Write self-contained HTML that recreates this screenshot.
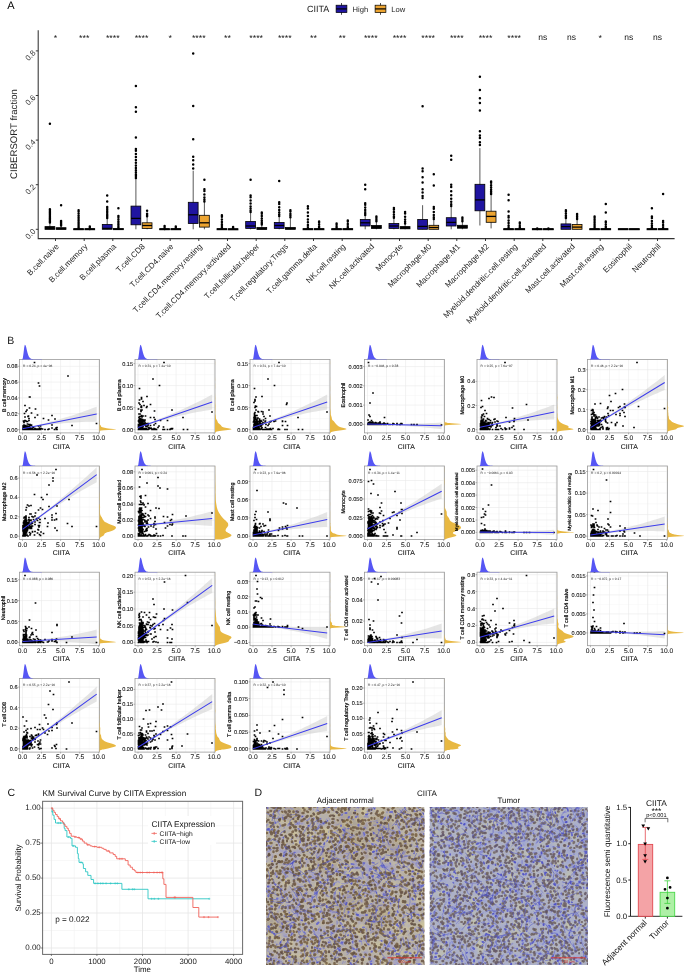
<!DOCTYPE html><html><head><meta charset="utf-8"><style>html,body{margin:0;padding:0;background:#fff;width:685px;height:974px;overflow:hidden}svg{display:block;will-change:transform}text{font-family:"Liberation Sans",sans-serif;text-rendering:geometricPrecision}</style></head><body><svg width="685" height="974" viewBox="0 0 685 974"><rect width="685" height="974" fill="#fff"/><text x="7.2" y="8.8" font-size="11" fill="#000">A</text><text x="307" y="12" font-size="9" fill="#222">CIITA</text><line x1="341.5" y1="3" x2="341.5" y2="14.8" stroke="#000" stroke-width="0.7"/><rect x="336.1" y="5.2" width="10.8" height="7.4" fill="#1f14a0" stroke="#000" stroke-width="0.7"/><line x1="336.1" y1="8.9" x2="346.90000000000003" y2="8.9" stroke="#000" stroke-width="1.2"/><line x1="380.5" y1="3" x2="380.5" y2="14.8" stroke="#000" stroke-width="0.7"/><rect x="375.1" y="5.2" width="10.8" height="7.4" fill="#eca431" stroke="#000" stroke-width="0.7"/><line x1="375.1" y1="8.9" x2="385.90000000000003" y2="8.9" stroke="#000" stroke-width="1.2"/><text x="352.6" y="11.6" font-size="7.6" fill="#222">High</text><text x="391.3" y="11.6" font-size="7.6" fill="#222">Low</text><path d="M38.2 30.3V238.6H674.6" fill="none" stroke="#333" stroke-width="1.05"/><line x1="35.8" y1="229.3" x2="38.2" y2="229.3" stroke="#222" stroke-width="0.9"/><text transform="translate(36.2,231.9) rotate(-45)" text-anchor="end" font-size="7.9" fill="#333">0.0</text><line x1="35.8" y1="184.7" x2="38.2" y2="184.7" stroke="#222" stroke-width="0.9"/><text transform="translate(36.2,187.3) rotate(-45)" text-anchor="end" font-size="7.9" fill="#333">0.2</text><line x1="35.8" y1="140.1" x2="38.2" y2="140.1" stroke="#222" stroke-width="0.9"/><text transform="translate(36.2,142.7) rotate(-45)" text-anchor="end" font-size="7.9" fill="#333">0.4</text><line x1="35.8" y1="95.5" x2="38.2" y2="95.5" stroke="#222" stroke-width="0.9"/><text transform="translate(36.2,98.1) rotate(-45)" text-anchor="end" font-size="7.9" fill="#333">0.6</text><line x1="35.8" y1="50.9" x2="38.2" y2="50.9" stroke="#222" stroke-width="0.9"/><text transform="translate(36.2,53.5) rotate(-45)" text-anchor="end" font-size="7.9" fill="#333">0.8</text><text transform="translate(17.2,134) rotate(-90)" text-anchor="middle" font-size="9.6" fill="#222">CIBERSORT fraction</text><line x1="55.5" y1="238.6" x2="55.5" y2="241" stroke="#222" stroke-width="0.9"/><text transform="translate(59.3,247) rotate(-45)" text-anchor="end" font-size="8.05" fill="#222">B.cell.naive</text><text x="55.5" y="40.8" text-anchor="middle" font-size="8.8" fill="#111">*</text><line x1="49.9" y1="222.6" x2="49.9" y2="229.3" stroke="#111" stroke-width="0.7"/><rect x="45.0" y="226.6" width="9.8" height="2.7" fill="#000" stroke="#000" stroke-width="0.8"/><line x1="45.0" y1="228.6" x2="54.8" y2="228.6" stroke="#000" stroke-width="1.3"/><line x1="61.1" y1="225.5" x2="61.1" y2="229.3" stroke="#111" stroke-width="0.7"/><rect x="56.2" y="227.7" width="9.8" height="1.6" fill="#000" stroke="#000" stroke-width="0.8"/><line x1="56.2" y1="228.9" x2="66.0" y2="228.9" stroke="#000" stroke-width="1.3"/><line x1="84.2" y1="238.6" x2="84.2" y2="241" stroke="#222" stroke-width="0.9"/><text transform="translate(88.0,247) rotate(-45)" text-anchor="end" font-size="8.05" fill="#222">B.cell.memory</text><text x="84.2" y="40.8" text-anchor="middle" font-size="8.8" fill="#111">***</text><line x1="78.6" y1="228.9" x2="78.6" y2="229.3" stroke="#111" stroke-width="0.7"/><rect x="73.7" y="228.6" width="9.8" height="1.2" fill="#000" stroke="#000" stroke-width="0.8"/><line x1="73.7" y1="229.3" x2="83.5" y2="229.3" stroke="#000" stroke-width="1.3"/><line x1="89.8" y1="229.1" x2="89.8" y2="229.3" stroke="#111" stroke-width="0.7"/><rect x="84.9" y="228.6" width="9.8" height="1.2" fill="#000" stroke="#000" stroke-width="0.8"/><line x1="84.9" y1="229.3" x2="94.7" y2="229.3" stroke="#000" stroke-width="1.3"/><line x1="112.8" y1="238.6" x2="112.8" y2="241" stroke="#222" stroke-width="0.9"/><text transform="translate(116.6,247) rotate(-45)" text-anchor="end" font-size="8.05" fill="#222">B.cell.plasma</text><text x="112.8" y="40.8" text-anchor="middle" font-size="8.8" fill="#111">****</text><line x1="107.2" y1="218.2" x2="107.2" y2="229.3" stroke="#111" stroke-width="0.7"/><rect x="102.3" y="224.4" width="9.8" height="4.9" fill="#1f14a0" stroke="#000" stroke-width="0.8"/><line x1="102.3" y1="228.4" x2="112.1" y2="228.4" stroke="#000" stroke-width="1.3"/><line x1="118.4" y1="228.2" x2="118.4" y2="229.3" stroke="#111" stroke-width="0.7"/><rect x="113.5" y="228.5" width="9.8" height="1.2" fill="#000" stroke="#000" stroke-width="0.8"/><line x1="113.5" y1="229.3" x2="123.3" y2="229.3" stroke="#000" stroke-width="1.3"/><line x1="141.5" y1="238.6" x2="141.5" y2="241" stroke="#222" stroke-width="0.9"/><text transform="translate(145.3,247) rotate(-45)" text-anchor="end" font-size="8.05" fill="#222">T.cell.CD8</text><text x="141.5" y="40.8" text-anchor="middle" font-size="8.8" fill="#111">****</text><line x1="135.9" y1="178.2" x2="135.9" y2="229.3" stroke="#111" stroke-width="0.7"/><rect x="131.0" y="206.1" width="9.8" height="18.7" fill="#1f14a0" stroke="#000" stroke-width="0.8"/><line x1="131.0" y1="218.4" x2="140.8" y2="218.4" stroke="#000" stroke-width="1.3"/><line x1="147.1" y1="216.4" x2="147.1" y2="229.3" stroke="#111" stroke-width="0.7"/><rect x="142.2" y="222.8" width="9.8" height="5.6" fill="#eca431" stroke="#000" stroke-width="0.8"/><line x1="142.2" y1="225.5" x2="152.0" y2="225.5" stroke="#000" stroke-width="1.3"/><line x1="170.2" y1="238.6" x2="170.2" y2="241" stroke="#222" stroke-width="0.9"/><text transform="translate(174.0,247) rotate(-45)" text-anchor="end" font-size="8.05" fill="#222">T.cell.CD4.naive</text><text x="170.2" y="40.8" text-anchor="middle" font-size="8.8" fill="#111">*</text><line x1="164.6" y1="229.1" x2="164.6" y2="229.3" stroke="#111" stroke-width="0.7"/><rect x="159.7" y="228.6" width="9.8" height="1.2" fill="#000" stroke="#000" stroke-width="0.8"/><line x1="159.7" y1="229.3" x2="169.5" y2="229.3" stroke="#000" stroke-width="1.3"/><line x1="175.8" y1="229.1" x2="175.8" y2="229.3" stroke="#111" stroke-width="0.7"/><rect x="170.9" y="228.6" width="9.8" height="1.2" fill="#000" stroke="#000" stroke-width="0.8"/><line x1="170.9" y1="229.3" x2="180.7" y2="229.3" stroke="#000" stroke-width="1.3"/><line x1="198.8" y1="238.6" x2="198.8" y2="241" stroke="#222" stroke-width="0.9"/><text transform="translate(202.6,247) rotate(-45)" text-anchor="end" font-size="8.05" fill="#222">T.cell.CD4.memory.resting</text><text x="198.8" y="40.8" text-anchor="middle" font-size="8.8" fill="#111">****</text><line x1="193.2" y1="170.7" x2="193.2" y2="229.3" stroke="#111" stroke-width="0.7"/><rect x="188.3" y="202.3" width="9.8" height="21.2" fill="#1f14a0" stroke="#000" stroke-width="0.8"/><line x1="188.3" y1="214.8" x2="198.1" y2="214.8" stroke="#000" stroke-width="1.3"/><line x1="204.4" y1="201.9" x2="204.4" y2="229.3" stroke="#111" stroke-width="0.7"/><rect x="199.5" y="215.3" width="9.8" height="11.8" fill="#eca431" stroke="#000" stroke-width="0.8"/><line x1="199.5" y1="222.8" x2="209.3" y2="222.8" stroke="#000" stroke-width="1.3"/><line x1="227.5" y1="238.6" x2="227.5" y2="241" stroke="#222" stroke-width="0.9"/><text transform="translate(231.3,247) rotate(-45)" text-anchor="end" font-size="8.05" fill="#222">T.cell.CD4.memory.activated</text><text x="227.5" y="40.8" text-anchor="middle" font-size="8.8" fill="#111">**</text><line x1="221.9" y1="229.1" x2="221.9" y2="229.3" stroke="#111" stroke-width="0.7"/><rect x="217.0" y="228.6" width="9.8" height="1.2" fill="#000" stroke="#000" stroke-width="0.8"/><line x1="217.0" y1="229.3" x2="226.8" y2="229.3" stroke="#000" stroke-width="1.3"/><line x1="233.1" y1="229.1" x2="233.1" y2="229.3" stroke="#111" stroke-width="0.7"/><rect x="228.2" y="228.7" width="9.8" height="1.2" fill="#000" stroke="#000" stroke-width="0.8"/><line x1="228.2" y1="229.3" x2="238.0" y2="229.3" stroke="#000" stroke-width="1.3"/><line x1="256.2" y1="238.6" x2="256.2" y2="241" stroke="#222" stroke-width="0.9"/><text transform="translate(260.0,247) rotate(-45)" text-anchor="end" font-size="8.05" fill="#222">T.cell.follicular.helper</text><text x="256.2" y="40.8" text-anchor="middle" font-size="8.8" fill="#111">****</text><line x1="250.6" y1="212.4" x2="250.6" y2="229.3" stroke="#111" stroke-width="0.7"/><rect x="245.7" y="221.5" width="9.8" height="6.9" fill="#1f14a0" stroke="#000" stroke-width="0.8"/><line x1="245.7" y1="226.0" x2="255.5" y2="226.0" stroke="#000" stroke-width="1.3"/><line x1="261.8" y1="224.8" x2="261.8" y2="229.3" stroke="#111" stroke-width="0.7"/><rect x="256.9" y="227.5" width="9.8" height="1.8" fill="#000" stroke="#000" stroke-width="0.8"/><line x1="256.9" y1="228.9" x2="266.7" y2="228.9" stroke="#000" stroke-width="1.3"/><line x1="284.8" y1="238.6" x2="284.8" y2="241" stroke="#222" stroke-width="0.9"/><text transform="translate(288.6,247) rotate(-45)" text-anchor="end" font-size="8.05" fill="#222">T.cell.regulatory.Tregs</text><text x="284.8" y="40.8" text-anchor="middle" font-size="8.8" fill="#111">****</text><line x1="279.2" y1="216.4" x2="279.2" y2="229.3" stroke="#111" stroke-width="0.7"/><rect x="274.3" y="222.4" width="9.8" height="6.0" fill="#1f14a0" stroke="#000" stroke-width="0.8"/><line x1="274.3" y1="225.5" x2="284.1" y2="225.5" stroke="#000" stroke-width="1.3"/><line x1="290.4" y1="217.5" x2="290.4" y2="229.3" stroke="#111" stroke-width="0.7"/><rect x="285.5" y="227.5" width="9.8" height="1.8" fill="#000" stroke="#000" stroke-width="0.8"/><line x1="285.5" y1="228.6" x2="295.3" y2="228.6" stroke="#000" stroke-width="1.3"/><line x1="313.5" y1="238.6" x2="313.5" y2="241" stroke="#222" stroke-width="0.9"/><text transform="translate(317.3,247) rotate(-45)" text-anchor="end" font-size="8.05" fill="#222">T.cell.gamma.delta</text><text x="313.5" y="40.8" text-anchor="middle" font-size="8.8" fill="#111">**</text><line x1="307.9" y1="228.9" x2="307.9" y2="229.3" stroke="#111" stroke-width="0.7"/><rect x="303.0" y="228.6" width="9.8" height="1.2" fill="#000" stroke="#000" stroke-width="0.8"/><line x1="303.0" y1="229.3" x2="312.8" y2="229.3" stroke="#000" stroke-width="1.3"/><line x1="319.1" y1="229.1" x2="319.1" y2="229.3" stroke="#111" stroke-width="0.7"/><rect x="314.2" y="228.6" width="9.8" height="1.2" fill="#000" stroke="#000" stroke-width="0.8"/><line x1="314.2" y1="229.3" x2="324.0" y2="229.3" stroke="#000" stroke-width="1.3"/><line x1="342.2" y1="238.6" x2="342.2" y2="241" stroke="#222" stroke-width="0.9"/><text transform="translate(346.0,247) rotate(-45)" text-anchor="end" font-size="8.05" fill="#222">NK.cell.resting</text><text x="342.2" y="40.8" text-anchor="middle" font-size="8.8" fill="#111">**</text><line x1="336.6" y1="228.9" x2="336.6" y2="229.3" stroke="#111" stroke-width="0.7"/><rect x="331.7" y="228.6" width="9.8" height="1.2" fill="#000" stroke="#000" stroke-width="0.8"/><line x1="331.7" y1="229.3" x2="341.5" y2="229.3" stroke="#000" stroke-width="1.3"/><line x1="347.8" y1="228.9" x2="347.8" y2="229.3" stroke="#111" stroke-width="0.7"/><rect x="342.9" y="228.6" width="9.8" height="1.2" fill="#000" stroke="#000" stroke-width="0.8"/><line x1="342.9" y1="229.3" x2="352.7" y2="229.3" stroke="#000" stroke-width="1.3"/><line x1="370.8" y1="238.6" x2="370.8" y2="241" stroke="#222" stroke-width="0.9"/><text transform="translate(374.6,247) rotate(-45)" text-anchor="end" font-size="8.05" fill="#222">NK.cell.activated</text><text x="370.8" y="40.8" text-anchor="middle" font-size="8.8" fill="#111">****</text><line x1="365.2" y1="215.3" x2="365.2" y2="229.3" stroke="#111" stroke-width="0.7"/><rect x="360.3" y="219.5" width="9.8" height="6.5" fill="#1f14a0" stroke="#000" stroke-width="0.8"/><line x1="360.3" y1="222.8" x2="370.1" y2="222.8" stroke="#000" stroke-width="1.3"/><line x1="376.4" y1="221.5" x2="376.4" y2="229.3" stroke="#111" stroke-width="0.7"/><rect x="371.5" y="225.5" width="9.8" height="2.9" fill="#000" stroke="#000" stroke-width="0.8"/><line x1="371.5" y1="227.5" x2="381.3" y2="227.5" stroke="#000" stroke-width="1.3"/><line x1="399.5" y1="238.6" x2="399.5" y2="241" stroke="#222" stroke-width="0.9"/><text transform="translate(403.3,247) rotate(-45)" text-anchor="end" font-size="8.05" fill="#222">Monocyte</text><text x="399.5" y="40.8" text-anchor="middle" font-size="8.8" fill="#111">****</text><line x1="393.9" y1="218.2" x2="393.9" y2="229.3" stroke="#111" stroke-width="0.7"/><rect x="389.0" y="223.5" width="9.8" height="4.9" fill="#1f14a0" stroke="#000" stroke-width="0.8"/><line x1="389.0" y1="226.0" x2="398.8" y2="226.0" stroke="#000" stroke-width="1.3"/><line x1="405.1" y1="223.7" x2="405.1" y2="229.3" stroke="#111" stroke-width="0.7"/><rect x="400.2" y="226.6" width="9.8" height="2.2" fill="#000" stroke="#000" stroke-width="0.8"/><line x1="400.2" y1="228.0" x2="410.0" y2="228.0" stroke="#000" stroke-width="1.3"/><line x1="428.2" y1="238.6" x2="428.2" y2="241" stroke="#222" stroke-width="0.9"/><text transform="translate(432.0,247) rotate(-45)" text-anchor="end" font-size="8.05" fill="#222">Macrophage.M0</text><text x="428.2" y="40.8" text-anchor="middle" font-size="8.8" fill="#111">****</text><line x1="422.6" y1="205.2" x2="422.6" y2="229.3" stroke="#111" stroke-width="0.7"/><rect x="417.7" y="219.5" width="9.8" height="9.8" fill="#1f14a0" stroke="#000" stroke-width="0.8"/><line x1="417.7" y1="226.4" x2="427.5" y2="226.4" stroke="#000" stroke-width="1.3"/><line x1="433.8" y1="219.3" x2="433.8" y2="229.3" stroke="#111" stroke-width="0.7"/><rect x="428.9" y="225.3" width="9.8" height="4.0" fill="#eca431" stroke="#000" stroke-width="0.8"/><line x1="428.9" y1="227.5" x2="438.7" y2="227.5" stroke="#000" stroke-width="1.3"/><line x1="456.8" y1="238.6" x2="456.8" y2="241" stroke="#222" stroke-width="0.9"/><text transform="translate(460.6,247) rotate(-45)" text-anchor="end" font-size="8.05" fill="#222">Macrophage.M1</text><text x="456.8" y="40.8" text-anchor="middle" font-size="8.8" fill="#111">****</text><line x1="451.2" y1="206.3" x2="451.2" y2="229.3" stroke="#111" stroke-width="0.7"/><rect x="446.3" y="217.7" width="9.8" height="8.3" fill="#1f14a0" stroke="#000" stroke-width="0.8"/><line x1="446.3" y1="222.4" x2="456.1" y2="222.4" stroke="#000" stroke-width="1.3"/><line x1="462.4" y1="221.5" x2="462.4" y2="229.3" stroke="#111" stroke-width="0.7"/><rect x="457.5" y="225.3" width="9.8" height="2.9" fill="#000" stroke="#000" stroke-width="0.8"/><line x1="457.5" y1="227.1" x2="467.3" y2="227.1" stroke="#000" stroke-width="1.3"/><line x1="485.5" y1="238.6" x2="485.5" y2="241" stroke="#222" stroke-width="0.9"/><text transform="translate(489.3,247) rotate(-45)" text-anchor="end" font-size="8.05" fill="#222">Macrophage.M2</text><text x="485.5" y="40.8" text-anchor="middle" font-size="8.8" fill="#111">****</text><line x1="479.9" y1="148.1" x2="479.9" y2="225.5" stroke="#111" stroke-width="0.7"/><rect x="475.0" y="184.3" width="9.8" height="26.5" fill="#1f14a0" stroke="#000" stroke-width="0.8"/><line x1="475.0" y1="199.9" x2="484.8" y2="199.9" stroke="#000" stroke-width="1.3"/><line x1="491.1" y1="194.3" x2="491.1" y2="228.4" stroke="#111" stroke-width="0.7"/><rect x="486.2" y="211.2" width="9.8" height="11.1" fill="#eca431" stroke="#000" stroke-width="0.8"/><line x1="486.2" y1="216.4" x2="496.0" y2="216.4" stroke="#000" stroke-width="1.3"/><line x1="514.2" y1="238.6" x2="514.2" y2="241" stroke="#222" stroke-width="0.9"/><text transform="translate(518.0,247) rotate(-45)" text-anchor="end" font-size="8.05" fill="#222">Myeloid.dendritic.cell.resting</text><text x="514.2" y="40.8" text-anchor="middle" font-size="8.8" fill="#111">****</text><line x1="508.6" y1="228.9" x2="508.6" y2="229.3" stroke="#111" stroke-width="0.7"/><rect x="503.7" y="228.6" width="9.8" height="1.2" fill="#000" stroke="#000" stroke-width="0.8"/><line x1="503.7" y1="229.3" x2="513.5" y2="229.3" stroke="#000" stroke-width="1.3"/><line x1="519.8" y1="229.1" x2="519.8" y2="229.3" stroke="#111" stroke-width="0.7"/><rect x="514.9" y="228.6" width="9.8" height="1.2" fill="#000" stroke="#000" stroke-width="0.8"/><line x1="514.9" y1="229.3" x2="524.7" y2="229.3" stroke="#000" stroke-width="1.3"/><line x1="542.8" y1="238.6" x2="542.8" y2="241" stroke="#222" stroke-width="0.9"/><text transform="translate(546.6,247) rotate(-45)" text-anchor="end" font-size="8.05" fill="#222">Myeloid.dendritic.cell.activated</text><text x="542.8" y="39.9" text-anchor="middle" font-size="8.5" fill="#111">ns</text><line x1="537.2" y1="229.1" x2="537.2" y2="229.3" stroke="#111" stroke-width="0.7"/><rect x="532.3" y="228.6" width="9.8" height="1.2" fill="#000" stroke="#000" stroke-width="0.8"/><line x1="532.3" y1="229.3" x2="542.1" y2="229.3" stroke="#000" stroke-width="1.3"/><line x1="548.4" y1="229.1" x2="548.4" y2="229.3" stroke="#111" stroke-width="0.7"/><rect x="543.5" y="228.6" width="9.8" height="1.2" fill="#000" stroke="#000" stroke-width="0.8"/><line x1="543.5" y1="229.3" x2="553.3" y2="229.3" stroke="#000" stroke-width="1.3"/><line x1="571.5" y1="238.6" x2="571.5" y2="241" stroke="#222" stroke-width="0.9"/><text transform="translate(575.3,247) rotate(-45)" text-anchor="end" font-size="8.05" fill="#222">Mast.cell.activated</text><text x="571.5" y="39.9" text-anchor="middle" font-size="8.5" fill="#111">ns</text><line x1="565.9" y1="218.2" x2="565.9" y2="229.3" stroke="#111" stroke-width="0.7"/><rect x="561.0" y="223.9" width="9.8" height="5.4" fill="#1f14a0" stroke="#000" stroke-width="0.8"/><line x1="561.0" y1="226.6" x2="570.8" y2="226.6" stroke="#000" stroke-width="1.3"/><line x1="577.1" y1="219.3" x2="577.1" y2="229.3" stroke="#111" stroke-width="0.7"/><rect x="572.2" y="224.4" width="9.8" height="4.9" fill="#eca431" stroke="#000" stroke-width="0.8"/><line x1="572.2" y1="227.1" x2="582.0" y2="227.1" stroke="#000" stroke-width="1.3"/><line x1="600.2" y1="238.6" x2="600.2" y2="241" stroke="#222" stroke-width="0.9"/><text transform="translate(604.0,247) rotate(-45)" text-anchor="end" font-size="8.05" fill="#222">Mast.cell.resting</text><text x="600.2" y="40.8" text-anchor="middle" font-size="8.8" fill="#111">*</text><line x1="594.6" y1="228.6" x2="594.6" y2="229.3" stroke="#111" stroke-width="0.7"/><rect x="589.7" y="228.6" width="9.8" height="1.2" fill="#000" stroke="#000" stroke-width="0.8"/><line x1="589.7" y1="229.3" x2="599.5" y2="229.3" stroke="#000" stroke-width="1.3"/><line x1="605.8" y1="229.1" x2="605.8" y2="229.3" stroke="#111" stroke-width="0.7"/><rect x="600.9" y="228.6" width="9.8" height="1.2" fill="#000" stroke="#000" stroke-width="0.8"/><line x1="600.9" y1="229.3" x2="610.7" y2="229.3" stroke="#000" stroke-width="1.3"/><line x1="628.8" y1="238.6" x2="628.8" y2="241" stroke="#222" stroke-width="0.9"/><text transform="translate(632.6,247) rotate(-45)" text-anchor="end" font-size="8.05" fill="#222">Eosinophil</text><text x="628.8" y="39.9" text-anchor="middle" font-size="8.5" fill="#111">ns</text><line x1="623.2" y1="229.1" x2="623.2" y2="229.3" stroke="#111" stroke-width="0.7"/><rect x="618.3" y="228.6" width="9.8" height="1.2" fill="#000" stroke="#000" stroke-width="0.8"/><line x1="618.3" y1="229.3" x2="628.1" y2="229.3" stroke="#000" stroke-width="1.3"/><line x1="634.4" y1="229.1" x2="634.4" y2="229.3" stroke="#111" stroke-width="0.7"/><rect x="629.5" y="228.6" width="9.8" height="1.2" fill="#000" stroke="#000" stroke-width="0.8"/><line x1="629.5" y1="229.3" x2="639.3" y2="229.3" stroke="#000" stroke-width="1.3"/><line x1="657.5" y1="238.6" x2="657.5" y2="241" stroke="#222" stroke-width="0.9"/><text transform="translate(661.3,247) rotate(-45)" text-anchor="end" font-size="8.05" fill="#222">Neutrophil</text><text x="657.5" y="39.9" text-anchor="middle" font-size="8.5" fill="#111">ns</text><line x1="651.9" y1="228.9" x2="651.9" y2="229.3" stroke="#111" stroke-width="0.7"/><rect x="647.0" y="228.6" width="9.8" height="1.2" fill="#000" stroke="#000" stroke-width="0.8"/><line x1="647.0" y1="229.3" x2="656.8" y2="229.3" stroke="#000" stroke-width="1.3"/><line x1="663.1" y1="228.9" x2="663.1" y2="229.3" stroke="#111" stroke-width="0.7"/><rect x="658.2" y="228.6" width="9.8" height="1.2" fill="#000" stroke="#000" stroke-width="0.8"/><line x1="658.2" y1="229.3" x2="668.0" y2="229.3" stroke="#000" stroke-width="1.3"/><path d="M49.9 123.8h0M49.9 222.5h0M49.9 222.2h0M49.9 221.7h0M49.9 221.1h0M49.9 220.4h0M49.9 219.6h0M49.9 218.8h0M49.9 217.9h0M49.9 216.9h0M49.9 215.9h0M49.9 214.8h0M49.9 213.6h0M49.9 212.4h0M49.9 211.2h0M49.9 209.9h0M49.9 209.2h0M61.1 205.2h0M61.1 225.4h0M61.1 225.0h0M61.1 224.3h0M61.1 223.5h0M61.1 222.6h0M61.1 221.6h0M61.1 221.0h0M78.6 228.7h0M78.6 228.1h0M78.6 227.3h0M78.6 226.3h0M78.6 225.1h0M78.6 223.8h0M78.6 222.3h0M78.6 220.7h0M78.6 219.1h0M78.6 217.3h0M78.6 215.4h0M78.6 213.5h0M78.6 211.4h0M78.6 210.3h0M89.8 228.9h0M89.8 228.1h0M89.8 227.0h0M89.8 226.4h0M107.2 201.4h0M107.2 195.4h0M107.2 218.0h0M107.2 217.4h0M107.2 216.5h0M107.2 215.4h0M107.2 214.2h0M107.2 212.8h0M107.2 211.3h0M107.2 209.7h0M107.2 207.9h0M107.2 207.0h0M118.4 208.3h0M118.4 228.0h0M118.4 227.2h0M118.4 226.0h0M118.4 224.6h0M118.4 223.0h0M118.4 221.2h0M118.4 219.2h0M118.4 217.1h0M118.4 215.9h0M135.9 137.4h0M135.9 111.8h0M135.9 107.3h0M135.9 86.1h0M135.9 178.0h0M135.9 177.1h0M135.9 175.8h0M135.9 174.2h0M135.9 172.3h0M135.9 170.2h0M135.9 167.9h0M135.9 165.4h0M135.9 162.8h0M135.9 160.0h0M135.9 157.0h0M135.9 153.9h0M135.9 150.7h0M135.9 149.0h0M147.1 210.8h0M147.1 216.2h0M147.1 215.4h0M147.1 214.3h0M147.1 213.7h0M164.6 228.9h0M164.6 228.0h0M164.6 226.7h0M164.6 226.0h0M175.8 228.8h0M175.8 227.5h0M175.8 226.6h0M193.2 168.6h0M193.2 164.6h0M193.2 160.2h0M193.2 156.8h0M193.2 139.2h0M193.2 106.0h0M193.2 53.6h0M204.4 179.8h0M204.4 201.5h0M204.4 199.8h0M204.4 197.4h0M204.4 194.4h0M204.4 191.0h0M204.4 189.2h0M221.9 228.8h0M221.9 227.7h0M221.9 226.1h0M221.9 224.2h0M221.9 222.0h0M221.9 219.4h0M221.9 216.7h0M221.9 215.3h0M233.1 228.8h0M233.1 227.8h0M233.1 227.1h0M250.6 179.8h0M250.6 212.0h0M250.6 210.7h0M250.6 208.7h0M250.6 206.4h0M250.6 203.6h0M250.6 200.5h0M250.6 197.2h0M250.6 195.4h0M261.8 224.6h0M261.8 223.6h0M261.8 222.2h0M261.8 220.4h0M261.8 218.4h0M261.8 216.1h0M261.8 213.7h0M261.8 212.4h0M279.2 180.9h0M279.2 216.0h0M279.2 214.6h0M279.2 212.6h0M279.2 210.1h0M279.2 207.2h0M279.2 204.0h0M279.2 202.3h0M290.4 217.2h0M290.4 215.8h0M290.4 214.0h0M290.4 211.6h0M290.4 210.3h0M307.9 228.5h0M307.9 227.0h0M307.9 224.9h0M307.9 222.3h0M307.9 219.4h0M307.9 216.0h0M307.9 212.4h0M307.9 208.4h0M307.9 206.3h0M319.1 228.8h0M319.1 227.8h0M319.1 226.4h0M319.1 224.6h0M319.1 222.6h0M319.1 221.5h0M336.6 228.6h0M336.6 227.6h0M336.6 226.2h0M336.6 224.5h0M336.6 223.5h0M347.8 228.6h0M347.8 227.5h0M347.8 225.9h0M347.8 223.9h0M347.8 221.6h0M347.8 220.4h0M365.2 189.2h0M365.2 184.7h0M365.2 215.0h0M365.2 213.7h0M365.2 212.0h0M365.2 209.9h0M365.2 207.4h0M365.2 204.7h0M365.2 203.2h0M376.4 221.3h0M376.4 220.3h0M376.4 219.0h0M376.4 217.3h0M376.4 216.4h0M393.9 217.8h0M393.9 216.5h0M393.9 214.5h0M393.9 212.1h0M393.9 209.4h0M393.9 207.9h0M405.1 223.4h0M405.1 221.8h0M405.1 219.5h0M405.1 216.8h0M405.1 213.6h0M405.1 211.9h0M422.6 198.1h0M422.6 195.9h0M422.6 192.5h0M422.6 189.2h0M422.6 182.5h0M422.6 177.3h0M422.6 171.3h0M422.6 168.4h0M422.6 106.2h0M433.8 185.4h0M433.8 174.2h0M433.8 218.9h0M433.8 217.2h0M433.8 214.9h0M433.8 212.1h0M433.8 208.8h0M433.8 207.0h0M451.2 159.7h0M451.2 155.7h0M451.2 205.9h0M451.2 204.2h0M451.2 201.7h0M451.2 198.7h0M451.2 195.2h0M451.2 191.3h0M451.2 187.0h0M451.2 184.7h0M462.4 221.2h0M462.4 220.1h0M462.4 218.4h0M462.4 217.5h0M479.9 145.0h0M479.9 142.3h0M479.9 137.9h0M479.9 135.6h0M479.9 131.2h0M479.9 110.4h0M479.9 103.1h0M479.9 98.2h0M479.9 90.1h0M479.9 76.8h0M491.1 194.0h0M491.1 193.0h0M491.1 191.5h0M491.1 189.7h0M491.1 187.6h0M491.1 185.3h0M491.1 182.7h0M491.1 181.4h0M508.6 211.5h0M508.6 200.3h0M508.6 194.7h0M508.6 228.5h0M508.6 227.2h0M508.6 225.4h0M508.6 223.1h0M508.6 220.5h0M508.6 217.5h0M508.6 215.9h0M519.8 228.8h0M519.8 227.6h0M519.8 225.9h0M519.8 223.8h0M519.8 222.6h0M537.2 229.0h0M537.2 228.6h0M537.2 228.4h0M548.4 229.0h0M548.4 228.6h0M548.4 228.4h0M565.9 217.9h0M565.9 216.9h0M565.9 215.4h0M565.9 213.6h0M565.9 211.5h0M565.9 210.3h0M577.1 219.0h0M577.1 218.0h0M577.1 216.6h0M577.1 214.9h0M577.1 213.9h0M594.6 228.5h0M594.6 227.8h0M594.6 226.8h0M594.6 225.7h0M594.6 224.3h0M594.6 222.8h0M594.6 221.1h0M594.6 219.3h0M594.6 217.4h0M594.6 216.4h0M605.8 212.4h0M605.8 203.9h0M605.8 228.8h0M605.8 227.8h0M605.8 226.4h0M605.8 224.6h0M605.8 222.6h0M605.8 221.5h0M651.9 208.3h0M651.9 228.6h0M651.9 227.3h0M651.9 225.6h0M651.9 223.4h0M651.9 220.9h0M651.9 218.1h0M651.9 216.6h0M663.1 194.1h0M663.1 228.5h0M663.1 227.1h0M663.1 225.0h0M663.1 222.5h0M663.1 221.0h0" stroke="#000" stroke-width="2.5" stroke-linecap="round"/><text x="7.3" y="344" font-size="10.5" fill="#111">B</text><rect x="19.5" y="359.4" width="80.0" height="73.5" fill="#fff"/><path d="M32.0 359.4V432.9M51.1 359.4V432.9M70.1 359.4V432.9M89.2 359.4V432.9M19.5 421.7H99.5M19.5 405.8H99.5M19.5 390.0H99.5M19.5 374.2H99.5" stroke="#f4f4f4" stroke-width="0.5"/><path d="M22.5 359.4V432.9M41.5 359.4V432.9M60.6 359.4V432.9M79.7 359.4V432.9M98.7 359.4V432.9M19.5 429.6H99.5M19.5 413.7H99.5M19.5 397.9H99.5M19.5 382.1H99.5M19.5 366.3H99.5" stroke="#e9e9e9" stroke-width="0.6"/><path d="M22.5 427.9L26.2 427.2L29.9 426.5L33.6 425.7L37.3 424.9L41.0 424.1L44.7 423.2L48.4 422.2L52.2 421.3L55.9 420.3L59.6 419.2L63.3 418.1L67.0 417.0L70.7 415.9L74.4 414.7L78.1 413.4L81.8 412.2L85.5 410.8L89.3 409.5L93.0 408.1L96.7 406.7L96.7 421.6L93.0 421.7L89.3 421.7L85.5 421.8L81.8 422.0L78.1 422.2L74.4 422.4L70.7 422.7L67.0 423.0L63.3 423.3L59.6 423.7L55.9 424.1L52.2 424.6L48.4 425.1L44.7 425.6L41.0 426.2L37.3 426.8L33.6 427.4L29.9 428.1L26.2 428.8L22.5 429.6Z" fill="#b4b4b4" fill-opacity="0.35"/><path transform="scale(0.5)" d="M46 859h0M48 850h0M49 857h0M49 858h0M50 859h0M49 859h0M52 859h0M47 858h0M114 855h0M49 854h0M52 856h0M51 856h0M48 855h0M48 857h0M48 859h0M48 855h0M110 838h0M87 837h0M53 859h0M47 859h0M55 858h0M78 859h0M64 859h0M96 859h0M47 853h0M65 857h0M52 857h0M55 859h0M51 859h0M77 859h0M52 858h0M49 858h0M49 827h0M90 859h0M49 858h0M53 859h0M46 857h0M53 855h0M52 857h0M77 852h0M62 858h0M79 859h0M58 858h0M62 859h0M50 859h0M62 850h0M50 856h0M55 854h0M48 858h0M54 859h0M64 857h0M47 859h0M49 857h0M56 856h0M59 859h0M85 858h0M48 859h0M79 856h0M52 859h0M46 856h0M54 859h0M55 852h0M51 859h0M47 842h0M63 859h0M73 859h0M47 857h0M79 858h0M53 858h0M52 857h0M63 850h0M50 834h0M53 856h0M50 857h0M98 858h0M62 850h0M51 854h0M48 852h0M53 857h0M50 857h0M52 859h0M58 855h0M75 830h0M66 854h0M46 852h0M82 857h0M70 857h0M48 843h0M59 794h0M48 851h0M60 859h0M48 845h0M60 851h0M50 811h0M49 858h0M56 854h0M69 859h0M56 859h0M70 859h0M55 843h0M52 855h0M81 859h0M54 855h0M48 855h0M51 851h0M48 854h0M47 854h0M47 856h0M112 856h0M65 859h0M52 842h0M113 859h0M55 858h0M51 855h0M58 837h0M46 859h0M57 859h0M56 853h0M51 852h0M57 855h0M104 831h0M46 857h0M51 856h0M54 853h0M70 857h0M104 850h0M56 859h0M49 854h0M67 855h0M75 859h0M113 859h0M63 826h0M58 858h0M54 856h0M55 855h0M53 843h0M114 859h0M76 858h0M58 849h0M49 852h0M54 852h0M58 841h0M55 855h0M81 852h0M67 859h0M80 859h0M49 852h0M73 858h0M52 823h0M60 849h0M65 859h0M47 852h0M56 833h0M48 844h0M59 859h0M59 853h0M50 855h0M55 848h0M60 858h0M48 853h0M104 856h0M63 851h0M50 855h0M71 858h0M60 857h0M52 852h0M49 853h0M61 856h0M109 859h0M50 841h0M58 854h0M70 835h0M69 725h0M136 752h0M77 766h0M79 772h0M60 794h0M59 816h0M54 820h0M71 818h0M97 840h0M57 832h0M144 851h0M193 847h0" stroke="#000" stroke-width="3.4" stroke-linecap="square"/><line x1="22.5" y1="428.8" x2="96.7" y2="414.1" stroke="#3c3cec" stroke-width="1.05"/><rect x="19.5" y="359.4" width="80.0" height="73.5" fill="none" stroke="#9a9a9a" stroke-width="0.8"/><text x="23.1" y="367.0" font-size="3.3" fill="#222">R = 0.24, p = 4e−06</text><line x1="18.0" y1="429.6" x2="19.5" y2="429.6" stroke="#777" stroke-width="0.5"/><text x="17.6" y="431.6" text-anchor="end" font-size="5.6" fill="#1a1a1a" stroke="#1a1a1a" stroke-width="0.1">0.00</text><line x1="18.0" y1="413.7" x2="19.5" y2="413.7" stroke="#777" stroke-width="0.5"/><text x="17.6" y="415.7" text-anchor="end" font-size="5.6" fill="#1a1a1a" stroke="#1a1a1a" stroke-width="0.1">0.02</text><line x1="18.0" y1="397.9" x2="19.5" y2="397.9" stroke="#777" stroke-width="0.5"/><text x="17.6" y="399.9" text-anchor="end" font-size="5.6" fill="#1a1a1a" stroke="#1a1a1a" stroke-width="0.1">0.04</text><line x1="18.0" y1="382.1" x2="19.5" y2="382.1" stroke="#777" stroke-width="0.5"/><text x="17.6" y="384.1" text-anchor="end" font-size="5.6" fill="#1a1a1a" stroke="#1a1a1a" stroke-width="0.1">0.06</text><line x1="18.0" y1="366.3" x2="19.5" y2="366.3" stroke="#777" stroke-width="0.5"/><text x="17.6" y="368.3" text-anchor="end" font-size="5.6" fill="#1a1a1a" stroke="#1a1a1a" stroke-width="0.1">0.08</text><text transform="translate(6.4,395.1) rotate(-90)" text-anchor="middle" font-size="5.35" fill="#000" stroke="#000" stroke-width="0.18">B cell memory</text><line x1="22.5" y1="432.9" x2="22.5" y2="434.4" stroke="#777" stroke-width="0.5"/><text x="22.5" y="439.9" text-anchor="middle" font-size="6.7" fill="#222" stroke="#222" stroke-width="0.08">0.0</text><line x1="41.5" y1="432.9" x2="41.5" y2="434.4" stroke="#777" stroke-width="0.5"/><text x="41.5" y="439.9" text-anchor="middle" font-size="6.7" fill="#222" stroke="#222" stroke-width="0.08">2.5</text><line x1="60.6" y1="432.9" x2="60.6" y2="434.4" stroke="#777" stroke-width="0.5"/><text x="60.6" y="439.9" text-anchor="middle" font-size="6.7" fill="#222" stroke="#222" stroke-width="0.08">5.0</text><line x1="79.7" y1="432.9" x2="79.7" y2="434.4" stroke="#777" stroke-width="0.5"/><text x="79.7" y="439.9" text-anchor="middle" font-size="6.7" fill="#222" stroke="#222" stroke-width="0.08">7.5</text><line x1="98.7" y1="432.9" x2="98.7" y2="434.4" stroke="#777" stroke-width="0.5"/><text x="98.7" y="439.9" text-anchor="middle" font-size="6.7" fill="#222" stroke="#222" stroke-width="0.08">10.0</text><text x="61.3" y="448.5" text-anchor="middle" font-size="6.9" fill="#111" stroke="#111" stroke-width="0.1">CIITA</text><path d="M19.5 359.4L19.5 359.4L20.2 359.4L20.8 359.4L21.5 359.4L22.2 359.3L22.8 358.2L23.5 353.2L24.2 347.5L24.8 344.7L25.5 345.2L26.2 347.2L26.8 350.1L27.5 352.8L28.2 355.0L28.8 356.5L29.5 357.5L30.2 358.2L30.8 358.6L31.5 358.9L32.2 359.0L32.8 359.1L33.5 359.2L34.2 359.2L34.8 359.2L35.5 359.3L36.2 359.3L36.8 359.3L37.5 359.3L38.2 359.3L38.8 359.3L39.5 359.3L40.2 359.3L40.8 359.3L41.5 359.3L42.2 359.4L42.8 359.4L43.5 359.4L44.2 359.4L44.8 359.4L45.5 359.4L46.2 359.4L46.8 359.4L47.5 359.4L48.2 359.4L48.8 359.4L49.5 359.4L50.2 359.4L50.8 359.4L51.5 359.4L52.2 359.4L52.8 359.4L53.5 359.4L54.2 359.4L54.8 359.4L55.5 359.4L56.2 359.4L56.8 359.4L57.5 359.4L58.2 359.4L58.8 359.4L59.5 359.4L60.2 359.4L60.8 359.4L61.5 359.4L62.2 359.4L62.8 359.4L63.5 359.4L64.2 359.4L64.8 359.4L65.5 359.4L66.2 359.4L66.8 359.4L67.5 359.4L68.2 359.4L68.8 359.4L69.5 359.4L70.2 359.4L70.8 359.4L71.5 359.4L72.2 359.4L72.8 359.4L73.5 359.4L74.2 359.4L74.8 359.4L75.5 359.4L76.2 359.4L76.8 359.4L77.5 359.4L78.2 359.4L78.8 359.4L79.5 359.4L80.2 359.4L80.8 359.4L81.5 359.4L82.2 359.4L82.8 359.4L83.5 359.4L84.2 359.4L84.8 359.4L85.5 359.4L86.2 359.4L86.8 359.4L87.5 359.4L88.2 359.4L88.8 359.4L89.5 359.4L90.2 359.4L90.8 359.4L91.5 359.4L92.2 359.4L92.8 359.4L93.5 359.4L94.2 359.4L94.8 359.4L95.5 359.4L96.2 359.4L96.8 359.4L97.5 359.4L98.2 359.4L98.8 359.4L99.5 359.4L99.5 359.4Z" fill="#5656f4"/><path d="M99.5 432.9L99.5 432.9L99.6 430.9L100.0 430.7L101.1 430.4L103.8 430.2L108.2 430.0L113.1 429.7L116.0 429.5L115.8 429.2L113.3 429.0L110.5 428.7L108.2 428.5L106.7 428.2L105.6 428.0L104.5 427.8L103.4 427.5L102.4 427.3L101.7 427.0L101.2 426.8L101.0 426.3L100.7 425.5L100.3 425.1L99.9 424.6L99.7 424.1L99.6 422.9L99.8 421.9L99.6 419.7L99.7 417.0L99.5 414.3L99.6 411.6L99.6 408.9L99.5 406.2L99.5 403.5L99.5 400.8L99.5 398.1L99.6 396.9L99.5 394.2L99.5 391.5L99.5 388.8L99.6 386.1L99.5 383.4L99.5 380.7L99.5 378.0L99.5 375.3L99.5 372.6L99.5 369.9L99.5 367.2L99.5 364.5L99.5 361.8L99.5 359.4L99.5 359.4Z" fill="#e8b842"/><rect x="135.0" y="359.4" width="80.0" height="73.5" fill="#fff"/><path d="M147.5 359.4V432.9M166.6 359.4V432.9M185.6 359.4V432.9M204.7 359.4V432.9M135.0 418.6H215.0M135.0 396.6H215.0M135.0 374.6H215.0" stroke="#f4f4f4" stroke-width="0.5"/><path d="M138.0 359.4V432.9M157.0 359.4V432.9M176.1 359.4V432.9M195.2 359.4V432.9M214.2 359.4V432.9M135.0 429.6H215.0M135.0 407.6H215.0M135.0 385.6H215.0M135.0 363.6H215.0" stroke="#e9e9e9" stroke-width="0.6"/><path d="M138.0 426.5L141.7 425.3L145.4 424.0L149.1 422.7L152.8 421.4L156.5 420.0L160.2 418.6L163.9 417.1L167.7 415.6L171.4 414.1L175.1 412.5L178.8 410.9L182.5 409.2L186.2 407.6L189.9 405.8L193.6 404.1L197.3 402.3L201.0 400.4L204.8 398.5L208.5 396.6L212.2 394.6L212.2 409.6L208.5 410.2L204.8 410.8L201.0 411.4L197.3 412.1L193.6 412.8L189.9 413.6L186.2 414.4L182.5 415.2L178.8 416.1L175.1 417.0L171.4 417.9L167.7 418.9L163.9 419.9L160.2 421.0L156.5 422.1L152.8 423.2L149.1 424.4L145.4 425.6L141.7 426.9L138.0 428.2Z" fill="#b4b4b4" fill-opacity="0.35"/><path transform="scale(0.5)" d="M277 818h0M279 853h0M280 858h0M280 859h0M281 855h0M283 859h0M278 859h0M345 857h0M280 833h0M283 857h0M282 854h0M279 859h0M282 859h0M279 859h0M279 851h0M341 858h0M318 852h0M284 849h0M278 840h0M286 859h0M309 822h0M283 815h0M295 859h0M327 854h0M278 856h0M278 857h0M296 851h0M281 849h0M283 839h0M283 857h0M286 858h0M281 858h0M282 859h0M308 859h0M283 843h0M280 854h0M321 841h0M280 859h0M284 844h0M279 800h0M277 850h0M284 851h0M283 857h0M280 839h0M308 835h0M293 858h0M310 859h0M289 842h0M293 858h0M282 847h0M283 849h0M278 851h0M281 859h0M280 809h0M284 854h0M279 858h0M286 832h0M285 852h0M278 843h0M280 857h0M280 856h0M287 858h0M290 840h0M279 846h0M281 852h0M316 855h0M287 857h0M279 856h0M284 850h0M280 852h0M310 839h0M283 857h0M277 849h0M279 854h0M285 859h0M277 859h0M277 859h0M286 853h0M282 833h0M280 842h0M279 846h0M278 850h0M294 813h0M281 856h0M304 859h0M284 853h0M283 831h0M285 857h0M294 859h0M278 852h0M284 850h0M281 858h0M329 859h0M293 815h0M282 852h0M279 845h0M284 834h0M284 853h0M289 847h0M280 843h0M281 859h0M284 847h0M277 855h0M306 859h0M278 859h0M297 847h0M284 852h0M289 859h0M281 850h0M313 859h0M301 857h0M279 858h0M290 857h0M279 850h0M278 806h0M283 858h0M291 832h0M283 856h0M284 820h0M285 859h0M277 842h0M291 848h0M279 837h0M280 853h0M278 854h0M293 857h0M287 847h0M301 809h0M283 853h0M282 841h0M286 844h0M312 859h0M280 855h0M281 858h0M285 859h0M278 844h0M278 850h0M280 844h0M281 847h0M282 820h0M286 842h0M283 838h0M279 853h0M278 853h0M277 853h0M283 852h0M343 857h0M281 848h0M296 848h0M278 828h0M281 842h0M278 843h0M283 854h0M344 858h0M292 852h0M286 851h0M283 795h0M283 831h0M308 850h0M285 832h0M281 853h0M288 858h0M279 857h0M287 847h0M284 856h0M282 814h0M286 853h0M288 811h0M280 841h0M335 859h0M281 854h0M286 843h0M301 851h0M335 841h0M283 798h0M280 837h0M281 857h0M298 858h0M280 852h0M344 820h0M285 848h0M294 847h0M308 857h0M285 839h0M286 850h0M282 849h0M345 857h0M289 848h0M296 851h0M282 849h0M285 855h0M280 849h0M279 840h0M281 846h0M280 851h0M292 852h0M281 849h0M285 856h0M282 823h0M280 828h0M282 852h0M283 856h0M284 858h0M286 845h0M286 857h0M312 859h0M298 855h0M280 847h0M284 859h0M311 858h0M279 852h0M283 850h0M278 851h0M281 856h0M281 843h0M304 858h0M283 842h0M288 848h0M291 859h0M284 849h0M281 853h0M278 835h0M296 859h0M297 855h0M279 848h0M293 859h0M326 859h0M287 840h0M290 845h0M290 850h0M282 838h0M311 847h0M291 859h0M279 833h0M335 859h0M294 853h0M302 856h0M290 847h0M291 851h0M287 859h0M286 842h0M292 853h0M286 803h0M340 859h0M285 852h0M285 855h0M283 812h0M301 835h0M328 725h0M306 758h0M319 771h0M279 777h0M294 793h0M424 824h0M367 859h0M375 859h0M366 835h0" stroke="#000" stroke-width="3.4" stroke-linecap="square"/><line x1="138.0" y1="427.4" x2="212.2" y2="402.1" stroke="#3c3cec" stroke-width="1.05"/><rect x="135.0" y="359.4" width="80.0" height="73.5" fill="none" stroke="#9a9a9a" stroke-width="0.8"/><text x="138.6" y="367.0" font-size="3.3" fill="#222">R = 0.31, p = 7.4e−10</text><line x1="133.5" y1="429.6" x2="135.0" y2="429.6" stroke="#777" stroke-width="0.5"/><text x="133.1" y="431.6" text-anchor="end" font-size="5.6" fill="#1a1a1a" stroke="#1a1a1a" stroke-width="0.1">0.00</text><line x1="133.5" y1="407.6" x2="135.0" y2="407.6" stroke="#777" stroke-width="0.5"/><text x="133.1" y="409.6" text-anchor="end" font-size="5.6" fill="#1a1a1a" stroke="#1a1a1a" stroke-width="0.1">0.05</text><line x1="133.5" y1="385.6" x2="135.0" y2="385.6" stroke="#777" stroke-width="0.5"/><text x="133.1" y="387.6" text-anchor="end" font-size="5.6" fill="#1a1a1a" stroke="#1a1a1a" stroke-width="0.1">0.10</text><line x1="133.5" y1="363.6" x2="135.0" y2="363.6" stroke="#777" stroke-width="0.5"/><text x="133.1" y="365.6" text-anchor="end" font-size="5.6" fill="#1a1a1a" stroke="#1a1a1a" stroke-width="0.1">0.15</text><text transform="translate(120.6,395.1) rotate(-90)" text-anchor="middle" font-size="5.35" fill="#000" stroke="#000" stroke-width="0.18">B cell plasma</text><line x1="138.0" y1="432.9" x2="138.0" y2="434.4" stroke="#777" stroke-width="0.5"/><text x="138.0" y="439.9" text-anchor="middle" font-size="6.7" fill="#222" stroke="#222" stroke-width="0.08">0.0</text><line x1="157.0" y1="432.9" x2="157.0" y2="434.4" stroke="#777" stroke-width="0.5"/><text x="157.0" y="439.9" text-anchor="middle" font-size="6.7" fill="#222" stroke="#222" stroke-width="0.08">2.5</text><line x1="176.1" y1="432.9" x2="176.1" y2="434.4" stroke="#777" stroke-width="0.5"/><text x="176.1" y="439.9" text-anchor="middle" font-size="6.7" fill="#222" stroke="#222" stroke-width="0.08">5.0</text><line x1="195.2" y1="432.9" x2="195.2" y2="434.4" stroke="#777" stroke-width="0.5"/><text x="195.2" y="439.9" text-anchor="middle" font-size="6.7" fill="#222" stroke="#222" stroke-width="0.08">7.5</text><line x1="214.2" y1="432.9" x2="214.2" y2="434.4" stroke="#777" stroke-width="0.5"/><text x="214.2" y="439.9" text-anchor="middle" font-size="6.7" fill="#222" stroke="#222" stroke-width="0.08">10.0</text><text x="176.8" y="448.5" text-anchor="middle" font-size="6.9" fill="#111" stroke="#111" stroke-width="0.1">CIITA</text><path d="M135.0 359.4L135.0 359.4L135.7 359.4L136.3 359.4L137.0 359.4L137.7 359.3L138.3 358.2L139.0 353.2L139.7 347.5L140.3 344.7L141.0 345.2L141.7 347.2L142.3 350.1L143.0 352.8L143.7 355.0L144.3 356.5L145.0 357.5L145.7 358.2L146.3 358.6L147.0 358.9L147.7 359.0L148.3 359.1L149.0 359.2L149.7 359.2L150.3 359.2L151.0 359.3L151.7 359.3L152.3 359.3L153.0 359.3L153.7 359.3L154.3 359.3L155.0 359.3L155.7 359.3L156.3 359.3L157.0 359.3L157.7 359.4L158.3 359.4L159.0 359.4L159.7 359.4L160.3 359.4L161.0 359.4L161.7 359.4L162.3 359.4L163.0 359.4L163.7 359.4L164.3 359.4L165.0 359.4L165.7 359.4L166.3 359.4L167.0 359.4L167.7 359.4L168.3 359.4L169.0 359.4L169.7 359.4L170.3 359.4L171.0 359.4L171.7 359.4L172.3 359.4L173.0 359.4L173.7 359.4L174.3 359.4L175.0 359.4L175.7 359.4L176.3 359.4L177.0 359.4L177.7 359.4L178.3 359.4L179.0 359.4L179.7 359.4L180.3 359.4L181.0 359.4L181.7 359.4L182.3 359.4L183.0 359.4L183.7 359.4L184.3 359.4L185.0 359.4L185.7 359.4L186.3 359.4L187.0 359.4L187.7 359.4L188.3 359.4L189.0 359.4L189.7 359.4L190.3 359.4L191.0 359.4L191.7 359.4L192.3 359.4L193.0 359.4L193.7 359.4L194.3 359.4L195.0 359.4L195.7 359.4L196.3 359.4L197.0 359.4L197.7 359.4L198.3 359.4L199.0 359.4L199.7 359.4L200.3 359.4L201.0 359.4L201.7 359.4L202.3 359.4L203.0 359.4L203.7 359.4L204.3 359.4L205.0 359.4L205.7 359.4L206.3 359.4L207.0 359.4L207.7 359.4L208.3 359.4L209.0 359.4L209.7 359.4L210.3 359.4L211.0 359.4L211.7 359.4L212.3 359.4L213.0 359.4L213.7 359.4L214.3 359.4L215.0 359.4L215.0 359.4Z" fill="#5656f4"/><path d="M215.0 432.9L215.0 432.9L215.4 432.2L215.7 431.9L216.2 431.7L217.0 431.4L218.1 431.2L219.6 430.9L221.5 430.7L223.6 430.4L225.8 430.2L227.9 430.0L229.7 429.7L230.9 429.5L231.5 429.2L231.4 429.0L230.7 428.7L229.5 428.5L228.1 428.2L226.7 428.0L225.3 427.8L224.2 427.5L223.2 427.3L222.6 427.0L222.1 426.8L221.8 426.5L221.4 426.0L221.1 425.5L220.7 425.1L220.4 424.8L220.1 424.6L219.8 424.3L219.5 424.1L219.2 423.8L218.9 423.6L218.6 423.3L218.3 423.1L217.9 422.6L217.7 422.1L217.4 421.1L217.1 420.4L216.8 419.9L216.5 419.4L216.2 418.9L215.9 418.2L215.6 415.5L215.4 414.8L215.2 413.8L215.3 411.1L215.3 408.4L215.4 405.7L215.2 403.7L215.1 401.0L215.2 398.4L215.1 395.7L215.0 393.0L215.0 390.3L215.1 387.6L215.1 384.9L215.0 382.2L215.1 379.5L215.0 376.8L215.0 374.1L215.0 371.4L215.0 368.7L215.0 366.0L215.1 363.3L215.0 360.6L215.0 359.4L215.0 359.4Z" fill="#e8b842"/><rect x="250.0" y="359.4" width="80.0" height="73.5" fill="#fff"/><path d="M262.5 359.4V432.9M281.6 359.4V432.9M300.6 359.4V432.9M319.7 359.4V432.9M250.0 418.6H330.0M250.0 396.6H330.0M250.0 374.6H330.0" stroke="#f4f4f4" stroke-width="0.5"/><path d="M253.0 359.4V432.9M272.0 359.4V432.9M291.1 359.4V432.9M310.2 359.4V432.9M329.2 359.4V432.9M250.0 429.6H330.0M250.0 407.6H330.0M250.0 385.6H330.0M250.0 363.6H330.0" stroke="#e9e9e9" stroke-width="0.6"/><path d="M253.0 426.5L256.7 425.3L260.4 424.0L264.1 422.7L267.8 421.4L271.5 420.0L275.2 418.6L278.9 417.1L282.7 415.6L286.4 414.1L290.1 412.5L293.8 410.9L297.5 409.2L301.2 407.6L304.9 405.8L308.6 404.1L312.3 402.3L316.0 400.4L319.8 398.5L323.5 396.6L327.2 394.6L327.2 409.6L323.5 410.2L319.8 410.8L316.0 411.4L312.3 412.1L308.6 412.8L304.9 413.6L301.2 414.4L297.5 415.2L293.8 416.1L290.1 417.0L286.4 417.9L282.7 418.9L278.9 419.9L275.2 421.0L271.5 422.1L267.8 423.2L264.1 424.4L260.4 425.6L256.7 426.9L253.0 428.2Z" fill="#b4b4b4" fill-opacity="0.35"/><path transform="scale(0.5)" d="M507 858h0M509 849h0M510 857h0M510 834h0M511 859h0M510 858h0M513 857h0M575 851h0M510 857h0M510 850h0M513 854h0M512 849h0M509 838h0M512 848h0M509 851h0M509 847h0M509 852h0M571 843h0M548 843h0M511 852h0M514 859h0M508 859h0M516 859h0M539 859h0M513 859h0M525 849h0M557 858h0M508 858h0M508 859h0M526 828h0M511 854h0M513 856h0M513 841h0M516 836h0M509 834h0M512 859h0M538 848h0M513 858h0M510 845h0M551 842h0M510 853h0M510 815h0M514 858h0M510 859h0M507 858h0M513 839h0M510 855h0M538 858h0M513 855h0M523 850h0M540 832h0M519 858h0M523 858h0M512 853h0M513 843h0M508 853h0M511 837h0M510 857h0M509 839h0M523 843h0M511 850h0M516 857h0M515 859h0M525 859h0M508 857h0M517 859h0M520 843h0M509 859h0M511 846h0M546 857h0M517 824h0M509 852h0M514 852h0M510 854h0M540 859h0M513 859h0M509 854h0M508 843h0M516 849h0M512 794h0M509 850h0M509 845h0M508 852h0M524 848h0M509 827h0M534 859h0M514 842h0M508 859h0M540 844h0M514 845h0M510 825h0M508 805h0M514 853h0M511 859h0M559 859h0M523 857h0M512 858h0M510 852h0M514 839h0M514 841h0M513 848h0M508 859h0M513 843h0M519 859h0M511 851h0M512 820h0M514 859h0M510 847h0M513 845h0M536 859h0M527 859h0M512 851h0M514 843h0M507 844h0M519 841h0M543 859h0M531 837h0M520 849h0M521 852h0M512 854h0M514 831h0M515 846h0M521 847h0M508 849h0M510 843h0M523 823h0M517 843h0M530 844h0M512 859h0M517 858h0M531 859h0M512 844h0M508 836h0M516 851h0M542 859h0M515 851h0M508 855h0M511 835h0M510 848h0M515 845h0M516 857h0M513 856h0M509 848h0M508 856h0M514 855h0M573 809h0M510 839h0M514 857h0M526 859h0M511 855h0M511 856h0M574 859h0M522 850h0M516 858h0M510 852h0M508 856h0M519 843h0M516 859h0M538 859h0M509 856h0M507 859h0M511 845h0M518 859h0M508 853h0M517 854h0M508 851h0M512 853h0M509 849h0M516 853h0M518 854h0M510 836h0M510 831h0M565 842h0M507 855h0M515 848h0M531 855h0M565 851h0M517 853h0M513 813h0M510 802h0M508 840h0M528 859h0M514 858h0M536 851h0M574 806h0M524 855h0M519 857h0M538 820h0M516 847h0M515 836h0M508 854h0M514 848h0M537 859h0M510 854h0M519 838h0M508 850h0M526 824h0M514 851h0M512 849h0M515 846h0M510 846h0M522 841h0M515 855h0M512 853h0M510 858h0M510 799h0M519 846h0M513 854h0M516 843h0M542 843h0M528 833h0M510 855h0M541 843h0M509 847h0M510 832h0M511 812h0M534 858h0M516 823h0M518 850h0M508 835h0M511 831h0M526 845h0M510 837h0M527 840h0M515 847h0M556 859h0M517 858h0M520 859h0M508 844h0M512 856h0M514 851h0M509 832h0M541 857h0M516 859h0M510 838h0M509 841h0M565 843h0M509 830h0M510 850h0M511 836h0M511 844h0M512 846h0M510 832h0M515 851h0M514 847h0M532 849h0M520 844h0M521 849h0M512 857h0M509 844h0M522 853h0M570 859h0M511 836h0M515 858h0M513 852h0M519 859h0M531 842h0M558 725h0M536 758h0M549 771h0M509 777h0M524 793h0M654 824h0M597 859h0M605 859h0M596 835h0" stroke="#000" stroke-width="3.4" stroke-linecap="square"/><line x1="253.0" y1="427.4" x2="327.2" y2="402.1" stroke="#3c3cec" stroke-width="1.05"/><rect x="250.0" y="359.4" width="80.0" height="73.5" fill="none" stroke="#9a9a9a" stroke-width="0.8"/><text x="253.6" y="367.0" font-size="3.3" fill="#222">R = 0.31, p = 7.4e−10</text><line x1="248.5" y1="429.6" x2="250.0" y2="429.6" stroke="#777" stroke-width="0.5"/><text x="248.1" y="431.6" text-anchor="end" font-size="5.6" fill="#1a1a1a" stroke="#1a1a1a" stroke-width="0.1">0.00</text><line x1="248.5" y1="407.6" x2="250.0" y2="407.6" stroke="#777" stroke-width="0.5"/><text x="248.1" y="409.6" text-anchor="end" font-size="5.6" fill="#1a1a1a" stroke="#1a1a1a" stroke-width="0.1">0.05</text><line x1="248.5" y1="385.6" x2="250.0" y2="385.6" stroke="#777" stroke-width="0.5"/><text x="248.1" y="387.6" text-anchor="end" font-size="5.6" fill="#1a1a1a" stroke="#1a1a1a" stroke-width="0.1">0.10</text><line x1="248.5" y1="363.6" x2="250.0" y2="363.6" stroke="#777" stroke-width="0.5"/><text x="248.1" y="365.6" text-anchor="end" font-size="5.6" fill="#1a1a1a" stroke="#1a1a1a" stroke-width="0.1">0.15</text><text transform="translate(233.6,395.1) rotate(-90)" text-anchor="middle" font-size="5.35" fill="#000" stroke="#000" stroke-width="0.18">B cell plasma</text><line x1="253.0" y1="432.9" x2="253.0" y2="434.4" stroke="#777" stroke-width="0.5"/><text x="253.0" y="439.9" text-anchor="middle" font-size="6.7" fill="#222" stroke="#222" stroke-width="0.08">0.0</text><line x1="272.0" y1="432.9" x2="272.0" y2="434.4" stroke="#777" stroke-width="0.5"/><text x="272.0" y="439.9" text-anchor="middle" font-size="6.7" fill="#222" stroke="#222" stroke-width="0.08">2.5</text><line x1="291.1" y1="432.9" x2="291.1" y2="434.4" stroke="#777" stroke-width="0.5"/><text x="291.1" y="439.9" text-anchor="middle" font-size="6.7" fill="#222" stroke="#222" stroke-width="0.08">5.0</text><line x1="310.2" y1="432.9" x2="310.2" y2="434.4" stroke="#777" stroke-width="0.5"/><text x="310.2" y="439.9" text-anchor="middle" font-size="6.7" fill="#222" stroke="#222" stroke-width="0.08">7.5</text><line x1="329.2" y1="432.9" x2="329.2" y2="434.4" stroke="#777" stroke-width="0.5"/><text x="329.2" y="439.9" text-anchor="middle" font-size="6.7" fill="#222" stroke="#222" stroke-width="0.08">10.0</text><text x="291.8" y="448.5" text-anchor="middle" font-size="6.9" fill="#111" stroke="#111" stroke-width="0.1">CIITA</text><path d="M250.0 359.4L250.0 359.4L250.7 359.4L251.3 359.4L252.0 359.4L252.7 359.3L253.3 358.2L254.0 353.2L254.7 347.5L255.3 344.7L256.0 345.2L256.7 347.2L257.3 350.1L258.0 352.8L258.7 355.0L259.3 356.5L260.0 357.5L260.7 358.2L261.3 358.6L262.0 358.9L262.7 359.0L263.3 359.1L264.0 359.2L264.7 359.2L265.3 359.2L266.0 359.3L266.7 359.3L267.3 359.3L268.0 359.3L268.7 359.3L269.3 359.3L270.0 359.3L270.7 359.3L271.3 359.3L272.0 359.3L272.7 359.4L273.3 359.4L274.0 359.4L274.7 359.4L275.3 359.4L276.0 359.4L276.7 359.4L277.3 359.4L278.0 359.4L278.7 359.4L279.3 359.4L280.0 359.4L280.7 359.4L281.3 359.4L282.0 359.4L282.7 359.4L283.3 359.4L284.0 359.4L284.7 359.4L285.3 359.4L286.0 359.4L286.7 359.4L287.3 359.4L288.0 359.4L288.7 359.4L289.3 359.4L290.0 359.4L290.7 359.4L291.3 359.4L292.0 359.4L292.7 359.4L293.3 359.4L294.0 359.4L294.7 359.4L295.3 359.4L296.0 359.4L296.7 359.4L297.3 359.4L298.0 359.4L298.7 359.4L299.3 359.4L300.0 359.4L300.7 359.4L301.3 359.4L302.0 359.4L302.7 359.4L303.3 359.4L304.0 359.4L304.7 359.4L305.3 359.4L306.0 359.4L306.7 359.4L307.3 359.4L308.0 359.4L308.7 359.4L309.3 359.4L310.0 359.4L310.7 359.4L311.3 359.4L312.0 359.4L312.7 359.4L313.3 359.4L314.0 359.4L314.7 359.4L315.3 359.4L316.0 359.4L316.7 359.4L317.3 359.4L318.0 359.4L318.7 359.4L319.3 359.4L320.0 359.4L320.7 359.4L321.3 359.4L322.0 359.4L322.7 359.4L323.3 359.4L324.0 359.4L324.7 359.4L325.3 359.4L326.0 359.4L326.7 359.4L327.3 359.4L328.0 359.4L328.7 359.4L329.3 359.4L330.0 359.4L330.0 359.4Z" fill="#5656f4"/><path d="M330.0 432.9L330.2 432.9L330.6 432.4L330.9 432.2L331.5 431.9L332.2 431.7L333.2 431.4L334.4 431.2L335.9 430.9L337.7 430.7L339.5 430.4L341.4 430.2L343.1 430.0L344.6 429.7L345.7 429.5L346.3 429.2L346.5 429.0L346.2 428.7L345.6 428.5L344.7 428.2L343.7 428.0L342.7 427.8L341.6 427.5L340.8 427.3L340.0 427.0L339.4 426.8L338.9 426.5L338.5 426.3L338.1 426.0L337.8 425.8L337.5 425.5L337.3 425.3L337.0 425.1L336.7 424.8L336.5 424.6L336.2 424.3L335.8 423.8L335.4 423.3L335.1 422.9L334.8 422.4L334.4 421.9L334.0 421.4L333.7 421.1L333.4 420.9L333.1 420.6L332.9 420.4L332.4 419.9L332.1 419.4L331.9 418.7L331.7 417.5L331.4 416.5L331.2 415.8L330.9 415.0L330.7 414.3L330.6 411.6L330.4 410.1L330.2 408.6L330.2 405.9L330.2 403.3L330.2 400.6L330.2 397.9L330.1 395.2L330.0 392.5L330.1 389.8L330.1 387.1L330.0 384.4L330.0 381.7L330.1 379.0L330.0 376.3L330.0 373.6L330.0 370.9L330.0 368.2L330.0 365.5L330.1 362.8L330.0 360.1L330.0 359.4L330.0 359.4Z" fill="#e8b842"/><rect x="364.5" y="359.4" width="80.0" height="73.5" fill="#fff"/><path d="M377.0 359.4V432.9M396.1 359.4V432.9M415.1 359.4V432.9M434.2 359.4V432.9M364.5 414.7H444.5M364.5 395.5H444.5M364.5 376.2H444.5" stroke="#f4f4f4" stroke-width="0.5"/><path d="M367.5 359.4V432.9M386.5 359.4V432.9M405.6 359.4V432.9M424.7 359.4V432.9M443.7 359.4V432.9M364.5 424.4H444.5M364.5 405.1H444.5M364.5 385.8H444.5M364.5 366.6H444.5" stroke="#e9e9e9" stroke-width="0.6"/><path d="M367.5 423.6L371.2 423.7L374.9 423.8L378.6 423.9L382.3 423.9L386.0 424.0L389.7 424.0L393.4 424.0L397.2 424.0L400.9 424.0L404.6 423.9L408.3 423.8L412.0 423.8L415.7 423.7L419.4 423.5L423.1 423.4L426.8 423.3L430.5 423.1L434.3 422.9L438.0 422.7L441.7 422.5L441.7 429.2L438.0 428.8L434.3 428.4L430.5 428.0L426.8 427.7L423.1 427.3L419.4 427.0L415.7 426.7L412.0 426.4L408.3 426.2L404.6 425.9L400.9 425.7L397.2 425.5L393.4 425.3L389.7 425.1L386.0 424.9L382.3 424.8L378.6 424.6L374.9 424.5L371.2 424.4L367.5 424.4Z" fill="#b4b4b4" fill-opacity="0.35"/><path transform="scale(0.5)" d="M736 848h0M738 849h0M739 849h0M739 846h0M740 849h0M742 849h0M737 849h0M804 848h0M739 847h0M741 847h0M738 846h0M800 849h0M777 849h0M740 847h0M743 846h0M745 848h0M768 846h0M754 848h0M786 847h0M737 848h0M755 849h0M740 847h0M742 847h0M745 849h0M740 845h0M739 848h0M767 849h0M742 849h0M780 849h0M743 848h0M736 849h0M767 848h0M752 847h0M769 849h0M748 849h0M741 846h0M752 847h0M742 848h0M740 844h0M743 849h0M752 848h0M740 848h0M738 847h0M744 848h0M754 849h0M746 845h0M749 848h0M740 849h0M775 847h0M746 849h0M769 847h0M745 847h0M738 847h0M753 849h0M763 849h0M769 835h0M753 849h0M788 848h0M752 848h0M740 846h0M741 846h0M765 848h0M748 847h0M772 849h0M760 844h0M738 845h0M749 849h0M750 846h0M743 845h0M736 847h0M750 846h0M737 847h0M752 846h0M759 848h0M746 847h0M760 849h0M741 847h0M771 848h0M742 847h0M802 847h0M743 841h0M737 845h0M742 846h0M803 848h0M751 848h0M737 846h0M747 849h0M747 848h0M794 847h0M760 846h0M794 849h0M757 846h0M803 847h0M767 847h0M745 846h0M745 844h0M748 848h0M743 847h0M744 848h0M751 845h0M771 849h0M757 849h0M763 849h0M750 849h0M755 848h0M756 849h0M752 849h0M785 849h0M746 848h0M794 847h0M753 846h0M761 847h0M746 846h0M751 847h0M799 849h0M737 725h0M746 786h0M740 806h0M738 830h0M740 833h0M736 840h0M746 845h0M823 849h0M828 849h0M834 849h0M883 850h0" stroke="#000" stroke-width="3.4" stroke-linecap="square"/><line x1="367.5" y1="424.0" x2="441.7" y2="425.8" stroke="#3c3cec" stroke-width="1.05"/><rect x="364.5" y="359.4" width="80.0" height="73.5" fill="none" stroke="#9a9a9a" stroke-width="0.8"/><text x="368.1" y="367.0" font-size="3.3" fill="#222">R = −0.046, p = 0.38</text><line x1="363.0" y1="424.4" x2="364.5" y2="424.4" stroke="#777" stroke-width="0.5"/><text x="362.6" y="426.4" text-anchor="end" font-size="5.6" fill="#1a1a1a" stroke="#1a1a1a" stroke-width="0.1">0.000</text><line x1="363.0" y1="405.1" x2="364.5" y2="405.1" stroke="#777" stroke-width="0.5"/><text x="362.6" y="407.1" text-anchor="end" font-size="5.6" fill="#1a1a1a" stroke="#1a1a1a" stroke-width="0.1">0.001</text><line x1="363.0" y1="385.8" x2="364.5" y2="385.8" stroke="#777" stroke-width="0.5"/><text x="362.6" y="387.8" text-anchor="end" font-size="5.6" fill="#1a1a1a" stroke="#1a1a1a" stroke-width="0.1">0.002</text><line x1="363.0" y1="366.6" x2="364.5" y2="366.6" stroke="#777" stroke-width="0.5"/><text x="362.6" y="368.6" text-anchor="end" font-size="5.6" fill="#1a1a1a" stroke="#1a1a1a" stroke-width="0.1">0.003</text><text transform="translate(345.0,395.1) rotate(-90)" text-anchor="middle" font-size="5.35" fill="#000" stroke="#000" stroke-width="0.18">Eosinophil</text><line x1="367.5" y1="432.9" x2="367.5" y2="434.4" stroke="#777" stroke-width="0.5"/><text x="367.5" y="439.9" text-anchor="middle" font-size="6.7" fill="#222" stroke="#222" stroke-width="0.08">0.0</text><line x1="386.5" y1="432.9" x2="386.5" y2="434.4" stroke="#777" stroke-width="0.5"/><text x="386.5" y="439.9" text-anchor="middle" font-size="6.7" fill="#222" stroke="#222" stroke-width="0.08">2.5</text><line x1="405.6" y1="432.9" x2="405.6" y2="434.4" stroke="#777" stroke-width="0.5"/><text x="405.6" y="439.9" text-anchor="middle" font-size="6.7" fill="#222" stroke="#222" stroke-width="0.08">5.0</text><line x1="424.7" y1="432.9" x2="424.7" y2="434.4" stroke="#777" stroke-width="0.5"/><text x="424.7" y="439.9" text-anchor="middle" font-size="6.7" fill="#222" stroke="#222" stroke-width="0.08">7.5</text><line x1="443.7" y1="432.9" x2="443.7" y2="434.4" stroke="#777" stroke-width="0.5"/><text x="443.7" y="439.9" text-anchor="middle" font-size="6.7" fill="#222" stroke="#222" stroke-width="0.08">10.0</text><text x="406.3" y="448.5" text-anchor="middle" font-size="6.9" fill="#111" stroke="#111" stroke-width="0.1">CIITA</text><path d="M364.5 359.4L364.5 359.4L365.2 359.4L365.8 359.4L366.5 359.4L367.2 359.3L367.8 358.2L368.5 353.2L369.2 347.5L369.8 344.7L370.5 345.2L371.2 347.2L371.8 350.1L372.5 352.8L373.2 355.0L373.8 356.5L374.5 357.5L375.2 358.2L375.8 358.6L376.5 358.9L377.2 359.0L377.8 359.1L378.5 359.2L379.2 359.2L379.8 359.2L380.5 359.3L381.2 359.3L381.8 359.3L382.5 359.3L383.2 359.3L383.8 359.3L384.5 359.3L385.2 359.3L385.8 359.3L386.5 359.3L387.2 359.4L387.8 359.4L388.5 359.4L389.2 359.4L389.8 359.4L390.5 359.4L391.2 359.4L391.8 359.4L392.5 359.4L393.2 359.4L393.8 359.4L394.5 359.4L395.2 359.4L395.8 359.4L396.5 359.4L397.2 359.4L397.8 359.4L398.5 359.4L399.2 359.4L399.8 359.4L400.5 359.4L401.2 359.4L401.8 359.4L402.5 359.4L403.2 359.4L403.8 359.4L404.5 359.4L405.2 359.4L405.8 359.4L406.5 359.4L407.2 359.4L407.8 359.4L408.5 359.4L409.2 359.4L409.8 359.4L410.5 359.4L411.2 359.4L411.8 359.4L412.5 359.4L413.2 359.4L413.8 359.4L414.5 359.4L415.2 359.4L415.8 359.4L416.5 359.4L417.2 359.4L417.8 359.4L418.5 359.4L419.2 359.4L419.8 359.4L420.5 359.4L421.2 359.4L421.8 359.4L422.5 359.4L423.2 359.4L423.8 359.4L424.5 359.4L425.2 359.4L425.8 359.4L426.5 359.4L427.2 359.4L427.8 359.4L428.5 359.4L429.2 359.4L429.8 359.4L430.5 359.4L431.2 359.4L431.8 359.4L432.5 359.4L433.2 359.4L433.8 359.4L434.5 359.4L435.2 359.4L435.8 359.4L436.5 359.4L437.2 359.4L437.8 359.4L438.5 359.4L439.2 359.4L439.8 359.4L440.5 359.4L441.2 359.4L441.8 359.4L442.5 359.4L443.2 359.4L443.8 359.4L444.5 359.4L444.5 359.4Z" fill="#5656f4"/><path d="M444.5 432.9L444.5 432.9L444.5 430.2L444.5 427.5L444.6 425.8L444.9 425.5L446.0 425.3L448.5 425.1L452.8 424.8L457.8 424.6L461.0 424.3L460.9 424.1L458.3 423.8L454.8 423.6L451.8 423.3L449.5 423.1L447.8 422.9L446.6 422.6L445.7 422.4L445.1 422.1L444.8 421.9L444.6 421.4L444.5 418.7L444.5 416.0L444.5 413.3L444.5 410.6L444.5 407.9L444.5 405.2L444.5 402.5L444.5 399.8L444.5 397.1L444.5 394.4L444.5 391.7L444.5 389.0L444.5 386.3L444.5 383.7L444.5 381.0L444.5 378.3L444.5 375.6L444.5 372.9L444.5 370.2L444.5 367.5L444.5 364.8L444.5 362.1L444.5 359.4L444.5 359.4Z" fill="#e8b842"/><rect x="477.0" y="359.4" width="80.0" height="73.5" fill="#fff"/><path d="M489.5 359.4V432.9M508.6 359.4V432.9M527.6 359.4V432.9M546.7 359.4V432.9M477.0 417.5H557.0M477.0 393.4H557.0" stroke="#f4f4f4" stroke-width="0.5"/><path d="M480.0 359.4V432.9M499.0 359.4V432.9M518.1 359.4V432.9M537.2 359.4V432.9M556.2 359.4V432.9M477.0 429.6H557.0M477.0 405.5H557.0M477.0 381.4H557.0" stroke="#e9e9e9" stroke-width="0.6"/><path d="M480.0 426.3L483.7 425.6L487.4 424.8L491.1 424.0L494.8 423.2L498.5 422.3L502.2 421.4L505.9 420.5L509.7 419.5L513.4 418.4L517.1 417.4L520.8 416.3L524.5 415.1L528.2 413.9L531.9 412.7L535.6 411.4L539.3 410.1L543.0 408.8L546.8 407.4L550.5 406.0L554.2 404.6L554.2 419.5L550.5 419.6L546.8 419.7L543.0 419.8L539.3 420.0L535.6 420.2L531.9 420.4L528.2 420.7L524.5 421.1L520.8 421.4L517.1 421.8L513.4 422.3L509.7 422.7L505.9 423.3L502.2 423.8L498.5 424.4L494.8 425.1L491.1 425.7L487.4 426.4L483.7 427.2L480.0 428.0Z" fill="#b4b4b4" fill-opacity="0.35"/><path transform="scale(0.5)" d="M961 848h0M963 859h0M964 859h0M964 858h0M965 852h0M964 852h0M967 855h0M962 857h0M1029 837h0M964 843h0M967 838h0M966 858h0M963 859h0M966 858h0M963 856h0M963 851h0M963 846h0M1025 816h0M1002 857h0M965 853h0M968 859h0M962 850h0M970 846h0M993 859h0M967 859h0M979 859h0M1011 859h0M962 856h0M962 853h0M962 858h0M980 858h0M965 850h0M967 859h0M967 852h0M970 859h0M965 858h0M964 855h0M966 850h0M992 859h0M967 859h0M964 847h0M964 859h0M1005 859h0M964 830h0M964 853h0M968 857h0M961 858h0M968 856h0M964 857h0M992 859h0M977 852h0M994 849h0M973 827h0M977 850h0M966 854h0M962 847h0M965 844h0M963 836h0M977 848h0M965 855h0M970 858h0M969 849h0M962 856h0M964 846h0M971 859h0M974 846h0M965 858h0M1000 852h0M963 858h0M971 853h0M963 840h0M994 852h0M967 848h0M961 859h0M963 834h0M969 859h0M961 859h0M962 859h0M970 851h0M966 850h0M962 850h0M978 853h0M988 839h0M968 845h0M962 854h0M994 842h0M968 853h0M967 828h0M969 845h0M978 849h0M965 859h0M965 848h0M1013 858h0M977 849h0M968 856h0M967 854h0M962 852h0M973 858h0M965 831h0M966 852h0M968 846h0M964 855h0M990 844h0M962 845h0M981 845h0M966 843h0M968 858h0M967 850h0M973 842h0M965 853h0M997 859h0M985 845h0M963 852h0M974 859h0M963 849h0M967 854h0M975 859h0M966 858h0M967 854h0M968 859h0M969 854h0M961 852h0M975 849h0M963 853h0M964 849h0M977 845h0M971 853h0M984 848h0M966 841h0M985 859h0M966 851h0M962 858h0M996 859h0M965 859h0M963 847h0M965 849h0M969 851h0M965 854h0M966 857h0M970 849h0M963 848h0M963 851h0M1027 852h0M964 850h0M962 842h0M980 853h0M962 852h0M966 851h0M962 848h0M1028 843h0M976 857h0M964 854h0M973 859h0M992 855h0M965 848h0M972 848h0M962 855h0M966 855h0M968 858h0M966 844h0M970 855h0M972 859h0M964 840h0M1019 858h0M969 853h0M970 859h0M985 851h0M1019 844h0M967 850h0M982 854h0M968 853h0M990 838h0M963 848h0M1028 841h0M978 858h0M973 847h0M970 858h0M969 833h0M964 856h0M1029 859h0M991 859h0M967 847h0M964 852h0M973 851h0M980 852h0M969 852h0M968 856h0M963 845h0M966 845h0M962 842h0M976 851h0M969 859h0M966 856h0M962 815h0M966 846h0M966 850h0M973 854h0M968 850h0M970 844h0M970 849h0M996 843h0M982 852h0M995 859h0M963 855h0M961 857h0M988 795h0M970 851h0M972 857h0M975 838h0M980 846h0M962 844h0M981 841h0M962 855h0M1010 856h0M971 851h0M974 859h0M974 849h0M968 849h0M995 852h0M965 845h0M975 854h0M1019 856h0M965 856h0M964 852h0M978 839h0M969 857h0M968 851h0M974 850h0M975 837h0M971 841h0M970 821h0M1024 855h0M973 848h0M1010 725h0M1053 809h0M983 794h0M978 797h0M963 801h0M965 813h0M1012 835h0M1106 859h0M1048 859h0M1056 840h0" stroke="#000" stroke-width="3.4" stroke-linecap="square"/><line x1="480.0" y1="427.2" x2="554.2" y2="412.0" stroke="#3c3cec" stroke-width="1.05"/><rect x="477.0" y="359.4" width="80.0" height="73.5" fill="none" stroke="#9a9a9a" stroke-width="0.8"/><text x="480.6" y="367.0" font-size="3.3" fill="#222">R = 0.25, p = 7.6e−07</text><line x1="475.5" y1="429.6" x2="477.0" y2="429.6" stroke="#777" stroke-width="0.5"/><text x="475.1" y="431.6" text-anchor="end" font-size="5.6" fill="#1a1a1a" stroke="#1a1a1a" stroke-width="0.1">0.0</text><line x1="475.5" y1="405.5" x2="477.0" y2="405.5" stroke="#777" stroke-width="0.5"/><text x="475.1" y="407.5" text-anchor="end" font-size="5.6" fill="#1a1a1a" stroke="#1a1a1a" stroke-width="0.1">0.2</text><line x1="475.5" y1="381.4" x2="477.0" y2="381.4" stroke="#777" stroke-width="0.5"/><text x="475.1" y="383.4" text-anchor="end" font-size="5.6" fill="#1a1a1a" stroke="#1a1a1a" stroke-width="0.1">0.4</text><text transform="translate(463.7,395.1) rotate(-90)" text-anchor="middle" font-size="5.35" fill="#000" stroke="#000" stroke-width="0.18">Macrophage M0</text><line x1="480.0" y1="432.9" x2="480.0" y2="434.4" stroke="#777" stroke-width="0.5"/><text x="480.0" y="439.9" text-anchor="middle" font-size="6.7" fill="#222" stroke="#222" stroke-width="0.08">0.0</text><line x1="499.0" y1="432.9" x2="499.0" y2="434.4" stroke="#777" stroke-width="0.5"/><text x="499.0" y="439.9" text-anchor="middle" font-size="6.7" fill="#222" stroke="#222" stroke-width="0.08">2.5</text><line x1="518.1" y1="432.9" x2="518.1" y2="434.4" stroke="#777" stroke-width="0.5"/><text x="518.1" y="439.9" text-anchor="middle" font-size="6.7" fill="#222" stroke="#222" stroke-width="0.08">5.0</text><line x1="537.2" y1="432.9" x2="537.2" y2="434.4" stroke="#777" stroke-width="0.5"/><text x="537.2" y="439.9" text-anchor="middle" font-size="6.7" fill="#222" stroke="#222" stroke-width="0.08">7.5</text><line x1="556.2" y1="432.9" x2="556.2" y2="434.4" stroke="#777" stroke-width="0.5"/><text x="556.2" y="439.9" text-anchor="middle" font-size="6.7" fill="#222" stroke="#222" stroke-width="0.08">10.0</text><text x="518.8" y="448.5" text-anchor="middle" font-size="6.9" fill="#111" stroke="#111" stroke-width="0.1">CIITA</text><path d="M477.0 359.4L477.0 359.4L477.7 359.4L478.3 359.4L479.0 359.4L479.7 359.3L480.3 358.2L481.0 353.2L481.7 347.5L482.3 344.7L483.0 345.2L483.7 347.2L484.3 350.1L485.0 352.8L485.7 355.0L486.3 356.5L487.0 357.5L487.7 358.2L488.3 358.6L489.0 358.9L489.7 359.0L490.3 359.1L491.0 359.2L491.7 359.2L492.3 359.2L493.0 359.3L493.7 359.3L494.3 359.3L495.0 359.3L495.7 359.3L496.3 359.3L497.0 359.3L497.7 359.3L498.3 359.3L499.0 359.3L499.7 359.4L500.3 359.4L501.0 359.4L501.7 359.4L502.3 359.4L503.0 359.4L503.7 359.4L504.3 359.4L505.0 359.4L505.7 359.4L506.3 359.4L507.0 359.4L507.7 359.4L508.3 359.4L509.0 359.4L509.7 359.4L510.3 359.4L511.0 359.4L511.7 359.4L512.3 359.4L513.0 359.4L513.7 359.4L514.3 359.4L515.0 359.4L515.7 359.4L516.3 359.4L517.0 359.4L517.7 359.4L518.3 359.4L519.0 359.4L519.7 359.4L520.3 359.4L521.0 359.4L521.7 359.4L522.3 359.4L523.0 359.4L523.7 359.4L524.3 359.4L525.0 359.4L525.7 359.4L526.3 359.4L527.0 359.4L527.7 359.4L528.3 359.4L529.0 359.4L529.7 359.4L530.3 359.4L531.0 359.4L531.7 359.4L532.3 359.4L533.0 359.4L533.7 359.4L534.3 359.4L535.0 359.4L535.7 359.4L536.3 359.4L537.0 359.4L537.7 359.4L538.3 359.4L539.0 359.4L539.7 359.4L540.3 359.4L541.0 359.4L541.7 359.4L542.3 359.4L543.0 359.4L543.7 359.4L544.3 359.4L545.0 359.4L545.7 359.4L546.3 359.4L547.0 359.4L547.7 359.4L548.3 359.4L549.0 359.4L549.7 359.4L550.3 359.4L551.0 359.4L551.7 359.4L552.3 359.4L553.0 359.4L553.7 359.4L554.3 359.4L555.0 359.4L555.7 359.4L556.3 359.4L557.0 359.4L557.0 359.4Z" fill="#5656f4"/><path d="M557.0 432.9L557.0 432.9L557.5 431.7L558.0 431.4L558.9 431.2L560.2 430.9L562.0 430.7L564.2 430.4L566.8 430.2L569.3 430.0L571.4 429.7L572.9 429.5L573.5 429.2L573.3 429.0L572.5 428.7L571.4 428.5L570.2 428.2L569.2 428.0L568.6 427.8L568.3 427.5L568.2 427.3L568.5 426.8L568.5 426.3L568.3 426.0L567.8 425.8L567.2 425.5L566.6 425.3L565.9 425.1L565.1 424.8L564.5 424.6L563.8 424.3L563.2 424.1L562.7 423.8L562.2 423.6L561.8 423.3L561.4 423.1L561.1 422.9L560.7 422.6L560.4 422.4L560.1 422.1L559.8 421.9L559.5 421.6L559.1 421.1L558.8 420.6L558.5 419.9L558.2 419.2L557.9 418.4L557.6 417.7L557.4 416.7L557.4 414.0L557.1 412.8L557.1 410.1L557.2 407.4L557.1 405.5L557.0 402.8L557.1 400.1L557.3 397.6L557.1 395.9L557.0 393.2L557.0 390.5L557.0 387.8L557.0 385.1L557.0 382.4L557.0 379.7L557.0 377.0L557.0 374.3L557.0 371.6L557.0 369.0L557.0 366.3L557.1 363.6L557.0 360.9L557.0 359.4L557.0 359.4Z" fill="#e8b842"/><rect x="587.5" y="359.4" width="80.0" height="73.5" fill="#fff"/><path d="M600.0 359.4V432.9M619.1 359.4V432.9M638.1 359.4V432.9M657.2 359.4V432.9M587.5 419.6H667.5M587.5 399.6H667.5M587.5 379.7H667.5" stroke="#f4f4f4" stroke-width="0.5"/><path d="M590.5 359.4V432.9M609.5 359.4V432.9M628.6 359.4V432.9M647.7 359.4V432.9M666.7 359.4V432.9M587.5 429.6H667.5M587.5 409.6H667.5M587.5 389.7H667.5M587.5 369.7H667.5" stroke="#e9e9e9" stroke-width="0.6"/><path d="M590.5 426.7L594.2 424.5L597.9 422.3L601.6 420.0L605.3 417.6L609.0 415.3L612.7 412.8L616.4 410.4L620.2 407.9L623.9 405.4L627.6 402.8L631.3 400.2L635.0 397.6L638.7 394.9L642.4 392.2L646.1 389.4L649.8 386.6L653.5 383.8L657.3 380.9L661.0 378.0L664.7 375.1L664.7 390.0L661.0 391.6L657.3 393.2L653.5 394.8L649.8 396.5L646.1 398.2L642.4 399.9L638.7 401.7L635.0 403.5L631.3 405.4L627.6 407.3L623.9 409.2L620.2 411.2L616.4 413.2L612.7 415.3L609.0 417.4L605.3 419.5L601.6 421.7L597.9 423.9L594.2 426.1L590.5 428.4Z" fill="#b4b4b4" fill-opacity="0.35"/><path transform="scale(0.5)" d="M1182 847h0M1184 852h0M1185 852h0M1185 853h0M1186 840h0M1185 827h0M1188 832h0M1183 846h0M1250 815h0M1185 848h0M1185 826h0M1188 850h0M1187 854h0M1184 841h0M1187 855h0M1184 848h0M1184 853h0M1184 837h0M1246 852h0M1223 845h0M1186 856h0M1189 853h0M1183 852h0M1191 845h0M1214 858h0M1188 842h0M1200 857h0M1232 829h0M1183 853h0M1183 855h0M1183 856h0M1201 843h0M1186 843h0M1188 857h0M1188 851h0M1191 854h0M1186 851h0M1185 846h0M1184 859h0M1187 846h0M1213 834h0M1188 847h0M1185 857h0M1185 847h0M1226 821h0M1185 858h0M1185 854h0M1189 848h0M1182 857h0M1189 849h0M1185 853h0M1213 859h0M1198 841h0M1215 855h0M1194 859h0M1187 859h0M1198 851h0M1187 839h0M1188 853h0M1185 842h0M1189 852h0M1184 847h0M1198 834h0M1191 830h0M1200 859h0M1183 849h0M1185 855h0M1185 819h0M1192 849h0M1195 841h0M1186 859h0M1221 821h0M1184 848h0M1192 850h0M1184 857h0M1189 841h0M1215 817h0M1188 848h0M1184 834h0M1190 842h0M1182 843h0M1182 854h0M1183 859h0M1191 841h0M1187 853h0M1185 842h0M1183 850h0M1199 847h0M1186 826h0M1185 851h0M1184 850h0M1209 834h0M1189 846h0M1185 845h0M1183 855h0M1215 846h0M1189 849h0M1185 848h0M1188 850h0M1190 859h0M1199 845h0M1189 859h0M1184 852h0M1186 849h0M1234 845h0M1198 842h0M1185 853h0M1189 859h0M1186 854h0M1188 849h0M1183 859h0M1188 846h0M1194 835h0M1186 850h0M1186 847h0M1187 854h0M1189 856h0M1183 829h0M1188 825h0M1182 854h0M1211 842h0M1183 854h0M1202 842h0M1187 850h0M1189 850h0M1188 839h0M1194 851h0M1218 857h0M1206 835h0M1195 837h0M1184 845h0M1196 848h0M1187 851h0M1188 850h0M1189 854h0M1189 852h0M1190 808h0M1182 855h0M1184 854h0M1186 849h0M1185 852h0M1198 859h0M1192 847h0M1205 853h0M1187 845h0M1192 857h0M1206 858h0M1187 859h0M1183 846h0M1191 852h0M1217 859h0M1190 847h0M1183 849h0M1183 839h0M1190 859h0M1186 850h0M1187 847h0M1191 847h0M1184 836h0M1188 853h0M1182 857h0M1188 857h0M1248 825h0M1185 856h0M1186 857h0M1201 807h0M1186 853h0M1186 843h0M1188 855h0M1249 814h0M1197 848h0M1191 837h0M1185 849h0M1183 843h0M1187 857h0M1194 852h0M1188 844h0M1191 846h0M1213 856h0M1184 848h0M1186 859h0M1193 833h0M1183 851h0M1192 851h0M1191 834h0M1193 851h0M1240 831h0M1187 848h0M1191 853h0M1240 813h0M1188 829h0M1203 849h0M1184 856h0M1211 839h0M1184 850h0M1249 808h0M1199 841h0M1194 851h0M1184 842h0M1213 858h0M1191 849h0M1190 840h0M1189 849h0M1250 833h0M1186 853h0M1212 844h0M1189 853h0M1190 852h0M1189 858h0M1185 859h0M1197 852h0M1186 855h0M1190 846h0M1188 853h0M1185 828h0M1194 845h0M1191 841h0M1191 859h0M1217 831h0M1203 836h0M1189 851h0M1216 827h0M1186 859h0M1182 858h0M1209 833h0M1191 859h0M1188 856h0M1196 859h0M1186 846h0M1201 840h0M1183 821h0M1202 855h0M1198 844h0M1190 858h0M1231 848h0M1192 852h0M1195 848h0M1195 845h0M1189 839h0M1186 847h0M1216 814h0M1196 844h0M1184 847h0M1240 827h0M1199 850h0M1186 822h0M1190 852h0M1207 837h0M1195 859h0M1196 845h0M1188 840h0M1191 842h0M1197 845h0M1191 846h0M1245 821h0M1186 820h0M1190 858h0M1206 856h0M1274 725h0M1245 779h0M1231 787h0M1219 791h0M1222 803h0M1277 813h0M1329 817h0M1237 815h0M1268 855h0M1231 851h0" stroke="#000" stroke-width="3.4" stroke-linecap="square"/><line x1="590.5" y1="427.6" x2="664.7" y2="382.5" stroke="#3c3cec" stroke-width="1.05"/><rect x="587.5" y="359.4" width="80.0" height="73.5" fill="none" stroke="#9a9a9a" stroke-width="0.8"/><text x="591.1" y="367.0" font-size="3.3" fill="#222">R = 0.46, p < 2.2e−16</text><line x1="586.0" y1="429.6" x2="587.5" y2="429.6" stroke="#777" stroke-width="0.5"/><text x="585.6" y="431.6" text-anchor="end" font-size="5.6" fill="#1a1a1a" stroke="#1a1a1a" stroke-width="0.1">0.0</text><line x1="586.0" y1="409.6" x2="587.5" y2="409.6" stroke="#777" stroke-width="0.5"/><text x="585.6" y="411.6" text-anchor="end" font-size="5.6" fill="#1a1a1a" stroke="#1a1a1a" stroke-width="0.1">0.1</text><line x1="586.0" y1="389.7" x2="587.5" y2="389.7" stroke="#777" stroke-width="0.5"/><text x="585.6" y="391.7" text-anchor="end" font-size="5.6" fill="#1a1a1a" stroke="#1a1a1a" stroke-width="0.1">0.2</text><line x1="586.0" y1="369.7" x2="587.5" y2="369.7" stroke="#777" stroke-width="0.5"/><text x="585.6" y="371.7" text-anchor="end" font-size="5.6" fill="#1a1a1a" stroke="#1a1a1a" stroke-width="0.1">0.3</text><text transform="translate(574.2,395.1) rotate(-90)" text-anchor="middle" font-size="5.35" fill="#000" stroke="#000" stroke-width="0.18">Macrophage M1</text><line x1="590.5" y1="432.9" x2="590.5" y2="434.4" stroke="#777" stroke-width="0.5"/><text x="590.5" y="439.9" text-anchor="middle" font-size="6.7" fill="#222" stroke="#222" stroke-width="0.08">0.0</text><line x1="609.5" y1="432.9" x2="609.5" y2="434.4" stroke="#777" stroke-width="0.5"/><text x="609.5" y="439.9" text-anchor="middle" font-size="6.7" fill="#222" stroke="#222" stroke-width="0.08">2.5</text><line x1="628.6" y1="432.9" x2="628.6" y2="434.4" stroke="#777" stroke-width="0.5"/><text x="628.6" y="439.9" text-anchor="middle" font-size="6.7" fill="#222" stroke="#222" stroke-width="0.08">5.0</text><line x1="647.7" y1="432.9" x2="647.7" y2="434.4" stroke="#777" stroke-width="0.5"/><text x="647.7" y="439.9" text-anchor="middle" font-size="6.7" fill="#222" stroke="#222" stroke-width="0.08">7.5</text><line x1="666.7" y1="432.9" x2="666.7" y2="434.4" stroke="#777" stroke-width="0.5"/><text x="666.7" y="439.9" text-anchor="middle" font-size="6.7" fill="#222" stroke="#222" stroke-width="0.08">10.0</text><text x="629.3" y="448.5" text-anchor="middle" font-size="6.9" fill="#111" stroke="#111" stroke-width="0.1">CIITA</text><path d="M587.5 359.4L587.5 359.4L588.2 359.4L588.8 359.4L589.5 359.4L590.2 359.3L590.8 358.2L591.5 353.2L592.2 347.5L592.8 344.7L593.5 345.2L594.2 347.2L594.8 350.1L595.5 352.8L596.2 355.0L596.8 356.5L597.5 357.5L598.2 358.2L598.8 358.6L599.5 358.9L600.2 359.0L600.8 359.1L601.5 359.2L602.2 359.2L602.8 359.2L603.5 359.3L604.2 359.3L604.8 359.3L605.5 359.3L606.2 359.3L606.8 359.3L607.5 359.3L608.2 359.3L608.8 359.3L609.5 359.3L610.2 359.4L610.8 359.4L611.5 359.4L612.2 359.4L612.8 359.4L613.5 359.4L614.2 359.4L614.8 359.4L615.5 359.4L616.2 359.4L616.8 359.4L617.5 359.4L618.2 359.4L618.8 359.4L619.5 359.4L620.2 359.4L620.8 359.4L621.5 359.4L622.2 359.4L622.8 359.4L623.5 359.4L624.2 359.4L624.8 359.4L625.5 359.4L626.2 359.4L626.8 359.4L627.5 359.4L628.2 359.4L628.8 359.4L629.5 359.4L630.2 359.4L630.8 359.4L631.5 359.4L632.2 359.4L632.8 359.4L633.5 359.4L634.2 359.4L634.8 359.4L635.5 359.4L636.2 359.4L636.8 359.4L637.5 359.4L638.2 359.4L638.8 359.4L639.5 359.4L640.2 359.4L640.8 359.4L641.5 359.4L642.2 359.4L642.8 359.4L643.5 359.4L644.2 359.4L644.8 359.4L645.5 359.4L646.2 359.4L646.8 359.4L647.5 359.4L648.2 359.4L648.8 359.4L649.5 359.4L650.2 359.4L650.8 359.4L651.5 359.4L652.2 359.4L652.8 359.4L653.5 359.4L654.2 359.4L654.8 359.4L655.5 359.4L656.2 359.4L656.8 359.4L657.5 359.4L658.2 359.4L658.8 359.4L659.5 359.4L660.2 359.4L660.8 359.4L661.5 359.4L662.2 359.4L662.8 359.4L663.5 359.4L664.2 359.4L664.8 359.4L665.5 359.4L666.2 359.4L666.8 359.4L667.5 359.4L667.5 359.4Z" fill="#5656f4"/><path d="M667.5 432.9L667.5 432.9L667.9 431.4L668.2 431.2L668.7 430.9L669.5 430.7L670.5 430.4L671.7 430.2L673.0 430.0L674.2 429.7L675.3 429.5L676.0 429.2L676.4 429.0L676.8 428.5L677.1 428.2L677.6 428.0L678.3 427.8L679.4 427.5L680.5 427.3L681.7 427.0L682.8 426.8L683.6 426.5L684.0 426.3L684.0 426.0L683.5 425.8L682.8 425.5L681.8 425.3L680.7 425.1L679.6 424.8L678.7 424.6L677.8 424.3L677.1 424.1L676.4 423.8L675.8 423.6L675.2 423.3L674.7 423.1L674.1 422.9L673.6 422.6L673.0 422.4L672.6 422.1L672.1 421.9L671.8 421.6L671.6 421.4L671.2 420.9L670.7 420.4L670.5 420.2L670.2 419.9L669.8 419.7L669.6 419.4L669.3 419.2L669.0 418.7L668.7 416.2L668.4 415.5L668.3 412.8L668.1 412.1L668.2 410.4L668.0 409.4L668.2 407.2L667.9 406.2L667.7 405.5L667.7 402.8L667.5 400.3L667.5 397.6L667.6 394.9L667.5 392.2L667.6 389.5L667.5 386.8L667.5 384.1L667.5 381.4L667.5 378.8L667.5 376.1L667.5 373.4L667.5 370.7L667.5 368.0L667.5 365.3L667.6 362.6L667.5 359.9L667.5 359.4L667.5 359.4Z" fill="#e8b842"/><rect x="19.5" y="466.0" width="80.0" height="73.5" fill="#fff"/><path d="M32.0 466.0V539.5M51.1 466.0V539.5M70.1 466.0V539.5M89.2 466.0V539.5M19.5 526.5H99.5M19.5 507.1H99.5M19.5 487.7H99.5" stroke="#f4f4f4" stroke-width="0.5"/><path d="M22.5 466.0V539.5M41.5 466.0V539.5M60.6 466.0V539.5M79.7 466.0V539.5M98.7 466.0V539.5M19.5 536.2H99.5M19.5 516.8H99.5M19.5 497.4H99.5M19.5 478.1H99.5" stroke="#e9e9e9" stroke-width="0.6"/><path d="M22.5 528.5L26.2 525.8L29.9 523.1L33.6 520.3L37.3 517.5L41.0 514.7L44.7 511.8L48.4 508.8L52.2 505.9L55.9 502.9L59.6 499.8L63.3 496.7L67.0 493.6L70.7 490.5L74.4 487.3L78.1 484.0L81.8 480.7L85.5 477.4L89.3 474.1L93.0 470.7L96.7 467.2L96.7 482.2L93.0 484.2L89.3 486.3L85.5 488.4L81.8 490.6L78.1 492.8L74.4 495.0L70.7 497.3L67.0 499.6L63.3 501.9L59.6 504.3L55.9 506.7L52.2 509.2L48.4 511.7L44.7 514.2L41.0 516.8L37.3 519.4L33.6 522.0L29.9 524.7L26.2 527.5L22.5 530.2Z" fill="#b4b4b4" fill-opacity="0.35"/><path transform="scale(0.5)" d="M46 1055h0M48 1055h0M49 1051h0M49 1052h0M50 1062h0M49 1059h0M52 1065h0M47 1055h0M114 1061h0M49 1062h0M49 1062h0M52 1020h0M51 1054h0M48 1059h0M51 1062h0M48 1067h0M48 1052h0M48 1056h0M110 1056h0M87 1067h0M50 1052h0M53 1055h0M47 1069h0M55 1060h0M78 1054h0M52 1048h0M64 1033h0M96 1046h0M47 1069h0M47 1058h0M47 1057h0M65 1052h0M50 1049h0M52 1052h0M52 1048h0M55 1052h0M50 1054h0M48 1054h0M51 1061h0M77 1051h0M52 1071h0M49 1068h0M90 1037h0M49 1034h0M53 1048h0M48 1064h0M46 1071h0M53 1066h0M52 1051h0M49 1058h0M77 1036h0M52 1035h0M62 1041h0M79 1045h0M58 1035h0M51 1065h0M62 1053h0M51 1063h0M52 1052h0M47 1063h0M50 1050h0M49 1063h0M53 1052h0M48 1054h0M62 1048h0M50 1060h0M55 1059h0M48 1047h0M54 1059h0M64 1047h0M47 1053h0M49 1042h0M49 1045h0M56 1057h0M59 1041h0M48 1042h0M50 1072h0M85 1019h0M48 1056h0M56 1046h0M48 1056h0M53 1041h0M49 1055h0M79 1051h0M46 1054h0M48 1069h0M54 1060h0M46 1057h0M46 1062h0M47 1061h0M55 1054h0M51 1053h0M49 1050h0M48 1058h0M63 1057h0M50 1046h0M49 1070h0M73 1039h0M53 1063h0M49 1055h0M47 1070h0M79 1069h0M53 1057h0M49 1058h0M54 1048h0M63 1054h0M47 1067h0M50 1040h0M53 1050h0M50 1060h0M98 1013h0M62 1028h0M51 1039h0M48 1064h0M49 1035h0M53 1053h0M50 1069h0M52 1060h0M52 1056h0M58 1044h0M49 1041h0M50 1051h0M50 1055h0M51 1050h0M53 1049h0M47 1060h0M52 1059h0M46 1056h0M75 1066h0M47 1058h0M66 1034h0M46 1059h0M52 1055h0M58 1046h0M50 1061h0M82 1064h0M70 1063h0M59 1050h0M48 1064h0M47 1062h0M52 1035h0M60 1054h0M52 1053h0M53 1058h0M54 1045h0M48 1036h0M46 1072h0M60 1057h0M50 1046h0M47 1046h0M47 1062h0M62 1011h0M69 1070h0M51 1056h0M56 1045h0M70 1044h0M55 1050h0M52 1042h0M81 1071h0M49 1060h0M50 1060h0M54 1056h0M48 1067h0M47 1059h0M50 1040h0M50 1051h0M49 1057h0M51 1047h0M55 1052h0M52 1057h0M47 1065h0M53 1062h0M52 1056h0M112 1027h0M50 1047h0M65 1046h0M50 1046h0M50 1043h0M113 1038h0M61 1053h0M55 1057h0M47 1045h0M58 1046h0M47 1063h0M52 1032h0M52 1063h0M55 1056h0M77 1020h0M54 1070h0M48 1050h0M46 1051h0M50 1056h0M57 1049h0M56 1072h0M51 1071h0M53 1015h0M51 1065h0M48 1043h0M55 1055h0M57 1040h0M49 1072h0M47 1051h0M49 1066h0M104 1040h0M46 1057h0M70 1049h0M104 1035h0M56 1056h0M52 1059h0M50 1059h0M67 1034h0M49 1070h0M49 1053h0M53 1044h0M50 1056h0M50 1057h0M75 1041h0M113 1039h0M63 1052h0M58 1039h0M77 1060h0M55 1059h0M54 1055h0M55 1058h0M49 1046h0M48 1072h0M47 1061h0M53 1048h0M114 1012h0M76 1059h0M52 1055h0M58 1049h0M47 1060h0M47 1051h0M65 1063h0M49 1062h0M54 1050h0M53 1055h0M51 1068h0M49 1064h0M61 1054h0M54 1047h0M49 1044h0M51 1058h0M47 1068h0M52 1053h0M51 1043h0M58 1012h0M52 1039h0M55 1054h0M55 1047h0M81 1016h0M67 1039h0M80 1045h0M48 1064h0M52 1037h0M73 1037h0M57 1047h0M60 1070h0M50 1057h0M47 1056h0M65 1064h0M62 1040h0M54 1062h0M95 1053h0M56 1055h0M59 1065h0M51 1062h0M51 1054h0M50 1056h0M52 1070h0M80 1039h0M55 1010h0M60 1053h0M48 1071h0M48 1071h0M104 1030h0M50 1068h0M63 1045h0M50 1058h0M54 1052h0M53 1061h0M71 1026h0M59 1055h0M60 1028h0M56 1046h0M48 1053h0M55 1048h0M49 1066h0M61 1067h0M55 1045h0M109 1040h0M49 1059h0M54 1058h0M58 1054h0M70 1032h0M112 939h0M74 950h0M106 956h0M106 962h0M98 970h0M94 989h0M69 989h0M83 995h0M135 1047h0M144 1053h0M193 1053h0M138 999h0M86 999h0" stroke="#000" stroke-width="3.4" stroke-linecap="square"/><line x1="22.5" y1="529.4" x2="96.7" y2="474.7" stroke="#3c3cec" stroke-width="1.05"/><rect x="19.5" y="466.0" width="80.0" height="73.5" fill="none" stroke="#9a9a9a" stroke-width="0.8"/><text x="23.1" y="473.6" font-size="3.3" fill="#222">R = 0.56, p < 2.2e−16</text><line x1="18.0" y1="536.2" x2="19.5" y2="536.2" stroke="#777" stroke-width="0.5"/><text x="17.6" y="538.2" text-anchor="end" font-size="5.6" fill="#1a1a1a" stroke="#1a1a1a" stroke-width="0.1">0.0</text><line x1="18.0" y1="516.8" x2="19.5" y2="516.8" stroke="#777" stroke-width="0.5"/><text x="17.6" y="518.8" text-anchor="end" font-size="5.6" fill="#1a1a1a" stroke="#1a1a1a" stroke-width="0.1">0.2</text><line x1="18.0" y1="497.4" x2="19.5" y2="497.4" stroke="#777" stroke-width="0.5"/><text x="17.6" y="499.4" text-anchor="end" font-size="5.6" fill="#1a1a1a" stroke="#1a1a1a" stroke-width="0.1">0.4</text><line x1="18.0" y1="478.1" x2="19.5" y2="478.1" stroke="#777" stroke-width="0.5"/><text x="17.6" y="480.1" text-anchor="end" font-size="5.6" fill="#1a1a1a" stroke="#1a1a1a" stroke-width="0.1">0.6</text><text transform="translate(6.2,501.8) rotate(-90)" text-anchor="middle" font-size="5.35" fill="#000" stroke="#000" stroke-width="0.18">Macrophage M2</text><line x1="22.5" y1="539.5" x2="22.5" y2="541.0" stroke="#777" stroke-width="0.5"/><text x="22.5" y="546.5" text-anchor="middle" font-size="6.7" fill="#222" stroke="#222" stroke-width="0.08">0.0</text><line x1="41.5" y1="539.5" x2="41.5" y2="541.0" stroke="#777" stroke-width="0.5"/><text x="41.5" y="546.5" text-anchor="middle" font-size="6.7" fill="#222" stroke="#222" stroke-width="0.08">2.5</text><line x1="60.6" y1="539.5" x2="60.6" y2="541.0" stroke="#777" stroke-width="0.5"/><text x="60.6" y="546.5" text-anchor="middle" font-size="6.7" fill="#222" stroke="#222" stroke-width="0.08">5.0</text><line x1="79.7" y1="539.5" x2="79.7" y2="541.0" stroke="#777" stroke-width="0.5"/><text x="79.7" y="546.5" text-anchor="middle" font-size="6.7" fill="#222" stroke="#222" stroke-width="0.08">7.5</text><line x1="98.7" y1="539.5" x2="98.7" y2="541.0" stroke="#777" stroke-width="0.5"/><text x="98.7" y="546.5" text-anchor="middle" font-size="6.7" fill="#222" stroke="#222" stroke-width="0.08">10.0</text><text x="61.3" y="555.1" text-anchor="middle" font-size="6.9" fill="#111" stroke="#111" stroke-width="0.1">CIITA</text><path d="M19.5 466.0L19.5 466.0L20.2 466.0L20.8 466.0L21.5 466.0L22.2 465.9L22.8 464.8L23.5 459.8L24.2 454.1L24.8 451.3L25.5 451.8L26.2 453.8L26.8 456.7L27.5 459.4L28.2 461.6L28.8 463.1L29.5 464.1L30.2 464.8L30.8 465.2L31.5 465.5L32.2 465.6L32.8 465.7L33.5 465.8L34.2 465.8L34.8 465.8L35.5 465.9L36.2 465.9L36.8 465.9L37.5 465.9L38.2 465.9L38.8 465.9L39.5 465.9L40.2 465.9L40.8 465.9L41.5 465.9L42.2 466.0L42.8 466.0L43.5 466.0L44.2 466.0L44.8 466.0L45.5 466.0L46.2 466.0L46.8 466.0L47.5 466.0L48.2 466.0L48.8 466.0L49.5 466.0L50.2 466.0L50.8 466.0L51.5 466.0L52.2 466.0L52.8 466.0L53.5 466.0L54.2 466.0L54.8 466.0L55.5 466.0L56.2 466.0L56.8 466.0L57.5 466.0L58.2 466.0L58.8 466.0L59.5 466.0L60.2 466.0L60.8 466.0L61.5 466.0L62.2 466.0L62.8 466.0L63.5 466.0L64.2 466.0L64.8 466.0L65.5 466.0L66.2 466.0L66.8 466.0L67.5 466.0L68.2 466.0L68.8 466.0L69.5 466.0L70.2 466.0L70.8 466.0L71.5 466.0L72.2 466.0L72.8 466.0L73.5 466.0L74.2 466.0L74.8 466.0L75.5 466.0L76.2 466.0L76.8 466.0L77.5 466.0L78.2 466.0L78.8 466.0L79.5 466.0L80.2 466.0L80.8 466.0L81.5 466.0L82.2 466.0L82.8 466.0L83.5 466.0L84.2 466.0L84.8 466.0L85.5 466.0L86.2 466.0L86.8 466.0L87.5 466.0L88.2 466.0L88.8 466.0L89.5 466.0L90.2 466.0L90.8 466.0L91.5 466.0L92.2 466.0L92.8 466.0L93.5 466.0L94.2 466.0L94.8 466.0L95.5 466.0L96.2 466.0L96.8 466.0L97.5 466.0L98.2 466.0L98.8 466.0L99.5 466.0L99.5 466.0Z" fill="#5656f4"/><path d="M99.5 539.5L99.5 539.5L99.8 538.3L100.1 537.8L100.7 537.3L101.0 537.0L101.4 536.8L101.9 536.6L102.3 536.3L102.8 536.1L103.2 535.8L103.5 535.6L103.8 535.3L104.1 534.8L104.4 534.1L104.7 533.6L104.9 533.4L105.3 533.1L105.8 532.9L106.3 532.6L107.0 532.4L107.7 532.1L108.4 531.9L109.2 531.7L110.0 531.4L110.8 531.2L111.5 530.9L112.2 530.7L112.8 530.4L113.3 530.2L113.8 529.9L114.2 529.7L114.6 529.5L114.9 529.2L115.2 529.0L115.6 528.5L115.9 528.0L116.0 527.5L115.6 526.8L115.3 526.5L114.9 526.3L114.4 526.0L113.8 525.8L113.1 525.5L112.4 525.3L111.7 525.0L111.0 524.8L110.4 524.6L109.8 524.3L109.2 524.1L108.6 523.8L108.1 523.6L107.7 523.3L107.2 523.1L106.7 522.8L106.3 522.6L105.8 522.4L105.4 522.1L104.9 521.9L104.6 521.6L104.2 521.4L104.0 521.1L103.6 520.6L103.3 520.1L103.0 519.7L102.7 519.2L102.5 518.7L102.1 517.9L101.9 517.5L101.6 517.0L101.2 516.5L100.9 516.0L100.6 515.5L100.3 514.8L100.1 513.5L99.9 512.5L99.9 509.9L100.1 507.2L99.9 504.5L99.6 503.5L99.6 500.8L99.8 499.3L99.7 496.6L99.7 493.9L99.6 492.5L99.5 489.8L99.5 487.1L99.6 484.4L99.6 481.7L99.6 479.0L99.6 476.3L99.6 473.6L99.6 470.9L99.6 468.2L99.5 466.0L99.5 466.0Z" fill="#e8b842"/><rect x="135.0" y="466.0" width="80.0" height="73.5" fill="#fff"/><path d="M147.5 466.0V539.5M166.6 466.0V539.5M185.6 466.0V539.5M204.7 466.0V539.5M135.0 528.1H215.0M135.0 512.0H215.0M135.0 495.9H215.0M135.0 479.8H215.0" stroke="#f4f4f4" stroke-width="0.5"/><path d="M138.0 466.0V539.5M157.0 466.0V539.5M176.1 466.0V539.5M195.2 466.0V539.5M214.2 466.0V539.5M135.0 536.2H215.0M135.0 520.1H215.0M135.0 504.0H215.0M135.0 487.9H215.0M135.0 471.8H215.0" stroke="#e9e9e9" stroke-width="0.6"/><path d="M138.0 524.9L141.7 524.5L145.4 524.2L149.1 523.8L152.8 523.4L156.5 522.9L160.2 522.4L163.9 521.8L167.7 521.2L171.4 520.6L175.1 519.9L178.8 519.2L182.5 518.5L186.2 517.7L189.9 516.9L193.6 516.0L197.3 515.1L201.0 514.2L204.8 513.2L208.5 512.2L212.2 511.2L212.2 526.1L208.5 525.8L204.8 525.5L201.0 525.2L197.3 525.0L193.6 524.8L189.9 524.6L186.2 524.5L182.5 524.4L178.8 524.4L175.1 524.4L171.4 524.4L167.7 524.5L163.9 524.6L160.2 524.8L156.5 525.0L152.8 525.2L149.1 525.5L145.4 525.8L141.7 526.1L138.0 526.5Z" fill="#b4b4b4" fill-opacity="0.35"/><path transform="scale(0.5)" d="M277 1070h0M279 1057h0M280 1045h0M280 1054h0M281 1055h0M280 1060h0M283 1072h0M278 1072h0M345 1029h0M280 1072h0M280 1025h0M283 1055h0M282 992h0M279 1033h0M282 1009h0M279 1042h0M279 1046h0M341 1041h0M318 1017h0M281 1002h0M284 1040h0M278 1062h0M286 1072h0M309 1072h0M283 1053h0M295 1072h0M327 1033h0M278 1057h0M278 1047h0M278 1070h0M296 1071h0M281 993h0M283 1071h0M283 1057h0M281 1064h0M280 1016h0M279 1009h0M282 1048h0M308 1050h0M280 954h0M280 1036h0M321 1072h0M284 1051h0M279 1072h0M280 1026h0M277 1056h0M283 1072h0M280 1058h0M308 1047h0M293 1047h0M310 1043h0M289 1034h0M282 1046h0M293 1072h0M282 1071h0M278 1042h0M281 1057h0M280 1063h0M284 1053h0M279 1046h0M293 1072h0M281 1044h0M279 1046h0M285 1050h0M295 1047h0M278 1050h0M280 1070h0M287 1070h0M290 1044h0M281 1072h0M316 1072h0M279 1058h0M284 1035h0M280 1053h0M310 1034h0M277 1041h0M285 1072h0M277 1069h0M277 1072h0M278 1036h0M282 1049h0M279 1060h0M279 1055h0M278 1050h0M294 1043h0M280 1049h0M304 1072h0M284 1021h0M278 1025h0M310 1036h0M280 1050h0M285 1059h0M294 1061h0M278 1041h0M281 1070h0M279 1050h0M281 1019h0M329 1045h0M293 1060h0M282 996h0M280 1047h0M284 1047h0M284 1061h0M281 1022h0M283 1029h0M278 1071h0M283 1032h0M289 1063h0M280 1047h0M281 1041h0M281 1032h0M282 1035h0M284 1067h0M280 1036h0M277 1023h0M306 1072h0M278 1040h0M284 1062h0M283 1016h0M313 1067h0M301 1071h0M279 1048h0M290 1044h0M283 1033h0M291 1014h0M282 1041h0M284 1056h0M284 1050h0M291 991h0M279 1020h0M281 1040h0M278 1034h0M287 1072h0M300 1070h0M282 1024h0M287 1071h0M301 1021h0M278 1044h0M286 1006h0M312 1058h0M281 1058h0M285 1051h0M279 1069h0M278 1053h0M278 1052h0M285 1058h0M282 1018h0M286 1046h0M279 1048h0M279 1039h0M278 1025h0M277 1067h0M283 1046h0M343 1039h0M281 1053h0M279 1071h0M281 1054h0M296 1040h0M278 1047h0M283 1055h0M282 1072h0M344 1050h0M292 1042h0M286 1059h0M289 1051h0M283 1049h0M286 1039h0M308 1070h0M277 1050h0M288 1010h0M279 974h0M278 1060h0M282 1061h0M282 1047h0M286 1067h0M288 1031h0M278 1033h0M280 1030h0M335 978h0M282 1039h0M277 1067h0M281 1071h0M279 1071h0M282 1037h0M285 1072h0M286 1046h0M279 1017h0M301 1037h0M335 1034h0M283 1042h0M283 1059h0M280 1066h0M298 1069h0M281 1058h0M344 1072h0M279 1050h0M294 1044h0M289 1072h0M279 1023h0M308 1071h0M286 1035h0M285 1062h0M284 1055h0M345 1048h0M281 1055h0M307 1054h0M280 1042h0M278 1054h0M296 1030h0M280 1070h0M282 1056h0M285 1030h0M284 1065h0M278 1052h0M281 1051h0M282 1045h0M292 1062h0M285 1060h0M285 1046h0M280 1054h0M282 1042h0M283 1052h0M282 1053h0M280 1044h0M289 1040h0M283 1043h0M286 1028h0M312 1016h0M298 1032h0M284 1043h0M311 1049h0M284 1027h0M280 1035h0M283 1051h0M278 1049h0M280 1051h0M281 1047h0M277 1042h0M281 1035h0M304 1072h0M286 1049h0M288 1009h0M291 1027h0M278 1050h0M278 1045h0M296 1007h0M280 1032h0M297 1054h0M293 1058h0M280 1052h0M285 1064h0M326 1071h0M290 1043h0M282 1046h0M279 1061h0M290 1053h0M282 1070h0M282 1048h0M283 1037h0M279 1025h0M311 1071h0M281 1070h0M286 1046h0M280 1064h0M291 1069h0M335 1052h0M279 1026h0M280 993h0M294 1057h0M281 1034h0M281 1038h0M282 1005h0M284 1009h0M302 1052h0M290 1071h0M291 1033h0M282 1056h0M287 1052h0M280 1071h0M286 1029h0M280 1039h0M292 1060h0M280 1056h0M278 1038h0M286 1052h0M281 1045h0M340 1049h0M281 1051h0M283 1029h0M301 1072h0M284 939h0M316 955h0M316 972h0M320 976h0M294 966h0M424 1026h0M372 1032h0M331 1056h0M366 1072h0M371 1072h0" stroke="#000" stroke-width="3.4" stroke-linecap="square"/><line x1="138.0" y1="525.7" x2="212.2" y2="518.6" stroke="#3c3cec" stroke-width="1.05"/><rect x="135.0" y="466.0" width="80.0" height="73.5" fill="none" stroke="#9a9a9a" stroke-width="0.8"/><text x="138.6" y="473.6" font-size="3.3" fill="#222">R = 0.061, p = 0.24</text><line x1="133.5" y1="536.2" x2="135.0" y2="536.2" stroke="#777" stroke-width="0.5"/><text x="133.1" y="538.2" text-anchor="end" font-size="5.6" fill="#1a1a1a" stroke="#1a1a1a" stroke-width="0.1">0.00</text><line x1="133.5" y1="520.1" x2="135.0" y2="520.1" stroke="#777" stroke-width="0.5"/><text x="133.1" y="522.1" text-anchor="end" font-size="5.6" fill="#1a1a1a" stroke="#1a1a1a" stroke-width="0.1">0.02</text><line x1="133.5" y1="504.0" x2="135.0" y2="504.0" stroke="#777" stroke-width="0.5"/><text x="133.1" y="506.0" text-anchor="end" font-size="5.6" fill="#1a1a1a" stroke="#1a1a1a" stroke-width="0.1">0.04</text><line x1="133.5" y1="487.9" x2="135.0" y2="487.9" stroke="#777" stroke-width="0.5"/><text x="133.1" y="489.9" text-anchor="end" font-size="5.6" fill="#1a1a1a" stroke="#1a1a1a" stroke-width="0.1">0.06</text><line x1="133.5" y1="471.8" x2="135.0" y2="471.8" stroke="#777" stroke-width="0.5"/><text x="133.1" y="473.8" text-anchor="end" font-size="5.6" fill="#1a1a1a" stroke="#1a1a1a" stroke-width="0.1">0.08</text><text transform="translate(120.6,501.8) rotate(-90)" text-anchor="middle" font-size="5.35" fill="#000" stroke="#000" stroke-width="0.18">Mast cell activated</text><line x1="138.0" y1="539.5" x2="138.0" y2="541.0" stroke="#777" stroke-width="0.5"/><text x="138.0" y="546.5" text-anchor="middle" font-size="6.7" fill="#222" stroke="#222" stroke-width="0.08">0.0</text><line x1="157.0" y1="539.5" x2="157.0" y2="541.0" stroke="#777" stroke-width="0.5"/><text x="157.0" y="546.5" text-anchor="middle" font-size="6.7" fill="#222" stroke="#222" stroke-width="0.08">2.5</text><line x1="176.1" y1="539.5" x2="176.1" y2="541.0" stroke="#777" stroke-width="0.5"/><text x="176.1" y="546.5" text-anchor="middle" font-size="6.7" fill="#222" stroke="#222" stroke-width="0.08">5.0</text><line x1="195.2" y1="539.5" x2="195.2" y2="541.0" stroke="#777" stroke-width="0.5"/><text x="195.2" y="546.5" text-anchor="middle" font-size="6.7" fill="#222" stroke="#222" stroke-width="0.08">7.5</text><line x1="214.2" y1="539.5" x2="214.2" y2="541.0" stroke="#777" stroke-width="0.5"/><text x="214.2" y="546.5" text-anchor="middle" font-size="6.7" fill="#222" stroke="#222" stroke-width="0.08">10.0</text><text x="176.8" y="555.1" text-anchor="middle" font-size="6.9" fill="#111" stroke="#111" stroke-width="0.1">CIITA</text><path d="M135.0 466.0L135.0 466.0L135.7 466.0L136.3 466.0L137.0 466.0L137.7 465.9L138.3 464.8L139.0 459.8L139.7 454.1L140.3 451.3L141.0 451.8L141.7 453.8L142.3 456.7L143.0 459.4L143.7 461.6L144.3 463.1L145.0 464.1L145.7 464.8L146.3 465.2L147.0 465.5L147.7 465.6L148.3 465.7L149.0 465.8L149.7 465.8L150.3 465.8L151.0 465.9L151.7 465.9L152.3 465.9L153.0 465.9L153.7 465.9L154.3 465.9L155.0 465.9L155.7 465.9L156.3 465.9L157.0 465.9L157.7 466.0L158.3 466.0L159.0 466.0L159.7 466.0L160.3 466.0L161.0 466.0L161.7 466.0L162.3 466.0L163.0 466.0L163.7 466.0L164.3 466.0L165.0 466.0L165.7 466.0L166.3 466.0L167.0 466.0L167.7 466.0L168.3 466.0L169.0 466.0L169.7 466.0L170.3 466.0L171.0 466.0L171.7 466.0L172.3 466.0L173.0 466.0L173.7 466.0L174.3 466.0L175.0 466.0L175.7 466.0L176.3 466.0L177.0 466.0L177.7 466.0L178.3 466.0L179.0 466.0L179.7 466.0L180.3 466.0L181.0 466.0L181.7 466.0L182.3 466.0L183.0 466.0L183.7 466.0L184.3 466.0L185.0 466.0L185.7 466.0L186.3 466.0L187.0 466.0L187.7 466.0L188.3 466.0L189.0 466.0L189.7 466.0L190.3 466.0L191.0 466.0L191.7 466.0L192.3 466.0L193.0 466.0L193.7 466.0L194.3 466.0L195.0 466.0L195.7 466.0L196.3 466.0L197.0 466.0L197.7 466.0L198.3 466.0L199.0 466.0L199.7 466.0L200.3 466.0L201.0 466.0L201.7 466.0L202.3 466.0L203.0 466.0L203.7 466.0L204.3 466.0L205.0 466.0L205.7 466.0L206.3 466.0L207.0 466.0L207.7 466.0L208.3 466.0L209.0 466.0L209.7 466.0L210.3 466.0L211.0 466.0L211.7 466.0L212.3 466.0L213.0 466.0L213.7 466.0L214.3 466.0L215.0 466.0L215.0 466.0Z" fill="#5656f4"/><path d="M215.0 539.5L221.7 539.5L222.5 539.3L223.3 539.0L224.1 538.8L224.9 538.5L225.7 538.3L226.5 538.0L227.3 537.8L228.1 537.5L228.7 537.3L229.4 537.0L229.9 536.8L230.4 536.6L230.8 536.3L231.1 536.1L231.5 535.6L231.1 534.6L230.8 534.4L230.4 534.1L230.0 533.9L229.6 533.6L229.2 533.4L228.7 533.1L228.2 532.9L227.8 532.6L227.4 532.4L227.0 532.1L226.6 531.9L226.3 531.7L226.1 531.4L225.7 530.9L225.5 530.4L225.9 529.0L226.2 528.5L226.6 528.0L227.0 527.5L227.4 527.0L227.7 526.5L228.0 526.0L228.3 525.3L228.0 523.3L227.8 522.8L227.4 522.4L226.9 521.9L226.4 521.4L226.2 521.1L225.9 520.9L225.7 520.6L225.4 520.4L225.1 520.1L224.9 519.9L224.6 519.7L224.3 519.4L224.1 519.2L223.8 518.9L223.3 518.4L222.9 517.9L222.4 517.5L222.0 517.0L221.6 516.5L221.2 516.0L220.8 515.5L220.5 515.0L220.1 514.5L219.8 514.0L219.5 513.5L219.1 513.0L218.9 512.5L218.6 512.1L218.2 511.3L217.9 510.6L217.6 509.9L217.4 509.1L217.2 508.4L216.9 507.4L216.7 506.4L216.5 505.2L216.3 504.0L216.1 502.8L215.9 501.5L215.7 500.1L215.6 497.4L215.5 494.7L215.3 492.2L215.4 489.5L215.4 486.8L215.3 484.1L215.2 481.4L215.2 478.7L215.2 476.0L215.1 473.4L215.1 470.7L215.1 468.0L215.1 466.0L215.0 466.0Z" fill="#e8b842"/><rect x="250.0" y="466.0" width="80.0" height="73.5" fill="#fff"/><path d="M262.5 466.0V539.5M281.6 466.0V539.5M300.6 466.0V539.5M319.7 466.0V539.5M250.0 527.0H330.0M250.0 508.8H330.0M250.0 490.6H330.0" stroke="#f4f4f4" stroke-width="0.5"/><path d="M253.0 466.0V539.5M272.0 466.0V539.5M291.1 466.0V539.5M310.2 466.0V539.5M329.2 466.0V539.5M250.0 536.2H330.0M250.0 517.9H330.0M250.0 499.7H330.0M250.0 481.5H330.0" stroke="#e9e9e9" stroke-width="0.6"/><path d="M253.0 534.1L256.7 533.4L260.4 532.6L264.1 531.8L267.8 530.9L271.5 530.1L275.2 529.1L278.9 528.2L282.7 527.2L286.4 526.1L290.1 525.0L293.8 523.9L297.5 522.8L301.2 521.6L304.9 520.3L308.6 519.0L312.3 517.7L316.0 516.4L319.8 515.0L323.5 513.6L327.2 512.1L327.2 527.1L323.5 527.1L319.8 527.2L316.0 527.4L312.3 527.6L308.6 527.8L304.9 528.1L301.2 528.4L297.5 528.7L293.8 529.1L290.1 529.5L286.4 529.9L282.7 530.4L278.9 531.0L275.2 531.5L271.5 532.2L267.8 532.8L264.1 533.5L260.4 534.2L256.7 535.0L253.0 535.8Z" fill="#b4b4b4" fill-opacity="0.35"/><path transform="scale(0.5)" d="M507 1071h0M509 1072h0M510 1071h0M511 1072h0M510 1068h0M513 1065h0M508 1065h0M575 1072h0M510 1056h0M510 1029h0M513 1072h0M512 1072h0M509 1072h0M512 1061h0M509 1070h0M509 1068h0M571 1053h0M548 1072h0M511 1068h0M514 1068h0M508 1072h0M516 1072h0M539 1070h0M513 1069h0M525 1069h0M557 1061h0M508 1041h0M526 1072h0M511 1047h0M513 1070h0M513 1068h0M511 1070h0M538 1072h0M513 1053h0M510 1070h0M551 1072h0M510 1069h0M510 1056h0M514 1056h0M510 1072h0M507 1070h0M514 1067h0M513 1056h0M510 1071h0M523 1072h0M540 1038h0M519 1071h0M512 1062h0M523 1064h0M511 1068h0M510 1054h0M514 1070h0M523 1066h0M516 1068h0M509 1067h0M515 1072h0M525 1072h0M517 1065h0M520 1072h0M546 1072h0M517 1072h0M514 1072h0M510 1071h0M540 1041h0M507 1071h0M516 1067h0M508 1071h0M524 1071h0M510 1062h0M534 1068h0M508 1070h0M540 1068h0M514 1062h0M524 1071h0M511 1048h0M559 1056h0M523 1070h0M512 1065h0M508 1055h0M513 1059h0M519 1072h0M514 1070h0M508 1071h0M507 1067h0M536 1065h0M508 1069h0M527 1071h0M514 1059h0M513 1061h0M519 1048h0M511 1067h0M543 1068h0M531 1071h0M509 1063h0M520 1068h0M521 1068h0M512 1066h0M514 1069h0M514 1064h0M515 1055h0M509 1064h0M507 1069h0M521 1072h0M523 1065h0M530 1068h0M512 1071h0M517 1071h0M531 1071h0M512 1070h0M516 1066h0M542 1072h0M510 1059h0M515 1071h0M510 1066h0M516 1067h0M509 1064h0M508 1062h0M507 1065h0M573 1056h0M508 1067h0M511 1071h0M513 1071h0M574 1072h0M522 1071h0M512 1067h0M519 1065h0M513 1039h0M516 1069h0M507 1072h0M518 1069h0M517 1065h0M512 1066h0M518 1071h0M565 1058h0M507 1070h0M511 1059h0M509 1068h0M512 1064h0M516 1072h0M509 1064h0M531 1051h0M565 1054h0M511 1064h0M528 1063h0M510 1065h0M536 1072h0M574 1058h0M524 1063h0M519 1056h0M509 1053h0M516 1070h0M575 1051h0M511 1069h0M537 1060h0M519 1062h0M526 1048h0M514 1071h0M515 1071h0M508 1060h0M508 1067h0M522 1072h0M519 1067h0M528 1052h0M514 1068h0M541 1072h0M508 1068h0M511 1063h0M534 1069h0M516 1068h0M518 1066h0M521 1071h0M511 1066h0M526 1069h0M527 1070h0M523 1071h0M556 1071h0M517 1071h0M512 1023h0M510 1051h0M521 1065h0M565 1072h0M524 1061h0M514 1064h0M532 1072h0M520 1047h0M521 1069h0M510 1035h0M522 1053h0M510 1068h0M570 1071h0M510 1057h0M531 1072h0M511 939h0M514 981h0M567 1006h0M572 1008h0M594 1016h0M536 1024h0M654 1072h0M599 1072h0M605 1072h0" stroke="#000" stroke-width="3.4" stroke-linecap="square"/><line x1="253.0" y1="534.9" x2="327.2" y2="519.6" stroke="#3c3cec" stroke-width="1.05"/><rect x="250.0" y="466.0" width="80.0" height="73.5" fill="none" stroke="#9a9a9a" stroke-width="0.8"/><text x="253.6" y="473.6" font-size="3.3" fill="#222">R = 0.23, p = 7.9e−06</text><line x1="248.5" y1="536.2" x2="250.0" y2="536.2" stroke="#777" stroke-width="0.5"/><text x="248.1" y="538.2" text-anchor="end" font-size="5.6" fill="#1a1a1a" stroke="#1a1a1a" stroke-width="0.1">0.00</text><line x1="248.5" y1="517.9" x2="250.0" y2="517.9" stroke="#777" stroke-width="0.5"/><text x="248.1" y="519.9" text-anchor="end" font-size="5.6" fill="#1a1a1a" stroke="#1a1a1a" stroke-width="0.1">0.03</text><line x1="248.5" y1="499.7" x2="250.0" y2="499.7" stroke="#777" stroke-width="0.5"/><text x="248.1" y="501.7" text-anchor="end" font-size="5.6" fill="#1a1a1a" stroke="#1a1a1a" stroke-width="0.1">0.06</text><line x1="248.5" y1="481.5" x2="250.0" y2="481.5" stroke="#777" stroke-width="0.5"/><text x="248.1" y="483.5" text-anchor="end" font-size="5.6" fill="#1a1a1a" stroke="#1a1a1a" stroke-width="0.1">0.09</text><text transform="translate(233.6,501.8) rotate(-90)" text-anchor="middle" font-size="5.35" fill="#000" stroke="#000" stroke-width="0.18">Mast cell resting</text><line x1="253.0" y1="539.5" x2="253.0" y2="541.0" stroke="#777" stroke-width="0.5"/><text x="253.0" y="546.5" text-anchor="middle" font-size="6.7" fill="#222" stroke="#222" stroke-width="0.08">0.0</text><line x1="272.0" y1="539.5" x2="272.0" y2="541.0" stroke="#777" stroke-width="0.5"/><text x="272.0" y="546.5" text-anchor="middle" font-size="6.7" fill="#222" stroke="#222" stroke-width="0.08">2.5</text><line x1="291.1" y1="539.5" x2="291.1" y2="541.0" stroke="#777" stroke-width="0.5"/><text x="291.1" y="546.5" text-anchor="middle" font-size="6.7" fill="#222" stroke="#222" stroke-width="0.08">5.0</text><line x1="310.2" y1="539.5" x2="310.2" y2="541.0" stroke="#777" stroke-width="0.5"/><text x="310.2" y="546.5" text-anchor="middle" font-size="6.7" fill="#222" stroke="#222" stroke-width="0.08">7.5</text><line x1="329.2" y1="539.5" x2="329.2" y2="541.0" stroke="#777" stroke-width="0.5"/><text x="329.2" y="546.5" text-anchor="middle" font-size="6.7" fill="#222" stroke="#222" stroke-width="0.08">10.0</text><text x="291.8" y="555.1" text-anchor="middle" font-size="6.9" fill="#111" stroke="#111" stroke-width="0.1">CIITA</text><path d="M250.0 466.0L250.0 466.0L250.7 466.0L251.3 466.0L252.0 466.0L252.7 465.9L253.3 464.8L254.0 459.8L254.7 454.1L255.3 451.3L256.0 451.8L256.7 453.8L257.3 456.7L258.0 459.4L258.7 461.6L259.3 463.1L260.0 464.1L260.7 464.8L261.3 465.2L262.0 465.5L262.7 465.6L263.3 465.7L264.0 465.8L264.7 465.8L265.3 465.8L266.0 465.9L266.7 465.9L267.3 465.9L268.0 465.9L268.7 465.9L269.3 465.9L270.0 465.9L270.7 465.9L271.3 465.9L272.0 465.9L272.7 466.0L273.3 466.0L274.0 466.0L274.7 466.0L275.3 466.0L276.0 466.0L276.7 466.0L277.3 466.0L278.0 466.0L278.7 466.0L279.3 466.0L280.0 466.0L280.7 466.0L281.3 466.0L282.0 466.0L282.7 466.0L283.3 466.0L284.0 466.0L284.7 466.0L285.3 466.0L286.0 466.0L286.7 466.0L287.3 466.0L288.0 466.0L288.7 466.0L289.3 466.0L290.0 466.0L290.7 466.0L291.3 466.0L292.0 466.0L292.7 466.0L293.3 466.0L294.0 466.0L294.7 466.0L295.3 466.0L296.0 466.0L296.7 466.0L297.3 466.0L298.0 466.0L298.7 466.0L299.3 466.0L300.0 466.0L300.7 466.0L301.3 466.0L302.0 466.0L302.7 466.0L303.3 466.0L304.0 466.0L304.7 466.0L305.3 466.0L306.0 466.0L306.7 466.0L307.3 466.0L308.0 466.0L308.7 466.0L309.3 466.0L310.0 466.0L310.7 466.0L311.3 466.0L312.0 466.0L312.7 466.0L313.3 466.0L314.0 466.0L314.7 466.0L315.3 466.0L316.0 466.0L316.7 466.0L317.3 466.0L318.0 466.0L318.7 466.0L319.3 466.0L320.0 466.0L320.7 466.0L321.3 466.0L322.0 466.0L322.7 466.0L323.3 466.0L324.0 466.0L324.7 466.0L325.3 466.0L326.0 466.0L326.7 466.0L327.3 466.0L328.0 466.0L328.7 466.0L329.3 466.0L330.0 466.0L330.0 466.0Z" fill="#5656f4"/><path d="M330.0 539.5L330.0 539.5L330.2 537.5L330.8 537.3L332.3 537.0L335.3 536.8L339.6 536.6L343.9 536.3L346.5 536.1L346.4 535.8L344.2 535.6L341.5 535.3L339.2 535.1L337.6 534.8L336.8 534.6L336.4 534.4L336.1 534.1L335.6 533.9L334.9 533.6L333.9 533.4L333.1 533.1L332.5 532.9L332.3 532.6L332.0 532.1L331.5 531.7L331.1 531.2L330.8 530.4L330.6 529.0L330.7 528.0L330.6 527.0L330.3 525.5L330.1 524.8L330.4 524.1L330.4 523.6L330.1 522.8L330.1 520.1L330.1 517.5L330.1 514.8L330.1 512.1L330.0 509.4L330.0 506.7L330.1 504.0L330.0 501.3L330.0 498.6L330.0 495.9L330.0 493.2L330.1 490.5L330.0 487.8L330.0 485.1L330.0 482.4L330.0 479.7L330.0 477.0L330.0 474.3L330.0 471.6L330.1 468.9L330.0 466.2L330.0 466.0L330.0 466.0Z" fill="#e8b842"/><rect x="364.5" y="466.0" width="80.0" height="73.5" fill="#fff"/><path d="M377.0 466.0V539.5M396.1 466.0V539.5M415.1 466.0V539.5M434.2 466.0V539.5M364.5 526.9H444.5M364.5 508.3H444.5M364.5 489.8H444.5" stroke="#f4f4f4" stroke-width="0.5"/><path d="M367.5 466.0V539.5M386.5 466.0V539.5M405.6 466.0V539.5M424.7 466.0V539.5M443.7 466.0V539.5M364.5 536.2H444.5M364.5 517.6H444.5M364.5 499.0H444.5M364.5 480.5H444.5" stroke="#e9e9e9" stroke-width="0.6"/><path d="M367.5 527.9L371.2 526.1L374.9 524.2L378.6 522.2L382.3 520.3L386.0 518.3L389.7 516.3L393.4 514.2L397.2 512.1L400.9 509.9L404.6 507.7L408.3 505.5L412.0 503.2L415.7 500.9L419.4 498.6L423.1 496.2L426.8 493.8L430.5 491.3L434.3 488.8L438.0 486.3L441.7 483.7L441.7 498.7L438.0 499.8L434.3 501.1L430.5 502.3L426.8 503.6L423.1 504.9L419.4 506.3L415.7 507.7L412.0 509.2L408.3 510.7L404.6 512.2L400.9 513.7L397.2 515.4L393.4 517.0L389.7 518.7L386.0 520.4L382.3 522.2L378.6 524.0L374.9 525.8L371.2 527.7L367.5 529.6Z" fill="#b4b4b4" fill-opacity="0.35"/><path transform="scale(0.5)" d="M736 1061h0M738 1045h0M739 1057h0M739 1022h0M740 1063h0M739 1056h0M742 1040h0M737 1063h0M804 1027h0M739 1037h0M739 1067h0M742 1044h0M741 1053h0M738 1057h0M741 1029h0M738 1042h0M738 1060h0M738 1047h0M800 1040h0M777 1046h0M740 1034h0M743 1064h0M737 1070h0M745 1072h0M768 1059h0M742 1051h0M754 1072h0M786 1070h0M737 1072h0M737 1049h0M755 1055h0M740 1052h0M742 1025h0M742 1059h0M745 1061h0M740 1045h0M739 1049h0M738 1038h0M741 1058h0M767 1072h0M742 1047h0M739 1072h0M780 1037h0M739 1050h0M739 1066h0M743 1022h0M738 1071h0M743 1038h0M742 1071h0M739 1052h0M767 1031h0M742 1025h0M752 1037h0M769 1072h0M748 1057h0M741 1070h0M752 1048h0M741 1035h0M742 987h0M737 1051h0M740 1063h0M743 1062h0M738 1052h0M752 1047h0M740 1051h0M745 1062h0M738 1058h0M744 1069h0M754 1054h0M737 1055h0M746 1044h0M749 1056h0M738 1062h0M740 1072h0M775 1072h0M738 1029h0M746 1041h0M738 1060h0M743 1058h0M742 1035h0M736 1067h0M738 1033h0M744 1072h0M736 1046h0M736 1057h0M737 1046h0M745 1044h0M741 1052h0M739 1043h0M738 1072h0M738 1070h0M753 1047h0M740 1056h0M763 1006h0M743 1058h0M739 1071h0M737 1067h0M743 1041h0M744 1060h0M753 1057h0M737 1062h0M740 1055h0M740 1067h0M788 1024h0M752 1072h0M741 1048h0M743 1038h0M743 1057h0M740 1057h0M737 1057h0M742 1040h0M748 1061h0M739 1063h0M740 1049h0M740 1057h0M741 1060h0M743 1053h0M737 1049h0M742 1022h0M765 1047h0M737 1064h0M756 1072h0M741 1054h0M736 1031h0M742 1072h0M748 1041h0M772 1072h0M760 1051h0M738 1055h0M749 1070h0M737 1059h0M742 1042h0M750 1067h0M741 1063h0M742 1048h0M743 1071h0M743 1049h0M744 1049h0M736 1044h0M750 1049h0M738 1057h0M740 1053h0M737 1050h0M737 1056h0M752 1045h0M746 1054h0M759 1026h0M741 1057h0M746 1071h0M760 1055h0M741 1053h0M742 1061h0M771 1065h0M740 1050h0M744 1070h0M738 1051h0M737 1043h0M743 1049h0M740 1046h0M744 1051h0M739 1058h0M745 1031h0M742 1043h0M737 1048h0M743 1045h0M736 1072h0M742 1064h0M802 1072h0M737 1036h0M743 1033h0M755 1038h0M737 1045h0M742 1056h0M803 1019h0M751 1039h0M745 1052h0M739 1061h0M748 1036h0M740 1056h0M737 1055h0M742 1072h0M767 1051h0M744 1049h0M738 1067h0M736 1069h0M740 1048h0M747 1036h0M737 1050h0M741 1048h0M737 1061h0M741 1050h0M745 1056h0M747 1034h0M739 1053h0M739 1054h0M794 1055h0M741 1071h0M736 1070h0M740 1035h0M738 1063h0M744 1039h0M738 1049h0M760 1044h0M794 1058h0M746 1026h0M742 1055h0M757 1072h0M738 1050h0M743 1055h0M740 1059h0M740 1064h0M765 1052h0M803 1072h0M744 1026h0M738 1039h0M753 1071h0M748 1051h0M738 1061h0M767 1049h0M745 1061h0M744 1055h0M745 1039h0M741 1046h0M738 1056h0M737 1054h0M743 1061h0M804 1019h0M740 1036h0M766 1041h0M739 1044h0M748 1072h0M737 963h0M755 1048h0M739 1046h0M743 1050h0M739 1054h0M737 1069h0M740 1069h0M741 1051h0M751 1046h0M740 1037h0M744 1067h0M741 1062h0M741 1064h0M742 1034h0M739 1070h0M748 1045h0M742 1036h0M743 1052h0M745 1036h0M771 1072h0M757 1035h0M743 1053h0M742 1045h0M737 1061h0M740 1065h0M763 1022h0M745 1062h0M742 1062h0M747 1057h0M750 1043h0M743 1059h0M740 1042h0M740 1054h0M737 1071h0M755 1034h0M756 990h0M738 1053h0M737 1018h0M752 1059h0M739 1052h0M744 1063h0M785 1025h0M746 1050h0M749 1058h0M737 1057h0M741 1055h0M741 1021h0M738 1054h0M770 1048h0M739 1048h0M750 1049h0M794 1031h0M741 1040h0M739 1059h0M739 1039h0M753 1052h0M743 1058h0M741 1059h0M743 1059h0M761 1027h0M749 1049h0M750 1045h0M741 1049h0M746 1069h0M742 1051h0M745 1053h0M739 1054h0M751 1053h0M737 1023h0M745 1068h0M799 1025h0M744 1046h0M739 1064h0M744 1055h0M748 1051h0M760 1015h0M740 939h0M743 961h0M747 968h0M790 983h0M802 1006h0M883 1028h0M823 1072h0M834 1065h0" stroke="#000" stroke-width="3.4" stroke-linecap="square"/><line x1="367.5" y1="528.7" x2="441.7" y2="491.2" stroke="#3c3cec" stroke-width="1.05"/><rect x="364.5" y="466.0" width="80.0" height="73.5" fill="none" stroke="#9a9a9a" stroke-width="0.8"/><text x="368.1" y="473.6" font-size="3.3" fill="#222">R = 0.34, p = 1.4e−11</text><line x1="363.0" y1="536.2" x2="364.5" y2="536.2" stroke="#777" stroke-width="0.5"/><text x="362.6" y="538.2" text-anchor="end" font-size="5.6" fill="#1a1a1a" stroke="#1a1a1a" stroke-width="0.1">0.000</text><line x1="363.0" y1="517.6" x2="364.5" y2="517.6" stroke="#777" stroke-width="0.5"/><text x="362.6" y="519.6" text-anchor="end" font-size="5.6" fill="#1a1a1a" stroke="#1a1a1a" stroke-width="0.1">0.025</text><line x1="363.0" y1="499.0" x2="364.5" y2="499.0" stroke="#777" stroke-width="0.5"/><text x="362.6" y="501.0" text-anchor="end" font-size="5.6" fill="#1a1a1a" stroke="#1a1a1a" stroke-width="0.1">0.050</text><line x1="363.0" y1="480.5" x2="364.5" y2="480.5" stroke="#777" stroke-width="0.5"/><text x="362.6" y="482.5" text-anchor="end" font-size="5.6" fill="#1a1a1a" stroke="#1a1a1a" stroke-width="0.1">0.075</text><text transform="translate(345.0,501.8) rotate(-90)" text-anchor="middle" font-size="5.35" fill="#000" stroke="#000" stroke-width="0.18">Monocyte</text><line x1="367.5" y1="539.5" x2="367.5" y2="541.0" stroke="#777" stroke-width="0.5"/><text x="367.5" y="546.5" text-anchor="middle" font-size="6.7" fill="#222" stroke="#222" stroke-width="0.08">0.0</text><line x1="386.5" y1="539.5" x2="386.5" y2="541.0" stroke="#777" stroke-width="0.5"/><text x="386.5" y="546.5" text-anchor="middle" font-size="6.7" fill="#222" stroke="#222" stroke-width="0.08">2.5</text><line x1="405.6" y1="539.5" x2="405.6" y2="541.0" stroke="#777" stroke-width="0.5"/><text x="405.6" y="546.5" text-anchor="middle" font-size="6.7" fill="#222" stroke="#222" stroke-width="0.08">5.0</text><line x1="424.7" y1="539.5" x2="424.7" y2="541.0" stroke="#777" stroke-width="0.5"/><text x="424.7" y="546.5" text-anchor="middle" font-size="6.7" fill="#222" stroke="#222" stroke-width="0.08">7.5</text><line x1="443.7" y1="539.5" x2="443.7" y2="541.0" stroke="#777" stroke-width="0.5"/><text x="443.7" y="546.5" text-anchor="middle" font-size="6.7" fill="#222" stroke="#222" stroke-width="0.08">10.0</text><text x="406.3" y="555.1" text-anchor="middle" font-size="6.9" fill="#111" stroke="#111" stroke-width="0.1">CIITA</text><path d="M364.5 466.0L364.5 466.0L365.2 466.0L365.8 466.0L366.5 466.0L367.2 465.9L367.8 464.8L368.5 459.8L369.2 454.1L369.8 451.3L370.5 451.8L371.2 453.8L371.8 456.7L372.5 459.4L373.2 461.6L373.8 463.1L374.5 464.1L375.2 464.8L375.8 465.2L376.5 465.5L377.2 465.6L377.8 465.7L378.5 465.8L379.2 465.8L379.8 465.8L380.5 465.9L381.2 465.9L381.8 465.9L382.5 465.9L383.2 465.9L383.8 465.9L384.5 465.9L385.2 465.9L385.8 465.9L386.5 465.9L387.2 466.0L387.8 466.0L388.5 466.0L389.2 466.0L389.8 466.0L390.5 466.0L391.2 466.0L391.8 466.0L392.5 466.0L393.2 466.0L393.8 466.0L394.5 466.0L395.2 466.0L395.8 466.0L396.5 466.0L397.2 466.0L397.8 466.0L398.5 466.0L399.2 466.0L399.8 466.0L400.5 466.0L401.2 466.0L401.8 466.0L402.5 466.0L403.2 466.0L403.8 466.0L404.5 466.0L405.2 466.0L405.8 466.0L406.5 466.0L407.2 466.0L407.8 466.0L408.5 466.0L409.2 466.0L409.8 466.0L410.5 466.0L411.2 466.0L411.8 466.0L412.5 466.0L413.2 466.0L413.8 466.0L414.5 466.0L415.2 466.0L415.8 466.0L416.5 466.0L417.2 466.0L417.8 466.0L418.5 466.0L419.2 466.0L419.8 466.0L420.5 466.0L421.2 466.0L421.8 466.0L422.5 466.0L423.2 466.0L423.8 466.0L424.5 466.0L425.2 466.0L425.8 466.0L426.5 466.0L427.2 466.0L427.8 466.0L428.5 466.0L429.2 466.0L429.8 466.0L430.5 466.0L431.2 466.0L431.8 466.0L432.5 466.0L433.2 466.0L433.8 466.0L434.5 466.0L435.2 466.0L435.8 466.0L436.5 466.0L437.2 466.0L437.8 466.0L438.5 466.0L439.2 466.0L439.8 466.0L440.5 466.0L441.2 466.0L441.8 466.0L442.5 466.0L443.2 466.0L443.8 466.0L444.5 466.0L444.5 466.0Z" fill="#5656f4"/><path d="M444.5 539.5L445.3 539.5L445.6 539.3L446.0 539.0L446.5 538.8L447.1 538.5L447.9 538.3L448.7 538.0L449.6 537.8L450.7 537.5L451.7 537.3L452.7 537.0L453.7 536.8L454.6 536.6L455.3 536.3L455.9 536.1L456.2 535.8L456.4 535.6L456.3 535.3L455.7 534.8L455.2 534.6L454.7 534.4L454.2 534.1L453.7 533.9L453.3 533.6L453.0 533.4L452.8 532.9L453.1 532.4L453.5 532.1L453.9 531.9L454.3 531.7L454.9 531.4L455.4 531.2L456.0 530.9L456.6 530.7L457.2 530.4L457.8 530.2L458.3 529.9L458.8 529.7L459.3 529.5L459.7 529.2L460.1 529.0L460.4 528.7L460.8 528.2L461.0 527.7L460.7 526.8L460.3 526.3L460.0 526.0L459.7 525.8L459.4 525.5L459.0 525.3L458.5 525.0L458.0 524.8L457.5 524.6L457.0 524.3L456.4 524.1L455.9 523.8L455.3 523.6L454.7 523.3L454.1 523.1L453.6 522.8L453.0 522.6L452.5 522.4L452.1 522.1L451.7 521.9L451.3 521.6L450.9 521.4L450.6 521.1L450.4 520.9L450.0 520.4L449.7 519.9L449.4 519.2L449.1 518.4L448.9 517.9L448.5 517.5L448.1 517.0L447.7 516.5L447.3 516.0L447.1 515.5L446.8 514.8L446.7 512.1L446.4 511.1L446.0 510.3L445.7 509.6L445.4 508.9L445.1 508.1L444.9 507.4L444.7 506.4L444.7 503.7L444.6 501.0L444.5 498.3L444.7 495.6L444.8 492.9L444.6 490.3L444.5 487.6L444.6 484.9L444.8 482.2L444.7 479.5L444.5 476.8L444.5 474.1L444.6 471.4L444.6 468.7L444.5 466.0L444.5 466.0Z" fill="#e8b842"/><rect x="477.0" y="466.0" width="80.0" height="73.5" fill="#fff"/><path d="M489.5 466.0V539.5M508.6 466.0V539.5M527.6 466.0V539.5M546.7 466.0V539.5M477.0 526.2H557.0M477.0 513.8H557.0M477.0 501.3H557.0M477.0 488.9H557.0M477.0 476.4H557.0" stroke="#f4f4f4" stroke-width="0.5"/><path d="M480.0 466.0V539.5M499.0 466.0V539.5M518.1 466.0V539.5M537.2 466.0V539.5M556.2 466.0V539.5M477.0 532.4H557.0M477.0 520.0H557.0M477.0 507.5H557.0M477.0 495.1H557.0M477.0 482.7H557.0M477.0 470.2H557.0" stroke="#e9e9e9" stroke-width="0.6"/><path d="M480.0 531.8L483.7 531.8L487.4 531.8L491.1 531.8L494.8 531.8L498.5 531.8L502.2 531.7L505.9 531.7L509.7 531.6L513.4 531.5L517.1 531.5L520.8 531.3L524.5 531.2L528.2 531.1L531.9 531.0L535.6 530.8L539.3 530.6L543.0 530.4L546.8 530.2L550.5 530.0L554.2 529.8L554.2 535.0L550.5 534.8L546.8 534.5L543.0 534.3L539.3 534.1L535.6 533.9L531.9 533.7L528.2 533.5L524.5 533.3L520.8 533.2L517.1 533.0L513.4 532.9L509.7 532.8L505.9 532.7L502.2 532.6L498.5 532.5L494.8 532.5L491.1 532.4L487.4 532.4L483.7 532.4L480.0 532.3Z" fill="#b4b4b4" fill-opacity="0.35"/><path transform="scale(0.5)" d="M961 1065h0M963 1065h0M964 1065h0M965 1065h0M964 1064h0M967 1064h0M962 1064h0M1029 1064h0M964 1063h0M963 1063h0M1025 1065h0M1002 1064h0M968 1065h0M962 1065h0M970 1063h0M993 1065h0M967 1062h0M979 1065h0M1011 1062h0M980 1065h0M965 1065h0M967 1065h0M966 1063h0M992 1064h0M1005 1065h0M968 1063h0M963 1062h0M968 1063h0M992 1065h0M977 1063h0M994 1064h0M973 1064h0M966 1062h0M977 1065h0M965 1063h0M970 1065h0M969 1062h0M979 1063h0M962 1062h0M964 1062h0M971 1065h0M974 1065h0M1000 1063h0M994 1065h0M961 1063h0M970 1065h0M988 1064h0M994 1063h0M968 1064h0M978 1065h0M965 1063h0M1013 1065h0M963 1061h0M965 1061h0M967 1064h0M973 1065h0M965 1062h0M965 1063h0M990 1065h0M997 1065h0M985 1065h0M974 1062h0M975 1062h0M966 1062h0M975 1064h0M962 1064h0M962 1061h0M977 1064h0M985 1063h0M970 1063h0M996 1065h0M965 1064h0M962 1062h0M1027 1065h0M1028 1065h0M976 1065h0M967 1064h0M992 1065h0M972 1062h0M972 1065h0M1019 1064h0M963 1063h0M985 1064h0M1019 1065h0M971 1062h0M982 1065h0M1028 1064h0M978 1062h0M973 1061h0M967 1034h0M962 1063h0M980 1062h0M969 1064h0M976 1063h0M967 1061h0M996 1065h0M988 1062h0M970 1058h0M981 1064h0M977 1065h0M1010 1065h0M971 1061h0M974 1065h0M974 1064h0M978 1064h0M969 1061h0M971 1063h0M1024 1065h0M985 1065h0M965 938h0M983 970h0M977 1010h0M966 1018h0M971 1023h0M969 1028h0M971 1030h0M963 1035h0M963 1047h0M969 1050h0M965 1060h0M1048 1065h0M1053 1065h0M1059 1065h0M1108 1065h0" stroke="#000" stroke-width="3.4" stroke-linecap="square"/><line x1="480.0" y1="532.1" x2="554.2" y2="532.4" stroke="#3c3cec" stroke-width="1.05"/><rect x="477.0" y="466.0" width="80.0" height="73.5" fill="none" stroke="#9a9a9a" stroke-width="0.8"/><text x="480.6" y="473.6" font-size="3.3" fill="#222">R = −0.0061, p = 0.93</text><line x1="475.5" y1="532.4" x2="477.0" y2="532.4" stroke="#777" stroke-width="0.5"/><text x="475.1" y="534.4" text-anchor="end" font-size="5.6" fill="#1a1a1a" stroke="#1a1a1a" stroke-width="0.1">0.000</text><line x1="475.5" y1="520.0" x2="477.0" y2="520.0" stroke="#777" stroke-width="0.5"/><text x="475.1" y="522.0" text-anchor="end" font-size="5.6" fill="#1a1a1a" stroke="#1a1a1a" stroke-width="0.1">0.001</text><line x1="475.5" y1="507.5" x2="477.0" y2="507.5" stroke="#777" stroke-width="0.5"/><text x="475.1" y="509.5" text-anchor="end" font-size="5.6" fill="#1a1a1a" stroke="#1a1a1a" stroke-width="0.1">0.002</text><line x1="475.5" y1="495.1" x2="477.0" y2="495.1" stroke="#777" stroke-width="0.5"/><text x="475.1" y="497.1" text-anchor="end" font-size="5.6" fill="#1a1a1a" stroke="#1a1a1a" stroke-width="0.1">0.003</text><line x1="475.5" y1="482.7" x2="477.0" y2="482.7" stroke="#777" stroke-width="0.5"/><text x="475.1" y="484.7" text-anchor="end" font-size="5.6" fill="#1a1a1a" stroke="#1a1a1a" stroke-width="0.1">0.004</text><line x1="475.5" y1="470.2" x2="477.0" y2="470.2" stroke="#777" stroke-width="0.5"/><text x="475.1" y="472.2" text-anchor="end" font-size="5.6" fill="#1a1a1a" stroke="#1a1a1a" stroke-width="0.1">0.005</text><text transform="translate(457.5,501.8) rotate(-90)" text-anchor="middle" font-size="4.30" fill="#000" stroke="#000" stroke-width="0.18">Myeloid dendritic cell activated</text><line x1="480.0" y1="539.5" x2="480.0" y2="541.0" stroke="#777" stroke-width="0.5"/><text x="480.0" y="546.5" text-anchor="middle" font-size="6.7" fill="#222" stroke="#222" stroke-width="0.08">0.0</text><line x1="499.0" y1="539.5" x2="499.0" y2="541.0" stroke="#777" stroke-width="0.5"/><text x="499.0" y="546.5" text-anchor="middle" font-size="6.7" fill="#222" stroke="#222" stroke-width="0.08">2.5</text><line x1="518.1" y1="539.5" x2="518.1" y2="541.0" stroke="#777" stroke-width="0.5"/><text x="518.1" y="546.5" text-anchor="middle" font-size="6.7" fill="#222" stroke="#222" stroke-width="0.08">5.0</text><line x1="537.2" y1="539.5" x2="537.2" y2="541.0" stroke="#777" stroke-width="0.5"/><text x="537.2" y="546.5" text-anchor="middle" font-size="6.7" fill="#222" stroke="#222" stroke-width="0.08">7.5</text><line x1="556.2" y1="539.5" x2="556.2" y2="541.0" stroke="#777" stroke-width="0.5"/><text x="556.2" y="546.5" text-anchor="middle" font-size="6.7" fill="#222" stroke="#222" stroke-width="0.08">10.0</text><text x="518.8" y="555.1" text-anchor="middle" font-size="6.9" fill="#111" stroke="#111" stroke-width="0.1">CIITA</text><path d="M477.0 466.0L477.0 466.0L477.7 466.0L478.3 466.0L479.0 466.0L479.7 465.9L480.3 464.8L481.0 459.8L481.7 454.1L482.3 451.3L483.0 451.8L483.7 453.8L484.3 456.7L485.0 459.4L485.7 461.6L486.3 463.1L487.0 464.1L487.7 464.8L488.3 465.2L489.0 465.5L489.7 465.6L490.3 465.7L491.0 465.8L491.7 465.8L492.3 465.8L493.0 465.9L493.7 465.9L494.3 465.9L495.0 465.9L495.7 465.9L496.3 465.9L497.0 465.9L497.7 465.9L498.3 465.9L499.0 465.9L499.7 466.0L500.3 466.0L501.0 466.0L501.7 466.0L502.3 466.0L503.0 466.0L503.7 466.0L504.3 466.0L505.0 466.0L505.7 466.0L506.3 466.0L507.0 466.0L507.7 466.0L508.3 466.0L509.0 466.0L509.7 466.0L510.3 466.0L511.0 466.0L511.7 466.0L512.3 466.0L513.0 466.0L513.7 466.0L514.3 466.0L515.0 466.0L515.7 466.0L516.3 466.0L517.0 466.0L517.7 466.0L518.3 466.0L519.0 466.0L519.7 466.0L520.3 466.0L521.0 466.0L521.7 466.0L522.3 466.0L523.0 466.0L523.7 466.0L524.3 466.0L525.0 466.0L525.7 466.0L526.3 466.0L527.0 466.0L527.7 466.0L528.3 466.0L529.0 466.0L529.7 466.0L530.3 466.0L531.0 466.0L531.7 466.0L532.3 466.0L533.0 466.0L533.7 466.0L534.3 466.0L535.0 466.0L535.7 466.0L536.3 466.0L537.0 466.0L537.7 466.0L538.3 466.0L539.0 466.0L539.7 466.0L540.3 466.0L541.0 466.0L541.7 466.0L542.3 466.0L543.0 466.0L543.7 466.0L544.3 466.0L545.0 466.0L545.7 466.0L546.3 466.0L547.0 466.0L547.7 466.0L548.3 466.0L549.0 466.0L549.7 466.0L550.3 466.0L551.0 466.0L551.7 466.0L552.3 466.0L553.0 466.0L553.7 466.0L554.3 466.0L555.0 466.0L555.7 466.0L556.3 466.0L557.0 466.0L557.0 466.0Z" fill="#5656f4"/><path d="M557.0 539.5L557.0 539.5L557.0 536.8L557.0 534.1L557.1 533.9L557.4 533.6L558.3 533.4L560.8 533.1L565.1 532.9L570.1 532.6L573.5 532.4L573.5 532.1L570.8 531.9L567.3 531.7L564.3 531.4L562.1 531.2L560.4 530.9L559.2 530.7L558.2 530.4L557.6 530.2L557.3 529.9L557.1 529.5L557.0 526.8L557.0 524.1L557.0 521.4L557.0 518.7L557.0 516.0L557.0 513.3L557.0 510.6L557.0 507.9L557.0 505.2L557.0 502.5L557.0 499.8L557.0 497.1L557.0 494.4L557.0 491.7L557.0 489.0L557.0 486.3L557.0 483.6L557.0 480.9L557.0 478.2L557.0 475.6L557.0 472.9L557.0 470.2L557.0 467.5L557.0 466.0L557.0 466.0Z" fill="#e8b842"/><rect x="587.5" y="466.0" width="80.0" height="73.5" fill="#fff"/><path d="M600.0 466.0V539.5M619.1 466.0V539.5M638.1 466.0V539.5M657.2 466.0V539.5M587.5 525.4H667.5M587.5 503.8H667.5M587.5 482.3H667.5" stroke="#f4f4f4" stroke-width="0.5"/><path d="M590.5 466.0V539.5M609.5 466.0V539.5M628.6 466.0V539.5M647.7 466.0V539.5M666.7 466.0V539.5M587.5 536.2H667.5M587.5 514.6H667.5M587.5 493.1H667.5M587.5 471.5H667.5" stroke="#e9e9e9" stroke-width="0.6"/><path d="M590.5 534.0L594.2 533.5L597.9 533.0L601.6 532.4L605.3 531.8L609.0 531.1L612.7 530.4L616.4 529.6L620.2 528.9L623.9 528.0L627.6 527.2L631.3 526.3L635.0 525.4L638.7 524.4L642.4 523.4L646.1 522.3L649.8 521.2L653.5 520.1L657.3 518.9L661.0 517.7L664.7 516.5L664.7 531.4L661.0 531.3L657.3 531.2L653.5 531.1L649.8 531.1L646.1 531.1L642.4 531.1L638.7 531.2L635.0 531.3L631.3 531.4L627.6 531.6L623.9 531.9L620.2 532.1L616.4 532.5L612.7 532.8L609.0 533.2L605.3 533.6L601.6 534.1L597.9 534.6L594.2 535.1L590.5 535.7Z" fill="#b4b4b4" fill-opacity="0.35"/><path transform="scale(0.5)" d="M1182 1050h0M1184 1072h0M1185 1068h0M1186 1071h0M1185 1061h0M1188 1066h0M1183 1069h0M1250 1072h0M1185 1072h0M1188 1062h0M1187 1072h0M1184 1069h0M1184 1066h0M1184 1072h0M1184 1068h0M1246 1068h0M1223 1072h0M1186 1049h0M1189 1072h0M1183 1072h0M1191 1066h0M1214 1072h0M1188 1068h0M1200 1072h0M1232 1072h0M1201 1062h0M1186 1072h0M1188 1072h0M1188 1065h0M1191 1072h0M1185 1067h0M1184 1071h0M1213 1068h0M1188 1051h0M1226 1072h0M1185 1062h0M1189 1072h0M1182 1068h0M1189 1068h0M1188 1068h0M1185 1071h0M1213 1070h0M1188 1052h0M1198 1054h0M1215 1060h0M1194 1072h0M1198 1066h0M1188 1070h0M1185 1070h0M1198 1070h0M1191 1071h0M1184 1068h0M1190 1063h0M1200 1070h0M1183 1064h0M1185 1061h0M1185 1071h0M1192 1072h0M1195 1052h0M1186 1048h0M1221 1054h0M1189 1071h0M1215 1072h0M1188 1070h0M1182 1067h0M1182 1072h0M1191 1070h0M1187 1061h0M1185 1067h0M1183 1071h0M1199 1067h0M1186 1069h0M1209 1057h0M1189 1071h0M1190 1066h0M1199 1067h0M1234 1071h0M1198 1072h0M1185 1069h0M1189 1066h0M1194 1072h0M1186 1066h0M1187 1068h0M1182 1071h0M1211 1068h0M1202 1072h0M1187 1071h0M1194 1069h0M1218 1050h0M1206 1071h0M1195 1072h0M1184 1062h0M1188 1071h0M1196 1067h0M1188 1055h0M1189 1067h0M1189 1068h0M1190 1070h0M1184 1067h0M1196 1070h0M1183 1070h0M1192 1068h0M1205 1072h0M1187 1062h0M1192 1068h0M1206 1062h0M1217 1072h0M1184 1052h0M1186 1069h0M1186 1018h0M1188 1048h0M1184 1070h0M1248 1062h0M1201 1069h0M1183 1055h0M1249 1072h0M1197 1064h0M1191 1072h0M1194 1070h0M1191 1069h0M1213 1065h0M1182 1068h0M1183 1053h0M1184 1054h0M1193 1070h0M1240 1062h0M1187 1070h0M1186 1070h0M1187 1069h0M1206 1071h0M1240 1072h0M1203 1068h0M1189 1055h0M1211 1066h0M1184 1066h0M1249 1064h0M1190 1062h0M1213 1060h0M1190 1070h0M1191 1070h0M1189 1060h0M1250 1056h0M1212 1060h0M1183 1031h0M1201 1072h0M1185 1061h0M1190 1066h0M1185 1032h0M1184 1069h0M1197 1071h0M1186 1063h0M1183 1066h0M1187 1059h0M1194 1050h0M1191 1071h0M1217 1063h0M1203 1054h0M1216 1048h0M1189 1061h0M1209 1064h0M1191 1038h0M1193 1063h0M1196 1069h0M1202 1065h0M1184 1065h0M1198 1065h0M1231 1072h0M1192 1045h0M1183 1064h0M1187 1059h0M1187 1068h0M1186 1064h0M1216 1038h0M1196 1059h0M1240 1052h0M1199 1068h0M1186 1059h0M1186 1065h0M1187 1052h0M1207 1071h0M1196 1072h0M1185 1060h0M1185 1063h0M1185 1065h0M1197 1067h0M1245 1072h0M1194 1064h0M1206 1065h0M1187 939h0M1213 960h0M1221 1003h0M1221 1025h0M1196 1021h0M1329 1072h0M1280 1072h0M1269 1066h0" stroke="#000" stroke-width="3.4" stroke-linecap="square"/><line x1="590.5" y1="534.9" x2="664.7" y2="524.0" stroke="#3c3cec" stroke-width="1.05"/><rect x="587.5" y="466.0" width="80.0" height="73.5" fill="none" stroke="#9a9a9a" stroke-width="0.8"/><text x="591.1" y="473.6" font-size="3.3" fill="#222">R = 0.2, p = 0.00014</text><line x1="586.0" y1="536.2" x2="587.5" y2="536.2" stroke="#777" stroke-width="0.5"/><text x="585.6" y="538.2" text-anchor="end" font-size="5.6" fill="#1a1a1a" stroke="#1a1a1a" stroke-width="0.1">0.00</text><line x1="586.0" y1="514.6" x2="587.5" y2="514.6" stroke="#777" stroke-width="0.5"/><text x="585.6" y="516.6" text-anchor="end" font-size="5.6" fill="#1a1a1a" stroke="#1a1a1a" stroke-width="0.1">0.05</text><line x1="586.0" y1="493.1" x2="587.5" y2="493.1" stroke="#777" stroke-width="0.5"/><text x="585.6" y="495.1" text-anchor="end" font-size="5.6" fill="#1a1a1a" stroke="#1a1a1a" stroke-width="0.1">0.10</text><line x1="586.0" y1="471.5" x2="587.5" y2="471.5" stroke="#777" stroke-width="0.5"/><text x="585.6" y="473.5" text-anchor="end" font-size="5.6" fill="#1a1a1a" stroke="#1a1a1a" stroke-width="0.1">0.15</text><text transform="translate(571.1,501.8) rotate(-90)" text-anchor="middle" font-size="4.58" fill="#000" stroke="#000" stroke-width="0.18">Myeloid dendritic cell resting</text><line x1="590.5" y1="539.5" x2="590.5" y2="541.0" stroke="#777" stroke-width="0.5"/><text x="590.5" y="546.5" text-anchor="middle" font-size="6.7" fill="#222" stroke="#222" stroke-width="0.08">0.0</text><line x1="609.5" y1="539.5" x2="609.5" y2="541.0" stroke="#777" stroke-width="0.5"/><text x="609.5" y="546.5" text-anchor="middle" font-size="6.7" fill="#222" stroke="#222" stroke-width="0.08">2.5</text><line x1="628.6" y1="539.5" x2="628.6" y2="541.0" stroke="#777" stroke-width="0.5"/><text x="628.6" y="546.5" text-anchor="middle" font-size="6.7" fill="#222" stroke="#222" stroke-width="0.08">5.0</text><line x1="647.7" y1="539.5" x2="647.7" y2="541.0" stroke="#777" stroke-width="0.5"/><text x="647.7" y="546.5" text-anchor="middle" font-size="6.7" fill="#222" stroke="#222" stroke-width="0.08">7.5</text><line x1="666.7" y1="539.5" x2="666.7" y2="541.0" stroke="#777" stroke-width="0.5"/><text x="666.7" y="546.5" text-anchor="middle" font-size="6.7" fill="#222" stroke="#222" stroke-width="0.08">10.0</text><text x="629.3" y="555.1" text-anchor="middle" font-size="6.9" fill="#111" stroke="#111" stroke-width="0.1">CIITA</text><path d="M587.5 466.0L587.5 466.0L588.2 466.0L588.8 466.0L589.5 466.0L590.2 465.9L590.8 464.8L591.5 459.8L592.2 454.1L592.8 451.3L593.5 451.8L594.2 453.8L594.8 456.7L595.5 459.4L596.2 461.6L596.8 463.1L597.5 464.1L598.2 464.8L598.8 465.2L599.5 465.5L600.2 465.6L600.8 465.7L601.5 465.8L602.2 465.8L602.8 465.8L603.5 465.9L604.2 465.9L604.8 465.9L605.5 465.9L606.2 465.9L606.8 465.9L607.5 465.9L608.2 465.9L608.8 465.9L609.5 465.9L610.2 466.0L610.8 466.0L611.5 466.0L612.2 466.0L612.8 466.0L613.5 466.0L614.2 466.0L614.8 466.0L615.5 466.0L616.2 466.0L616.8 466.0L617.5 466.0L618.2 466.0L618.8 466.0L619.5 466.0L620.2 466.0L620.8 466.0L621.5 466.0L622.2 466.0L622.8 466.0L623.5 466.0L624.2 466.0L624.8 466.0L625.5 466.0L626.2 466.0L626.8 466.0L627.5 466.0L628.2 466.0L628.8 466.0L629.5 466.0L630.2 466.0L630.8 466.0L631.5 466.0L632.2 466.0L632.8 466.0L633.5 466.0L634.2 466.0L634.8 466.0L635.5 466.0L636.2 466.0L636.8 466.0L637.5 466.0L638.2 466.0L638.8 466.0L639.5 466.0L640.2 466.0L640.8 466.0L641.5 466.0L642.2 466.0L642.8 466.0L643.5 466.0L644.2 466.0L644.8 466.0L645.5 466.0L646.2 466.0L646.8 466.0L647.5 466.0L648.2 466.0L648.8 466.0L649.5 466.0L650.2 466.0L650.8 466.0L651.5 466.0L652.2 466.0L652.8 466.0L653.5 466.0L654.2 466.0L654.8 466.0L655.5 466.0L656.2 466.0L656.8 466.0L657.5 466.0L658.2 466.0L658.8 466.0L659.5 466.0L660.2 466.0L660.8 466.0L661.5 466.0L662.2 466.0L662.8 466.0L663.5 466.0L664.2 466.0L664.8 466.0L665.5 466.0L666.2 466.0L666.8 466.0L667.5 466.0L667.5 466.0Z" fill="#5656f4"/><path d="M667.5 539.5L667.5 539.5L667.7 537.5L668.3 537.3L669.8 537.0L672.7 536.8L677.0 536.6L681.4 536.3L684.0 536.1L684.0 535.8L682.1 535.6L679.7 535.3L677.6 535.1L676.0 534.8L674.9 534.6L674.0 534.4L673.2 534.1L672.4 533.9L671.7 533.6L671.1 533.4L670.6 533.1L670.1 532.9L669.8 532.6L669.5 532.4L669.1 531.9L668.7 530.2L668.3 529.7L668.0 529.2L667.7 528.7L668.0 527.5L668.1 526.0L667.9 525.0L667.7 523.3L667.5 520.9L667.7 518.9L667.5 517.5L667.5 514.8L667.6 512.1L667.6 509.4L667.5 506.7L667.5 504.0L667.6 501.3L667.5 498.6L667.5 495.9L667.5 493.2L667.5 490.5L667.5 487.8L667.5 485.1L667.5 482.4L667.6 479.7L667.5 477.0L667.5 474.3L667.5 471.6L667.6 468.9L667.5 466.2L667.5 466.0L667.5 466.0Z" fill="#e8b842"/><rect x="19.5" y="572.2" width="80.0" height="73.5" fill="#fff"/><path d="M32.0 572.2V645.7M51.1 572.2V645.7M70.1 572.2V645.7M89.2 572.2V645.7M19.5 631.9H99.5M19.5 611.0H99.5M19.5 590.2H99.5" stroke="#f4f4f4" stroke-width="0.5"/><path d="M22.5 572.2V645.7M41.5 572.2V645.7M60.6 572.2V645.7M79.7 572.2V645.7M98.7 572.2V645.7M19.5 642.4H99.5M19.5 621.5H99.5M19.5 600.6H99.5M19.5 579.7H99.5" stroke="#e9e9e9" stroke-width="0.6"/><path d="M22.5 640.7L26.2 640.5L29.9 640.3L33.6 640.0L37.3 639.7L41.0 639.4L44.7 639.0L48.4 638.6L52.2 638.1L55.9 637.6L59.6 637.1L63.3 636.5L67.0 635.9L70.7 635.2L74.4 634.5L78.1 633.8L81.8 633.0L85.5 632.2L89.3 631.4L93.0 630.5L96.7 629.6L96.7 644.5L93.0 644.1L89.3 643.6L85.5 643.2L81.8 642.9L78.1 642.5L74.4 642.3L70.7 642.0L67.0 641.8L63.3 641.6L59.6 641.5L55.9 641.4L52.2 641.4L48.4 641.4L44.7 641.4L41.0 641.5L37.3 641.6L33.6 641.7L29.9 641.9L26.2 642.1L22.5 642.4Z" fill="#b4b4b4" fill-opacity="0.35"/><path transform="scale(0.5)" d="M46 1283h0M48 1283h0M49 1285h0M49 1281h0M50 1283h0M49 1282h0M52 1285h0M47 1284h0M114 1251h0M49 1283h0M51 1285h0M48 1285h0M51 1282h0M110 1283h0M87 1285h0M53 1285h0M55 1282h0M78 1282h0M52 1281h0M64 1282h0M96 1284h0M47 1270h0M65 1285h0M50 1279h0M52 1269h0M55 1283h0M50 1283h0M51 1285h0M77 1285h0M90 1279h0M49 1282h0M53 1278h0M46 1285h0M52 1277h0M77 1279h0M62 1270h0M79 1284h0M58 1282h0M62 1285h0M52 1283h0M50 1285h0M53 1283h0M62 1280h0M50 1280h0M55 1283h0M54 1285h0M64 1267h0M49 1278h0M56 1282h0M59 1283h0M50 1273h0M85 1284h0M48 1281h0M56 1284h0M53 1281h0M52 1276h0M46 1283h0M54 1279h0M46 1283h0M47 1269h0M55 1285h0M51 1270h0M47 1272h0M63 1285h0M73 1273h0M53 1270h0M53 1261h0M49 1282h0M54 1283h0M63 1281h0M50 1275h0M98 1282h0M62 1281h0M51 1273h0M47 1282h0M58 1254h0M50 1283h0M51 1283h0M52 1282h0M75 1277h0M66 1269h0M51 1283h0M46 1279h0M52 1264h0M58 1284h0M82 1283h0M70 1283h0M59 1285h0M47 1283h0M60 1284h0M54 1283h0M60 1284h0M56 1285h0M69 1284h0M51 1282h0M56 1285h0M70 1285h0M52 1281h0M55 1281h0M52 1261h0M81 1285h0M50 1269h0M54 1282h0M53 1271h0M54 1283h0M49 1276h0M55 1281h0M47 1281h0M112 1280h0M50 1281h0M53 1279h0M65 1265h0M51 1280h0M113 1284h0M61 1284h0M52 1256h0M52 1267h0M54 1278h0M46 1283h0M47 1260h0M56 1283h0M104 1279h0M48 1263h0M51 1279h0M54 1257h0M70 1279h0M104 1282h0M56 1279h0M52 1279h0M67 1283h0M75 1284h0M113 1278h0M77 1283h0M51 1276h0M49 1275h0M114 1285h0M76 1285h0M65 1283h0M50 1279h0M61 1284h0M50 1277h0M58 1284h0M52 1280h0M81 1280h0M67 1278h0M80 1283h0M48 1274h0M53 1274h0M73 1284h0M60 1279h0M47 1276h0M66 1285h0M95 1284h0M56 1281h0M51 1259h0M80 1284h0M60 1274h0M104 1279h0M63 1257h0M53 1279h0M54 1280h0M71 1285h0M59 1275h0M49 1281h0M109 1283h0M52 1283h0M58 1284h0M70 1282h0M50 1151h0M71 1206h0M59 1240h0M114 1249h0M51 1253h0M72 1260h0M104 1265h0M144 1274h0M193 1285h0M133 1285h0" stroke="#000" stroke-width="3.4" stroke-linecap="square"/><line x1="22.5" y1="641.5" x2="96.7" y2="637.1" stroke="#3c3cec" stroke-width="1.05"/><rect x="19.5" y="572.2" width="80.0" height="73.5" fill="none" stroke="#9a9a9a" stroke-width="0.8"/><text x="23.1" y="579.8" font-size="3.3" fill="#222">R = 0.088, p = 0.086</text><line x1="18.0" y1="642.4" x2="19.5" y2="642.4" stroke="#777" stroke-width="0.5"/><text x="17.6" y="644.4" text-anchor="end" font-size="5.6" fill="#1a1a1a" stroke="#1a1a1a" stroke-width="0.1">0.00</text><line x1="18.0" y1="621.5" x2="19.5" y2="621.5" stroke="#777" stroke-width="0.5"/><text x="17.6" y="623.5" text-anchor="end" font-size="5.6" fill="#1a1a1a" stroke="#1a1a1a" stroke-width="0.1">0.05</text><line x1="18.0" y1="600.6" x2="19.5" y2="600.6" stroke="#777" stroke-width="0.5"/><text x="17.6" y="602.6" text-anchor="end" font-size="5.6" fill="#1a1a1a" stroke="#1a1a1a" stroke-width="0.1">0.10</text><line x1="18.0" y1="579.7" x2="19.5" y2="579.7" stroke="#777" stroke-width="0.5"/><text x="17.6" y="581.7" text-anchor="end" font-size="5.6" fill="#1a1a1a" stroke="#1a1a1a" stroke-width="0.1">0.15</text><text transform="translate(5.4,608.0) rotate(-90)" text-anchor="middle" font-size="5.35" fill="#000" stroke="#000" stroke-width="0.18">Neutrophil</text><line x1="22.5" y1="645.7" x2="22.5" y2="647.2" stroke="#777" stroke-width="0.5"/><text x="22.5" y="652.7" text-anchor="middle" font-size="6.7" fill="#222" stroke="#222" stroke-width="0.08">0.0</text><line x1="41.5" y1="645.7" x2="41.5" y2="647.2" stroke="#777" stroke-width="0.5"/><text x="41.5" y="652.7" text-anchor="middle" font-size="6.7" fill="#222" stroke="#222" stroke-width="0.08">2.5</text><line x1="60.6" y1="645.7" x2="60.6" y2="647.2" stroke="#777" stroke-width="0.5"/><text x="60.6" y="652.7" text-anchor="middle" font-size="6.7" fill="#222" stroke="#222" stroke-width="0.08">5.0</text><line x1="79.7" y1="645.7" x2="79.7" y2="647.2" stroke="#777" stroke-width="0.5"/><text x="79.7" y="652.7" text-anchor="middle" font-size="6.7" fill="#222" stroke="#222" stroke-width="0.08">7.5</text><line x1="98.7" y1="645.7" x2="98.7" y2="647.2" stroke="#777" stroke-width="0.5"/><text x="98.7" y="652.7" text-anchor="middle" font-size="6.7" fill="#222" stroke="#222" stroke-width="0.08">10.0</text><text x="61.3" y="661.3" text-anchor="middle" font-size="6.9" fill="#111" stroke="#111" stroke-width="0.1">CIITA</text><path d="M19.5 572.2L19.5 572.2L20.2 572.2L20.8 572.2L21.5 572.2L22.2 572.1L22.8 571.0L23.5 566.0L24.2 560.3L24.8 557.5L25.5 558.0L26.2 560.0L26.8 562.9L27.5 565.6L28.2 567.8L28.8 569.3L29.5 570.3L30.2 571.0L30.8 571.4L31.5 571.7L32.2 571.8L32.8 571.9L33.5 572.0L34.2 572.0L34.8 572.0L35.5 572.1L36.2 572.1L36.8 572.1L37.5 572.1L38.2 572.1L38.8 572.1L39.5 572.1L40.2 572.1L40.8 572.1L41.5 572.1L42.2 572.2L42.8 572.2L43.5 572.2L44.2 572.2L44.8 572.2L45.5 572.2L46.2 572.2L46.8 572.2L47.5 572.2L48.2 572.2L48.8 572.2L49.5 572.2L50.2 572.2L50.8 572.2L51.5 572.2L52.2 572.2L52.8 572.2L53.5 572.2L54.2 572.2L54.8 572.2L55.5 572.2L56.2 572.2L56.8 572.2L57.5 572.2L58.2 572.2L58.8 572.2L59.5 572.2L60.2 572.2L60.8 572.2L61.5 572.2L62.2 572.2L62.8 572.2L63.5 572.2L64.2 572.2L64.8 572.2L65.5 572.2L66.2 572.2L66.8 572.2L67.5 572.2L68.2 572.2L68.8 572.2L69.5 572.2L70.2 572.2L70.8 572.2L71.5 572.2L72.2 572.2L72.8 572.2L73.5 572.2L74.2 572.2L74.8 572.2L75.5 572.2L76.2 572.2L76.8 572.2L77.5 572.2L78.2 572.2L78.8 572.2L79.5 572.2L80.2 572.2L80.8 572.2L81.5 572.2L82.2 572.2L82.8 572.2L83.5 572.2L84.2 572.2L84.8 572.2L85.5 572.2L86.2 572.2L86.8 572.2L87.5 572.2L88.2 572.2L88.8 572.2L89.5 572.2L90.2 572.2L90.8 572.2L91.5 572.2L92.2 572.2L92.8 572.2L93.5 572.2L94.2 572.2L94.8 572.2L95.5 572.2L96.2 572.2L96.8 572.2L97.5 572.2L98.2 572.2L98.8 572.2L99.5 572.2L99.5 572.2Z" fill="#5656f4"/><path d="M99.5 645.7L99.5 645.7L99.6 643.7L100.0 643.5L101.1 643.2L103.7 643.0L108.0 642.8L112.6 642.5L115.6 642.3L116.0 642.0L114.5 641.8L112.5 641.5L110.4 641.3L108.4 641.0L106.4 640.8L104.6 640.6L103.3 640.3L102.4 640.1L101.9 639.8L101.6 639.6L101.3 639.3L100.9 639.1L100.5 638.8L100.2 638.4L99.9 636.1L99.8 635.7L100.1 635.2L100.2 634.7L99.9 634.2L99.7 633.5L99.7 630.8L99.8 630.0L99.6 629.0L99.6 626.3L99.5 623.7L99.5 621.0L99.5 618.3L99.5 615.6L99.5 612.9L99.5 610.2L99.5 607.5L99.5 604.8L99.5 602.1L99.5 599.4L99.5 596.7L99.5 594.0L99.5 591.3L99.5 588.6L99.5 585.9L99.5 583.2L99.5 580.5L99.5 577.8L99.6 575.1L99.5 572.4L99.5 572.2L99.5 572.2Z" fill="#e8b842"/><rect x="135.0" y="572.2" width="80.0" height="73.5" fill="#fff"/><path d="M147.5 572.2V645.7M166.6 572.2V645.7M185.6 572.2V645.7M204.7 572.2V645.7M135.0 634.0H215.0M135.0 617.3H215.0M135.0 600.6H215.0M135.0 583.9H215.0" stroke="#f4f4f4" stroke-width="0.5"/><path d="M138.0 572.2V645.7M157.0 572.2V645.7M176.1 572.2V645.7M195.2 572.2V645.7M214.2 572.2V645.7M135.0 642.4H215.0M135.0 625.7H215.0M135.0 609.0H215.0M135.0 592.2H215.0M135.0 575.5H215.0" stroke="#e9e9e9" stroke-width="0.6"/><path d="M138.0 638.2L141.7 635.5L145.4 632.8L149.1 630.1L152.8 627.4L156.5 624.6L160.2 621.7L163.9 618.8L167.7 615.9L171.4 613.0L175.1 610.0L178.8 606.9L182.5 603.9L186.2 600.8L189.9 597.6L193.6 594.4L197.3 591.2L201.0 587.9L204.8 584.6L208.5 581.3L212.2 577.9L212.2 592.9L208.5 594.8L204.8 596.9L201.0 598.9L197.3 601.0L193.6 603.2L189.9 605.3L186.2 607.6L182.5 609.8L178.8 612.1L175.1 614.4L171.4 616.8L167.7 619.2L163.9 621.7L160.2 624.1L156.5 626.7L152.8 629.2L149.1 631.8L145.4 634.5L141.7 637.1L138.0 639.9Z" fill="#b4b4b4" fill-opacity="0.35"/><path transform="scale(0.5)" d="M277 1285h0M279 1255h0M280 1272h0M280 1273h0M281 1277h0M280 1267h0M283 1274h0M278 1280h0M345 1220h0M280 1277h0M282 1284h0M279 1265h0M282 1246h0M279 1274h0M279 1262h0M279 1278h0M341 1256h0M318 1251h0M281 1258h0M284 1253h0M278 1276h0M286 1245h0M309 1247h0M283 1252h0M295 1244h0M327 1241h0M278 1277h0M296 1283h0M281 1267h0M283 1279h0M283 1224h0M286 1271h0M281 1285h0M280 1280h0M279 1284h0M282 1285h0M308 1209h0M283 1266h0M280 1272h0M321 1259h0M280 1284h0M284 1283h0M279 1279h0M277 1276h0M284 1261h0M283 1274h0M280 1248h0M308 1275h0M283 1267h0M293 1259h0M310 1257h0M289 1269h0M282 1254h0M293 1230h0M282 1278h0M283 1274h0M278 1284h0M281 1275h0M280 1261h0M284 1276h0M279 1278h0M293 1283h0M281 1280h0M285 1259h0M295 1265h0M278 1269h0M280 1266h0M280 1275h0M287 1262h0M290 1252h0M281 1276h0M316 1285h0M287 1267h0M284 1285h0M280 1268h0M310 1264h0M283 1271h0M279 1283h0M285 1268h0M277 1271h0M277 1280h0M278 1235h0M286 1283h0M280 1255h0M279 1276h0M278 1282h0M294 1271h0M281 1278h0M280 1274h0M279 1240h0M304 1252h0M284 1263h0M280 1280h0M310 1235h0M284 1274h0M280 1281h0M285 1252h0M294 1285h0M278 1275h0M281 1264h0M284 1271h0M281 1275h0M329 1237h0M293 1249h0M282 1239h0M279 1246h0M284 1272h0M283 1284h0M278 1254h0M283 1276h0M289 1283h0M280 1270h0M281 1263h0M282 1265h0M284 1252h0M280 1273h0M306 1249h0M297 1283h0M282 1278h0M284 1261h0M277 1277h0M289 1275h0M281 1284h0M313 1228h0M301 1268h0M279 1264h0M290 1284h0M279 1272h0M291 1260h0M282 1269h0M283 1277h0M285 1261h0M279 1260h0M277 1278h0M291 1255h0M278 1283h0M280 1265h0M287 1277h0M300 1255h0M282 1258h0M287 1268h0M301 1251h0M283 1249h0M278 1271h0M286 1247h0M312 1284h0M280 1284h0M281 1279h0M285 1248h0M278 1279h0M278 1273h0M281 1271h0M280 1257h0M285 1260h0M281 1270h0M280 1278h0M279 1272h0M283 1273h0M279 1280h0M278 1230h0M278 1267h0M284 1251h0M283 1285h0M343 1285h0M278 1256h0M281 1271h0M296 1270h0M278 1257h0M281 1279h0M344 1249h0M292 1258h0M286 1276h0M278 1266h0M282 1276h0M289 1225h0M283 1256h0M283 1277h0M286 1282h0M308 1283h0M285 1271h0M279 1284h0M277 1267h0M288 1251h0M279 1274h0M278 1273h0M282 1276h0M284 1281h0M286 1259h0M288 1284h0M278 1273h0M335 1285h0M277 1264h0M282 1273h0M286 1234h0M301 1239h0M335 1260h0M287 1275h0M283 1279h0M283 1283h0M281 1272h0M298 1245h0M280 1264h0M279 1271h0M306 1284h0M344 1278h0M285 1279h0M289 1284h0M279 1269h0M308 1258h0M286 1278h0M285 1275h0M279 1233h0M278 1283h0M284 1269h0M345 1259h0M307 1234h0M283 1260h0M289 1272h0M296 1264h0M285 1285h0M284 1275h0M278 1260h0M279 1277h0M281 1268h0M282 1272h0M280 1279h0M281 1282h0M292 1269h0M285 1257h0M280 1254h0M282 1256h0M282 1272h0M283 1254h0M289 1268h0M284 1267h0M286 1282h0M286 1273h0M312 1273h0M298 1235h0M284 1245h0M311 1273h0M279 1227h0M284 1256h0M280 1270h0M283 1242h0M278 1272h0M280 1283h0M281 1256h0M277 1275h0M304 1278h0M286 1265h0M288 1268h0M291 1275h0M284 1272h0M278 1281h0M278 1263h0M278 1274h0M296 1249h0M280 1239h0M297 1263h0M293 1248h0M278 1258h0M285 1279h0M326 1249h0M287 1255h0M290 1254h0M282 1255h0M290 1262h0M282 1282h0M281 1252h0M311 1235h0M281 1269h0M291 1265h0M335 1276h0M280 1249h0M294 1270h0M284 1277h0M281 1257h0M282 1282h0M285 1268h0M302 1268h0M279 1251h0M291 1271h0M282 1263h0M287 1285h0M292 1280h0M286 1259h0M281 1272h0M340 1285h0M285 1275h0M301 1256h0M371 1151h0M329 1164h0M306 1198h0M328 1218h0M424 1251h0M375 1205h0M299 1225h0" stroke="#000" stroke-width="3.4" stroke-linecap="square"/><line x1="138.0" y1="639.0" x2="212.2" y2="585.4" stroke="#3c3cec" stroke-width="1.05"/><rect x="135.0" y="572.2" width="80.0" height="73.5" fill="none" stroke="#9a9a9a" stroke-width="0.8"/><text x="138.6" y="579.8" font-size="3.3" fill="#222">R = 0.53, p < 2.2e−16</text><line x1="133.5" y1="642.4" x2="135.0" y2="642.4" stroke="#777" stroke-width="0.5"/><text x="133.1" y="644.4" text-anchor="end" font-size="5.6" fill="#1a1a1a" stroke="#1a1a1a" stroke-width="0.1">0.00</text><line x1="133.5" y1="625.7" x2="135.0" y2="625.7" stroke="#777" stroke-width="0.5"/><text x="133.1" y="627.7" text-anchor="end" font-size="5.6" fill="#1a1a1a" stroke="#1a1a1a" stroke-width="0.1">0.05</text><line x1="133.5" y1="609.0" x2="135.0" y2="609.0" stroke="#777" stroke-width="0.5"/><text x="133.1" y="611.0" text-anchor="end" font-size="5.6" fill="#1a1a1a" stroke="#1a1a1a" stroke-width="0.1">0.10</text><line x1="133.5" y1="592.2" x2="135.0" y2="592.2" stroke="#777" stroke-width="0.5"/><text x="133.1" y="594.2" text-anchor="end" font-size="5.6" fill="#1a1a1a" stroke="#1a1a1a" stroke-width="0.1">0.15</text><line x1="133.5" y1="575.5" x2="135.0" y2="575.5" stroke="#777" stroke-width="0.5"/><text x="133.1" y="577.5" text-anchor="end" font-size="5.6" fill="#1a1a1a" stroke="#1a1a1a" stroke-width="0.1">0.20</text><text transform="translate(120.6,608.0) rotate(-90)" text-anchor="middle" font-size="5.35" fill="#000" stroke="#000" stroke-width="0.18">NK cell activated</text><line x1="138.0" y1="645.7" x2="138.0" y2="647.2" stroke="#777" stroke-width="0.5"/><text x="138.0" y="652.7" text-anchor="middle" font-size="6.7" fill="#222" stroke="#222" stroke-width="0.08">0.0</text><line x1="157.0" y1="645.7" x2="157.0" y2="647.2" stroke="#777" stroke-width="0.5"/><text x="157.0" y="652.7" text-anchor="middle" font-size="6.7" fill="#222" stroke="#222" stroke-width="0.08">2.5</text><line x1="176.1" y1="645.7" x2="176.1" y2="647.2" stroke="#777" stroke-width="0.5"/><text x="176.1" y="652.7" text-anchor="middle" font-size="6.7" fill="#222" stroke="#222" stroke-width="0.08">5.0</text><line x1="195.2" y1="645.7" x2="195.2" y2="647.2" stroke="#777" stroke-width="0.5"/><text x="195.2" y="652.7" text-anchor="middle" font-size="6.7" fill="#222" stroke="#222" stroke-width="0.08">7.5</text><line x1="214.2" y1="645.7" x2="214.2" y2="647.2" stroke="#777" stroke-width="0.5"/><text x="214.2" y="652.7" text-anchor="middle" font-size="6.7" fill="#222" stroke="#222" stroke-width="0.08">10.0</text><text x="176.8" y="661.3" text-anchor="middle" font-size="6.9" fill="#111" stroke="#111" stroke-width="0.1">CIITA</text><path d="M135.0 572.2L135.0 572.2L135.7 572.2L136.3 572.2L137.0 572.2L137.7 572.1L138.3 571.0L139.0 566.0L139.7 560.3L140.3 557.5L141.0 558.0L141.7 560.0L142.3 562.9L143.0 565.6L143.7 567.8L144.3 569.3L145.0 570.3L145.7 571.0L146.3 571.4L147.0 571.7L147.7 571.8L148.3 571.9L149.0 572.0L149.7 572.0L150.3 572.0L151.0 572.1L151.7 572.1L152.3 572.1L153.0 572.1L153.7 572.1L154.3 572.1L155.0 572.1L155.7 572.1L156.3 572.1L157.0 572.1L157.7 572.2L158.3 572.2L159.0 572.2L159.7 572.2L160.3 572.2L161.0 572.2L161.7 572.2L162.3 572.2L163.0 572.2L163.7 572.2L164.3 572.2L165.0 572.2L165.7 572.2L166.3 572.2L167.0 572.2L167.7 572.2L168.3 572.2L169.0 572.2L169.7 572.2L170.3 572.2L171.0 572.2L171.7 572.2L172.3 572.2L173.0 572.2L173.7 572.2L174.3 572.2L175.0 572.2L175.7 572.2L176.3 572.2L177.0 572.2L177.7 572.2L178.3 572.2L179.0 572.2L179.7 572.2L180.3 572.2L181.0 572.2L181.7 572.2L182.3 572.2L183.0 572.2L183.7 572.2L184.3 572.2L185.0 572.2L185.7 572.2L186.3 572.2L187.0 572.2L187.7 572.2L188.3 572.2L189.0 572.2L189.7 572.2L190.3 572.2L191.0 572.2L191.7 572.2L192.3 572.2L193.0 572.2L193.7 572.2L194.3 572.2L195.0 572.2L195.7 572.2L196.3 572.2L197.0 572.2L197.7 572.2L198.3 572.2L199.0 572.2L199.7 572.2L200.3 572.2L201.0 572.2L201.7 572.2L202.3 572.2L203.0 572.2L203.7 572.2L204.3 572.2L205.0 572.2L205.7 572.2L206.3 572.2L207.0 572.2L207.7 572.2L208.3 572.2L209.0 572.2L209.7 572.2L210.3 572.2L211.0 572.2L211.7 572.2L212.3 572.2L213.0 572.2L213.7 572.2L214.3 572.2L215.0 572.2L215.0 572.2Z" fill="#5656f4"/><path d="M215.0 645.7L215.7 645.7L216.0 645.5L216.4 645.2L216.8 645.0L217.4 644.7L218.2 644.5L219.0 644.2L219.9 644.0L220.9 643.7L222.0 643.5L223.1 643.2L224.2 643.0L225.2 642.8L226.1 642.5L226.9 642.3L227.6 642.0L228.1 641.8L228.4 641.5L228.7 641.3L229.0 640.8L229.3 640.1L229.7 639.6L230.0 639.3L230.3 639.1L230.6 638.8L230.8 638.6L231.3 638.1L231.5 637.6L231.0 636.6L230.7 636.4L230.3 636.1L229.9 635.9L229.3 635.7L228.8 635.4L228.2 635.2L227.5 634.9L226.9 634.7L226.3 634.4L225.6 634.2L225.0 633.9L224.4 633.7L223.9 633.5L223.3 633.2L222.9 633.0L222.4 632.7L222.0 632.5L221.7 632.2L221.4 632.0L221.1 631.7L220.7 631.2L220.4 630.8L220.2 629.8L219.9 627.3L219.7 626.8L219.4 626.3L219.1 625.9L218.8 625.4L218.5 624.9L218.2 624.4L217.9 623.9L217.6 623.4L217.3 622.9L217.0 622.4L216.7 621.9L216.4 621.2L216.3 620.2L216.2 617.5L216.0 616.3L215.9 615.3L215.7 613.1L215.5 611.2L215.3 609.4L215.1 607.5L215.2 604.8L215.2 602.1L215.1 599.4L215.0 596.7L215.0 594.0L215.0 591.3L215.0 588.6L215.0 585.9L215.1 583.2L215.1 580.5L215.0 577.8L215.1 575.1L215.0 572.4L215.0 572.2L215.0 572.2Z" fill="#e8b842"/><rect x="250.0" y="572.2" width="80.0" height="73.5" fill="#fff"/><path d="M262.5 572.2V645.7M281.6 572.2V645.7M300.6 572.2V645.7M319.7 572.2V645.7M250.0 634.8H330.0M250.0 619.6H330.0M250.0 604.4H330.0M250.0 589.2H330.0" stroke="#f4f4f4" stroke-width="0.5"/><path d="M253.0 572.2V645.7M272.0 572.2V645.7M291.1 572.2V645.7M310.2 572.2V645.7M329.2 572.2V645.7M250.0 642.4H330.0M250.0 627.2H330.0M250.0 612.0H330.0M250.0 596.8H330.0M250.0 581.6H330.0" stroke="#e9e9e9" stroke-width="0.6"/><path d="M253.0 623.5L256.7 623.9L260.4 624.4L264.1 624.8L267.8 625.2L271.5 625.5L275.2 625.8L278.9 626.1L282.7 626.4L286.4 626.6L290.1 626.8L293.8 626.9L297.5 627.1L301.2 627.2L304.9 627.2L308.6 627.3L312.3 627.3L316.0 627.3L319.8 627.2L323.5 627.1L327.2 627.0L327.2 639.0L323.5 638.0L319.8 637.0L316.0 636.1L312.3 635.2L308.6 634.3L304.9 633.4L301.2 632.6L297.5 631.8L293.8 631.1L290.1 630.4L286.4 629.7L282.7 629.0L278.9 628.4L275.2 627.8L271.5 627.2L267.8 626.7L264.1 626.1L260.4 625.7L256.7 625.2L253.0 624.8Z" fill="#b4b4b4" fill-opacity="0.35"/><path transform="scale(0.5)" d="M507 1254h0M509 1254h0M510 1248h0M511 1246h0M510 1244h0M513 1246h0M508 1216h0M575 1253h0M510 1247h0M513 1251h0M512 1254h0M509 1254h0M509 1254h0M571 1254h0M548 1253h0M511 1254h0M514 1253h0M516 1244h0M539 1254h0M513 1254h0M525 1250h0M557 1254h0M508 1236h0M526 1254h0M511 1202h0M513 1252h0M513 1245h0M516 1254h0M509 1254h0M538 1254h0M513 1245h0M510 1248h0M510 1245h0M551 1254h0M510 1253h0M510 1249h0M514 1251h0M510 1251h0M507 1253h0M514 1247h0M510 1251h0M513 1202h0M523 1253h0M540 1254h0M519 1254h0M512 1252h0M523 1247h0M508 1251h0M510 1254h0M514 1251h0M509 1250h0M523 1254h0M511 1237h0M516 1254h0M509 1247h0M525 1253h0M510 1254h0M517 1252h0M520 1254h0M509 1253h0M546 1254h0M517 1254h0M514 1250h0M540 1248h0M513 1234h0M507 1253h0M515 1254h0M508 1239h0M516 1253h0M509 1244h0M509 1251h0M508 1246h0M524 1254h0M511 1250h0M510 1252h0M534 1254h0M540 1254h0M514 1254h0M524 1254h0M511 1238h0M509 1249h0M511 1252h0M559 1254h0M512 1254h0M514 1245h0M519 1254h0M511 1253h0M512 1253h0M514 1241h0M508 1247h0M513 1241h0M507 1252h0M536 1254h0M527 1253h0M513 1248h0M511 1239h0M543 1254h0M531 1251h0M520 1253h0M509 1253h0M513 1242h0M521 1253h0M513 1244h0M514 1252h0M514 1230h0M515 1254h0M521 1248h0M523 1236h0M530 1252h0M517 1203h0M531 1254h0M513 1254h0M516 1251h0M542 1252h0M508 1253h0M514 1239h0M515 1246h0M510 1249h0M516 1252h0M513 1248h0M509 1245h0M508 1252h0M507 1249h0M573 1254h0M511 1250h0M508 1246h0M511 1251h0M512 1244h0M574 1254h0M522 1254h0M516 1254h0M512 1225h0M519 1254h0M511 1229h0M513 1230h0M516 1252h0M538 1254h0M507 1230h0M508 1233h0M517 1254h0M512 1244h0M518 1254h0M510 1245h0M565 1254h0M512 1248h0M507 1254h0M509 1252h0M531 1251h0M565 1253h0M517 1244h0M511 1247h0M528 1254h0M510 1238h0M511 1247h0M511 1242h0M536 1254h0M509 1228h0M524 1251h0M519 1253h0M538 1253h0M508 1247h0M575 1251h0M537 1254h0M513 1252h0M526 1241h0M514 1254h0M512 1238h0M515 1244h0M515 1246h0M511 1248h0M514 1243h0M516 1248h0M516 1230h0M542 1254h0M528 1254h0M510 1246h0M514 1248h0M541 1252h0M508 1240h0M510 1227h0M534 1252h0M516 1250h0M518 1250h0M521 1254h0M508 1245h0M526 1252h0M527 1253h0M523 1254h0M510 1231h0M508 1251h0M556 1253h0M517 1247h0M512 1243h0M512 1250h0M511 1226h0M513 1253h0M509 1248h0M541 1238h0M511 1244h0M521 1195h0M565 1253h0M524 1197h0M511 1254h0M532 1254h0M510 1244h0M510 1214h0M522 1254h0M570 1254h0M512 1151h0M515 1163h0M514 1178h0M515 1188h0M654 1254h0M597 1254h0M605 1257h0" stroke="#000" stroke-width="3.4" stroke-linecap="square"/><line x1="253.0" y1="624.1" x2="327.2" y2="633.0" stroke="#3c3cec" stroke-width="1.05"/><rect x="250.0" y="572.2" width="80.0" height="73.5" fill="none" stroke="#9a9a9a" stroke-width="0.8"/><text x="253.6" y="579.8" font-size="3.3" fill="#222">R = −0.13, p = 0.012</text><line x1="248.5" y1="642.4" x2="250.0" y2="642.4" stroke="#777" stroke-width="0.5"/><text x="248.1" y="644.4" text-anchor="end" font-size="5.6" fill="#1a1a1a" stroke="#1a1a1a" stroke-width="0.1">−0.01</text><line x1="248.5" y1="627.2" x2="250.0" y2="627.2" stroke="#777" stroke-width="0.5"/><text x="248.1" y="629.2" text-anchor="end" font-size="5.6" fill="#1a1a1a" stroke="#1a1a1a" stroke-width="0.1">0.00</text><line x1="248.5" y1="612.0" x2="250.0" y2="612.0" stroke="#777" stroke-width="0.5"/><text x="248.1" y="614.0" text-anchor="end" font-size="5.6" fill="#1a1a1a" stroke="#1a1a1a" stroke-width="0.1">0.01</text><line x1="248.5" y1="596.8" x2="250.0" y2="596.8" stroke="#777" stroke-width="0.5"/><text x="248.1" y="598.8" text-anchor="end" font-size="5.6" fill="#1a1a1a" stroke="#1a1a1a" stroke-width="0.1">0.02</text><line x1="248.5" y1="581.6" x2="250.0" y2="581.6" stroke="#777" stroke-width="0.5"/><text x="248.1" y="583.6" text-anchor="end" font-size="5.6" fill="#1a1a1a" stroke="#1a1a1a" stroke-width="0.1">0.03</text><text transform="translate(230.3,608.0) rotate(-90)" text-anchor="middle" font-size="5.35" fill="#000" stroke="#000" stroke-width="0.18">NK cell resting</text><line x1="253.0" y1="645.7" x2="253.0" y2="647.2" stroke="#777" stroke-width="0.5"/><text x="253.0" y="652.7" text-anchor="middle" font-size="6.7" fill="#222" stroke="#222" stroke-width="0.08">0.0</text><line x1="272.0" y1="645.7" x2="272.0" y2="647.2" stroke="#777" stroke-width="0.5"/><text x="272.0" y="652.7" text-anchor="middle" font-size="6.7" fill="#222" stroke="#222" stroke-width="0.08">2.5</text><line x1="291.1" y1="645.7" x2="291.1" y2="647.2" stroke="#777" stroke-width="0.5"/><text x="291.1" y="652.7" text-anchor="middle" font-size="6.7" fill="#222" stroke="#222" stroke-width="0.08">5.0</text><line x1="310.2" y1="645.7" x2="310.2" y2="647.2" stroke="#777" stroke-width="0.5"/><text x="310.2" y="652.7" text-anchor="middle" font-size="6.7" fill="#222" stroke="#222" stroke-width="0.08">7.5</text><line x1="329.2" y1="645.7" x2="329.2" y2="647.2" stroke="#777" stroke-width="0.5"/><text x="329.2" y="652.7" text-anchor="middle" font-size="6.7" fill="#222" stroke="#222" stroke-width="0.08">10.0</text><text x="291.8" y="661.3" text-anchor="middle" font-size="6.9" fill="#111" stroke="#111" stroke-width="0.1">CIITA</text><path d="M250.0 572.2L250.0 572.2L250.7 572.2L251.3 572.2L252.0 572.2L252.7 572.1L253.3 571.0L254.0 566.0L254.7 560.3L255.3 557.5L256.0 558.0L256.7 560.0L257.3 562.9L258.0 565.6L258.7 567.8L259.3 569.3L260.0 570.3L260.7 571.0L261.3 571.4L262.0 571.7L262.7 571.8L263.3 571.9L264.0 572.0L264.7 572.0L265.3 572.0L266.0 572.1L266.7 572.1L267.3 572.1L268.0 572.1L268.7 572.1L269.3 572.1L270.0 572.1L270.7 572.1L271.3 572.1L272.0 572.1L272.7 572.2L273.3 572.2L274.0 572.2L274.7 572.2L275.3 572.2L276.0 572.2L276.7 572.2L277.3 572.2L278.0 572.2L278.7 572.2L279.3 572.2L280.0 572.2L280.7 572.2L281.3 572.2L282.0 572.2L282.7 572.2L283.3 572.2L284.0 572.2L284.7 572.2L285.3 572.2L286.0 572.2L286.7 572.2L287.3 572.2L288.0 572.2L288.7 572.2L289.3 572.2L290.0 572.2L290.7 572.2L291.3 572.2L292.0 572.2L292.7 572.2L293.3 572.2L294.0 572.2L294.7 572.2L295.3 572.2L296.0 572.2L296.7 572.2L297.3 572.2L298.0 572.2L298.7 572.2L299.3 572.2L300.0 572.2L300.7 572.2L301.3 572.2L302.0 572.2L302.7 572.2L303.3 572.2L304.0 572.2L304.7 572.2L305.3 572.2L306.0 572.2L306.7 572.2L307.3 572.2L308.0 572.2L308.7 572.2L309.3 572.2L310.0 572.2L310.7 572.2L311.3 572.2L312.0 572.2L312.7 572.2L313.3 572.2L314.0 572.2L314.7 572.2L315.3 572.2L316.0 572.2L316.7 572.2L317.3 572.2L318.0 572.2L318.7 572.2L319.3 572.2L320.0 572.2L320.7 572.2L321.3 572.2L322.0 572.2L322.7 572.2L323.3 572.2L324.0 572.2L324.7 572.2L325.3 572.2L326.0 572.2L326.7 572.2L327.3 572.2L328.0 572.2L328.7 572.2L329.3 572.2L330.0 572.2L330.0 572.2Z" fill="#5656f4"/><path d="M330.0 645.7L330.0 645.7L330.0 643.0L330.0 640.3L330.0 637.6L330.0 634.9L330.0 632.2L330.0 629.5L330.2 628.6L330.7 628.3L332.0 628.1L335.0 627.8L339.5 627.6L344.1 627.3L346.5 627.1L345.8 626.8L343.0 626.6L339.9 626.3L337.5 626.1L335.8 625.9L334.5 625.6L333.5 625.4L332.7 625.1L332.1 624.9L331.9 624.6L331.9 624.4L332.2 623.9L331.9 622.9L331.5 622.2L331.0 621.7L330.7 621.4L330.4 621.0L330.3 618.3L330.1 617.3L330.3 615.1L330.1 613.6L330.0 610.9L330.1 608.2L330.0 605.5L330.0 602.8L330.2 601.4L330.0 600.1L330.1 597.4L330.0 594.7L330.0 592.0L330.1 589.4L330.0 586.7L330.0 584.0L330.1 581.3L330.0 578.6L330.1 575.9L330.0 573.2L330.0 572.2L330.0 572.2Z" fill="#e8b842"/><rect x="364.5" y="572.2" width="80.0" height="73.5" fill="#fff"/><path d="M377.0 572.2V645.7M396.1 572.2V645.7M415.1 572.2V645.7M434.2 572.2V645.7M364.5 631.8H444.5M364.5 610.5H444.5M364.5 589.3H444.5" stroke="#f4f4f4" stroke-width="0.5"/><path d="M367.5 572.2V645.7M386.5 572.2V645.7M405.6 572.2V645.7M424.7 572.2V645.7M443.7 572.2V645.7M364.5 642.4H444.5M364.5 621.1H444.5M364.5 599.9H444.5M364.5 578.7H444.5" stroke="#e9e9e9" stroke-width="0.6"/><path d="M367.5 641.5L371.2 641.0L374.9 640.4L378.6 639.8L382.3 639.2L386.0 638.5L389.7 637.7L393.4 637.0L397.2 636.2L400.9 635.3L404.6 634.5L408.3 633.5L412.0 632.6L415.7 631.6L419.4 630.5L423.1 629.5L426.8 628.4L430.5 627.2L434.3 626.0L438.0 624.8L441.7 623.5L441.7 638.5L438.0 638.4L434.3 638.3L430.5 638.2L426.8 638.2L423.1 638.2L419.4 638.3L415.7 638.4L412.0 638.5L408.3 638.7L404.6 638.9L400.9 639.2L397.2 639.5L393.4 639.8L389.7 640.2L386.0 640.6L382.3 641.0L378.6 641.5L374.9 642.0L371.2 642.6L367.5 643.2Z" fill="#b4b4b4" fill-opacity="0.35"/><path transform="scale(0.5)" d="M736 1284h0M738 1239h0M739 1283h0M739 1285h0M740 1256h0M742 1270h0M737 1276h0M804 1285h0M742 1282h0M741 1283h0M738 1283h0M741 1277h0M738 1284h0M738 1284h0M800 1285h0M777 1285h0M740 1281h0M743 1284h0M737 1284h0M745 1285h0M768 1281h0M742 1283h0M754 1278h0M786 1282h0M737 1283h0M755 1285h0M740 1281h0M742 1285h0M745 1260h0M740 1285h0M741 1283h0M767 1279h0M742 1282h0M739 1274h0M780 1283h0M743 1283h0M767 1285h0M742 1284h0M752 1283h0M769 1280h0M748 1283h0M752 1282h0M737 1284h0M739 1283h0M743 1279h0M752 1273h0M740 1282h0M745 1280h0M738 1277h0M744 1273h0M754 1285h0M739 1273h0M746 1285h0M749 1285h0M738 1281h0M740 1283h0M775 1284h0M743 1284h0M745 1277h0M741 1284h0M753 1275h0M739 1282h0M738 1282h0M763 1285h0M739 1277h0M769 1285h0M744 1283h0M753 1283h0M740 1281h0M743 1276h0M788 1284h0M752 1284h0M740 1276h0M748 1285h0M736 1280h0M765 1284h0M756 1281h0M743 1282h0M748 1283h0M772 1282h0M760 1285h0M749 1282h0M750 1285h0M750 1284h0M752 1283h0M746 1283h0M759 1275h0M741 1282h0M760 1283h0M742 1281h0M745 1279h0M742 1276h0M771 1283h0M740 1250h0M744 1285h0M745 1282h0M742 1280h0M802 1284h0M738 1280h0M803 1282h0M751 1282h0M745 1283h0M737 1277h0M741 1271h0M742 1270h0M767 1284h0M747 1282h0M747 1282h0M794 1270h0M744 1283h0M760 1284h0M794 1285h0M757 1284h0M743 1275h0M765 1284h0M803 1246h0M745 1283h0M741 1277h0M804 1275h0M766 1285h0M742 1274h0M755 1277h0M741 1279h0M744 1282h0M737 1279h0M739 1281h0M771 1284h0M757 1281h0M737 1272h0M739 1280h0M740 1283h0M763 1284h0M747 1284h0M750 1283h0M756 1285h0M737 1272h0M737 1282h0M785 1285h0M746 1282h0M740 1259h0M770 1285h0M750 1280h0M753 1283h0M761 1279h0M750 1283h0M741 1279h0M799 1285h0M748 1265h0M760 1282h0M762 1153h0M749 1157h0M743 1164h0M756 1168h0M756 1200h0M804 1225h0M799 1232h0M747 1242h0M883 1285h0M826 1285h0M834 1279h0" stroke="#000" stroke-width="3.4" stroke-linecap="square"/><line x1="367.5" y1="642.4" x2="441.7" y2="631.0" stroke="#3c3cec" stroke-width="1.05"/><rect x="364.5" y="572.2" width="80.0" height="73.5" fill="none" stroke="#9a9a9a" stroke-width="0.8"/><text x="368.1" y="579.8" font-size="3.3" fill="#222">R = 0.17, p = 0.00083</text><line x1="363.0" y1="642.4" x2="364.5" y2="642.4" stroke="#777" stroke-width="0.5"/><text x="362.6" y="644.4" text-anchor="end" font-size="5.6" fill="#1a1a1a" stroke="#1a1a1a" stroke-width="0.1">0.00</text><line x1="363.0" y1="621.1" x2="364.5" y2="621.1" stroke="#777" stroke-width="0.5"/><text x="362.6" y="623.1" text-anchor="end" font-size="5.6" fill="#1a1a1a" stroke="#1a1a1a" stroke-width="0.1">0.02</text><line x1="363.0" y1="599.9" x2="364.5" y2="599.9" stroke="#777" stroke-width="0.5"/><text x="362.6" y="601.9" text-anchor="end" font-size="5.6" fill="#1a1a1a" stroke="#1a1a1a" stroke-width="0.1">0.04</text><line x1="363.0" y1="578.7" x2="364.5" y2="578.7" stroke="#777" stroke-width="0.5"/><text x="362.6" y="580.7" text-anchor="end" font-size="5.6" fill="#1a1a1a" stroke="#1a1a1a" stroke-width="0.1">0.06</text><text transform="translate(348.1,608.0) rotate(-90)" text-anchor="middle" font-size="5.09" fill="#000" stroke="#000" stroke-width="0.18">T cell CD4 memory activated</text><line x1="367.5" y1="645.7" x2="367.5" y2="647.2" stroke="#777" stroke-width="0.5"/><text x="367.5" y="652.7" text-anchor="middle" font-size="6.7" fill="#222" stroke="#222" stroke-width="0.08">0.0</text><line x1="386.5" y1="645.7" x2="386.5" y2="647.2" stroke="#777" stroke-width="0.5"/><text x="386.5" y="652.7" text-anchor="middle" font-size="6.7" fill="#222" stroke="#222" stroke-width="0.08">2.5</text><line x1="405.6" y1="645.7" x2="405.6" y2="647.2" stroke="#777" stroke-width="0.5"/><text x="405.6" y="652.7" text-anchor="middle" font-size="6.7" fill="#222" stroke="#222" stroke-width="0.08">5.0</text><line x1="424.7" y1="645.7" x2="424.7" y2="647.2" stroke="#777" stroke-width="0.5"/><text x="424.7" y="652.7" text-anchor="middle" font-size="6.7" fill="#222" stroke="#222" stroke-width="0.08">7.5</text><line x1="443.7" y1="645.7" x2="443.7" y2="647.2" stroke="#777" stroke-width="0.5"/><text x="443.7" y="652.7" text-anchor="middle" font-size="6.7" fill="#222" stroke="#222" stroke-width="0.08">10.0</text><text x="406.3" y="661.3" text-anchor="middle" font-size="6.9" fill="#111" stroke="#111" stroke-width="0.1">CIITA</text><path d="M364.5 572.2L364.5 572.2L365.2 572.2L365.8 572.2L366.5 572.2L367.2 572.1L367.8 571.0L368.5 566.0L369.2 560.3L369.8 557.5L370.5 558.0L371.2 560.0L371.8 562.9L372.5 565.6L373.2 567.8L373.8 569.3L374.5 570.3L375.2 571.0L375.8 571.4L376.5 571.7L377.2 571.8L377.8 571.9L378.5 572.0L379.2 572.0L379.8 572.0L380.5 572.1L381.2 572.1L381.8 572.1L382.5 572.1L383.2 572.1L383.8 572.1L384.5 572.1L385.2 572.1L385.8 572.1L386.5 572.1L387.2 572.2L387.8 572.2L388.5 572.2L389.2 572.2L389.8 572.2L390.5 572.2L391.2 572.2L391.8 572.2L392.5 572.2L393.2 572.2L393.8 572.2L394.5 572.2L395.2 572.2L395.8 572.2L396.5 572.2L397.2 572.2L397.8 572.2L398.5 572.2L399.2 572.2L399.8 572.2L400.5 572.2L401.2 572.2L401.8 572.2L402.5 572.2L403.2 572.2L403.8 572.2L404.5 572.2L405.2 572.2L405.8 572.2L406.5 572.2L407.2 572.2L407.8 572.2L408.5 572.2L409.2 572.2L409.8 572.2L410.5 572.2L411.2 572.2L411.8 572.2L412.5 572.2L413.2 572.2L413.8 572.2L414.5 572.2L415.2 572.2L415.8 572.2L416.5 572.2L417.2 572.2L417.8 572.2L418.5 572.2L419.2 572.2L419.8 572.2L420.5 572.2L421.2 572.2L421.8 572.2L422.5 572.2L423.2 572.2L423.8 572.2L424.5 572.2L425.2 572.2L425.8 572.2L426.5 572.2L427.2 572.2L427.8 572.2L428.5 572.2L429.2 572.2L429.8 572.2L430.5 572.2L431.2 572.2L431.8 572.2L432.5 572.2L433.2 572.2L433.8 572.2L434.5 572.2L435.2 572.2L435.8 572.2L436.5 572.2L437.2 572.2L437.8 572.2L438.5 572.2L439.2 572.2L439.8 572.2L440.5 572.2L441.2 572.2L441.8 572.2L442.5 572.2L443.2 572.2L443.8 572.2L444.5 572.2L444.5 572.2Z" fill="#5656f4"/><path d="M444.5 645.7L444.5 645.7L444.6 643.7L444.9 643.5L446.0 643.2L448.6 643.0L452.8 642.8L457.5 642.5L460.7 642.3L461.0 642.0L459.0 641.8L456.2 641.5L453.6 641.3L451.3 641.0L449.5 640.8L448.0 640.6L447.0 640.3L446.3 640.1L445.9 639.8L445.7 639.6L445.4 639.1L445.1 637.6L444.9 636.9L444.7 634.9L444.5 634.2L444.5 631.5L444.5 628.8L444.5 626.1L444.5 623.4L444.5 620.7L444.5 618.0L444.5 615.3L444.6 612.6L444.5 609.9L444.5 607.2L444.5 604.5L444.5 601.8L444.5 599.2L444.5 596.5L444.5 593.8L444.5 591.1L444.5 588.4L444.5 585.7L444.5 583.0L444.5 580.3L444.5 577.6L444.5 574.9L444.5 572.2L444.5 572.2Z" fill="#e8b842"/><rect x="477.0" y="572.2" width="80.0" height="73.5" fill="#fff"/><path d="M489.5 572.2V645.7M508.6 572.2V645.7M527.6 572.2V645.7M546.7 572.2V645.7M477.0 633.9H557.0M477.0 617.0H557.0M477.0 600.1H557.0M477.0 583.2H557.0" stroke="#f4f4f4" stroke-width="0.5"/><path d="M480.0 572.2V645.7M499.0 572.2V645.7M518.1 572.2V645.7M537.2 572.2V645.7M556.2 572.2V645.7M477.0 642.4H557.0M477.0 625.4H557.0M477.0 608.5H557.0M477.0 591.6H557.0M477.0 574.7H557.0" stroke="#e9e9e9" stroke-width="0.6"/><path d="M480.0 636.4L483.7 635.4L487.4 634.3L491.1 633.2L494.8 632.1L498.5 630.9L502.2 629.7L505.9 628.4L509.7 627.1L513.4 625.7L517.1 624.4L520.8 622.9L524.5 621.5L528.2 620.0L531.9 618.4L535.6 616.9L539.3 615.2L543.0 613.6L546.8 611.9L550.5 610.2L554.2 608.4L554.2 623.4L550.5 623.7L546.8 624.2L543.0 624.6L539.3 625.1L535.6 625.6L531.9 626.2L528.2 626.8L524.5 627.4L520.8 628.1L517.1 628.8L513.4 629.6L509.7 630.4L505.9 631.2L502.2 632.1L498.5 633.0L494.8 633.9L491.1 634.9L487.4 636.0L483.7 637.0L480.0 638.1Z" fill="#b4b4b4" fill-opacity="0.35"/><path transform="scale(0.5)" d="M961 1284h0M963 1270h0M964 1272h0M964 1274h0M965 1275h0M964 1269h0M967 1276h0M962 1271h0M1029 1252h0M964 1277h0M967 1240h0M966 1270h0M963 1285h0M966 1269h0M963 1270h0M963 1272h0M1025 1255h0M1002 1260h0M965 1268h0M968 1276h0M962 1269h0M970 1285h0M993 1285h0M967 1271h0M979 1269h0M1011 1270h0M962 1276h0M962 1285h0M962 1275h0M980 1265h0M965 1274h0M967 1273h0M970 1277h0M965 1232h0M964 1279h0M963 1276h0M966 1276h0M992 1256h0M967 1277h0M964 1283h0M964 1262h0M1005 1262h0M964 1285h0M964 1273h0M968 1277h0M963 1274h0M968 1271h0M964 1260h0M992 1264h0M967 1272h0M977 1264h0M994 1268h0M973 1274h0M977 1273h0M966 1285h0M962 1277h0M965 1266h0M964 1278h0M968 1279h0M977 1284h0M965 1285h0M970 1278h0M963 1279h0M969 1261h0M979 1283h0M962 1278h0M964 1258h0M971 1271h0M974 1285h0M963 1272h0M965 1270h0M1000 1264h0M963 1267h0M971 1241h0M963 1283h0M968 1274h0M994 1272h0M967 1256h0M961 1260h0M963 1247h0M969 1274h0M961 1268h0M962 1281h0M970 1267h0M963 1265h0M963 1267h0M962 1276h0M978 1267h0M964 1283h0M963 1274h0M988 1270h0M968 1277h0M964 1275h0M962 1261h0M994 1275h0M968 1271h0M964 1266h0M967 1282h0M969 1274h0M978 1266h0M965 1282h0M968 1283h0M963 1275h0M965 1277h0M1013 1266h0M977 1270h0M966 1263h0M963 1261h0M968 1260h0M968 1276h0M965 1263h0M967 1282h0M967 1278h0M973 1273h0M965 1274h0M966 1271h0M968 1254h0M964 1277h0M967 1265h0M961 1256h0M990 1258h0M962 1273h0M981 1267h0M966 1262h0M968 1274h0M961 1243h0M967 1274h0M973 1267h0M965 1271h0M997 1283h0M985 1272h0M974 1269h0M963 1278h0M975 1268h0M966 1249h0M967 1252h0M968 1285h0M969 1279h0M963 1263h0M961 1264h0M975 1248h0M962 1282h0M964 1268h0M977 1267h0M971 1274h0M984 1262h0M966 1270h0M971 1270h0M985 1285h0M967 1273h0M962 1268h0M970 1282h0M967 1268h0M996 1270h0M964 1281h0M965 1261h0M969 1272h0M963 1263h0M962 1272h0M968 1279h0M965 1261h0M969 1278h0M970 1278h0M967 1263h0M962 1270h0M968 1265h0M961 1265h0M967 1274h0M1027 1268h0M963 1269h0M962 1279h0M965 1280h0M965 1260h0M980 1254h0M965 1275h0M962 1267h0M967 1260h0M962 1283h0M965 1272h0M1028 1251h0M976 1284h0M970 1272h0M964 1267h0M966 1274h0M973 1271h0M967 1282h0M970 1284h0M992 1267h0M965 1268h0M972 1262h0M962 1247h0M968 1272h0M963 1283h0M970 1262h0M972 1281h0M962 1251h0M964 1276h0M1019 1284h0M966 1266h0M961 1272h0M966 1267h0M970 1266h0M985 1263h0M1019 1246h0M967 1258h0M965 1284h0M982 1241h0M964 1246h0M968 1263h0M965 1270h0M990 1222h0M1028 1241h0M969 1265h0M978 1275h0M992 1249h0M970 1260h0M970 1263h0M966 1271h0M964 1246h0M963 1268h0M968 1284h0M1029 1248h0M991 1262h0M973 1285h0M980 1269h0M964 1257h0M968 1247h0M966 1277h0M969 1283h0M964 1239h0M962 1273h0M963 1281h0M965 1266h0M976 1268h0M965 1255h0M966 1277h0M964 1262h0M966 1272h0M967 1269h0M966 1247h0M973 1245h0M968 1283h0M970 1273h0M970 1271h0M996 1269h0M982 1280h0M968 1271h0M995 1272h0M961 1271h0M988 1266h0M970 1274h0M967 1284h0M972 1278h0M975 1268h0M962 1261h0M980 1268h0M962 1259h0M964 1261h0M981 1273h0M963 1282h0M962 1278h0M977 1276h0M1010 1268h0M974 1272h0M966 1276h0M974 1266h0M966 1258h0M968 1270h0M965 1272h0M965 1279h0M995 1269h0M965 1268h0M964 1281h0M975 1285h0M1019 1261h0M964 1271h0M978 1250h0M968 1231h0M965 1238h0M965 1282h0M964 1264h0M969 1276h0M968 1278h0M986 1265h0M963 1272h0M974 1273h0M975 1257h0M971 1270h0M976 1276h0M962 1248h0M970 1275h0M965 1262h0M1024 1283h0M969 1271h0M969 1255h0M967 1269h0M973 1262h0M985 1268h0M1053 1151h0M994 1197h0M986 1209h0M1006 1217h0M1108 1276h0M1048 1281h0M1059 1285h0" stroke="#000" stroke-width="3.4" stroke-linecap="square"/><line x1="480.0" y1="637.3" x2="554.2" y2="615.9" stroke="#3c3cec" stroke-width="1.05"/><rect x="477.0" y="572.2" width="80.0" height="73.5" fill="none" stroke="#9a9a9a" stroke-width="0.8"/><text x="480.6" y="579.8" font-size="3.3" fill="#222">R = 0.33, p = 4.4e−11</text><line x1="475.5" y1="642.4" x2="477.0" y2="642.4" stroke="#777" stroke-width="0.5"/><text x="475.1" y="644.4" text-anchor="end" font-size="5.6" fill="#1a1a1a" stroke="#1a1a1a" stroke-width="0.1">0.0</text><line x1="475.5" y1="625.4" x2="477.0" y2="625.4" stroke="#777" stroke-width="0.5"/><text x="475.1" y="627.4" text-anchor="end" font-size="5.6" fill="#1a1a1a" stroke="#1a1a1a" stroke-width="0.1">0.2</text><line x1="475.5" y1="608.5" x2="477.0" y2="608.5" stroke="#777" stroke-width="0.5"/><text x="475.1" y="610.5" text-anchor="end" font-size="5.6" fill="#1a1a1a" stroke="#1a1a1a" stroke-width="0.1">0.4</text><line x1="475.5" y1="591.6" x2="477.0" y2="591.6" stroke="#777" stroke-width="0.5"/><text x="475.1" y="593.6" text-anchor="end" font-size="5.6" fill="#1a1a1a" stroke="#1a1a1a" stroke-width="0.1">0.6</text><line x1="475.5" y1="574.7" x2="477.0" y2="574.7" stroke="#777" stroke-width="0.5"/><text x="475.1" y="576.7" text-anchor="end" font-size="5.6" fill="#1a1a1a" stroke="#1a1a1a" stroke-width="0.1">0.8</text><text transform="translate(463.7,608.0) rotate(-90)" text-anchor="middle" font-size="5.35" fill="#000" stroke="#000" stroke-width="0.18">T cell CD4 memory resting</text><line x1="480.0" y1="645.7" x2="480.0" y2="647.2" stroke="#777" stroke-width="0.5"/><text x="480.0" y="652.7" text-anchor="middle" font-size="6.7" fill="#222" stroke="#222" stroke-width="0.08">0.0</text><line x1="499.0" y1="645.7" x2="499.0" y2="647.2" stroke="#777" stroke-width="0.5"/><text x="499.0" y="652.7" text-anchor="middle" font-size="6.7" fill="#222" stroke="#222" stroke-width="0.08">2.5</text><line x1="518.1" y1="645.7" x2="518.1" y2="647.2" stroke="#777" stroke-width="0.5"/><text x="518.1" y="652.7" text-anchor="middle" font-size="6.7" fill="#222" stroke="#222" stroke-width="0.08">5.0</text><line x1="537.2" y1="645.7" x2="537.2" y2="647.2" stroke="#777" stroke-width="0.5"/><text x="537.2" y="652.7" text-anchor="middle" font-size="6.7" fill="#222" stroke="#222" stroke-width="0.08">7.5</text><line x1="556.2" y1="645.7" x2="556.2" y2="647.2" stroke="#777" stroke-width="0.5"/><text x="556.2" y="652.7" text-anchor="middle" font-size="6.7" fill="#222" stroke="#222" stroke-width="0.08">10.0</text><text x="518.8" y="661.3" text-anchor="middle" font-size="6.9" fill="#111" stroke="#111" stroke-width="0.1">CIITA</text><path d="M477.0 572.2L477.0 572.2L477.7 572.2L478.3 572.2L479.0 572.2L479.7 572.1L480.3 571.0L481.0 566.0L481.7 560.3L482.3 557.5L483.0 558.0L483.7 560.0L484.3 562.9L485.0 565.6L485.7 567.8L486.3 569.3L487.0 570.3L487.7 571.0L488.3 571.4L489.0 571.7L489.7 571.8L490.3 571.9L491.0 572.0L491.7 572.0L492.3 572.0L493.0 572.1L493.7 572.1L494.3 572.1L495.0 572.1L495.7 572.1L496.3 572.1L497.0 572.1L497.7 572.1L498.3 572.1L499.0 572.1L499.7 572.2L500.3 572.2L501.0 572.2L501.7 572.2L502.3 572.2L503.0 572.2L503.7 572.2L504.3 572.2L505.0 572.2L505.7 572.2L506.3 572.2L507.0 572.2L507.7 572.2L508.3 572.2L509.0 572.2L509.7 572.2L510.3 572.2L511.0 572.2L511.7 572.2L512.3 572.2L513.0 572.2L513.7 572.2L514.3 572.2L515.0 572.2L515.7 572.2L516.3 572.2L517.0 572.2L517.7 572.2L518.3 572.2L519.0 572.2L519.7 572.2L520.3 572.2L521.0 572.2L521.7 572.2L522.3 572.2L523.0 572.2L523.7 572.2L524.3 572.2L525.0 572.2L525.7 572.2L526.3 572.2L527.0 572.2L527.7 572.2L528.3 572.2L529.0 572.2L529.7 572.2L530.3 572.2L531.0 572.2L531.7 572.2L532.3 572.2L533.0 572.2L533.7 572.2L534.3 572.2L535.0 572.2L535.7 572.2L536.3 572.2L537.0 572.2L537.7 572.2L538.3 572.2L539.0 572.2L539.7 572.2L540.3 572.2L541.0 572.2L541.7 572.2L542.3 572.2L543.0 572.2L543.7 572.2L544.3 572.2L545.0 572.2L545.7 572.2L546.3 572.2L547.0 572.2L547.7 572.2L548.3 572.2L549.0 572.2L549.7 572.2L550.3 572.2L551.0 572.2L551.7 572.2L552.3 572.2L553.0 572.2L553.7 572.2L554.3 572.2L555.0 572.2L555.7 572.2L556.3 572.2L557.0 572.2L557.0 572.2Z" fill="#5656f4"/><path d="M557.0 645.7L557.0 645.7L557.3 644.7L557.9 644.2L558.4 644.0L559.1 643.7L559.9 643.5L561.0 643.2L562.1 643.0L563.2 642.8L564.2 642.5L565.0 642.3L565.5 642.0L565.7 641.8L565.6 641.5L565.3 641.3L564.8 641.0L564.3 640.8L564.0 640.6L563.7 640.3L563.8 640.1L564.0 639.8L564.6 639.6L565.3 639.3L566.2 639.1L567.2 638.8L568.3 638.6L569.3 638.4L570.2 638.1L571.1 637.9L571.9 637.6L572.5 637.4L573.0 637.1L573.3 636.9L573.5 636.6L573.5 636.4L573.4 636.1L573.1 635.9L572.6 635.7L572.0 635.4L571.4 635.2L570.6 634.9L569.9 634.7L569.1 634.4L568.3 634.2L567.5 633.9L566.8 633.7L566.1 633.5L565.5 633.2L564.9 633.0L564.4 632.7L564.0 632.5L563.7 632.2L563.4 632.0L563.0 631.5L562.5 631.0L562.3 630.8L561.9 630.5L561.5 630.3L561.1 630.0L560.7 629.8L560.3 629.5L560.0 629.3L559.6 629.0L559.4 628.8L559.0 628.3L558.6 627.8L558.3 627.1L558.2 626.3L558.4 624.9L558.6 623.9L558.2 622.7L557.9 621.9L557.7 619.7L557.4 619.0L557.2 618.3L557.3 615.6L557.1 613.9L557.1 611.2L557.1 608.5L557.0 605.8L557.1 603.1L557.0 600.4L557.1 597.7L557.0 595.0L557.0 592.3L557.0 589.6L557.0 586.9L557.0 584.2L557.0 581.5L557.0 578.8L557.1 576.1L557.0 573.4L557.0 572.2L557.0 572.2Z" fill="#e8b842"/><rect x="587.5" y="572.2" width="80.0" height="73.5" fill="#fff"/><path d="M600.0 572.2V645.7M619.1 572.2V645.7M638.1 572.2V645.7M657.2 572.2V645.7M587.5 623.4H667.5M587.5 604.4H667.5M587.5 585.4H667.5" stroke="#f4f4f4" stroke-width="0.5"/><path d="M590.5 572.2V645.7M609.5 572.2V645.7M628.6 572.2V645.7M647.7 572.2V645.7M666.7 572.2V645.7M587.5 632.9H667.5M587.5 613.9H667.5M587.5 594.9H667.5M587.5 575.9H667.5" stroke="#e9e9e9" stroke-width="0.6"/><path d="M590.5 630.5L594.2 630.8L597.9 630.9L601.6 631.1L605.3 631.2L609.0 631.4L612.7 631.5L616.4 631.6L620.2 631.6L623.9 631.7L627.6 631.7L631.3 631.7L635.0 631.7L638.7 631.7L642.4 631.6L646.1 631.6L649.8 631.5L653.5 631.4L657.3 631.2L661.0 631.1L664.7 630.9L664.7 638.4L661.0 637.9L657.3 637.4L653.5 636.9L649.8 636.4L646.1 635.9L642.4 635.5L638.7 635.1L635.0 634.7L631.3 634.3L627.6 633.9L623.9 633.6L620.2 633.3L616.4 633.0L612.7 632.7L609.0 632.4L605.3 632.2L601.6 631.9L597.9 631.7L594.2 631.6L590.5 631.4Z" fill="#b4b4b4" fill-opacity="0.35"/><path transform="scale(0.5)" d="M1182 1266h0M1184 1266h0M1185 1264h0M1186 1263h0M1188 1266h0M1183 1264h0M1250 1264h0M1185 1263h0M1185 1266h0M1188 1265h0M1187 1266h0M1184 1266h0M1184 1265h0M1184 1262h0M1246 1266h0M1223 1264h0M1189 1263h0M1191 1266h0M1214 1266h0M1188 1263h0M1200 1263h0M1232 1265h0M1183 1261h0M1183 1263h0M1201 1261h0M1186 1265h0M1188 1263h0M1191 1264h0M1186 1266h0M1184 1261h0M1213 1266h0M1226 1263h0M1189 1266h0M1184 1264h0M1182 1264h0M1198 1263h0M1215 1264h0M1194 1263h0M1198 1264h0M1188 1262h0M1189 1266h0M1198 1264h0M1191 1266h0M1184 1263h0M1200 1266h0M1192 1266h0M1195 1264h0M1221 1266h0M1192 1263h0M1215 1266h0M1191 1265h0M1187 1264h0M1184 1264h0M1184 1258h0M1199 1266h0M1209 1266h0M1189 1265h0M1183 1264h0M1185 1264h0M1190 1262h0M1199 1263h0M1189 1264h0M1234 1264h0M1186 1262h0M1194 1265h0M1211 1266h0M1202 1266h0M1194 1266h0M1218 1266h0M1206 1266h0M1195 1266h0M1196 1264h0M1189 1263h0M1196 1265h0M1198 1266h0M1205 1264h0M1187 1262h0M1206 1266h0M1217 1265h0M1190 1260h0M1189 1257h0M1248 1247h0M1185 1263h0M1189 1265h0M1186 1261h0M1186 1252h0M1249 1265h0M1197 1266h0M1194 1265h0M1182 1265h0M1193 1253h0M1183 1253h0M1240 1263h0M1240 1266h0M1203 1265h0M1184 1259h0M1211 1266h0M1213 1264h0M1184 1255h0M1250 1265h0M1212 1266h0M1201 1265h0M1186 1262h0M1190 1262h0M1217 1264h0M1203 1266h0M1216 1266h0M1186 1252h0M1201 1256h0M1183 1260h0M1231 1263h0M1195 1262h0M1191 1264h0M1196 1262h0M1240 1266h0M1207 1266h0M1185 1255h0M1197 1259h0M1245 1264h0M1189 1144h0M1189 1175h0M1187 1190h0M1186 1205h0M1188 1220h0M1186 1235h0M1189 1243h0M1269 1266h0M1274 1266h0M1280 1266h0M1329 1267h0" stroke="#000" stroke-width="3.4" stroke-linecap="square"/><line x1="590.5" y1="631.0" x2="664.7" y2="634.7" stroke="#3c3cec" stroke-width="1.05"/><rect x="587.5" y="572.2" width="80.0" height="73.5" fill="none" stroke="#9a9a9a" stroke-width="0.8"/><text x="591.1" y="579.8" font-size="3.3" fill="#222">R = −0.072, p = 0.17</text><line x1="586.0" y1="632.9" x2="587.5" y2="632.9" stroke="#777" stroke-width="0.5"/><text x="585.6" y="634.9" text-anchor="end" font-size="5.6" fill="#1a1a1a" stroke="#1a1a1a" stroke-width="0.1">0.000</text><line x1="586.0" y1="613.9" x2="587.5" y2="613.9" stroke="#777" stroke-width="0.5"/><text x="585.6" y="615.9" text-anchor="end" font-size="5.6" fill="#1a1a1a" stroke="#1a1a1a" stroke-width="0.1">0.005</text><line x1="586.0" y1="594.9" x2="587.5" y2="594.9" stroke="#777" stroke-width="0.5"/><text x="585.6" y="596.9" text-anchor="end" font-size="5.6" fill="#1a1a1a" stroke="#1a1a1a" stroke-width="0.1">0.010</text><line x1="586.0" y1="575.9" x2="587.5" y2="575.9" stroke="#777" stroke-width="0.5"/><text x="585.6" y="577.9" text-anchor="end" font-size="5.6" fill="#1a1a1a" stroke="#1a1a1a" stroke-width="0.1">0.015</text><text transform="translate(568.0,608.0) rotate(-90)" text-anchor="middle" font-size="5.35" fill="#000" stroke="#000" stroke-width="0.18">T cell CD4 naive</text><line x1="590.5" y1="645.7" x2="590.5" y2="647.2" stroke="#777" stroke-width="0.5"/><text x="590.5" y="652.7" text-anchor="middle" font-size="6.7" fill="#222" stroke="#222" stroke-width="0.08">0.0</text><line x1="609.5" y1="645.7" x2="609.5" y2="647.2" stroke="#777" stroke-width="0.5"/><text x="609.5" y="652.7" text-anchor="middle" font-size="6.7" fill="#222" stroke="#222" stroke-width="0.08">2.5</text><line x1="628.6" y1="645.7" x2="628.6" y2="647.2" stroke="#777" stroke-width="0.5"/><text x="628.6" y="652.7" text-anchor="middle" font-size="6.7" fill="#222" stroke="#222" stroke-width="0.08">5.0</text><line x1="647.7" y1="645.7" x2="647.7" y2="647.2" stroke="#777" stroke-width="0.5"/><text x="647.7" y="652.7" text-anchor="middle" font-size="6.7" fill="#222" stroke="#222" stroke-width="0.08">7.5</text><line x1="666.7" y1="645.7" x2="666.7" y2="647.2" stroke="#777" stroke-width="0.5"/><text x="666.7" y="652.7" text-anchor="middle" font-size="6.7" fill="#222" stroke="#222" stroke-width="0.08">10.0</text><text x="629.3" y="661.3" text-anchor="middle" font-size="6.9" fill="#111" stroke="#111" stroke-width="0.1">CIITA</text><path d="M587.5 572.2L587.5 572.2L588.2 572.2L588.8 572.2L589.5 572.2L590.2 572.1L590.8 571.0L591.5 566.0L592.2 560.3L592.8 557.5L593.5 558.0L594.2 560.0L594.8 562.9L595.5 565.6L596.2 567.8L596.8 569.3L597.5 570.3L598.2 571.0L598.8 571.4L599.5 571.7L600.2 571.8L600.8 571.9L601.5 572.0L602.2 572.0L602.8 572.0L603.5 572.1L604.2 572.1L604.8 572.1L605.5 572.1L606.2 572.1L606.8 572.1L607.5 572.1L608.2 572.1L608.8 572.1L609.5 572.1L610.2 572.2L610.8 572.2L611.5 572.2L612.2 572.2L612.8 572.2L613.5 572.2L614.2 572.2L614.8 572.2L615.5 572.2L616.2 572.2L616.8 572.2L617.5 572.2L618.2 572.2L618.8 572.2L619.5 572.2L620.2 572.2L620.8 572.2L621.5 572.2L622.2 572.2L622.8 572.2L623.5 572.2L624.2 572.2L624.8 572.2L625.5 572.2L626.2 572.2L626.8 572.2L627.5 572.2L628.2 572.2L628.8 572.2L629.5 572.2L630.2 572.2L630.8 572.2L631.5 572.2L632.2 572.2L632.8 572.2L633.5 572.2L634.2 572.2L634.8 572.2L635.5 572.2L636.2 572.2L636.8 572.2L637.5 572.2L638.2 572.2L638.8 572.2L639.5 572.2L640.2 572.2L640.8 572.2L641.5 572.2L642.2 572.2L642.8 572.2L643.5 572.2L644.2 572.2L644.8 572.2L645.5 572.2L646.2 572.2L646.8 572.2L647.5 572.2L648.2 572.2L648.8 572.2L649.5 572.2L650.2 572.2L650.8 572.2L651.5 572.2L652.2 572.2L652.8 572.2L653.5 572.2L654.2 572.2L654.8 572.2L655.5 572.2L656.2 572.2L656.8 572.2L657.5 572.2L658.2 572.2L658.8 572.2L659.5 572.2L660.2 572.2L660.8 572.2L661.5 572.2L662.2 572.2L662.8 572.2L663.5 572.2L664.2 572.2L664.8 572.2L665.5 572.2L666.2 572.2L666.8 572.2L667.5 572.2L667.5 572.2Z" fill="#5656f4"/><path d="M667.5 645.7L667.5 645.7L667.5 643.0L667.5 640.3L667.5 637.6L667.5 634.9L667.7 634.2L668.2 633.9L669.8 633.7L673.1 633.5L677.8 633.2L682.2 633.0L684.0 632.7L682.5 632.5L679.4 632.2L676.2 632.0L673.8 631.7L672.1 631.5L670.7 631.2L669.7 631.0L668.9 630.8L668.5 630.5L668.2 630.3L667.9 629.8L667.7 629.0L667.7 626.3L667.5 625.1L667.5 622.4L667.5 619.7L667.5 617.0L667.5 614.3L667.5 611.6L667.5 609.0L667.5 606.3L667.5 603.6L667.5 600.9L667.5 598.2L667.5 595.5L667.5 592.8L667.5 590.1L667.6 587.4L667.5 584.7L667.5 582.0L667.5 579.3L667.5 576.6L667.5 573.9L667.6 572.2L667.5 572.2Z" fill="#e8b842"/><rect x="19.5" y="678.6" width="80.0" height="73.5" fill="#fff"/><path d="M32.0 678.6V752.1M51.1 678.6V752.1M70.1 678.6V752.1M89.2 678.6V752.1M19.5 738.5H99.5M19.5 717.9H99.5M19.5 697.4H99.5" stroke="#f4f4f4" stroke-width="0.5"/><path d="M22.5 678.6V752.1M41.5 678.6V752.1M60.6 678.6V752.1M79.7 678.6V752.1M98.7 678.6V752.1M19.5 748.8H99.5M19.5 728.2H99.5M19.5 707.6H99.5M19.5 687.1H99.5" stroke="#e9e9e9" stroke-width="0.6"/><path d="M22.5 746.9L26.2 744.2L29.9 741.6L33.6 738.8L37.3 736.1L41.0 733.3L44.7 730.4L48.4 727.6L52.2 724.6L55.9 721.7L59.6 718.7L63.3 715.7L67.0 712.6L70.7 709.5L74.4 706.3L78.1 703.1L81.8 699.9L85.5 696.7L89.3 693.4L93.0 690.0L96.7 686.6L96.7 701.6L93.0 703.6L89.3 705.6L85.5 707.7L81.8 709.8L78.1 711.9L74.4 714.1L70.7 716.3L67.0 718.5L63.3 720.8L59.6 723.2L55.9 725.5L52.2 727.9L48.4 730.4L44.7 732.9L41.0 735.4L37.3 737.9L33.6 740.5L29.9 743.2L26.2 745.9L22.5 748.6Z" fill="#b4b4b4" fill-opacity="0.35"/><path transform="scale(0.5)" d="M46 1496h0M48 1480h0M49 1489h0M49 1497h0M50 1478h0M49 1492h0M52 1495h0M47 1494h0M114 1446h0M49 1498h0M49 1490h0M52 1483h0M51 1495h0M48 1480h0M48 1484h0M48 1492h0M110 1493h0M87 1459h0M50 1487h0M53 1491h0M47 1496h0M55 1497h0M78 1487h0M52 1492h0M64 1472h0M96 1448h0M47 1495h0M47 1496h0M47 1492h0M65 1475h0M50 1492h0M52 1495h0M52 1490h0M55 1481h0M50 1488h0M48 1488h0M51 1489h0M77 1468h0M49 1495h0M49 1498h0M90 1466h0M49 1487h0M53 1484h0M48 1476h0M49 1485h0M46 1434h0M53 1469h0M52 1488h0M77 1490h0M52 1484h0M62 1489h0M79 1488h0M58 1487h0M51 1472h0M62 1483h0M51 1490h0M52 1492h0M47 1486h0M50 1490h0M53 1481h0M48 1485h0M62 1457h0M50 1494h0M55 1486h0M48 1493h0M54 1465h0M64 1489h0M49 1484h0M49 1486h0M56 1480h0M59 1498h0M48 1494h0M85 1456h0M56 1487h0M53 1494h0M49 1494h0M79 1449h0M52 1489h0M46 1498h0M48 1491h0M54 1491h0M46 1493h0M46 1480h0M47 1498h0M55 1458h0M51 1472h0M48 1497h0M47 1491h0M63 1476h0M49 1493h0M48 1493h0M73 1471h0M53 1489h0M49 1491h0M79 1498h0M53 1487h0M49 1485h0M52 1488h0M54 1487h0M63 1477h0M47 1488h0M50 1495h0M53 1493h0M48 1489h0M50 1492h0M98 1462h0M62 1487h0M53 1486h0M53 1492h0M52 1473h0M52 1488h0M58 1486h0M50 1484h0M53 1483h0M47 1489h0M49 1481h0M46 1494h0M75 1489h0M47 1488h0M66 1476h0M53 1442h0M46 1478h0M52 1491h0M58 1484h0M82 1497h0M70 1477h0M59 1489h0M52 1483h0M60 1482h0M52 1487h0M53 1480h0M53 1488h0M54 1484h0M60 1486h0M49 1484h0M62 1490h0M56 1491h0M69 1494h0M56 1490h0M70 1455h0M52 1492h0M51 1494h0M55 1494h0M81 1480h0M50 1483h0M54 1488h0M48 1479h0M49 1489h0M54 1473h0M51 1491h0M55 1492h0M48 1490h0M52 1498h0M47 1487h0M53 1497h0M52 1486h0M112 1497h0M50 1493h0M65 1480h0M47 1475h0M52 1485h0M52 1490h0M113 1489h0M61 1483h0M55 1492h0M49 1488h0M47 1488h0M58 1487h0M50 1494h0M47 1485h0M55 1466h0M77 1495h0M48 1489h0M57 1489h0M56 1482h0M51 1498h0M53 1485h0M51 1475h0M104 1455h0M51 1473h0M54 1492h0M55 1490h0M48 1486h0M70 1479h0M104 1496h0M52 1487h0M52 1493h0M67 1474h0M49 1481h0M49 1482h0M50 1489h0M75 1459h0M113 1449h0M54 1485h0M48 1473h0M63 1470h0M58 1485h0M77 1470h0M54 1498h0M55 1483h0M114 1456h0M76 1482h0M58 1490h0M47 1482h0M65 1496h0M49 1496h0M53 1495h0M51 1480h0M53 1471h0M50 1490h0M51 1485h0M50 1491h0M61 1481h0M54 1476h0M47 1491h0M52 1461h0M58 1483h0M55 1489h0M55 1492h0M81 1488h0M67 1478h0M80 1459h0M53 1490h0M46 1481h0M73 1470h0M55 1487h0M57 1487h0M60 1496h0M65 1496h0M66 1479h0M62 1485h0M95 1469h0M56 1489h0M59 1481h0M51 1497h0M48 1464h0M51 1486h0M50 1488h0M80 1484h0M49 1491h0M60 1473h0M104 1461h0M51 1497h0M50 1487h0M63 1492h0M50 1476h0M71 1471h0M48 1482h0M60 1487h0M49 1484h0M61 1485h0M55 1490h0M109 1491h0M49 1452h0M49 1496h0M54 1486h0M58 1490h0M70 1484h0M138 1364h0M100 1382h0M107 1389h0M97 1409h0M106 1419h0M193 1463h0M133 1498h0M144 1446h0M89 1430h0M92 1436h0" stroke="#000" stroke-width="3.4" stroke-linecap="square"/><line x1="22.5" y1="747.7" x2="96.7" y2="694.1" stroke="#3c3cec" stroke-width="1.05"/><rect x="19.5" y="678.6" width="80.0" height="73.5" fill="none" stroke="#9a9a9a" stroke-width="0.8"/><text x="23.1" y="686.2" font-size="3.3" fill="#222">R = 0.55, p < 2.2e−16</text><line x1="18.0" y1="748.8" x2="19.5" y2="748.8" stroke="#777" stroke-width="0.5"/><text x="17.6" y="750.8" text-anchor="end" font-size="5.6" fill="#1a1a1a" stroke="#1a1a1a" stroke-width="0.1">0.0</text><line x1="18.0" y1="728.2" x2="19.5" y2="728.2" stroke="#777" stroke-width="0.5"/><text x="17.6" y="730.2" text-anchor="end" font-size="5.6" fill="#1a1a1a" stroke="#1a1a1a" stroke-width="0.1">0.2</text><line x1="18.0" y1="707.6" x2="19.5" y2="707.6" stroke="#777" stroke-width="0.5"/><text x="17.6" y="709.6" text-anchor="end" font-size="5.6" fill="#1a1a1a" stroke="#1a1a1a" stroke-width="0.1">0.4</text><line x1="18.0" y1="687.1" x2="19.5" y2="687.1" stroke="#777" stroke-width="0.5"/><text x="17.6" y="689.1" text-anchor="end" font-size="5.6" fill="#1a1a1a" stroke="#1a1a1a" stroke-width="0.1">0.6</text><text transform="translate(6.2,714.4) rotate(-90)" text-anchor="middle" font-size="5.35" fill="#000" stroke="#000" stroke-width="0.18">T cell CD8</text><line x1="22.5" y1="752.1" x2="22.5" y2="753.6" stroke="#777" stroke-width="0.5"/><text x="22.5" y="759.1" text-anchor="middle" font-size="6.7" fill="#222" stroke="#222" stroke-width="0.08">0.0</text><line x1="41.5" y1="752.1" x2="41.5" y2="753.6" stroke="#777" stroke-width="0.5"/><text x="41.5" y="759.1" text-anchor="middle" font-size="6.7" fill="#222" stroke="#222" stroke-width="0.08">2.5</text><line x1="60.6" y1="752.1" x2="60.6" y2="753.6" stroke="#777" stroke-width="0.5"/><text x="60.6" y="759.1" text-anchor="middle" font-size="6.7" fill="#222" stroke="#222" stroke-width="0.08">5.0</text><line x1="79.7" y1="752.1" x2="79.7" y2="753.6" stroke="#777" stroke-width="0.5"/><text x="79.7" y="759.1" text-anchor="middle" font-size="6.7" fill="#222" stroke="#222" stroke-width="0.08">7.5</text><line x1="98.7" y1="752.1" x2="98.7" y2="753.6" stroke="#777" stroke-width="0.5"/><text x="98.7" y="759.1" text-anchor="middle" font-size="6.7" fill="#222" stroke="#222" stroke-width="0.08">10.0</text><text x="61.3" y="767.7" text-anchor="middle" font-size="6.9" fill="#111" stroke="#111" stroke-width="0.1">CIITA</text><path d="M19.5 678.6L19.5 678.6L20.2 678.6L20.8 678.6L21.5 678.6L22.2 678.5L22.8 677.4L23.5 672.4L24.2 666.7L24.8 663.9L25.5 664.4L26.2 666.4L26.8 669.3L27.5 672.0L28.2 674.2L28.8 675.7L29.5 676.7L30.2 677.4L30.8 677.8L31.5 678.1L32.2 678.2L32.8 678.3L33.5 678.4L34.2 678.4L34.8 678.4L35.5 678.5L36.2 678.5L36.8 678.5L37.5 678.5L38.2 678.5L38.8 678.5L39.5 678.5L40.2 678.5L40.8 678.5L41.5 678.5L42.2 678.6L42.8 678.6L43.5 678.6L44.2 678.6L44.8 678.6L45.5 678.6L46.2 678.6L46.8 678.6L47.5 678.6L48.2 678.6L48.8 678.6L49.5 678.6L50.2 678.6L50.8 678.6L51.5 678.6L52.2 678.6L52.8 678.6L53.5 678.6L54.2 678.6L54.8 678.6L55.5 678.6L56.2 678.6L56.8 678.6L57.5 678.6L58.2 678.6L58.8 678.6L59.5 678.6L60.2 678.6L60.8 678.6L61.5 678.6L62.2 678.6L62.8 678.6L63.5 678.6L64.2 678.6L64.8 678.6L65.5 678.6L66.2 678.6L66.8 678.6L67.5 678.6L68.2 678.6L68.8 678.6L69.5 678.6L70.2 678.6L70.8 678.6L71.5 678.6L72.2 678.6L72.8 678.6L73.5 678.6L74.2 678.6L74.8 678.6L75.5 678.6L76.2 678.6L76.8 678.6L77.5 678.6L78.2 678.6L78.8 678.6L79.5 678.6L80.2 678.6L80.8 678.6L81.5 678.6L82.2 678.6L82.8 678.6L83.5 678.6L84.2 678.6L84.8 678.6L85.5 678.6L86.2 678.6L86.8 678.6L87.5 678.6L88.2 678.6L88.8 678.6L89.5 678.6L90.2 678.6L90.8 678.6L91.5 678.6L92.2 678.6L92.8 678.6L93.5 678.6L94.2 678.6L94.8 678.6L95.5 678.6L96.2 678.6L96.8 678.6L97.5 678.6L98.2 678.6L98.8 678.6L99.5 678.6L99.5 678.6Z" fill="#5656f4"/><path d="M99.5 752.1L99.5 752.1L99.8 750.6L100.1 750.4L100.6 750.1L101.2 749.9L102.1 749.6L103.2 749.4L104.4 749.2L105.7 748.9L106.9 748.7L107.9 748.4L108.9 748.2L109.8 747.9L110.7 747.7L111.6 747.4L112.6 747.2L113.5 747.0L114.4 746.7L115.2 746.5L115.7 746.2L115.9 746.0L116.0 745.7L115.6 745.2L115.2 745.0L114.8 744.8L114.2 744.5L113.6 744.3L113.0 744.0L112.2 743.8L111.4 743.5L110.5 743.3L109.6 743.0L108.7 742.8L107.9 742.5L107.1 742.3L106.5 742.1L105.8 741.8L105.3 741.6L104.8 741.3L104.3 741.1L104.0 740.8L103.7 740.6L103.4 740.3L103.2 740.1L102.9 739.9L102.6 739.6L102.4 739.4L102.1 739.1L101.7 738.6L101.5 738.1L101.3 737.2L101.0 735.2L100.7 734.7L100.5 734.2L100.2 733.5L100.2 730.8L100.3 728.1L100.0 727.1L99.8 726.4L100.0 724.2L99.7 722.5L99.6 719.8L99.7 717.6L99.6 714.9L99.5 712.2L99.6 709.5L99.5 706.8L99.6 704.1L99.5 701.4L99.5 698.7L99.5 696.0L99.6 693.3L99.6 690.6L99.5 687.9L99.5 685.2L99.6 682.5L99.5 679.8L99.5 678.6L99.5 678.6Z" fill="#e8b842"/><rect x="135.0" y="678.6" width="80.0" height="73.5" fill="#fff"/><path d="M147.5 678.6V752.1M166.6 678.6V752.1M185.6 678.6V752.1M204.7 678.6V752.1M135.0 741.3H215.0M135.0 726.5H215.0M135.0 711.6H215.0M135.0 696.8H215.0" stroke="#f4f4f4" stroke-width="0.5"/><path d="M138.0 678.6V752.1M157.0 678.6V752.1M176.1 678.6V752.1M195.2 678.6V752.1M214.2 678.6V752.1M135.0 748.8H215.0M135.0 733.9H215.0M135.0 719.1H215.0M135.0 704.2H215.0M135.0 689.4H215.0" stroke="#e9e9e9" stroke-width="0.6"/><path d="M138.0 746.4L141.7 744.2L145.4 741.9L149.1 739.6L152.8 737.2L156.5 734.8L160.2 732.4L163.9 729.9L167.7 727.4L171.4 724.8L175.1 722.2L178.8 719.6L182.5 716.9L186.2 714.2L189.9 711.4L193.6 708.7L197.3 705.8L201.0 703.0L204.8 700.1L208.5 697.1L212.2 694.1L212.2 709.1L208.5 710.7L204.8 712.3L201.0 714.0L197.3 715.7L193.6 717.4L189.9 719.2L186.2 721.0L182.5 722.9L178.8 724.7L175.1 726.7L171.4 728.6L167.7 730.7L163.9 732.7L160.2 734.8L156.5 736.9L152.8 739.1L149.1 741.3L145.4 743.5L141.7 745.8L138.0 748.1Z" fill="#b4b4b4" fill-opacity="0.35"/><path transform="scale(0.5)" d="M277 1486h0M279 1491h0M280 1477h0M280 1490h0M281 1484h0M280 1495h0M283 1489h0M278 1491h0M345 1492h0M280 1498h0M283 1489h0M282 1478h0M279 1497h0M282 1490h0M279 1488h0M279 1497h0M279 1490h0M341 1454h0M318 1477h0M281 1496h0M284 1497h0M278 1493h0M286 1497h0M309 1473h0M295 1497h0M327 1463h0M278 1497h0M278 1495h0M296 1467h0M281 1488h0M283 1490h0M283 1481h0M286 1470h0M281 1496h0M280 1493h0M279 1493h0M282 1498h0M308 1471h0M283 1471h0M280 1497h0M321 1469h0M280 1491h0M280 1475h0M284 1456h0M277 1471h0M284 1472h0M283 1491h0M280 1496h0M308 1495h0M283 1486h0M293 1488h0M310 1480h0M289 1490h0M282 1498h0M293 1474h0M283 1483h0M281 1494h0M284 1482h0M279 1490h0M293 1462h0M281 1492h0M286 1487h0M279 1492h0M285 1496h0M295 1486h0M278 1491h0M280 1492h0M287 1498h0M290 1487h0M279 1453h0M281 1465h0M316 1497h0M287 1495h0M284 1477h0M310 1497h0M277 1494h0M279 1483h0M285 1496h0M277 1485h0M277 1484h0M278 1491h0M286 1480h0M280 1494h0M278 1487h0M294 1497h0M281 1498h0M280 1489h0M279 1495h0M304 1482h0M284 1480h0M278 1496h0M310 1497h0M283 1496h0M285 1493h0M294 1476h0M278 1494h0M284 1491h0M279 1482h0M281 1475h0M329 1454h0M293 1487h0M279 1494h0M284 1484h0M284 1486h0M281 1485h0M283 1486h0M278 1466h0M289 1480h0M280 1488h0M281 1494h0M281 1491h0M282 1494h0M278 1478h0M280 1488h0M283 1497h0M277 1489h0M306 1478h0M297 1454h0M282 1493h0M284 1495h0M277 1497h0M289 1482h0M281 1475h0M313 1494h0M301 1476h0M290 1488h0M291 1477h0M282 1489h0M283 1460h0M284 1498h0M285 1488h0M277 1481h0M291 1489h0M279 1490h0M281 1497h0M278 1498h0M293 1464h0M287 1497h0M300 1462h0M282 1495h0M287 1484h0M301 1447h0M283 1487h0M282 1493h0M283 1481h0M312 1468h0M280 1481h0M281 1486h0M285 1482h0M285 1479h0M282 1485h0M286 1487h0M278 1479h0M284 1474h0M277 1493h0M343 1469h0M280 1479h0M278 1492h0M284 1481h0M281 1491h0M281 1460h0M296 1498h0M282 1495h0M281 1486h0M283 1478h0M344 1497h0M292 1497h0M286 1496h0M282 1495h0M289 1476h0M278 1481h0M308 1498h0M285 1488h0M288 1498h0M287 1438h0M284 1492h0M282 1486h0M286 1478h0M288 1485h0M280 1483h0M335 1480h0M282 1473h0M301 1498h0M335 1461h0M287 1479h0M283 1491h0M283 1487h0M280 1487h0M298 1474h0M279 1485h0M279 1486h0M284 1490h0M281 1477h0M281 1490h0M306 1479h0M344 1494h0M285 1494h0M279 1470h0M294 1498h0M308 1461h0M286 1476h0M285 1485h0M286 1490h0M282 1474h0M278 1475h0M284 1491h0M345 1477h0M289 1485h0M296 1448h0M284 1480h0M282 1488h0M285 1468h0M282 1487h0M281 1493h0M292 1421h0M285 1485h0M282 1481h0M282 1493h0M289 1486h0M286 1486h0M312 1443h0M298 1496h0M311 1494h0M284 1498h0M277 1496h0M281 1490h0M304 1462h0M286 1475h0M283 1483h0M288 1488h0M284 1493h0M296 1478h0M297 1498h0M278 1477h0M278 1485h0M285 1480h0M326 1463h0M290 1483h0M278 1488h0M278 1486h0M290 1479h0M311 1453h0M286 1490h0M291 1496h0M335 1452h0M279 1495h0M282 1492h0M280 1483h0M294 1490h0M284 1471h0M284 1467h0M302 1495h0M290 1480h0M291 1470h0M282 1468h0M286 1498h0M292 1481h0M286 1498h0M340 1498h0M285 1483h0M285 1488h0M301 1484h0M343 1364h0M326 1408h0M316 1414h0M323 1420h0M299 1420h0M375 1468h0M424 1486h0M364 1492h0" stroke="#000" stroke-width="3.4" stroke-linecap="square"/><line x1="138.0" y1="747.3" x2="212.2" y2="701.6" stroke="#3c3cec" stroke-width="1.05"/><rect x="135.0" y="678.6" width="80.0" height="73.5" fill="none" stroke="#9a9a9a" stroke-width="0.8"/><text x="138.6" y="686.2" font-size="3.3" fill="#222">R = 0.37, p < 2.2e−16</text><line x1="133.5" y1="748.8" x2="135.0" y2="748.8" stroke="#777" stroke-width="0.5"/><text x="133.1" y="750.8" text-anchor="end" font-size="5.6" fill="#1a1a1a" stroke="#1a1a1a" stroke-width="0.1">0.00</text><line x1="133.5" y1="733.9" x2="135.0" y2="733.9" stroke="#777" stroke-width="0.5"/><text x="133.1" y="735.9" text-anchor="end" font-size="5.6" fill="#1a1a1a" stroke="#1a1a1a" stroke-width="0.1">0.05</text><line x1="133.5" y1="719.1" x2="135.0" y2="719.1" stroke="#777" stroke-width="0.5"/><text x="133.1" y="721.1" text-anchor="end" font-size="5.6" fill="#1a1a1a" stroke="#1a1a1a" stroke-width="0.1">0.10</text><line x1="133.5" y1="704.2" x2="135.0" y2="704.2" stroke="#777" stroke-width="0.5"/><text x="133.1" y="706.2" text-anchor="end" font-size="5.6" fill="#1a1a1a" stroke="#1a1a1a" stroke-width="0.1">0.15</text><line x1="133.5" y1="689.4" x2="135.0" y2="689.4" stroke="#777" stroke-width="0.5"/><text x="133.1" y="691.4" text-anchor="end" font-size="5.6" fill="#1a1a1a" stroke="#1a1a1a" stroke-width="0.1">0.20</text><text transform="translate(120.6,714.4) rotate(-90)" text-anchor="middle" font-size="5.35" fill="#000" stroke="#000" stroke-width="0.18">T cell follicular helper</text><line x1="138.0" y1="752.1" x2="138.0" y2="753.6" stroke="#777" stroke-width="0.5"/><text x="138.0" y="759.1" text-anchor="middle" font-size="6.7" fill="#222" stroke="#222" stroke-width="0.08">0.0</text><line x1="157.0" y1="752.1" x2="157.0" y2="753.6" stroke="#777" stroke-width="0.5"/><text x="157.0" y="759.1" text-anchor="middle" font-size="6.7" fill="#222" stroke="#222" stroke-width="0.08">2.5</text><line x1="176.1" y1="752.1" x2="176.1" y2="753.6" stroke="#777" stroke-width="0.5"/><text x="176.1" y="759.1" text-anchor="middle" font-size="6.7" fill="#222" stroke="#222" stroke-width="0.08">5.0</text><line x1="195.2" y1="752.1" x2="195.2" y2="753.6" stroke="#777" stroke-width="0.5"/><text x="195.2" y="759.1" text-anchor="middle" font-size="6.7" fill="#222" stroke="#222" stroke-width="0.08">7.5</text><line x1="214.2" y1="752.1" x2="214.2" y2="753.6" stroke="#777" stroke-width="0.5"/><text x="214.2" y="759.1" text-anchor="middle" font-size="6.7" fill="#222" stroke="#222" stroke-width="0.08">10.0</text><text x="176.8" y="767.7" text-anchor="middle" font-size="6.9" fill="#111" stroke="#111" stroke-width="0.1">CIITA</text><path d="M135.0 678.6L135.0 678.6L135.7 678.6L136.3 678.6L137.0 678.6L137.7 678.5L138.3 677.4L139.0 672.4L139.7 666.7L140.3 663.9L141.0 664.4L141.7 666.4L142.3 669.3L143.0 672.0L143.7 674.2L144.3 675.7L145.0 676.7L145.7 677.4L146.3 677.8L147.0 678.1L147.7 678.2L148.3 678.3L149.0 678.4L149.7 678.4L150.3 678.4L151.0 678.5L151.7 678.5L152.3 678.5L153.0 678.5L153.7 678.5L154.3 678.5L155.0 678.5L155.7 678.5L156.3 678.5L157.0 678.5L157.7 678.6L158.3 678.6L159.0 678.6L159.7 678.6L160.3 678.6L161.0 678.6L161.7 678.6L162.3 678.6L163.0 678.6L163.7 678.6L164.3 678.6L165.0 678.6L165.7 678.6L166.3 678.6L167.0 678.6L167.7 678.6L168.3 678.6L169.0 678.6L169.7 678.6L170.3 678.6L171.0 678.6L171.7 678.6L172.3 678.6L173.0 678.6L173.7 678.6L174.3 678.6L175.0 678.6L175.7 678.6L176.3 678.6L177.0 678.6L177.7 678.6L178.3 678.6L179.0 678.6L179.7 678.6L180.3 678.6L181.0 678.6L181.7 678.6L182.3 678.6L183.0 678.6L183.7 678.6L184.3 678.6L185.0 678.6L185.7 678.6L186.3 678.6L187.0 678.6L187.7 678.6L188.3 678.6L189.0 678.6L189.7 678.6L190.3 678.6L191.0 678.6L191.7 678.6L192.3 678.6L193.0 678.6L193.7 678.6L194.3 678.6L195.0 678.6L195.7 678.6L196.3 678.6L197.0 678.6L197.7 678.6L198.3 678.6L199.0 678.6L199.7 678.6L200.3 678.6L201.0 678.6L201.7 678.6L202.3 678.6L203.0 678.6L203.7 678.6L204.3 678.6L205.0 678.6L205.7 678.6L206.3 678.6L207.0 678.6L207.7 678.6L208.3 678.6L209.0 678.6L209.7 678.6L210.3 678.6L211.0 678.6L211.7 678.6L212.3 678.6L213.0 678.6L213.7 678.6L214.3 678.6L215.0 678.6L215.0 678.6Z" fill="#5656f4"/><path d="M215.0 752.1L215.1 752.1L215.5 751.4L215.9 751.1L216.4 750.9L217.1 750.6L218.0 750.4L219.1 750.1L220.5 749.9L222.0 749.6L223.7 749.4L225.3 749.2L226.9 748.9L228.2 748.7L229.3 748.4L230.2 748.2L230.7 747.9L231.1 747.7L231.4 747.2L231.1 746.0L230.8 745.7L230.4 745.5L229.8 745.2L229.2 745.0L228.5 744.8L227.8 744.5L227.1 744.3L226.4 744.0L225.8 743.8L225.1 743.5L224.5 743.3L223.9 743.0L223.3 742.8L222.8 742.5L222.2 742.3L221.7 742.1L221.3 741.8L220.9 741.6L220.6 741.3L220.3 741.1L220.0 740.6L219.7 740.1L219.4 739.4L219.1 738.6L218.8 738.1L218.4 737.6L218.0 737.2L217.6 736.7L217.3 736.2L217.0 735.4L216.7 734.5L216.4 733.5L216.2 732.7L215.9 730.1L215.6 729.3L215.5 728.3L215.7 727.1L215.4 725.1L215.2 723.2L215.1 720.5L215.1 717.8L215.0 715.1L215.1 712.4L215.3 710.9L215.1 708.2L215.1 705.6L215.1 702.9L215.0 700.2L215.0 697.5L215.0 694.8L215.0 692.1L215.0 689.4L215.0 686.7L215.0 684.0L215.1 681.3L215.0 678.6L215.0 678.6Z" fill="#e8b842"/><rect x="250.0" y="678.6" width="80.0" height="73.5" fill="#fff"/><path d="M262.5 678.6V752.1M281.6 678.6V752.1M300.6 678.6V752.1M319.7 678.6V752.1M250.0 740.4H330.0M250.0 723.7H330.0M250.0 707.0H330.0M250.0 690.3H330.0" stroke="#f4f4f4" stroke-width="0.5"/><path d="M253.0 678.6V752.1M272.0 678.6V752.1M291.1 678.6V752.1M310.2 678.6V752.1M329.2 678.6V752.1M250.0 748.8H330.0M250.0 732.1H330.0M250.0 715.4H330.0M250.0 698.6H330.0M250.0 681.9H330.0" stroke="#e9e9e9" stroke-width="0.6"/><path d="M253.0 747.9L256.7 746.7L260.4 745.4L264.1 744.1L267.8 742.8L271.5 741.4L275.2 739.9L278.9 738.5L282.7 737.0L286.4 735.4L290.1 733.9L293.8 732.2L297.5 730.6L301.2 728.9L304.9 727.1L308.6 725.4L312.3 723.6L316.0 721.7L319.8 719.8L323.5 717.9L327.2 715.9L327.2 730.9L323.5 731.5L319.8 732.1L316.0 732.7L312.3 733.4L308.6 734.1L304.9 734.9L301.2 735.7L297.5 736.5L293.8 737.4L290.1 738.3L286.4 739.3L282.7 740.3L278.9 741.3L275.2 742.4L271.5 743.5L267.8 744.6L264.1 745.8L260.4 747.0L256.7 748.3L253.0 749.6Z" fill="#b4b4b4" fill-opacity="0.35"/><path transform="scale(0.5)" d="M507 1498h0M509 1493h0M510 1497h0M510 1496h0M511 1495h0M513 1497h0M508 1497h0M575 1498h0M510 1495h0M513 1496h0M512 1497h0M509 1497h0M512 1498h0M509 1495h0M509 1496h0M571 1498h0M548 1497h0M511 1497h0M514 1498h0M516 1498h0M539 1462h0M513 1498h0M525 1492h0M557 1468h0M508 1498h0M526 1498h0M509 1496h0M512 1489h0M538 1497h0M510 1498h0M551 1498h0M510 1496h0M514 1498h0M507 1498h0M514 1496h0M513 1495h0M523 1489h0M540 1497h0M519 1498h0M512 1496h0M523 1498h0M512 1498h0M523 1497h0M516 1495h0M509 1490h0M515 1494h0M525 1498h0M517 1498h0M520 1498h0M511 1473h0M546 1477h0M540 1498h0M507 1496h0M507 1491h0M508 1494h0M516 1498h0M510 1493h0M524 1494h0M511 1496h0M534 1484h0M540 1486h0M514 1477h0M524 1496h0M511 1494h0M514 1486h0M559 1497h0M523 1497h0M512 1482h0M509 1479h0M513 1492h0M519 1498h0M514 1495h0M510 1491h0M536 1498h0M508 1496h0M527 1484h0M507 1483h0M519 1496h0M543 1496h0M531 1498h0M508 1493h0M521 1498h0M514 1494h0M515 1495h0M521 1492h0M523 1498h0M517 1497h0M530 1497h0M512 1495h0M531 1497h0M516 1496h0M542 1495h0M511 1494h0M515 1496h0M508 1495h0M514 1497h0M511 1490h0M516 1494h0M508 1489h0M573 1498h0M511 1487h0M526 1496h0M511 1495h0M574 1497h0M522 1498h0M516 1496h0M512 1489h0M516 1491h0M538 1494h0M507 1495h0M508 1492h0M517 1496h0M518 1496h0M565 1439h0M507 1497h0M512 1494h0M531 1498h0M565 1498h0M508 1492h0M528 1481h0M509 1482h0M536 1498h0M574 1496h0M519 1497h0M516 1494h0M510 1494h0M537 1497h0M513 1481h0M519 1492h0M514 1481h0M515 1490h0M522 1497h0M515 1493h0M519 1493h0M514 1494h0M516 1497h0M542 1498h0M528 1498h0M514 1496h0M541 1497h0M511 1493h0M507 1493h0M534 1488h0M516 1488h0M514 1450h0M508 1492h0M527 1496h0M523 1482h0M508 1494h0M556 1497h0M517 1482h0M520 1466h0M514 1478h0M509 1488h0M509 1462h0M565 1473h0M510 1492h0M524 1495h0M511 1485h0M514 1460h0M532 1496h0M509 1470h0M513 1494h0M509 1485h0M522 1495h0M570 1497h0M519 1489h0M531 1482h0M546 1364h0M535 1375h0M568 1380h0M568 1389h0M605 1435h0M549 1451h0M654 1473h0M594 1498h0" stroke="#000" stroke-width="3.4" stroke-linecap="square"/><line x1="253.0" y1="748.8" x2="327.2" y2="723.4" stroke="#3c3cec" stroke-width="1.05"/><rect x="250.0" y="678.6" width="80.0" height="73.5" fill="none" stroke="#9a9a9a" stroke-width="0.8"/><text x="253.6" y="686.2" font-size="3.3" fill="#222">R = 0.32, p = 2.8e−10</text><line x1="248.5" y1="748.8" x2="250.0" y2="748.8" stroke="#777" stroke-width="0.5"/><text x="248.1" y="750.8" text-anchor="end" font-size="5.6" fill="#1a1a1a" stroke="#1a1a1a" stroke-width="0.1">0.000</text><line x1="248.5" y1="732.1" x2="250.0" y2="732.1" stroke="#777" stroke-width="0.5"/><text x="248.1" y="734.1" text-anchor="end" font-size="5.6" fill="#1a1a1a" stroke="#1a1a1a" stroke-width="0.1">0.025</text><line x1="248.5" y1="715.4" x2="250.0" y2="715.4" stroke="#777" stroke-width="0.5"/><text x="248.1" y="717.4" text-anchor="end" font-size="5.6" fill="#1a1a1a" stroke="#1a1a1a" stroke-width="0.1">0.050</text><line x1="248.5" y1="698.6" x2="250.0" y2="698.6" stroke="#777" stroke-width="0.5"/><text x="248.1" y="700.6" text-anchor="end" font-size="5.6" fill="#1a1a1a" stroke="#1a1a1a" stroke-width="0.1">0.075</text><line x1="248.5" y1="681.9" x2="250.0" y2="681.9" stroke="#777" stroke-width="0.5"/><text x="248.1" y="683.9" text-anchor="end" font-size="5.6" fill="#1a1a1a" stroke="#1a1a1a" stroke-width="0.1">0.100</text><text transform="translate(230.5,714.4) rotate(-90)" text-anchor="middle" font-size="5.35" fill="#000" stroke="#000" stroke-width="0.18">T cell gamma delta</text><line x1="253.0" y1="752.1" x2="253.0" y2="753.6" stroke="#777" stroke-width="0.5"/><text x="253.0" y="759.1" text-anchor="middle" font-size="6.7" fill="#222" stroke="#222" stroke-width="0.08">0.0</text><line x1="272.0" y1="752.1" x2="272.0" y2="753.6" stroke="#777" stroke-width="0.5"/><text x="272.0" y="759.1" text-anchor="middle" font-size="6.7" fill="#222" stroke="#222" stroke-width="0.08">2.5</text><line x1="291.1" y1="752.1" x2="291.1" y2="753.6" stroke="#777" stroke-width="0.5"/><text x="291.1" y="759.1" text-anchor="middle" font-size="6.7" fill="#222" stroke="#222" stroke-width="0.08">5.0</text><line x1="310.2" y1="752.1" x2="310.2" y2="753.6" stroke="#777" stroke-width="0.5"/><text x="310.2" y="759.1" text-anchor="middle" font-size="6.7" fill="#222" stroke="#222" stroke-width="0.08">7.5</text><line x1="329.2" y1="752.1" x2="329.2" y2="753.6" stroke="#777" stroke-width="0.5"/><text x="329.2" y="759.1" text-anchor="middle" font-size="6.7" fill="#222" stroke="#222" stroke-width="0.08">10.0</text><text x="291.8" y="767.7" text-anchor="middle" font-size="6.9" fill="#111" stroke="#111" stroke-width="0.1">CIITA</text><path d="M250.0 678.6L250.0 678.6L250.7 678.6L251.3 678.6L252.0 678.6L252.7 678.5L253.3 677.4L254.0 672.4L254.7 666.7L255.3 663.9L256.0 664.4L256.7 666.4L257.3 669.3L258.0 672.0L258.7 674.2L259.3 675.7L260.0 676.7L260.7 677.4L261.3 677.8L262.0 678.1L262.7 678.2L263.3 678.3L264.0 678.4L264.7 678.4L265.3 678.4L266.0 678.5L266.7 678.5L267.3 678.5L268.0 678.5L268.7 678.5L269.3 678.5L270.0 678.5L270.7 678.5L271.3 678.5L272.0 678.5L272.7 678.6L273.3 678.6L274.0 678.6L274.7 678.6L275.3 678.6L276.0 678.6L276.7 678.6L277.3 678.6L278.0 678.6L278.7 678.6L279.3 678.6L280.0 678.6L280.7 678.6L281.3 678.6L282.0 678.6L282.7 678.6L283.3 678.6L284.0 678.6L284.7 678.6L285.3 678.6L286.0 678.6L286.7 678.6L287.3 678.6L288.0 678.6L288.7 678.6L289.3 678.6L290.0 678.6L290.7 678.6L291.3 678.6L292.0 678.6L292.7 678.6L293.3 678.6L294.0 678.6L294.7 678.6L295.3 678.6L296.0 678.6L296.7 678.6L297.3 678.6L298.0 678.6L298.7 678.6L299.3 678.6L300.0 678.6L300.7 678.6L301.3 678.6L302.0 678.6L302.7 678.6L303.3 678.6L304.0 678.6L304.7 678.6L305.3 678.6L306.0 678.6L306.7 678.6L307.3 678.6L308.0 678.6L308.7 678.6L309.3 678.6L310.0 678.6L310.7 678.6L311.3 678.6L312.0 678.6L312.7 678.6L313.3 678.6L314.0 678.6L314.7 678.6L315.3 678.6L316.0 678.6L316.7 678.6L317.3 678.6L318.0 678.6L318.7 678.6L319.3 678.6L320.0 678.6L320.7 678.6L321.3 678.6L322.0 678.6L322.7 678.6L323.3 678.6L324.0 678.6L324.7 678.6L325.3 678.6L326.0 678.6L326.7 678.6L327.3 678.6L328.0 678.6L328.7 678.6L329.3 678.6L330.0 678.6L330.0 678.6Z" fill="#5656f4"/><path d="M330.0 752.1L330.0 752.1L330.1 750.1L330.5 749.9L331.6 749.6L334.3 749.4L338.6 749.2L343.4 748.9L346.4 748.7L346.5 748.4L344.4 748.2L341.6 747.9L339.0 747.7L336.9 747.4L335.1 747.2L333.8 747.0L332.8 746.7L332.1 746.5L331.6 746.2L331.3 746.0L331.0 745.7L330.7 745.2L330.3 743.5L330.5 740.8L330.2 740.1L330.1 737.9L330.2 736.4L330.1 733.7L330.1 731.0L330.0 728.3L330.1 725.6L330.0 722.9L330.0 720.2L330.1 717.6L330.0 714.9L330.0 712.2L330.0 709.5L330.0 706.8L330.0 704.1L330.0 701.4L330.0 698.7L330.0 696.0L330.0 693.3L330.0 690.6L330.0 687.9L330.0 685.2L330.0 682.5L330.0 679.8L330.0 678.6L330.0 678.6Z" fill="#e8b842"/><rect x="364.5" y="678.6" width="80.0" height="73.5" fill="#fff"/><path d="M377.0 678.6V752.1M396.1 678.6V752.1M415.1 678.6V752.1M434.2 678.6V752.1M364.5 741.2H444.5M364.5 726.0H444.5M364.5 710.8H444.5M364.5 695.6H444.5" stroke="#f4f4f4" stroke-width="0.5"/><path d="M367.5 678.6V752.1M386.5 678.6V752.1M405.6 678.6V752.1M424.7 678.6V752.1M443.7 678.6V752.1M364.5 748.8H444.5M364.5 733.6H444.5M364.5 718.4H444.5M364.5 703.2H444.5M364.5 688.0H444.5" stroke="#e9e9e9" stroke-width="0.6"/><path d="M367.5 745.5L371.2 744.1L374.9 742.7L378.6 741.2L382.3 739.7L386.0 738.1L389.7 736.5L393.4 734.9L397.2 733.2L400.9 731.5L404.6 729.8L408.3 728.0L412.0 726.2L415.7 724.3L419.4 722.4L423.1 720.5L426.8 718.5L430.5 716.5L434.3 714.4L438.0 712.3L441.7 710.2L441.7 725.1L438.0 725.9L434.3 726.7L430.5 727.5L426.8 728.3L423.1 729.2L419.4 730.1L415.7 731.1L412.0 732.1L408.3 733.1L404.6 734.2L400.9 735.3L397.2 736.5L393.4 737.7L389.7 738.9L386.0 740.2L382.3 741.5L378.6 742.9L374.9 744.3L371.2 745.7L367.5 747.2Z" fill="#b4b4b4" fill-opacity="0.35"/><path transform="scale(0.5)" d="M736 1495h0M738 1474h0M739 1486h0M739 1495h0M740 1480h0M739 1491h0M742 1486h0M737 1493h0M804 1482h0M739 1498h0M739 1491h0M741 1485h0M738 1498h0M741 1482h0M738 1481h0M738 1491h0M800 1477h0M777 1475h0M740 1494h0M743 1467h0M745 1491h0M768 1495h0M742 1480h0M754 1478h0M786 1496h0M737 1491h0M737 1485h0M737 1489h0M755 1493h0M740 1483h0M742 1492h0M742 1489h0M745 1490h0M740 1498h0M738 1496h0M741 1496h0M767 1497h0M742 1484h0M739 1495h0M780 1485h0M739 1488h0M739 1493h0M743 1486h0M738 1490h0M739 1485h0M736 1492h0M743 1487h0M742 1490h0M767 1492h0M752 1479h0M769 1498h0M748 1482h0M741 1486h0M752 1494h0M741 1496h0M742 1481h0M737 1496h0M740 1476h0M743 1497h0M738 1491h0M752 1490h0M740 1494h0M745 1486h0M738 1493h0M744 1483h0M754 1486h0M737 1485h0M746 1497h0M749 1490h0M738 1486h0M775 1495h0M738 1487h0M746 1479h0M738 1484h0M743 1484h0M739 1485h0M769 1496h0M742 1493h0M736 1487h0M738 1489h0M744 1468h0M736 1494h0M736 1498h0M745 1498h0M741 1455h0M739 1492h0M738 1489h0M737 1497h0M753 1486h0M740 1484h0M738 1492h0M763 1498h0M743 1484h0M737 1486h0M769 1469h0M743 1489h0M739 1482h0M742 1486h0M744 1491h0M753 1447h0M743 1483h0M740 1490h0M788 1469h0M752 1477h0M739 1489h0M743 1489h0M743 1487h0M740 1473h0M742 1491h0M737 1492h0M748 1496h0M739 1489h0M740 1481h0M740 1492h0M737 1489h0M739 1489h0M736 1489h0M765 1497h0M756 1490h0M741 1497h0M742 1490h0M748 1497h0M772 1481h0M760 1487h0M749 1498h0M738 1497h0M742 1491h0M750 1488h0M742 1485h0M744 1491h0M736 1491h0M750 1498h0M737 1491h0M739 1497h0M752 1483h0M746 1473h0M759 1488h0M741 1497h0M760 1497h0M742 1488h0M745 1478h0M771 1497h0M740 1487h0M744 1465h0M743 1491h0M740 1491h0M744 1490h0M745 1487h0M737 1495h0M802 1475h0M739 1483h0M740 1497h0M738 1465h0M743 1498h0M755 1474h0M737 1465h0M741 1488h0M740 1496h0M803 1496h0M751 1496h0M748 1487h0M737 1477h0M742 1497h0M745 1495h0M767 1474h0M744 1473h0M738 1484h0M747 1498h0M746 1497h0M745 1489h0M747 1452h0M794 1459h0M741 1495h0M740 1488h0M744 1487h0M745 1482h0M760 1487h0M794 1477h0M746 1485h0M742 1478h0M739 1487h0M757 1480h0M740 1436h0M803 1461h0M744 1472h0M753 1488h0M748 1480h0M767 1467h0M745 1456h0M741 1483h0M737 1497h0M804 1466h0M740 1493h0M766 1486h0M739 1440h0M737 1482h0M755 1497h0M743 1456h0M744 1488h0M743 1485h0M740 1498h0M741 1493h0M737 1494h0M740 1481h0M739 1494h0M741 1491h0M742 1485h0M748 1477h0M745 1475h0M745 1492h0M771 1496h0M757 1497h0M770 1481h0M743 1482h0M740 1478h0M740 1489h0M763 1481h0M745 1494h0M742 1489h0M747 1480h0M750 1472h0M743 1488h0M740 1491h0M755 1486h0M737 1477h0M739 1456h0M756 1490h0M737 1487h0M752 1497h0M737 1479h0M744 1479h0M785 1464h0M746 1469h0M749 1483h0M737 1473h0M749 1481h0M741 1495h0M741 1497h0M740 1487h0M770 1481h0M745 1493h0M794 1419h0M740 1476h0M753 1497h0M741 1489h0M744 1460h0M738 1471h0M749 1459h0M750 1491h0M738 1494h0M751 1485h0M739 1482h0M799 1498h0M740 1486h0M739 1475h0M744 1497h0M742 1467h0M748 1457h0M760 1457h0M738 1478h0M826 1364h0M756 1425h0M785 1437h0M784 1443h0M740 1446h0M834 1464h0M883 1482h0M823 1498h0" stroke="#000" stroke-width="3.4" stroke-linecap="square"/><line x1="367.5" y1="746.3" x2="441.7" y2="717.7" stroke="#3c3cec" stroke-width="1.05"/><rect x="364.5" y="678.6" width="80.0" height="73.5" fill="none" stroke="#9a9a9a" stroke-width="0.8"/><text x="368.1" y="686.2" font-size="3.3" fill="#222">R = 0.47, p < 2.2e−16</text><line x1="363.0" y1="748.8" x2="364.5" y2="748.8" stroke="#777" stroke-width="0.5"/><text x="362.6" y="750.8" text-anchor="end" font-size="5.6" fill="#1a1a1a" stroke="#1a1a1a" stroke-width="0.1">0.00</text><line x1="363.0" y1="733.6" x2="364.5" y2="733.6" stroke="#777" stroke-width="0.5"/><text x="362.6" y="735.6" text-anchor="end" font-size="5.6" fill="#1a1a1a" stroke="#1a1a1a" stroke-width="0.1">0.05</text><line x1="363.0" y1="718.4" x2="364.5" y2="718.4" stroke="#777" stroke-width="0.5"/><text x="362.6" y="720.4" text-anchor="end" font-size="5.6" fill="#1a1a1a" stroke="#1a1a1a" stroke-width="0.1">0.10</text><line x1="363.0" y1="703.2" x2="364.5" y2="703.2" stroke="#777" stroke-width="0.5"/><text x="362.6" y="705.2" text-anchor="end" font-size="5.6" fill="#1a1a1a" stroke="#1a1a1a" stroke-width="0.1">0.15</text><line x1="363.0" y1="688.0" x2="364.5" y2="688.0" stroke="#777" stroke-width="0.5"/><text x="362.6" y="690.0" text-anchor="end" font-size="5.6" fill="#1a1a1a" stroke="#1a1a1a" stroke-width="0.1">0.20</text><text transform="translate(348.1,714.4) rotate(-90)" text-anchor="middle" font-size="5.35" fill="#000" stroke="#000" stroke-width="0.18">T cell regulatory Tregs</text><line x1="367.5" y1="752.1" x2="367.5" y2="753.6" stroke="#777" stroke-width="0.5"/><text x="367.5" y="759.1" text-anchor="middle" font-size="6.7" fill="#222" stroke="#222" stroke-width="0.08">0.0</text><line x1="386.5" y1="752.1" x2="386.5" y2="753.6" stroke="#777" stroke-width="0.5"/><text x="386.5" y="759.1" text-anchor="middle" font-size="6.7" fill="#222" stroke="#222" stroke-width="0.08">2.5</text><line x1="405.6" y1="752.1" x2="405.6" y2="753.6" stroke="#777" stroke-width="0.5"/><text x="405.6" y="759.1" text-anchor="middle" font-size="6.7" fill="#222" stroke="#222" stroke-width="0.08">5.0</text><line x1="424.7" y1="752.1" x2="424.7" y2="753.6" stroke="#777" stroke-width="0.5"/><text x="424.7" y="759.1" text-anchor="middle" font-size="6.7" fill="#222" stroke="#222" stroke-width="0.08">7.5</text><line x1="443.7" y1="752.1" x2="443.7" y2="753.6" stroke="#777" stroke-width="0.5"/><text x="443.7" y="759.1" text-anchor="middle" font-size="6.7" fill="#222" stroke="#222" stroke-width="0.08">10.0</text><text x="406.3" y="767.7" text-anchor="middle" font-size="6.9" fill="#111" stroke="#111" stroke-width="0.1">CIITA</text><path d="M364.5 678.6L364.5 678.6L365.2 678.6L365.8 678.6L366.5 678.6L367.2 678.5L367.8 677.4L368.5 672.4L369.2 666.7L369.8 663.9L370.5 664.4L371.2 666.4L371.8 669.3L372.5 672.0L373.2 674.2L373.8 675.7L374.5 676.7L375.2 677.4L375.8 677.8L376.5 678.1L377.2 678.2L377.8 678.3L378.5 678.4L379.2 678.4L379.8 678.4L380.5 678.5L381.2 678.5L381.8 678.5L382.5 678.5L383.2 678.5L383.8 678.5L384.5 678.5L385.2 678.5L385.8 678.5L386.5 678.5L387.2 678.6L387.8 678.6L388.5 678.6L389.2 678.6L389.8 678.6L390.5 678.6L391.2 678.6L391.8 678.6L392.5 678.6L393.2 678.6L393.8 678.6L394.5 678.6L395.2 678.6L395.8 678.6L396.5 678.6L397.2 678.6L397.8 678.6L398.5 678.6L399.2 678.6L399.8 678.6L400.5 678.6L401.2 678.6L401.8 678.6L402.5 678.6L403.2 678.6L403.8 678.6L404.5 678.6L405.2 678.6L405.8 678.6L406.5 678.6L407.2 678.6L407.8 678.6L408.5 678.6L409.2 678.6L409.8 678.6L410.5 678.6L411.2 678.6L411.8 678.6L412.5 678.6L413.2 678.6L413.8 678.6L414.5 678.6L415.2 678.6L415.8 678.6L416.5 678.6L417.2 678.6L417.8 678.6L418.5 678.6L419.2 678.6L419.8 678.6L420.5 678.6L421.2 678.6L421.8 678.6L422.5 678.6L423.2 678.6L423.8 678.6L424.5 678.6L425.2 678.6L425.8 678.6L426.5 678.6L427.2 678.6L427.8 678.6L428.5 678.6L429.2 678.6L429.8 678.6L430.5 678.6L431.2 678.6L431.8 678.6L432.5 678.6L433.2 678.6L433.8 678.6L434.5 678.6L435.2 678.6L435.8 678.6L436.5 678.6L437.2 678.6L437.8 678.6L438.5 678.6L439.2 678.6L439.8 678.6L440.5 678.6L441.2 678.6L441.8 678.6L442.5 678.6L443.2 678.6L443.8 678.6L444.5 678.6L444.5 678.6Z" fill="#5656f4"/><path d="M444.5 752.1L444.5 752.1L444.9 751.1L445.2 750.9L445.7 750.6L446.5 750.4L447.6 750.1L449.1 749.9L450.8 749.6L452.7 749.4L454.6 749.2L456.3 748.9L457.6 748.7L458.4 748.4L458.7 748.2L458.6 747.9L458.4 747.7L458.1 747.4L457.9 747.2L458.1 747.0L458.4 746.7L459.0 746.5L459.6 746.2L460.2 746.0L460.7 745.7L461.0 745.5L461.0 745.2L460.7 745.0L460.3 744.8L459.6 744.5L459.0 744.3L458.3 744.0L457.6 743.8L457.0 743.5L456.3 743.3L455.7 743.0L455.0 742.8L454.4 742.5L453.7 742.3L453.1 742.1L452.5 741.8L452.0 741.6L451.5 741.3L451.1 741.1L450.6 740.8L450.2 740.6L449.7 740.3L449.3 740.1L448.9 739.9L448.5 739.6L448.2 739.4L448.0 739.1L447.5 738.6L447.2 738.1L446.8 737.6L446.5 737.2L446.3 736.7L446.0 736.2L445.8 735.7L445.6 735.0L445.7 733.2L445.4 732.0L445.1 731.3L445.3 729.3L445.0 727.1L444.8 726.4L444.6 725.1L444.8 722.9L444.7 720.2L444.7 717.6L444.5 716.3L444.5 713.6L444.6 710.9L444.6 708.2L444.5 705.6L444.5 702.9L444.5 700.2L444.5 697.5L444.5 694.8L444.5 692.1L444.5 689.4L444.5 686.7L444.5 684.0L444.6 681.3L444.5 678.6L444.5 678.6Z" fill="#e8b842"/><text x="7.4" y="795.6" font-size="10.5" fill="#111">C</text><text x="42.6" y="795.8" font-size="8.2" fill="#111">KM Survival Curve by CIITA Expression</text><rect x="42.6" y="801.3" width="200.0" height="153.10000000000002" fill="#fff"/><path d="M74.2 801.3V954.4M119.7 801.3V954.4M165.3 801.3V954.4M210.8 801.3V954.4M42.6 930.5H242.6M42.6 895.6H242.6M42.6 860.6H242.6M42.6 825.7H242.6" stroke="#f2f2f2" stroke-width="0.6"/><path d="M51.4 801.3V954.4M96.9 801.3V954.4M142.5 801.3V954.4M188.1 801.3V954.4M233.6 801.3V954.4M42.6 948.0H242.6M42.6 913.0H242.6M42.6 878.1H242.6M42.6 843.1H242.6M42.6 808.2H242.6" stroke="#e6e6e6" stroke-width="0.8"/><path d="M51.4 808.2H52.1V811.7H52.8V815.2H54.1V819.4H55.5V823.0H64.2V828.3H65.1V830.6H66.9V837.0H70.5V838.3H72.0V845.9H75.5V847.3H77.4V853.6H78.3V858.5H79.0V862.4H82.8V864.1H83.4V868.5H85.6V871.8H87.8V875.4H91.0V879.5H93.6V883.4H121.9V889.3H148.0V898.8H209.3" fill="none" stroke="#2cc6c4" stroke-width="0.9"/><path d="M51.4 808.2H52.8V810.3H54.1V812.4H55.5V814.5H57.2V816.6H58.7V818.7H60.5V820.8H62.5V822.2H63.7V824.3H65.1V826.4H66.9V828.3H68.3V830.6H69.6V833.4H71.2V836.2H74.2V836.9H76.9V837.6H79.9V839.0H82.4V841.1H84.2V843.1H86.9V844.8H90.1V845.9H92.2V846.6H96.9V847.3H101.8V848.3H103.8V849.4H106.2V851.0H109.7V852.9H113.2V854.5H115.2V856.4H116.7V858.8H125.3V860.6H128.1V865.0H130.2V867.2H132.4V869.4H134.3V870.8H135.9V872.5H162.8V878.8H163.9V884.4H166.0V897.4H192.9V907.5H198.8V917.1H218.0" fill="none" stroke="#f0625a" stroke-width="0.9"/><path d="M50.8 808.2h2.2M51.9 807.1v2.2M58.5 818.7h2.2M59.6 817.6v2.2M74.0 836.9h2.2M75.1 835.8v2.2M77.6 837.6h2.2M78.7 836.5v2.2M79.9 839.0h2.2M81.0 837.9v2.2M86.7 844.8h2.2M87.8 843.7v2.2M93.6 846.6h2.2M94.7 845.5v2.2M98.1 847.3h2.2M99.2 846.2v2.2M107.2 851.0h2.2M108.3 849.9v2.2M118.6 858.8h2.2M119.7 857.7v2.2M120.9 858.8h2.2M122.0 857.7v2.2M136.8 872.5h2.2M137.9 871.4v2.2M139.1 872.5h2.2M140.2 871.4v2.2M141.4 872.5h2.2M142.5 871.4v2.2M146.0 872.5h2.2M147.1 871.4v2.2M148.2 872.5h2.2M149.3 871.4v2.2M152.8 872.5h2.2M153.9 871.4v2.2M156.0 872.5h2.2M157.1 871.4v2.2M158.7 872.5h2.2M159.8 871.4v2.2M160.5 872.5h2.2M161.6 871.4v2.2M161.4 872.5h2.2M162.5 871.4v2.2M173.3 897.4h2.2M174.4 896.3v2.2M174.2 897.4h2.2M175.3 896.3v2.2M202.9 917.1h2.2M204.0 916.0v2.2M207.4 917.1h2.2M208.5 916.0v2.2M216.9 917.1h2.2M218.0 916.0v2.2" stroke="#f0625a" stroke-width="0.5"/><path d="M51.2 811.7h2.2M52.3 810.6v2.2M57.1 823.0h2.2M58.2 821.9v2.2M59.4 823.0h2.2M60.5 821.9v2.2M67.6 837.0h2.2M68.7 835.9v2.2M72.2 845.9h2.2M73.3 844.8v2.2M79.9 862.4h2.2M81.0 861.3v2.2M94.0 883.4h2.2M95.1 882.3v2.2M96.8 883.4h2.2M97.9 882.3v2.2M99.5 883.4h2.2M100.6 882.3v2.2M101.8 883.4h2.2M102.9 882.3v2.2M105.0 883.4h2.2M106.1 882.3v2.2M109.5 883.4h2.2M110.6 882.3v2.2M114.1 883.4h2.2M115.2 882.3v2.2M116.3 883.4h2.2M117.4 882.3v2.2M127.7 889.3h2.2M128.8 888.2v2.2M131.4 889.3h2.2M132.5 888.2v2.2M133.2 889.3h2.2M134.3 888.2v2.2M150.5 898.8h2.2M151.6 897.7v2.2M153.2 898.8h2.2M154.3 897.7v2.2M157.3 898.8h2.2M158.4 897.7v2.2M208.2 898.8h2.2M209.3 897.7v2.2" stroke="#2cc6c4" stroke-width="0.5"/><rect x="42.6" y="801.3" width="200.0" height="153.10000000000002" fill="none" stroke="#6a6a6a" stroke-width="1"/><rect x="148" y="816" width="68" height="29" fill="#fff"/><text x="151.6" y="826.6" font-size="8.3" fill="#111">CIITA Expression</text><path d="M151.5 833.4h5.4M154.2 832v2.8" stroke="#f0625a" stroke-width="0.8"/><path d="M151.5 841.4h5.4M154.2 840v2.8" stroke="#2cc6c4" stroke-width="0.8"/><text x="159.6" y="836" font-size="6.7" fill="#111">CIITA−high</text><text x="159.6" y="844" font-size="6.7" fill="#111">CIITA−low</text><text x="55.2" y="921.6" font-size="8.2" fill="#111">p = 0.022</text><line x1="41.0" y1="948.0" x2="42.6" y2="948.0" stroke="#333" stroke-width="0.6"/><text x="40.8" y="949.6" text-anchor="end" font-size="8" fill="#222">0.00</text><line x1="41.0" y1="913.0" x2="42.6" y2="913.0" stroke="#333" stroke-width="0.6"/><text x="40.8" y="914.6" text-anchor="end" font-size="8" fill="#222">0.25</text><line x1="41.0" y1="878.1" x2="42.6" y2="878.1" stroke="#333" stroke-width="0.6"/><text x="40.8" y="879.7" text-anchor="end" font-size="8" fill="#222">0.50</text><line x1="41.0" y1="843.1" x2="42.6" y2="843.1" stroke="#333" stroke-width="0.6"/><text x="40.8" y="844.8" text-anchor="end" font-size="8" fill="#222">0.75</text><line x1="41.0" y1="808.2" x2="42.6" y2="808.2" stroke="#333" stroke-width="0.6"/><text x="40.8" y="809.8" text-anchor="end" font-size="8" fill="#222">1.00</text><line x1="51.4" y1="954.4" x2="51.4" y2="956.0" stroke="#333" stroke-width="0.6"/><text x="51.4" y="963.6" text-anchor="middle" font-size="7.8" fill="#222">0</text><line x1="96.9" y1="954.4" x2="96.9" y2="956.0" stroke="#333" stroke-width="0.6"/><text x="96.9" y="963.6" text-anchor="middle" font-size="7.8" fill="#222">1000</text><line x1="142.5" y1="954.4" x2="142.5" y2="956.0" stroke="#333" stroke-width="0.6"/><text x="142.5" y="963.6" text-anchor="middle" font-size="7.8" fill="#222">2000</text><line x1="188.1" y1="954.4" x2="188.1" y2="956.0" stroke="#333" stroke-width="0.6"/><text x="188.1" y="963.6" text-anchor="middle" font-size="7.8" fill="#222">3000</text><line x1="233.6" y1="954.4" x2="233.6" y2="956.0" stroke="#333" stroke-width="0.6"/><text x="233.6" y="963.6" text-anchor="middle" font-size="7.8" fill="#222">4000</text><text x="142.4" y="972.4" text-anchor="middle" font-size="7.9" fill="#111">Time</text><text transform="translate(21.2,878) rotate(-90)" text-anchor="middle" font-size="7.9" fill="#111">Survival Probability</text><text x="254.6" y="795.8" font-size="10.5" fill="#111">D</text><text x="427" y="795.6" text-anchor="middle" font-size="8" fill="#111">CIITA</text><text x="345.3" y="802.8" text-anchor="middle" font-size="7.9" fill="#111">Adjacent normal</text><text x="508.8" y="802.8" text-anchor="middle" font-size="7.9" fill="#111">Tumor</text><defs><filter id="bl" x="0" y="0" width="1" height="1"><feGaussianBlur stdDeviation="1.4"/></filter><filter id="bl2" x="-0.1" y="-0.1" width="1.2" height="1.2"><feGaussianBlur stdDeviation="1.6"/></filter><clipPath id="c1"><rect x="266" y="807" width="158.5" height="158"/></clipPath><clipPath id="c2"><rect x="429.6" y="807" width="158.4" height="158"/></clipPath></defs><g clip-path="url(#c1)"><rect x="266" y="807" width="158.5" height="158" fill="#b6b0aa"/><g filter="url(#bl2)"><g fill="#d6cc98" fill-opacity="0.5"><circle cx="292" cy="916" r="3"/><circle cx="342" cy="841" r="4"/><circle cx="394" cy="888" r="3"/><circle cx="303" cy="808" r="3"/><circle cx="359" cy="818" r="4"/><circle cx="303" cy="844" r="2"/><circle cx="424" cy="924" r="4"/><circle cx="364" cy="812" r="3"/><circle cx="345" cy="825" r="4"/><circle cx="324" cy="831" r="4"/><circle cx="286" cy="954" r="3"/><circle cx="353" cy="861" r="3"/><circle cx="296" cy="813" r="4"/><circle cx="303" cy="930" r="2"/><circle cx="420" cy="948" r="4"/><circle cx="387" cy="899" r="3"/><circle cx="285" cy="882" r="4"/><circle cx="298" cy="953" r="4"/><circle cx="331" cy="865" r="3"/><circle cx="327" cy="964" r="3"/><circle cx="270" cy="822" r="3"/><circle cx="423" cy="885" r="3"/><circle cx="353" cy="925" r="2"/><circle cx="363" cy="895" r="3"/><circle cx="295" cy="834" r="3"/><circle cx="413" cy="862" r="3"/><circle cx="315" cy="823" r="2"/><circle cx="395" cy="930" r="3"/><circle cx="374" cy="914" r="4"/><circle cx="418" cy="871" r="4"/><circle cx="418" cy="900" r="4"/><circle cx="344" cy="866" r="2"/><circle cx="405" cy="833" r="2"/><circle cx="394" cy="929" r="3"/><circle cx="399" cy="815" r="3"/><circle cx="312" cy="873" r="2"/><circle cx="277" cy="860" r="4"/><circle cx="422" cy="925" r="3"/><circle cx="306" cy="959" r="3"/><circle cx="381" cy="811" r="2"/><circle cx="399" cy="933" r="4"/><circle cx="361" cy="874" r="3"/><circle cx="401" cy="856" r="3"/><circle cx="310" cy="928" r="2"/><circle cx="375" cy="958" r="2"/><circle cx="360" cy="909" r="4"/><circle cx="359" cy="848" r="3"/><circle cx="418" cy="950" r="2"/><circle cx="281" cy="822" r="2"/><circle cx="337" cy="829" r="4"/><circle cx="370" cy="827" r="3"/><circle cx="317" cy="885" r="2"/><circle cx="292" cy="836" r="3"/><circle cx="379" cy="894" r="2"/><circle cx="379" cy="945" r="4"/><circle cx="391" cy="808" r="3"/><circle cx="276" cy="928" r="2"/><circle cx="379" cy="847" r="3"/><circle cx="316" cy="814" r="3"/><circle cx="315" cy="949" r="3"/><circle cx="346" cy="894" r="4"/><circle cx="282" cy="902" r="3"/><circle cx="382" cy="960" r="3"/><circle cx="377" cy="890" r="3"/><circle cx="276" cy="936" r="4"/><circle cx="322" cy="857" r="4"/><circle cx="283" cy="819" r="2"/><circle cx="395" cy="927" r="3"/><circle cx="364" cy="810" r="3"/><circle cx="336" cy="889" r="3"/><circle cx="330" cy="843" r="2"/><circle cx="335" cy="846" r="3"/><circle cx="396" cy="921" r="3"/><circle cx="303" cy="868" r="3"/><circle cx="366" cy="959" r="2"/><circle cx="342" cy="885" r="3"/><circle cx="407" cy="930" r="3"/><circle cx="386" cy="913" r="4"/><circle cx="377" cy="915" r="2"/><circle cx="411" cy="868" r="3"/><circle cx="397" cy="959" r="4"/><circle cx="267" cy="856" r="3"/><circle cx="328" cy="830" r="3"/><circle cx="279" cy="855" r="4"/><circle cx="384" cy="880" r="2"/><circle cx="418" cy="918" r="2"/><circle cx="319" cy="908" r="3"/><circle cx="307" cy="957" r="3"/><circle cx="306" cy="941" r="2"/><circle cx="374" cy="839" r="3"/><circle cx="310" cy="867" r="4"/><circle cx="340" cy="876" r="3"/><circle cx="310" cy="835" r="3"/><circle cx="309" cy="837" r="4"/><circle cx="271" cy="935" r="4"/><circle cx="378" cy="810" r="3"/><circle cx="272" cy="903" r="3"/><circle cx="304" cy="808" r="3"/><circle cx="281" cy="856" r="3"/><circle cx="408" cy="865" r="2"/><circle cx="391" cy="937" r="3"/><circle cx="274" cy="837" r="3"/><circle cx="353" cy="843" r="4"/><circle cx="400" cy="953" r="4"/><circle cx="269" cy="899" r="2"/><circle cx="409" cy="925" r="4"/><circle cx="296" cy="816" r="4"/><circle cx="362" cy="905" r="3"/><circle cx="393" cy="860" r="3"/><circle cx="322" cy="854" r="3"/><circle cx="407" cy="818" r="2"/><circle cx="347" cy="914" r="2"/><circle cx="309" cy="816" r="2"/><circle cx="344" cy="915" r="3"/><circle cx="291" cy="823" r="4"/><circle cx="351" cy="872" r="3"/><circle cx="381" cy="890" r="2"/><circle cx="397" cy="841" r="2"/><circle cx="322" cy="891" r="3"/><circle cx="294" cy="919" r="3"/><circle cx="292" cy="941" r="4"/><circle cx="410" cy="914" r="2"/><circle cx="389" cy="950" r="3"/><circle cx="410" cy="960" r="3"/><circle cx="415" cy="955" r="4"/><circle cx="268" cy="863" r="3"/><circle cx="362" cy="926" r="3"/><circle cx="292" cy="954" r="3"/><circle cx="406" cy="840" r="4"/><circle cx="354" cy="930" r="3"/><circle cx="406" cy="864" r="2"/><circle cx="330" cy="835" r="3"/><circle cx="395" cy="864" r="2"/><circle cx="270" cy="874" r="3"/><circle cx="270" cy="912" r="2"/><circle cx="283" cy="954" r="3"/><circle cx="408" cy="888" r="2"/><circle cx="304" cy="874" r="3"/><circle cx="388" cy="926" r="3"/><circle cx="306" cy="875" r="3"/><circle cx="344" cy="849" r="3"/><circle cx="339" cy="813" r="4"/><circle cx="359" cy="934" r="3"/><circle cx="382" cy="964" r="3"/><circle cx="328" cy="808" r="3"/><circle cx="358" cy="898" r="4"/><circle cx="297" cy="843" r="3"/><circle cx="395" cy="883" r="2"/><circle cx="325" cy="938" r="3"/><circle cx="339" cy="869" r="3"/></g><g fill="#9898d4" fill-opacity="0.55"><circle cx="361" cy="916" r="4"/><circle cx="385" cy="866" r="3"/><circle cx="390" cy="932" r="4"/><circle cx="298" cy="941" r="4"/><circle cx="278" cy="856" r="3"/><circle cx="289" cy="938" r="3"/><circle cx="374" cy="854" r="2"/><circle cx="299" cy="886" r="3"/><circle cx="301" cy="915" r="3"/><circle cx="369" cy="865" r="2"/><circle cx="288" cy="816" r="3"/><circle cx="332" cy="826" r="4"/><circle cx="370" cy="810" r="3"/><circle cx="360" cy="877" r="3"/><circle cx="419" cy="866" r="3"/><circle cx="367" cy="865" r="3"/><circle cx="386" cy="907" r="3"/><circle cx="347" cy="842" r="4"/><circle cx="269" cy="909" r="3"/><circle cx="301" cy="900" r="3"/><circle cx="280" cy="884" r="2"/><circle cx="393" cy="859" r="3"/><circle cx="300" cy="815" r="2"/><circle cx="290" cy="906" r="4"/><circle cx="301" cy="825" r="3"/><circle cx="284" cy="871" r="4"/><circle cx="298" cy="918" r="3"/><circle cx="279" cy="845" r="3"/><circle cx="281" cy="839" r="3"/><circle cx="396" cy="889" r="3"/><circle cx="267" cy="855" r="3"/><circle cx="411" cy="863" r="4"/><circle cx="271" cy="886" r="4"/><circle cx="388" cy="899" r="2"/><circle cx="413" cy="820" r="4"/><circle cx="389" cy="921" r="3"/><circle cx="292" cy="861" r="3"/><circle cx="370" cy="869" r="4"/><circle cx="274" cy="852" r="2"/><circle cx="317" cy="932" r="4"/><circle cx="290" cy="856" r="2"/><circle cx="371" cy="877" r="2"/><circle cx="325" cy="944" r="3"/><circle cx="375" cy="906" r="3"/><circle cx="354" cy="864" r="2"/><circle cx="344" cy="855" r="3"/><circle cx="296" cy="951" r="3"/><circle cx="298" cy="812" r="2"/><circle cx="404" cy="860" r="3"/><circle cx="303" cy="910" r="3"/><circle cx="383" cy="890" r="3"/><circle cx="310" cy="901" r="4"/><circle cx="376" cy="883" r="3"/><circle cx="407" cy="941" r="2"/><circle cx="374" cy="929" r="3"/><circle cx="419" cy="946" r="2"/><circle cx="424" cy="859" r="3"/><circle cx="421" cy="833" r="3"/><circle cx="365" cy="850" r="3"/><circle cx="392" cy="904" r="3"/><circle cx="391" cy="945" r="4"/><circle cx="397" cy="962" r="3"/><circle cx="377" cy="888" r="4"/><circle cx="370" cy="875" r="3"/><circle cx="313" cy="827" r="3"/><circle cx="288" cy="808" r="2"/><circle cx="338" cy="928" r="2"/><circle cx="367" cy="825" r="3"/><circle cx="313" cy="877" r="3"/><circle cx="332" cy="869" r="3"/><circle cx="284" cy="862" r="3"/><circle cx="398" cy="962" r="3"/><circle cx="365" cy="856" r="3"/><circle cx="400" cy="828" r="3"/><circle cx="414" cy="863" r="3"/><circle cx="396" cy="851" r="4"/><circle cx="267" cy="861" r="2"/><circle cx="321" cy="841" r="2"/><circle cx="393" cy="834" r="3"/><circle cx="354" cy="941" r="4"/><circle cx="365" cy="834" r="4"/><circle cx="281" cy="954" r="3"/><circle cx="306" cy="841" r="3"/><circle cx="391" cy="942" r="3"/><circle cx="382" cy="846" r="3"/><circle cx="314" cy="875" r="4"/><circle cx="424" cy="820" r="4"/><circle cx="412" cy="880" r="3"/><circle cx="390" cy="837" r="3"/><circle cx="422" cy="946" r="4"/><circle cx="279" cy="920" r="3"/><circle cx="410" cy="833" r="3"/><circle cx="285" cy="934" r="3"/><circle cx="271" cy="856" r="2"/><circle cx="367" cy="907" r="2"/><circle cx="417" cy="960" r="3"/><circle cx="357" cy="864" r="3"/><circle cx="329" cy="877" r="3"/><circle cx="296" cy="854" r="4"/><circle cx="302" cy="818" r="4"/><circle cx="291" cy="872" r="3"/><circle cx="307" cy="863" r="3"/><circle cx="284" cy="891" r="2"/><circle cx="279" cy="839" r="2"/><circle cx="320" cy="853" r="4"/><circle cx="370" cy="882" r="4"/><circle cx="375" cy="857" r="3"/><circle cx="384" cy="891" r="4"/><circle cx="366" cy="954" r="3"/><circle cx="372" cy="961" r="3"/><circle cx="409" cy="822" r="3"/><circle cx="308" cy="926" r="3"/><circle cx="351" cy="846" r="3"/><circle cx="403" cy="909" r="3"/><circle cx="284" cy="853" r="4"/><circle cx="298" cy="892" r="3"/><circle cx="347" cy="895" r="4"/><circle cx="390" cy="844" r="3"/><circle cx="333" cy="915" r="3"/><circle cx="307" cy="916" r="3"/><circle cx="268" cy="853" r="3"/><circle cx="297" cy="913" r="4"/><circle cx="414" cy="906" r="4"/><circle cx="344" cy="900" r="4"/><circle cx="275" cy="864" r="3"/><circle cx="320" cy="875" r="2"/><circle cx="374" cy="958" r="2"/><circle cx="295" cy="860" r="4"/><circle cx="302" cy="929" r="2"/><circle cx="360" cy="921" r="3"/><circle cx="279" cy="958" r="4"/><circle cx="342" cy="943" r="3"/><circle cx="293" cy="870" r="4"/><circle cx="340" cy="814" r="2"/><circle cx="296" cy="900" r="3"/><circle cx="337" cy="871" r="4"/><circle cx="320" cy="913" r="2"/><circle cx="347" cy="835" r="2"/><circle cx="319" cy="825" r="3"/><circle cx="369" cy="894" r="4"/><circle cx="342" cy="820" r="3"/><circle cx="330" cy="926" r="4"/><circle cx="349" cy="847" r="3"/><circle cx="345" cy="857" r="2"/><circle cx="329" cy="911" r="4"/><circle cx="387" cy="947" r="4"/><circle cx="331" cy="909" r="2"/><circle cx="392" cy="919" r="3"/><circle cx="341" cy="850" r="4"/><circle cx="334" cy="930" r="4"/><circle cx="389" cy="867" r="3"/><circle cx="416" cy="950" r="2"/><circle cx="323" cy="932" r="4"/><circle cx="311" cy="878" r="4"/><circle cx="280" cy="850" r="3"/><circle cx="410" cy="957" r="3"/><circle cx="391" cy="961" r="3"/><circle cx="302" cy="848" r="4"/><circle cx="288" cy="893" r="4"/><circle cx="298" cy="906" r="3"/><circle cx="419" cy="888" r="3"/><circle cx="409" cy="926" r="2"/><circle cx="393" cy="870" r="4"/><circle cx="419" cy="885" r="3"/><circle cx="302" cy="851" r="2"/><circle cx="293" cy="922" r="2"/><circle cx="361" cy="901" r="3"/><circle cx="356" cy="954" r="3"/><circle cx="281" cy="899" r="3"/><circle cx="423" cy="953" r="3"/></g><g fill="#8a7450" fill-opacity="0.2"><circle cx="398" cy="846" r="12"/><circle cx="327" cy="862" r="11"/><circle cx="342" cy="910" r="8"/><circle cx="351" cy="827" r="16"/><circle cx="353" cy="900" r="11"/><circle cx="378" cy="919" r="15"/><circle cx="358" cy="850" r="13"/><circle cx="274" cy="925" r="10"/><circle cx="380" cy="828" r="13"/><circle cx="293" cy="813" r="10"/></g></g><g filter="url(#bl)" transform="translate(266,807) scale(0.5)"><path d="M10 1l3 6M106-2l7 1M164 0l-7 3M223-4l-4 5M246 2l3 0M24 10l3 6M207 13l-4 0M252 6l2 6M314 8l2 2M25 19l-2 5M32 16l3 1M185 15l0 6M261 14l4 5M322 20l-4 3M121 24l-2 5M137 26l0 3M185 29l5 2M16 35l2 3M61 35l-8 1M73 31l-2 3M146 34l-6 3M208 37l6 2M214 36l7 2M225 36l-7 0M77 47l3 1M126 48l-1 3M278 42l-4 1M267 58l-5 1M320 53l-7 4M24 64l2 6M323 59l-1 7M236 71l-4 4M251 75l-3 1M13 74l-3 6M115 79l-5 1M155 78l4 0M72 91l4 0M191 89l4 3M235 89l6 4M13 101l-3 5M19 97l-6 2M37 98l2 3M326 92l-3 7M140 105l-7 2M213 103l4 2M-8 114l7 3M235 116l-2 3M281 120l4 3M10 118l-1 8M277 127l-6 0M6 136l-4 0M65 136l-4 2M214 135l1 7M290 136l-7 1M43 139l-3 1M164 146l-3 2M170 145l2 6M182 144l1 7M217 145l-2 2M14 153l3 0M75 150l5 2M173 165l5 1M272 158l3 3M295 160l8 0M190 168l-1 3M220 167l-4 6M294 172l5 1M122 178l7 2M168 180l-6 1M216 177l-1 3M233 182l6 1M237 177l4 1M90 186l7 1M311 190l5 0M15 193l-1 7M60 200l5 1M95 200l4 3M148 193l2 3M218 196l-4 5M322 196l4 2M51 208l5 4M89 200l-2 7M104 206l-3 0M148 207l2 7M271 210l4 1M310 202l-2 5M93 212l-6 1M298 218l-6 1M143 226l-2 4M326 219l-1 3M39 236l1 6M148 236l5 3M229 236l7 1M267 227l-3 5M208 240l0 4M224 242l1 8M309 245l-1 4M19 251l3 6M204 252l-3 5M285 248l-4 0M287 251l-1 5M36 258l8 2M83 258l3 3M192 263l-3 2M203 264l-4 2M93 265l-2 6M207 264l2 3M228 267l3 0M237 272l0 4M305 268l3 2M3 274l6 5M22 273l-3 5M195 280l-7 3M257 277l2 7M13 288l2 2M57 289l5 1M78 286l-4 3M212 287l-2 5M280 289l-4 1M322 285l-4 2M30 299l4 2M152 299l-6 0M197 294l5 0M250 300l-8 0M319 298l-6 3M170 307l7 0M187 300l3 2M246 306l2 5M263 306l-8 0M0 311l-2 5M14 314l-1 3M155 308l-2 5M202 316l-1 6M208 308l2 7M292 314l-3 1M214 325l6 0M271 324l-2 5M284 325l-3 2M328 326l-6 5" stroke="#7476d2" stroke-width="2.0" stroke-linecap="round" stroke-opacity="0.5" fill="none"/><path d="M92-2l-7 3M132 1l4 2M211-3l-1 5M286 0l1 4M34 7l-4 1M125 7l3 0M156 12l-4 1M244 4l-2 7M90 19l-5 6M197 19l7 1M283 21l4 4M56 28l3 6M69 28l-3 7M69 26l-2 5M102 28l1 4M222 27l-6 1M296 26l7 2M4 34l-5 5M27 33l3 6M38 37l-2 5M168 31l2 5M322 36l-6 1M325 30l5 6M4 44l4 4M73 41l0 4M26 57l-7 1M175 55l-3 5M181 55l5 2M197 56l-1 3M292 48l-3 5M83 59l5 1M191 60l-4 1M226 60l-2 7M136 75l3 2M143 71l-3 4M281 69l-4 5M98 83l-3 5M107 76l1 4M249 84l4 1M266 78l0 6M274 77l6 1M323 78l5 6M52 90l-6 4M125 90l5 2M279 89l-4 5M54 98l-5 1M101 97l1 6M134 96l-5 3M164 102l-2 3M185 94l-5 4M219 93l2 4M226 91l2 8M237 99l0 4M278 97l4 1M188 110l5 1M268 109l-5 4M293 109l2 6M308 104l5 1M81 114l-1 5M105 114l-2 2M242 120l-7 1M302 111l-2 3M47 123l3 5M190 128l3 4M196 123l3 4M322 124l6 2M197 134l6 2M238 129l3 3M265 135l-3 4M28 143l3 6M36 137l-1 6M127 146l5 1M185 140l6 3M259 140l-2 3M309 144l-1 5M55 148l0 6M73 148l3 2M119 153l7 1M141 150l-6 4M217 151l-5 1M273 156l-5 3M34 158l-2 2M121 160l-4 2M211 162l-2 2M311 161l-4 2M96 167l3 7M140 178l-6 4M294 180l-3 2M4 184l2 5M144 189l-1 5M217 190l-2 2M298 193l-6 1M25 197l2 5M115 198l-5 2M175 199l-4 6M240 195l-4 1M241 197l-4 1M299 195l-4 3M176 210l4 2M261 209l-5 2M288 205l2 5M164 214l-3 1M49 228l-8 1M79 222l-5 0M179 223l-5 2M48 234l4 4M143 230l-1 4M253 230l5 4M298 234l-4 2M27 239l7 2M42 240l3 5M51 239l7 1M69 238l-1 3M166 240l3 2M200 243l2 7M212 245l2 3M262 243l-2 5M314 244l3 4M325 243l1 6M72 246l2 3M77 250l3 6M155 249l0 3M216 249l-6 3M250 254l8 0M300 258l-3 4M82 266l-6 2M93 266l6 1M157 270l-5 3M160 270l7 2M292 273l5 1M321 270l-1 4M33 275l4 4M296 283l3 2M197 291l4 2M255 283l4 4M70 291l3 5M146 289l2 7M184 295l5 4M268 289l-2 7M329 294l-5 3M59 299l3 6M100 301l-2 3M64 311l4 7M176 318l3 3M193 327l-4 2" stroke="#7476d2" stroke-width="3.0" stroke-linecap="round" stroke-opacity="0.5" fill="none"/><path d="M26 2l4 2M77-4l-4 2M96 0l-1 6M151 1l-3 5M174 0l7 2M312-6l-3 7M5 10l1 4M87 5l-4 1M112 11l-3 4M309 7l2 3M85 16l1 3M169 20l-5 3M254 13l2 2M8 29l-4 2M125 21l3 5M60 34l6 2M105 29l2 6M286 33l2 7M233 42l-3 2M5 52l3 1M17 47l-1 5M156 55l5 3M16 64l7 2M124 57l3 3M175 61l5 6M2 71l-3 5M163 72l5 2M186 74l-4 3M73 81l4 3M183 81l5 0M198 82l7 1M232 76l-7 2M105 91l7 3M160 93l4 0M224 92l-6 2M245 85l0 3M274 91l0 5M51 113l4 5M248 118l5 2M301 117l4 3M121 121l0 3M161 129l-5 4M170 125l-4 5M228 121l-2 4M302 120l2 2M311 122l2 6M22 134l1 6M43 137l1 3M111 130l-3 2M228 133l0 3M308 133l-7 3M78 146l-3 2M92 143l3 2M208 141l0 4M220 146l7 2M252 143l8 0M322 139l1 4M59 149l2 3M151 153l6 0M235 152l4 2M292 148l-4 3M4 159l-6 4M183 164l6 2M255 160l1 3M316 164l3 0M50 168l1 3M70 165l3 5M160 169l3 6M301 172l4 2M52 187l3 4M136 187l6 5M225 185l-4 1M87 194l2 3M143 196l2 3M183 190l0 6M316 195l3 2M26 200l-5 6M47 201l5 4M65 206l-5 3M131 202l3 7M178 202l-7 2M201 208l-3 4M114 217l-5 3M122 210l3 4M149 211l-5 1M158 211l-6 2M174 220l-6 0M193 215l3 4M288 218l-1 4M3 220l-5 1M51 222l0 8M114 226l-4 2M126 228l-4 2M159 227l4 2M172 222l-3 4M265 226l0 7M89 234l-3 3M65 241l-2 2M45 253l-5 1M307 255l-5 1M20 261l-5 5M139 260l2 5M274 260l-6 3M140 273l-5 2M191 271l1 5M235 275l0 7M282 277l0 5M272 284l-1 3M316 291l5 3M4 295l-1 6M49 300l-4 1M115 294l3 5M128 292l4 3M297 296l2 5M7 306l-2 4M75 299l1 6M159 309l-2 3M208 308l-3 4M263 312l1 4M161 317l-5 5" stroke="#8284d8" stroke-width="2.0" stroke-linecap="round" stroke-opacity="0.5" fill="none"/><path d="M49 2l6 3M213 2l6 0M65 7l-6 2M103 4l-3 5M276 5l-4 4M63 13l5 4M244 19l5 5M312 20l3 1M37 24l4 1M92 28l-4 4M265 26l-2 3M42 36l5 3M161 32l5 4M235 37l4 1M238 32l7 3M280 36l1 6M97 46l3 6M155 40l5 4M255 46l-2 5M53 57l3 2M75 57l2 2M138 50l-2 5M225 57l4 2M255 47l-5 6M68 58l-6 3M78 62l-5 4M170 62l-1 6M243 63l2 6M295 67l-4 1M154 67l-5 4M199 67l3 5M216 73l-3 3M8 83l-7 2M20 82l-6 4M140 80l7 3M211 83l-5 0M298 79l4 0M1 86l5 4M263 88l4 1M316 88l0 3M47 93l-1 4M39 105l-2 5M47 105l2 6M99 107l-4 3M122 111l3 2M95 116l-1 5M259 115l6 5M16 126l-4 3M34 119l-1 6M110 128l1 3M37 132l3 4M144 132l2 6M150 139l-3 0M118 147l-5 1M235 141l3 4M314 141l5 5M141 147l6 4M158 151l1 7M261 155l6 4M18 162l1 8M65 162l2 3M278 160l6 4M18 166l-3 4M39 164l-2 7M116 173l6 2M126 166l3 5M173 174l-5 3M199 170l-6 3M259 172l3 2M317 165l0 5M83 180l3 4M92 179l5 1M147 179l0 3M172 180l-3 1M226 177l3 2M128 191l-3 4M176 188l-6 4M190 181l1 8M2 197l-2 3M41 200l3 4M302 198l2 6M71 201l1 4M24 210l-4 6M187 218l-5 1M210 211l1 8M272 213l3 2M118 223l-7 2M190 222l0 4M14 237l4 1M32 236l-1 4M68 231l3 3M157 236l1 4M246 233l2 2M274 232l2 4M108 240l1 3M142 243l6 4M182 241l-5 3M278 243l4 7M97 248l-4 1M131 248l-2 3M4 261l-4 2M131 255l-4 6M18 270l-7 2M30 270l-4 6M60 267l7 1M74 263l1 6M148 267l-3 2M195 266l7 3M249 270l1 5M73 273l-4 4M126 274l4 5M142 274l1 3M166 281l5 2M207 275l-3 1M291 278l4 3M4 285l-2 3M10 291l6 1M96 282l3 4M109 289l-6 3M230 286l-6 3M232 283l0 4M5 299l5 2M184 294l1 4M283 298l-1 4M3 308l1 5M18 303l7 1M228 306l5 6M313 304l-1 6M66 312l5 3M164 315l2 6M180 316l5 1M279 312l-4 0M60 319l-1 6M118 319l6 5M226 322l4 1M286 323l-3 4M300 319l6 2" stroke="#8284d8" stroke-width="3.0" stroke-linecap="round" stroke-opacity="0.5" fill="none"/><path d="M1-1l2 3M127-2l-1 2M166 0l-1 1M278 0l0 1M63 9l-4 0M296 7l-1 1M200 15l2 0M78 24l-2 1M152 25l2 3M85 37l0 2M197 42l-1 1M230 35l-3 1M281 38l2 2M6 44l-3 1M12 45l2 1M19 51l3 1M104 42l-2 3M154 45l2 2M266 49l1 2M308 43l1 1M318 48l2 0M105 59l-1 2M234 61l1 1M242 52l3 1M273 64l3 1M46 78l-1 1M192 80l-2 1M201 77l1 1M231 78l-2 3M7 84l2 1M95 82l2 1M216 89l-2 1M238 81l2 2M312 83l3 3M37 96l-2 2M55 92l1 2M176 91l0 1M264 94l-2 1M81 103l0 1M88 105l4 0M124 109l0 1M236 103l-3 1M275 118l-1 3M305 113l3 1M120 124l2 0M219 126l1 1M254 126l-1 2M295 129l-3 0M329 127l2 1M55 138l2 1M141 129l4 1M165 136l-2 1M214 138l-2 0M256 134l-1 0M5 145l1 0M22 139l0 1M71 147l-2 0M205 139l0 2M240 139l1 1M259 145l-1 0M271 140l2 1M294 146l-2 2M40 149l0 3M109 150l-2 2M117 156l0 2M172 152l-1 1M182 149l2 0M193 150l0 1M248 149l-2 3M306 154l1 4M5 159l-1 0M5 166l3 2M16 163l-3 1M115 163l-2 1M233 160l0 3M329 163l2 0M80 173l-2 1M115 172l2 0M186 175l2 2M197 172l-1 0M36 180l-3 1M74 182l0 4M178 183l-1 1M229 186l0 1M257 182l-2 0M266 185l0 3M293 184l1 1M67 195l-3 1M118 194l-1 0M161 192l-1 3M255 189l2 1M46 199l0 3M56 205l4 1M92 200l-3 2M121 198l1 3M174 199l1 3M220 206l2 0M240 197l1 1M67 209l1 0M78 212l0 3M97 214l-2 3M127 207l3 0M145 209l-3 1M181 215l3 1M314 214l0 3M330 213l1 4M112 223l1 0M94 225l2 3M275 227l-1 4M324 226l1 2M33 240l-1 3M158 239l-4 1M251 236l3 0M87 246l-1 2M232 248l3 2M271 248l2 1M16 253l2 3M51 256l-1 1M146 261l1 3M173 258l-1 2M243 256l1 1M97 281l0 1M101 281l1 1M322 276l-1 2M89 290l0 2M147 285l1 2M163 286l0 4M184 283l-3 2M12 297l1 1M178 298l1 1M299 296l2 1M319 300l3 2M7 306l0 2M26 308l0 4M285 308l2 2M169 312l-1 0M172 315l-3 1M203 313l1 2M211 314l-1 0M258 317l-1 0" stroke="#4e50c8" stroke-width="4.0" stroke-linecap="round" stroke-opacity="0.85" fill="none"/><path d="M217 3l0 1M3 10l2 2M177 11l1 3M178 7l1 1M314 12l1 2M73 19l-1 0M35 24l-1 1M225 45l1 2M-4 61l0 2M35 60l0 2M68 55l1 4M131 61l2 2M266 52l2 2M315 54l0 1M52 63l-1 2M53 70l1 2M101 68l1 0M136 67l0 1M157 67l-1 0M323 65l-1 0M117 72l-1 3M291 75l0 3M113 90l-2 0M154 87l-2 2M296 88l1 1M5 97l-3 3M296 92l0 1M95 102l-1 2M155 102l1 1M171 101l-1 1M178 107l3 2M-1 109l0 3M54 111l-2 2M240 131l0 3M304 132l-1 2M224 140l0 1M-1 151l0 1M126 152l-1 2M154 157l-2 1M299 160l1 2M46 176l1 1M166 169l-3 1M221 171l0 1M278 171l2 1M310 174l2 3M128 190l2 3M235 190l1 2M297 195l3 0M8 206l-1 2M198 212l1 0M85 220l1 1M238 219l1 0M32 232l1 3M70 226l3 1M207 226l-3 3M5 238l-1 1M-5 245l3 1M116 249l2 1M254 253l3 1M322 249l1 1M8 263l1 1M29 270l0 4M46 272l-1 0M57 265l-1 2M90 263l-1 2M232 268l-1 0M4 282l1 0M122 277l0 1M137 279l0 4M204 274l0 1M237 274l2 4M3 298l3 2M197 300l-2 0M262 293l-2 3M-2 303l0 3M321 310l-1 3M219 319l-1 1M300 319l-3 1" stroke="#4e50c8" stroke-width="3.0" stroke-linecap="round" stroke-opacity="0.85" fill="none"/><path d="M38-1l1 3M141-5l1 1M224 8l-3 1M328 8l-3 2M14 14l2 1M330 15l-2 0M123 27l0 2M173 24l1 1M223 31l-1 0M74 40l1 1M164 43l2 0M197 41l2 2M143 47l1 0M154 56l2 1M279 55l1 1M113 62l-3 1M123 67l-1 2M170 63l1 1M37 77l0 3M98 78l3 1M219 75l3 3M278 72l2 2M38 90l-2 2M58 91l-1 0M126 87l-3 1M149 84l-3 2M138 90l-1 2M-6 102l3 0M14 108l-2 1M106 116l-1 1M212 111l4 1M248 112l1 2M269 121l1 2M157 130l-2 0M292 138l3 2M324 146l2 3M18 154l2 1M26 155l1 1M144 162l-3 1M150 159l1 2M220 161l-1 1M60 176l2 0M101 169l0 2M154 176l1 2M202 173l2 2M209 171l-3 0M289 173l-1 0M329 169l2 1M32 186l-3 1M308 182l1 2M247 191l2 2M147 203l0 2M296 200l2 1M4 215l1 0M46 211l1 1M117 208l0 3M263 208l1 3M275 214l1 0M31 224l3 2M37 217l0 2M139 221l-2 0M260 215l0 2M291 222l-1 1M55 238l-3 0M278 250l0 1M316 248l-1 3M26 258l-1 1M165 256l-2 1M252 256l1 0M1 272l-1 1M251 269l0 3M21 276l1 0M82 277l1 2M23 291l1 3M42 290l1 3M245 286l2 3M287 292l3 1M96 294l1 1M253 294l2 2M88 307l0 1M94 308l3 2M135 318l1 4M248 318l2 1M308 314l-3 1" stroke="#5c5ecc" stroke-width="3.0" stroke-linecap="round" stroke-opacity="0.85" fill="none"/><path d="M70-2l1 1M89-6l0 3M116 5l1 1M141 10l1 2M161 12l-2 0M33 21l3 3M96 23l-3 1M166 20l-1 2M238 21l-2 3M310 16l1 3M19 31l0 1M114 31l2 1M210 30l-3 2M244 23l0 3M297 33l-4 1M46 34l2 2M204 50l-3 0M234 47l0 1M240 43l0 2M159 60l1 1M251 57l-2 2M69 68l-1 3M90 71l-1 0M146 70l-3 0M226 68l-1 0M289 61l-1 3M5 78l0 1M80 74l-1 3M134 79l-3 2M147 78l0 2M179 75l1 3M162 82l-1 2M222 85l-1 3M200 91l-1 1M316 93l-1 0M105 101l1 2M242 106l1 2M301 104l-1 2M327 101l-2 1M196 112l-3 1M330 110l3 1M11 121l-2 2M130 121l3 1M158 121l2 1M286 125l-1 1M38 132l1 3M108 132l-1 1M196 131l-2 2M200 135l2 1M123 145l0 1M220 158l-2 0M288 154l-1 1M314 157l-2 1M68 162l-2 3M89 164l1 0M130 157l-1 3M187 157l1 3M247 167l0 1M7 176l-2 3M175 170l3 2M300 168l-2 0M313 181l2 3M282 196l1 0M327 189l2 1M10 198l2 2M188 201l-2 3M91 214l0 3M165 209l0 2M-5 223l0 1M19 218l-1 1M94 222l-3 0M202 216l-2 0M219 219l-1 1M307 225l0 2M39 229l1 1M79 233l-3 2M105 231l-3 3M268 230l0 4M6 241l1 0M50 238l-1 3M227 245l-2 0M265 238l0 1M13 250l-1 0M51 252l3 1M106 245l4 0M123 252l-1 0M153 245l1 0M248 250l0 2M290 248l0 3M139 262l-1 3M183 259l-1 1M203 256l0 4M258 260l2 3M299 259l0 2M125 271l1 0M151 271l2 0M287 272l1 2M292 265l2 1M314 272l2 3M329 268l-2 3M29 282l1 1M72 274l-2 1M281 279l1 0M327 281l0 1M51 285l3 1M97 290l-1 2M173 282l3 2M219 285l-2 1M256 287l2 1M176 297l-1 2M324 301l0 4M102 311l3 0M235 302l2 2M329 302l-3 3M23 313l0 1M42 318l-2 3M114 317l-2 0" stroke="#5c5ecc" stroke-width="4.0" stroke-linecap="round" stroke-opacity="0.85" fill="none"/><path d="M60-2l2 1M140 1l-1 0M187 0l-2 0M209 4l-3 0M328 4l1 1M104 7l3 3M122 6l-1 2M135 7l1 1M205 8l-2 1M233 20l1 1M271 20l-1 0M24 29l0 1M82 27l1 0M270 28l2 0M283 24l-2 1M261 34l-2 1M326 41l1 2M74 53l0 2M86 55l-3 3M-6 67l3 0M6 66l0 1M91 65l3 1M204 67l3 1M91 76l0 1M324 74l1 3M88 91l1 1M199 85l1 0M261 85l0 2M308 98l-3 1M52 107l0 1M24 110l2 2M319 127l-2 0M14 131l0 1M86 137l-1 2M126 129l-2 1M39 140l0 2M77 149l-3 2M283 150l-2 3M258 158l2 1M83 176l-1 0M98 172l2 1M121 176l1 1M138 171l0 3M210 194l2 0M134 201l1 2M323 203l2 0M245 218l3 2M275 221l-1 1M318 222l2 1M76 242l4 0M262 234l1 3M77 250l-1 1M141 248l1 2M110 256l-2 3M213 263l-1 2M187 268l4 0M236 267l2 0M114 281l2 2M220 281l-1 2M246 278l0 1M256 282l-2 1M327 282l0 3M73 298l1 1M150 293l0 1M308 295l3 1M57 310l3 1M167 303l-1 0M211 308l-1 1M219 302l2 1" stroke="#6466d0" stroke-width="3.0" stroke-linecap="round" stroke-opacity="0.85" fill="none"/><path d="M102-1l1 1M248-3l2 0M308-3l0 1M26 7l-3 2M248 10l4 0M152 15l-2 1M182 18l-2 2M248 19l-2 2M60 30l3 2M94 29l-1 2M109 24l-2 1M329 29l0 2M150 37l0 1M185 35l0 3M236 41l-1 0M290 39l-1 0M65 44l2 2M257 52l3 0M326 44l-1 1M93 59l3 0M115 54l-2 1M124 61l0 1M168 60l3 1M196 52l1 3M215 52l0 1M214 63l0 1M234 69l2 1M258 63l-3 1M212 74l2 2M302 78l0 2M134 89l-3 0M183 89l-2 1M104 91l-1 2M250 98l0 1M322 96l-1 3M114 103l-1 3M146 106l-3 2M276 108l0 3M133 116l0 1M164 120l2 0M171 114l4 1M231 117l2 3M55 121l-1 2M94 121l0 2M195 124l3 1M208 124l2 1M307 120l0 2M19 131l-1 4M173 137l0 3M225 136l3 2M252 131l0 2M331 136l-1 1M102 141l-2 0M153 140l-1 3M159 140l2 0M171 140l2 2M231 142l-4 1M274 143l-1 1M313 145l2 1M136 153l-1 3M163 151l-3 0M257 158l-4 0M31 164l0 1M58 164l0 2M175 166l1 3M204 163l3 0M1 169l3 2M63 176l-1 2M236 174l-1 2M22 183l1 0M84 178l-1 0M91 178l1 3M155 179l0 1M198 178l1 0M247 180l1 1M14 188l-1 1M77 187l1 1M140 189l-2 1M157 188l-1 4M205 196l0 1M97 198l-2 2M252 202l1 1M312 202l0 3M35 207l2 2M110 209l-2 1M246 211l-1 3M289 213l1 0M300 215l-2 1M304 215l3 2M50 222l0 4M145 217l-1 1M153 220l-1 1M166 218l1 1M56 230l-1 1M149 232l2 3M216 228l0 2M262 234l-1 2M133 236l1 3M175 240l1 1M178 243l2 2M194 241l2 0M298 244l0 2M326 238l-3 1M68 249l-3 0M91 250l0 1M133 252l-1 0M162 248l1 0M172 246l-2 2M177 251l2 3M192 246l-3 3M223 253l-2 2M71 261l-2 1M218 259l2 1M312 258l-1 1M327 257l-1 1M12 268l-1 1M92 271l0 2M173 270l0 1M7 276l-1 0M144 282l1 2M209 282l0 1M305 275l-1 1M109 284l-2 0M212 289l-1 0M282 289l-3 2M46 299l4 1M131 297l1 0M145 294l1 0M207 300l1 0M265 294l0 1M19 307l-2 2M46 308l1 1M3 320l1 0M57 320l0 1M84 313l0 1M94 316l-1 0M141 317l2 3" stroke="#6466d0" stroke-width="4.0" stroke-linecap="round" stroke-opacity="0.85" fill="none"/><path d="M-1 1l0 1M10-2l1 1M15 1l2 0M23 2l2 0M29 2l0 1M38-1l-1 1M44-4l-2 2M50-3l-1 1M57-1l1 1M65-3l0 1M75 0l-1 2M86-3l-1 2M89 0l0 2M96-1l3 0M114-2l2 2M119-2l0 0M131 2l1 0M134-2l2 1M145 3l0 2M153 2l-2 2M159 1l-2 2M168-1l0 1M176-1l2 0M185-3l1 1M191-2l-1 1M195 2l-1 2M201-3l2 1M210-4l0 2M220-4l1 1M231-2l0 1M234 0l2 2M255 2l-2 1M254 0l1 0M263-2l1 0M276-3l1 1M280-2l-1 0M286-2l0 1M296 2l1 0M308-1l-2 0M5 11l-2 0M10 8l-1 0M17 9l0 1M22 7l-1 0M32 9l1 1M38 9l2 2M46 8l1 1M55 9l0 1M62 9l2 1M77 5l0 2M82 9l2 1M87 4l2 1M109 11l-1 0M117 7l1 2M125 10l0 0M132 5l2 1M141 10l2 1M150 8l2 2M159 5l-1 1M166 4l0 1M206 6l0 1M211 5l0 1M223 8l-1 2M244 5l1 1M258 8l1 2M277 9l1 1M288 4l-1 0M293 6l0 2M302 8l0 1M313 5l2 1M318 7l0 1M-2 14l0 1M10 17l-1 0M18 17l-1 2M44 15l0 2M50 15l-1 0M60 15l1 1M65 17l2 1M75 12l-2 0M83 18l-2 2M91 18l-1 0M95 13l1 2M104 13l1 0M115 11l-1 0M130 17l-2 1M134 17l2 1M147 15l-1 1M176 12l2 0M183 14l0 1M193 12l1 1M211 12l-1 1M220 13l2 2M227 16l-2 1M234 11l-2 2M248 18l1 0M260 17l2 0M269 16l0 1M274 12l-1 0M284 15l-2 1M289 16l1 1M299 14l2 1M300 16l3 0M308 14l1 1M320 19l1 0M-2 23l-2 0M5 26l-1 0M15 21l2 1M26 25l1 0M28 24l-1 1M40 21l-2 1M48 19l2 1M54 24l1 0M64 22l0 2M65 20l1 0M77 24l-1 0M93 25l-1 2M101 19l0 2M103 23l1 0M135 24l-2 0M143 26l1 1M152 26l1 0M163 26l-1 0M172 20l-1 3M185 25l-1 1M193 26l1 1M198 26l1 1M206 26l-1 0M211 22l0 1M217 22l0 2M232 21l-2 0M233 20l-2 0M246 25l-1 2M249 20l0 1M261 22l-1 0M265 19l0 2M272 26l-1 1M278 20l2 1M291 24l0 1M297 24l0 2M302 21l-1 1M314 25l-1 1M316 26l1 0M1 29l-1 0M8 31l2 1M14 32l0 3M27 26l0 1M37 26l1 2M50 32l-1 2M59 29l1 0M71 27l0 1M73 26l0 1M83 31l0 1M93 32l2 2M104 27l1 1M110 28l0 2M119 30l1 1M126 33l1 1M133 31l1 0M154 29l1 0M155 28l2 0M169 29l1 2M185 27l0 2M190 28l-1 1M193 33l2 0M209 32l-2 1M230 31l1 1M238 32l-1 1M241 32l1 1M253 26l1 1M262 28l-1 2M267 34l0 1M275 29l1 1M282 33l-1 1M287 28l-2 1M299 31l-2 1M313 30l-1 1M319 30l-2 1M-3 34l-1 2M11 38l-1 1M16 39l0 2M23 39l1 1M33 37l1 0M38 35l-1 1M48 41l0 1M53 36l1 1M57 40l2 0M68 39l1 0M74 40l1 0M94 38l0 2M99 40l1 2M110 39l-1 2M111 40l1 2M125 40l-1 1M132 38l2 1M141 41l-1 1M163 35l-2 1M164 38l2 0M175 41l-1 0M179 41l-1 0M209 36l-1 0M224 38l1 0M275 40l1 2M286 39l-1 1M294 34l2 1M303 35l1 1M308 35l2 1M320 38l-2 0M-4 47l2 1M10 49l-1 1M17 46l-1 2M25 48l0 0M49 41l-1 1M54 49l-1 1M59 46l1 1M67 48l0 1M72 43l2 2M83 42l1 3M95 44l-2 1M99 46l1 0M109 48l0 3M115 48l0 2M130 48l1 0M138 41l-1 2M146 45l2 1M170 43l0 1M173 47l2 0M182 43l3 0M190 43l1 1M196 44l-1 1M209 45l-1 0M214 42l-1 0M231 47l-2 0M233 45l-2 1M254 41l-1 2M272 44l-1 0M288 46l2 1M299 45l1 2M308 44l-1 2M313 42l1 2M316 42l0 1M2 52l-1 0M11 52l0 2M15 51l2 1M23 50l1 2M32 56l-2 0M37 49l0 1M47 55l2 2M51 55l-1 0M60 56l1 2M70 50l0 2M74 55l2 2M86 51l-2 1M91 52l1 1M104 53l1 0M117 56l0 1M120 54l-2 1M131 52l-1 0M134 55l2 1M150 49l-2 1M161 53l-2 1M172 53l0 3M182 55l-1 0M187 51l0 2M201 51l2 0M210 54l0 2M237 50l-1 1M243 53l-2 1M255 51l-2 2M261 56l1 2M262 50l1 2M281 49l-1 2M294 55l-2 0M300 55l0 2M309 55l2 2M321 53l-1 0M-2 59l-1 2M6 64l1 0M18 58l1 1M20 57l2 1M27 63l0 1M39 58l1 2M43 63l1 0M53 60l0 2M69 57l-1 2M74 63l1 1M84 61l2 1M98 59l-1 2M103 61l2 1M118 61l-1 2M119 60l0 1M130 60l1 0M139 63l0 2M143 57l3 1M153 64l-1 1M158 59l-1 2M165 63l2 2M175 64l-3 1M192 63l-2 1M200 62l0 2M203 57l1 1M213 63l-1 0M222 57l0 1M228 62l-1 3M239 58l-2 1M241 60l1 0M251 61l2 1M259 62l-1 0M263 57l1 1M271 57l0 2M282 59l-1 2M292 63l-1 1M294 61l-1 0M311 64l-2 0M317 58l-2 1M0 70l0 1M5 65l-1 2M17 65l1 0M25 68l1 2M33 71l2 1M34 67l0 2M42 67l0 2M52 69l0 1M60 68l-2 0M70 64l1 1M73 68l2 0M85 66l-1 0M93 69l1 0M97 67l1 1M106 65l-2 1M114 64l0 2M128 69l-1 1M134 69l1 0M144 68l-1 1M152 66l1 2M160 71l-1 0M164 66l2 0M172 68l-1 2M184 63l0 3M188 68l-1 0M201 65l1 1M203 67l-2 2M214 67l1 0M230 68l0 2M234 67l2 0M242 65l0 1M248 68l1 2M260 65l0 2M277 69l2 0M287 66l0 2M297 65l-1 1M307 66l-2 1M314 67l1 2M321 69l0 1M1 73l-1 3M11 72l-2 0M21 76l1 0M34 75l-2 1M38 76l0 1M46 79l1 3M61 75l-1 0M66 77l-1 2M76 75l-1 1M82 74l-1 3M89 72l-1 1M97 73l1 0M109 73l-2 1M132 79l0 1M139 75l-2 1M150 78l0 2M160 79l3 0M163 78l2 2M175 72l-1 2M182 79l1 1M193 74l1 0M196 77l0 2M204 78l2 0M210 79l1 1M217 79l0 1M228 76l0 2M235 78l2 2M255 76l-1 0M268 73l1 0M271 77l-1 1M279 77l-1 1M289 77l0 1M301 73l2 1M314 76l-3 1M1 84l0 1M6 81l1 1M15 82l2 0M23 82l-1 1M32 80l1 2M41 82l0 1M42 81l1 1M55 80l-2 0M57 80l1 2M68 83l1 0M72 85l1 2M83 85l0 2M89 83l2 2M97 83l1 0M107 85l-1 2M114 85l2 2M125 84l-2 1M130 80l0 1M139 83l1 2M147 81l0 2M150 86l-1 1M163 79l-2 1M168 85l-1 1M174 82l0 2M186 85l-2 0M193 81l-1 1M208 81l-2 2M209 84l1 1M223 82l1 0M227 86l0 1M233 85l1 1M244 85l0 1M267 86l0 1M271 86l1 0M282 80l-1 2M301 84l1 1M310 84l0 2M322 82l-1 2M-4 91l1 1M6 94l0 1M15 89l0 1M23 87l-2 1M30 94l-1 2M48 87l1 2M53 94l0 1M74 89l1 1M91 93l2 2M96 90l0 1M105 90l-1 1M114 87l0 2M120 92l2 0M130 92l-1 1M136 94l-1 1M145 90l-1 2M153 90l0 2M157 88l-2 1M170 88l0 2M172 88l-1 0M182 94l-2 2M191 92l1 2M197 91l2 1M208 93l1 1M224 94l-2 0M230 93l1 1M233 91l2 0M239 90l1 0M253 95l-2 0M260 90l0 1M266 89l-1 2M285 90l-2 1M293 88l-1 0M301 87l2 1M314 88l0 1M320 93l1 2M-2 98l1 2M7 96l-2 1M19 99l-1 1M19 98l1 2M28 96l2 1M41 94l-1 2M48 97l2 1M58 97l1 2M65 96l2 1M76 96l1 1M82 100l0 0M90 102l-1 0M96 102l-1 1M108 102l0 1M121 97l0 1M128 99l-2 1M157 98l-1 2M172 98l1 3M181 97l-2 1M193 101l0 1M195 101l-2 1M221 101l-2 1M250 101l1 1M271 98l0 2M287 100l0 2M306 101l-1 2M315 98l-2 2M317 97l0 1M-2 102l-2 0M18 106l0 2M25 109l2 0M32 108l1 1M42 104l-2 2M46 108l1 1M53 104l-2 2M60 109l-1 0M73 102l-1 2M72 108l1 0M87 103l-1 0M90 108l1 2M96 109l0 1M105 105l1 0M114 108l0 3M122 106l1 2M133 106l-2 0M136 104l1 1M144 106l-2 1M159 107l1 1M177 103l-1 1M183 108l2 0M191 104l-1 0M208 107l-1 0M239 106l0 2M243 106l1 1M259 104l-2 2M267 109l-2 0M277 110l2 1M292 104l2 1M298 104l0 1M299 103l2 0M313 108l2 0M-2 114l1 0M7 116l-2 1M12 114l1 1M22 113l-1 1M31 110l-2 0M38 111l-1 2M42 111l2 1M67 110l1 2M76 112l1 0M84 116l1 2M95 117l-2 1M97 114l2 1M111 115l-2 1M115 114l0 1M118 112l1 2M127 114l0 1M138 110l-3 0M146 116l2 2M152 115l1 0M160 113l0 2M163 109l1 2M186 115l0 1M188 110l2 2M208 111l0 2M273 111l-2 1M286 113l-3 0M293 115l-2 1M308 112l-1 1M310 115l-1 2M3 124l-2 1M10 121l-1 1M22 119l-1 2M32 121l2 1M37 123l0 2M43 123l1 1M51 124l1 2M60 122l1 1M67 121l-2 0M73 117l0 2M87 123l0 3M94 120l0 1M96 123l0 2M108 121l0 2M111 120l2 1M124 117l-1 2M128 122l-3 1M134 124l-1 1M148 121l1 0M165 122l-1 2M173 120l0 1M190 119l2 1M195 123l-1 1M216 121l1 0M221 122l0 1M253 123l-2 0M263 120l3 1M275 120l1 0M291 119l1 0M294 122l-1 0M311 118l0 2M322 123l-1 0M1 126l2 1M12 131l-2 1M14 127l0 3M21 128l2 1M28 127l1 1M41 131l-1 0M42 131l1 0M54 130l0 1M63 127l-2 0M67 132l1 1M80 128l-1 1M81 132l1 0M92 125l-1 2M109 129l-1 0M120 131l1 1M132 127l-1 2M135 132l-1 1M146 128l3 0M153 129l0 2M172 132l1 1M182 131l-1 2M196 126l0 1M212 130l0 1M230 132l-1 0M239 131l-2 0M244 132l-2 2M249 132l-2 1M262 130l2 0M279 130l1 1M286 128l2 0M301 126l-2 0M307 128l-2 0M311 129l1 1M319 128l-1 1M2 137l1 1M9 138l1 0M15 133l-2 1M27 133l-2 0M29 133l-1 1M35 139l0 1M56 135l0 2M60 134l-2 2M65 133l0 2M81 133l-1 1M87 140l2 0M100 134l-1 0M103 134l1 1M112 137l0 1M124 139l3 0M130 139l-1 0M142 134l0 2M148 134l0 2M158 140l-2 0M171 138l0 1M177 135l-1 0M184 135l-1 0M197 132l0 2M207 140l1 2M212 133l-2 0M231 134l2 2M247 134l-2 2M247 134l0 2M256 137l0 1M268 136l1 1M288 134l-1 1M297 133l1 1M305 138l1 1M310 139l-2 1M318 136l-1 2M-1 140l0 2M7 146l1 0M12 144l1 1M26 141l-1 1M33 146l1 0M35 145l-1 1M44 147l2 0M56 146l0 3M65 144l-1 1M69 145l-1 1M77 139l0 2M80 147l0 1M95 146l-2 0M101 143l0 2M104 141l0 2M113 146l1 0M129 145l1 2M134 143l1 2M141 144l0 1M154 144l1 0M168 146l2 1M172 146l2 2M179 147l0 2M187 148l-1 0M214 146l1 1M231 145l-1 0M236 141l0 1M245 142l-1 2M250 141l1 1M257 141l0 2M275 147l0 2M279 145l0 2M289 145l-1 1M294 144l0 3M304 141l-1 1M311 142l0 1M320 146l0 1M6 151l-1 1M15 151l-2 1M27 151l-2 2M41 151l-1 1M46 151l-1 1M55 154l2 1M58 153l0 2M69 148l-1 1M75 149l-1 0M85 156l1 0M102 154l0 2M103 152l1 1M117 151l-1 1M124 152l-1 2M130 154l1 0M133 148l0 2M159 147l0 2M165 148l2 1M178 154l-2 1M196 150l-1 1M206 151l-1 1M209 148l0 1M217 155l1 1M226 149l0 2M237 154l-1 1M246 150l1 1M251 153l1 1M271 149l1 1M278 155l1 1M285 152l1 2M307 150l-2 1M314 151l-1 1M322 152l2 0M-2 162l1 2M14 160l2 0M24 160l0 1M31 158l-1 1M39 156l0 3M53 157l0 1M64 161l-1 0M67 161l2 2M78 157l1 1M89 157l-1 2M101 161l1 1M106 158l2 1M111 158l-1 2M118 161l2 2M131 157l0 1M139 162l-2 2M146 162l2 1M155 160l1 1M162 158l-1 0M173 160l0 1M182 156l1 1M188 161l-2 1M210 156l-3 0M209 156l2 0M219 161l0 3M227 161l1 0M235 158l2 0M245 158l1 1M251 157l-1 1M256 159l0 1M269 155l0 1M272 159l1 0M283 156l-1 1M292 161l0 1M297 156l-1 3M304 160l1 1M324 161l-2 1M-2 165l-2 1M6 168l0 1M17 164l-1 2M21 165l1 1M30 167l-1 0M39 164l-1 1M46 171l1 0M55 165l-2 0M61 168l1 0M65 165l3 0M72 167l0 1M81 165l1 0M92 165l1 1M99 163l1 3M112 168l1 0M119 167l1 0M131 170l2 1M134 165l1 1M147 164l1 2M156 166l-2 1M157 165l0 1M172 164l-2 1M180 170l-2 1M194 166l-1 1M199 164l0 3M205 169l1 1M212 164l1 1M232 165l-1 2M233 166l0 0M240 169l0 2M253 169l0 2M261 170l-2 0M269 165l-1 2M272 170l-1 0M280 169l0 2M287 167l-1 1M293 168l0 1M304 164l0 0M309 167l1 0M316 164l0 3M-2 173l-1 2M10 176l0 2M14 171l-1 1M23 175l1 1M31 173l-1 1M41 175l-1 1M49 177l0 1M62 172l2 0M64 174l1 2M76 176l2 1M84 178l0 1M89 178l-1 0M109 171l0 2M114 175l-1 2M122 171l-1 2M131 178l0 1M153 173l0 2M159 171l1 0M169 172l1 0M176 176l-2 0M182 173l-1 2M186 176l1 0M195 174l-1 1M203 176l-1 2M221 178l2 0M227 177l0 2M242 175l0 1M252 173l-2 2M260 178l0 2M270 177l-1 2M270 171l1 1M279 172l-2 2M287 174l1 2M297 178l2 1M308 173l0 1M314 173l2 1M319 176l0 2M0 184l0 2M9 184l1 0M12 182l0 1M35 178l2 1M49 178l1 2M63 185l1 1M72 185l-1 1M75 185l-2 2M107 181l1 2M121 185l-2 0M131 181l0 1M137 183l0 1M144 178l2 2M151 182l-2 1M158 181l0 1M177 181l1 2M186 181l-1 0M188 180l1 1M199 186l0 1M204 183l-1 1M209 179l1 1M219 185l1 1M232 180l0 1M241 185l-2 1M250 184l2 0M261 184l0 2M284 179l0 1M286 179l1 0M306 184l2 0M315 181l1 1M320 185l-1 0M4 190l-1 0M11 187l1 1M11 190l0 2M23 191l2 1M26 191l3 0M34 187l3 0M47 190l-1 0M55 185l1 2M60 192l1 2M69 190l2 0M73 189l-1 0M84 192l-1 1M87 192l2 2M97 186l0 3M107 187l1 1M114 185l-1 2M124 190l-2 1M125 189l2 2M135 191l1 1M144 189l0 1M155 187l-1 2M168 193l2 1M184 192l1 0M199 193l0 1M202 189l0 2M213 187l0 1M222 191l-1 1M227 186l0 2M240 187l-1 1M244 191l0 1M252 186l0 2M259 186l-1 1M264 190l1 0M274 188l0 2M278 189l0 1M308 192l0 1M0 199l-1 2M7 195l-2 0M18 195l0 2M22 197l-2 1M34 199l-1 1M39 200l0 2M48 199l0 3M53 196l0 1M70 198l-1 1M74 198l-1 2M90 201l-1 0M102 199l0 1M106 194l-1 0M116 195l-3 1M129 200l-2 1M133 197l1 1M149 196l0 3M167 195l1 0M175 198l-3 0M179 195l1 2M193 197l-2 1M202 199l-1 0M203 193l0 1M214 197l-1 1M217 199l0 2M238 196l-2 1M244 199l-2 1M257 196l-1 1M267 199l-2 0M276 201l-2 1M278 199l1 2M290 201l1 1M295 199l1 0M303 195l-1 1M316 195l1 1M1 206l-2 0M8 203l-1 1M12 204l-2 0M19 203l-1 2M33 201l-1 2M37 209l1 0M56 201l-1 0M63 208l1 1M70 204l1 0M75 207l2 0M84 207l0 1M90 209l-2 0M117 204l0 3M125 207l0 0M130 202l0 2M135 204l-2 1M144 206l0 2M152 203l-1 1M163 204l1 0M166 204l-1 0M175 206l0 1M183 203l1 2M189 201l0 1M199 208l-1 1M207 206l0 2M213 205l1 2M218 204l0 1M229 203l0 2M237 207l0 2M242 204l1 1M253 202l1 3M272 205l1 1M285 203l-1 0M289 204l-2 2M296 204l-1 0M306 205l2 1M310 204l-2 0M316 205l1 0M2 213l1 1M9 211l3 0M17 213l1 2M22 214l2 1M30 214l1 2M39 214l2 1M43 214l-2 0M51 216l0 2M62 209l-2 0M69 212l1 1M76 214l2 1M84 210l0 1M91 216l1 0M103 213l-2 1M105 214l-2 1M114 212l1 0M122 212l1 1M127 215l0 1M145 211l0 2M152 212l1 1M174 213l1 1M192 211l2 0M198 211l-2 0M212 213l2 0M218 212l-3 1M230 214l-1 0M233 210l-1 0M255 214l-1 0M256 209l1 0M269 216l0 1M276 211l-1 0M290 209l0 1M295 213l1 2M311 216l0 1M317 213l-1 1M-3 224l-1 0M11 218l0 2M15 222l2 1M20 220l1 2M27 219l0 1M40 219l2 1M48 217l-1 1M55 223l0 1M62 223l1 1M66 220l0 1M79 217l-1 2M80 223l0 2M92 218l1 0M96 217l1 2M106 218l0 2M115 218l0 2M122 217l-2 0M126 223l2 2M136 217l-1 2M145 221l-1 1M149 218l1 1M158 217l0 1M164 219l1 0M171 219l0 0M182 222l2 1M194 222l-2 1M210 222l-2 1M210 220l-1 1M218 221l1 2M224 218l3 0M237 223l-1 1M246 218l-1 1M254 217l-1 0M258 222l1 2M268 216l1 1M284 218l0 1M297 216l0 2M303 221l1 1M313 222l0 1M-2 228l0 1M5 224l-1 1M20 225l-2 0M31 224l1 0M36 230l2 1M48 225l1 1M55 225l2 0M59 228l0 0M65 223l0 3M79 225l-1 2M85 224l-1 0M94 228l-2 1M99 224l-1 1M115 228l0 3M131 229l-2 1M149 225l-2 1M154 226l1 2M163 231l1 2M170 224l1 1M173 228l1 1M186 225l-3 0M191 226l0 1M206 227l2 0M211 228l-3 0M221 225l-1 0M227 230l-2 1M235 230l-1 1M240 229l2 1M249 229l-2 0M259 230l0 1M263 227l-1 1M274 225l0 2M285 225l0 1M287 227l-1 1M293 227l1 1M11 235l-1 0M18 233l-1 0M22 236l-1 1M35 239l-1 0M42 237l2 1M57 236l0 0M57 234l0 3M66 235l1 0M75 235l-1 0M85 231l1 2M115 232l-1 0M125 232l-3 0M136 238l-2 1M148 237l-2 1M160 237l-2 0M168 237l1 2M176 237l0 1M180 232l-1 1M200 232l0 2M205 234l2 1M212 236l-1 0M222 238l-1 0M226 235l0 1M239 237l1 0M248 235l2 2M256 234l1 0M268 231l0 1M270 236l0 2M291 233l1 1M298 235l-2 0M306 236l1 1M322 233l1 0M-3 240l0 1M11 242l-1 2M15 241l-1 2M19 241l0 1M34 240l0 1M41 241l0 1M42 243l1 1M55 241l1 0M59 240l-1 1M65 244l2 1M78 243l0 2M81 240l-3 1M90 241l1 0M99 244l1 1M110 246l0 1M125 241l-3 0M130 242l0 2M135 241l-1 2M145 247l3 1M154 245l2 1M162 245l1 1M169 244l-2 2M175 247l-2 0M181 244l1 1M189 245l1 1M194 246l1 0M208 240l1 0M213 243l1 1M225 242l-3 0M229 245l2 2M236 242l0 3M244 245l2 0M255 241l0 1M271 241l-2 0M278 244l-1 1M290 243l0 2M293 242l1 0M308 245l-1 0M310 239l-2 2M1 253l0 1M7 248l1 1M21 249l1 1M30 247l1 0M41 249l0 1M49 248l-1 2M55 248l1 2M62 249l-1 1M88 249l2 2M118 253l-1 0M123 248l1 1M135 248l1 0M143 249l1 0M152 248l-1 0M160 249l-1 0M168 247l1 3M178 252l-2 0M185 249l2 1M192 250l1 1M194 251l1 0M204 252l-1 2M215 253l-1 1M220 251l1 1M228 250l1 2M232 253l2 2M258 247l0 2M264 248l-1 0M276 252l-1 2M279 249l-2 1M291 252l-1 1M294 248l-1 1M301 247l2 1M312 247l-2 0M317 247l1 1M8 260l-1 2M19 259l-1 3M23 260l-2 1M46 256l0 2M52 260l-1 1M57 256l0 1M69 259l-2 1M76 259l2 1M85 256l0 1M96 261l-3 0M99 260l1 1M110 258l1 0M111 262l2 0M124 256l0 1M129 260l0 2M139 259l-1 1M141 256l0 1M149 255l1 1M156 258l2 1M170 257l1 1M178 258l2 2M182 260l-2 0M197 259l1 0M205 259l-1 0M216 261l-1 1M224 261l-3 1M237 258l2 0M244 259l2 1M254 257l1 1M256 255l0 1M263 255l-1 0M295 258l0 1M316 258l-1 1M-3 263l0 1M7 267l0 1M13 268l0 2M24 262l2 0M36 265l0 1M43 265l2 0M52 265l-1 1M58 265l-1 1M71 267l-1 2M75 264l1 1M83 265l1 1M91 269l1 1M100 265l-2 2M103 268l1 1M115 270l-1 0M132 262l1 2M139 269l-1 0M146 266l-1 2M153 263l0 1M161 265l1 2M166 266l0 1M170 263l2 1M180 268l-1 1M191 263l0 1M197 262l1 1M205 267l0 1M212 265l-3 0M218 266l1 1M238 267l0 2M241 269l-1 1M256 266l-2 1M256 262l1 2M270 265l0 1M280 262l0 1M297 263l-2 1M307 269l1 0M313 268l-1 0M318 263l0 2M-3 270l2 2M5 273l1 0M14 276l1 1M30 276l1 0M41 274l-1 1M43 276l1 2M49 273l2 1M61 274l0 1M69 270l2 2M78 270l-1 0M82 271l0 2M94 274l1 0M98 271l0 1M104 269l-1 1M112 276l0 1M119 271l1 2M129 276l-3 0M137 273l-1 2M143 274l-2 0M160 271l-1 1M168 272l-2 1M182 274l-2 1M198 275l2 2M212 272l0 1M217 274l0 2M230 275l1 0M238 270l0 1M242 271l-1 2M251 271l1 2M262 274l-1 2M263 277l0 1M275 274l1 1M280 271l1 0M286 272l1 0M299 270l1 2M302 271l0 1M310 276l-3 1M315 275l2 0M5 279l-2 1M10 278l0 2M19 279l0 2M23 280l2 0M29 280l-1 2M39 278l-1 1M45 284l1 2M50 283l0 1M58 283l1 0M64 283l1 1M76 283l0 1M92 280l0 2M105 277l-2 1M117 277l-1 2M124 279l1 1M132 279l-1 1M137 280l1 1M145 278l2 1M156 284l-1 1M169 280l1 2M182 278l0 1M194 280l-1 1M196 282l-1 2M208 282l0 2M217 281l-1 2M219 278l1 1M228 281l-2 0M239 282l1 2M259 278l2 2M268 278l-1 3M282 277l1 1M287 282l-2 0M294 276l-1 2M308 278l-1 1M313 283l3 1M322 281l-1 1M-2 287l-1 1M17 288l1 1M22 291l0 1M32 289l-2 1M40 290l-2 0M43 288l1 2M58 290l2 0M71 287l1 0M79 285l-2 2M83 292l-2 1M91 288l2 0M98 286l-1 1M105 288l1 1M110 290l1 2M119 288l1 3M126 289l0 1M138 288l2 1M141 290l0 2M154 285l1 1M159 284l2 1M167 288l-2 0M176 291l-1 2M186 285l0 2M218 287l2 2M233 288l1 1M244 285l0 1M254 289l-1 1M265 286l-1 1M283 285l-2 0M297 291l0 1M310 291l1 1M322 292l-1 0M10 294l-2 0M11 296l2 0M27 295l-1 0M31 292l2 1M42 295l0 1M48 293l0 1M53 299l0 1M59 299l0 2M72 298l-2 1M74 295l0 2M82 296l-2 1M89 297l0 1M98 295l-1 1M110 298l-1 1M113 294l1 1M120 298l-1 1M130 298l1 0M136 293l0 1M146 295l1 0M150 294l1 2M170 293l2 0M173 293l0 2M178 293l2 1M189 295l1 1M199 295l1 1M207 295l1 1M219 299l-1 0M229 293l0 1M246 293l-1 0M253 292l-1 2M262 299l0 1M266 299l1 0M277 298l-2 2M281 297l3 1M293 297l1 2M307 296l-1 2M312 294l1 2M320 299l-1 0M2 304l-1 1M10 303l0 3M16 307l0 1M27 300l-1 1M33 301l1 0M35 301l1 2M56 303l1 2M60 306l0 2M74 307l-2 1M91 303l1 2M115 304l-2 2M121 305l-1 0M131 303l1 0M138 303l0 2M146 305l2 0M154 302l2 1M157 302l2 1M170 302l0 1M176 307l0 1M192 305l1 1M194 304l-1 2M207 303l0 1M223 300l-1 2M224 303l1 1M234 305l1 0M241 307l-3 0M253 304l-1 0M268 303l2 2M274 302l-2 1M281 300l-2 1M290 302l-1 0M296 306l1 0M318 301l1 2M8 314l1 1M15 312l0 2M25 310l-2 1M34 314l1 0M40 308l0 1M45 312l-1 1M59 310l-1 1M70 312l1 1M77 311l-1 0M82 308l0 1M93 312l0 1M96 312l-1 1M108 311l0 3M116 308l2 1M121 312l0 1M127 315l1 1M137 312l0 2M142 308l0 1M166 308l-1 1M176 314l1 2M182 309l2 1M192 312l0 1M203 314l0 1M221 308l2 1M224 313l1 1M232 311l1 0M243 311l0 1M250 312l-2 1M266 308l2 1M271 314l0 1M282 312l-1 2M288 308l-2 1M296 310l0 1M312 308l2 0M317 311l1 3M0 315l2 1M7 319l0 2M14 315l0 1M34 320l0 2M38 319l-2 0M47 320l-1 0M50 316l3 1M69 317l0 3M74 318l-1 0M86 319l1 2M93 317l1 0M99 321l-2 0M104 317l-1 2M114 317l-1 2M142 317l-3 0M150 320l1 0M161 322l-1 1M165 316l2 2M178 319l-1 0M179 318l1 1M189 320l0 1M205 320l2 1M219 317l-3 1M241 316l0 1M250 316l-1 2M266 318l-1 0M280 320l1 2M300 321l-1 2M302 320l1 1M311 318l2 2M319 315l1 2" stroke="#d0c494" stroke-width="8.6" stroke-linecap="round" stroke-opacity="0.35" fill="none"/><path d="M38-1l-1 1M134-2l2 1M220-4l1 1M50 15l-1 0M65 20l1 0M101 19l0 2M172 20l-1 3M253 26l1 1M196 44l-1 1M118 61l-1 2M119 60l0 1M203 57l1 1M144 68l-1 1M242 65l0 1M307 66l-2 1M21 76l1 0M66 77l-1 2M208 81l-2 2M244 85l0 1M322 82l-1 2M114 87l0 2M320 93l1 2M239 106l0 2M22 119l-1 2M173 120l0 1M132 127l-1 2M146 128l3 0M141 144l0 1M275 147l0 2M85 156l1 0M102 154l0 2M14 160l2 0M240 169l0 2M72 185l-1 1M158 181l0 1M106 194l-1 0M63 208l1 1M218 204l0 1M289 204l-2 2M316 205l1 0M174 213l1 1M269 216l0 1M62 223l1 1M106 218l0 2M136 217l-1 2M148 237l-2 1M256 234l1 0M59 240l-1 1M135 241l-1 2M236 242l0 3M62 249l-1 1M98 271l0 1M198 275l2 2M286 272l1 0M23 280l2 0M156 284l-1 1M283 285l-2 0M312 294l1 2M176 314l1 2M93 317l1 0" stroke="#6e5844" stroke-width="4.0" stroke-linecap="round" stroke-opacity="0.86" fill="none"/><path d="M145 3l0 2M168-1l0 1M210-4l0 2M231-2l0 1M234 0l2 2M255 2l-2 1M296 2l1 0M308-1l-2 0M55 9l0 1M82 9l2 1M293 6l0 2M60 15l1 1M75 12l-2 0M91 18l-1 0M193 12l1 1M289 16l1 1M77 24l-1 0M211 22l0 1M297 24l0 2M313 30l-1 1M11 38l-1 1M33 37l1 0M110 39l-1 2M190 43l1 1M209 45l-1 0M272 44l-1 0M288 46l2 1M70 50l0 2M104 53l1 0M117 56l0 1M182 55l-1 0M-2 59l-1 2M18 58l1 1M43 63l1 0M84 61l2 1M165 63l2 2M317 58l-2 1M52 69l0 1M152 66l1 2M214 67l1 0M61 75l-1 0M82 74l-1 3M160 79l3 0M182 79l1 1M271 77l-1 1M55 80l-2 0M107 85l-1 2M227 86l0 1M282 80l-1 2M310 84l0 2M15 89l0 1M23 87l-2 1M260 90l0 1M7 96l-2 1M58 97l1 2M76 96l1 1M96 102l-1 1M18 106l0 2M42 104l-2 2M136 104l1 1M159 107l1 1M292 104l2 1M7 116l-2 1M188 110l2 2M293 115l-2 1M310 115l-1 2M32 121l2 1M51 124l1 2M190 119l2 1M263 120l3 1M311 118l0 2M12 131l-2 1M41 131l-1 0M63 127l-2 0M120 131l1 1M262 130l2 0M319 128l-1 1M15 133l-2 1M81 133l-1 1M124 139l3 0M247 134l-2 2M288 134l-1 1M154 144l1 0M214 146l1 1M165 148l2 1M178 154l-2 1M209 148l0 1M246 150l1 1M271 149l1 1M67 161l2 2M101 161l1 1M251 157l-1 1M256 159l0 1M283 156l-1 1M297 156l-1 3M72 167l0 1M233 166l0 0M253 169l0 2M23 175l1 1M287 174l1 2M107 181l1 2M199 186l0 1M209 179l1 1M320 185l-1 0M114 185l-1 2M240 187l-1 1M274 188l0 2M53 196l0 1M202 199l-1 0M203 193l0 1M316 195l1 1M56 201l-1 0M70 204l1 0M144 206l0 2M166 204l-1 0M189 201l0 1M199 208l-1 1M213 205l1 2M296 204l-1 0M17 213l1 2M51 216l0 2M212 213l2 0M276 211l-1 0M15 222l2 1M40 219l2 1M79 217l-1 2M96 217l1 2M194 222l-2 1M237 223l-1 1M79 225l-1 2M99 224l-1 1M186 225l-3 0M35 239l-1 0M75 235l-1 0M85 231l1 2M125 232l-3 0M160 237l-2 0M180 232l-1 1M226 235l0 1M306 236l1 1M11 242l-1 2M41 241l0 1M162 245l1 1M290 243l0 2M49 248l-1 2M276 252l-1 2M19 259l-1 3M69 259l-2 1M96 261l-3 0M111 262l2 0M141 256l0 1M224 261l-3 1M7 267l0 1M43 265l2 0M75 264l1 1M180 268l-1 1M212 265l-3 0M241 269l-1 1M104 269l-1 1M280 271l1 0M5 279l-2 1M10 278l0 2M29 280l-1 2M76 283l0 1M132 279l-1 1M169 280l1 2M194 280l-1 1M268 278l-1 3M282 277l1 1M40 290l-2 0M71 287l1 0M91 288l2 0M141 290l0 2M186 285l0 2M42 295l0 1M48 293l0 1M120 298l-1 1M229 293l0 1M266 299l1 0M154 302l2 1M224 303l1 1M268 303l2 2M137 312l0 2M221 308l2 1M312 308l2 0M34 320l0 2M69 317l0 3M74 318l-1 0M99 321l-2 0M178 319l-1 0M250 316l-1 2M280 320l1 2M302 320l1 1" stroke="#6e5844" stroke-width="5.0" stroke-linecap="round" stroke-opacity="0.86" fill="none"/><path d="M44 15l0 2M314 25l-1 1M125 40l-1 1M281 49l-1 2M139 63l0 2M297 65l-1 1M41 175l-1 1M34 187l3 0M233 210l-1 0M22 236l-1 1M295 258l0 1M205 267l0 1M182 274l-2 1M313 283l3 1M98 295l-1 1M82 308l0 1" stroke="#6e5844" stroke-width="6.0" stroke-linecap="round" stroke-opacity="0.86" fill="none"/><path d="M10-2l1 1M23 2l2 0M114-2l2 2M263-2l1 0M166 4l0 1M65 17l2 1M83 18l-2 2M115 11l-1 0M308 14l1 1M64 22l0 2M249 20l0 1M265 19l0 2M302 21l-1 1M83 31l0 1M119 30l1 1M185 27l0 2M299 31l-2 1M164 38l2 0M175 41l-1 0M308 35l2 1M25 48l0 0M59 46l1 1M95 44l-2 1M233 45l-2 1M37 49l0 1M47 55l2 2M237 50l-1 1M158 59l-1 2M70 64l1 1M188 68l-1 0M277 69l2 0M109 73l-2 1M150 78l0 2M255 76l-1 0M268 73l1 0M279 77l-1 1M289 77l0 1M301 73l2 1M83 85l0 2M174 82l0 2M186 85l-2 0M-4 91l1 1M48 87l1 2M182 94l-2 2M239 90l1 0M293 88l-1 0M271 98l0 2M-2 102l-2 0M60 109l-1 0M133 106l-2 0M191 104l-1 0M84 116l1 2M111 115l-2 1M186 115l0 1M208 111l0 2M67 121l-2 0M94 120l0 1M134 124l-1 1M291 119l1 0M28 127l1 1M42 131l1 0M54 130l0 1M92 125l-1 2M148 134l0 2M231 134l2 2M297 133l1 1M33 146l1 0M250 141l1 1M279 145l0 2M130 154l1 0M206 151l-1 1M24 160l0 1M106 158l2 1M173 160l0 1M188 161l-2 1M209 156l2 0M131 170l2 1M261 170l-2 0M287 167l-1 1M309 167l1 0M270 177l-1 2M308 173l0 1M0 184l0 2M186 181l-1 0M188 180l1 1M250 184l2 0M306 184l2 0M4 190l-1 0M55 185l1 2M73 189l-1 0M155 187l-1 2M259 186l-1 1M70 198l-1 1M74 198l-1 2M102 199l0 1M75 207l2 0M242 204l1 1M306 205l2 1M30 214l1 2M192 211l2 0M311 216l0 1M317 213l-1 1M55 223l0 1M115 218l0 2M171 219l0 0M218 221l1 2M254 217l-1 0M-2 228l0 1M31 224l1 0M94 228l-2 1M154 226l1 2M173 228l1 1M227 230l-2 1M66 235l1 0M115 232l-1 0M205 234l2 1M298 235l-2 0M15 241l-1 2M34 240l0 1M145 247l3 1M189 245l1 1M208 240l1 0M229 245l2 2M21 249l1 1M143 249l1 0M279 249l-2 1M291 252l-1 1M110 258l1 0M216 261l-1 1M237 258l2 0M52 265l-1 1M153 263l0 1M161 265l1 2M256 266l-2 1M270 265l0 1M307 269l1 0M137 273l-1 2M263 277l0 1M275 274l1 1M39 278l-1 1M145 278l2 1M219 278l1 1M228 281l-2 0M287 282l-2 0M322 281l-1 1M17 288l1 1M58 290l2 0M105 288l1 1M154 285l1 1M53 299l0 1M59 299l0 2M82 296l-2 1M150 294l1 2M173 293l0 2M189 295l1 1M246 293l-1 0M277 298l-2 2M293 297l1 2M33 301l1 0M138 303l0 2M8 314l1 1M93 312l0 1M96 312l-1 1M127 315l1 1M288 308l-2 1M0 315l2 1M14 315l0 1M165 316l2 2M219 317l-3 1M241 316l0 1" stroke="#62503e" stroke-width="5.0" stroke-linecap="round" stroke-opacity="0.86" fill="none"/><path d="M211 5l0 1M313 5l2 1M26 25l1 0M54 24l1 0M23 39l1 1M286 39l-1 1M303 35l1 1M67 48l0 1M259 62l-1 0M294 61l-1 0M42 67l0 2M164 66l2 0M91 93l2 2M145 90l-1 2M153 90l0 2M172 88l-1 0M191 92l1 2M32 108l1 1M299 103l2 0M313 108l2 0M22 113l-1 1M160 113l0 2M273 111l-2 1M275 120l1 0M56 135l0 2M26 141l-1 1M15 151l-2 1M27 151l-2 2M217 155l1 1M139 162l-2 2M180 170l-2 1M89 178l-1 0M122 171l-1 2M186 176l1 0M260 178l0 2M219 185l1 1M69 190l2 0M18 195l0 2M90 201l-1 0M253 202l1 3M43 214l-2 0M235 230l-1 1M212 236l-1 0M110 246l0 1M160 249l-1 0M168 247l1 3M312 247l-2 0M23 260l-2 1M238 270l0 1M242 271l-1 2M239 282l1 2M308 278l-1 1M262 299l0 1M16 307l0 1M131 303l1 0M59 310l-1 1M77 311l-1 0" stroke="#62503e" stroke-width="4.0" stroke-linecap="round" stroke-opacity="0.86" fill="none"/><path d="M103 23l1 0M133 31l1 0M57 40l2 0M321 53l-1 0M200 62l0 2M106 65l-2 1M139 83l1 2M317 97l0 1M127 114l0 1M278 189l0 1M255 214l-1 0M80 223l0 2M189 320l0 1" stroke="#62503e" stroke-width="6.0" stroke-linecap="round" stroke-opacity="0.86" fill="none"/><path d="M96-1l3 0M254 0l1 0M17 9l0 1M159 5l-1 1M223 8l-1 2M147 15l-1 1M234 11l-2 2M163 26l-1 0M193 26l1 1M206 26l-1 0M232 21l-2 0M246 25l-1 2M261 22l-1 0M71 27l0 1M73 26l0 1M154 29l1 0M169 29l1 2M209 32l-2 1M241 32l1 1M262 28l-1 2M267 34l0 1M282 33l-1 1M287 28l-2 1M68 39l1 0M94 38l0 2M99 40l1 2M111 40l1 2M163 35l-2 1M224 38l1 0M17 46l-1 2M99 46l1 0M130 48l1 0M138 41l-1 2M2 52l-1 0M131 52l-1 0M201 51l2 0M243 53l-2 1M294 55l-2 0M143 57l3 1M175 64l-3 1M222 57l0 1M228 62l-1 3M282 59l-1 2M97 67l1 1M114 64l0 2M160 71l-1 0M260 65l0 2M11 72l-2 0M38 76l0 1M132 79l0 1M175 72l-1 2M196 77l0 2M209 84l1 1M267 86l0 1M19 99l-1 1M28 96l2 1M48 97l2 1M82 100l0 0M108 102l0 1M157 98l-1 2M221 101l-2 1M73 102l-1 2M267 109l-2 0M277 110l2 1M-2 114l1 0M31 110l-2 0M38 111l-1 2M87 123l0 3M322 123l-1 0M1 126l2 1M21 128l2 1M81 132l1 0M244 132l-2 2M279 130l1 1M311 129l1 1M35 139l0 1M87 140l2 0M100 134l-1 0M7 146l1 0M35 145l-1 1M69 145l-1 1M77 139l0 2M113 146l1 0M172 146l2 2M41 151l-1 1M196 150l-1 1M237 154l-1 1M146 162l2 1M182 156l1 1M219 161l0 3M292 161l0 1M324 161l-2 1M147 164l1 2M205 169l1 1M269 165l-1 2M316 164l0 3M10 176l0 2M62 172l2 0M182 173l-1 2M221 178l2 0M252 173l-2 2M63 185l1 1M232 180l0 1M11 187l1 1M124 190l-2 1M168 193l2 1M48 199l0 3M175 198l-3 0M217 199l0 2M257 196l-1 1M295 199l1 0M183 203l1 2M207 206l0 2M272 205l1 1M39 214l2 1M103 213l-2 1M145 221l-1 1M210 222l-2 1M224 218l3 0M246 218l-1 1M297 216l0 2M191 226l0 1M221 225l-1 0M240 229l2 1M259 230l0 1M176 237l0 1M181 244l1 1M194 246l1 0M293 242l1 0M88 249l2 2M228 250l1 2M258 247l0 2M294 248l-1 1M301 247l2 1M52 260l-1 1M254 257l1 1M316 258l-1 1M36 265l0 1M91 269l1 1M103 268l1 1M139 269l-1 0M238 267l0 2M78 270l-1 0M82 271l0 2M19 279l0 2M45 284l1 2M105 277l-2 1M196 282l-1 2M110 290l1 2M138 288l2 1M218 287l2 2M322 292l-1 0M11 296l2 0M74 295l0 2M113 294l1 1M136 293l0 1M178 293l2 1M199 295l1 1M307 296l-1 2M320 299l-1 0M2 304l-1 1M176 307l0 1M194 304l-1 2M223 300l-1 2M241 307l-3 0M15 312l0 2M45 312l-1 1M121 312l0 1M266 308l2 1M296 310l0 1M7 319l0 2M86 319l1 2M142 317l-3 0M205 320l2 1M319 315l1 2" stroke="#765e40" stroke-width="5.0" stroke-linecap="round" stroke-opacity="0.86" fill="none"/><path d="M159 1l-2 2M125 10l0 0M227 16l-2 1M155 28l2 0M193 33l2 0M300 55l0 2M245 158l1 1M92 165l1 1M244 199l-2 1M37 209l1 0M114 212l1 0M268 216l1 1M146 266l-1 2M318 263l0 2" stroke="#765e40" stroke-width="6.0" stroke-linecap="round" stroke-opacity="0.86" fill="none"/><path d="M280-2l-1 0M5 11l-2 0M32 9l1 1M302 8l0 1M-2 14l0 1M183 14l0 1M300 16l3 0M37 26l1 2M132 38l2 1M93 69l1 0M172 68l-1 2M223 82l1 0M53 94l0 1M130 92l-1 1M19 98l1 2M53 104l-2 2M146 116l2 2M3 124l-2 1M253 123l-2 0M212 130l0 1M249 132l-2 1M212 133l-2 0M95 146l-2 0M124 152l-1 2M17 164l-1 2M55 165l-2 0M153 173l0 2M195 174l-1 1M121 185l-2 0M84 192l-1 1M7 195l-2 0M117 204l0 3M130 202l0 2M135 204l-2 1M66 220l0 1M258 222l1 2M65 223l0 3M18 233l-1 0M222 238l-1 0M55 248l1 2M185 249l2 1M215 253l-1 1M46 256l0 2M85 256l0 1M129 260l0 2M178 258l2 2M100 265l-2 2M191 263l0 1M197 262l1 1M313 268l-1 0M117 277l-1 2M-2 287l-1 1M265 286l-1 1M110 298l-1 1M27 300l-1 1M56 303l1 2M318 301l1 2M271 314l0 1M179 318l1 1M266 318l-1 0" stroke="#765e40" stroke-width="4.0" stroke-linecap="round" stroke-opacity="0.86" fill="none"/><path d="M15 1l2 0M46 8l1 1M109 11l-1 0M10 17l-1 0M-2 23l-2 0M93 25l-1 2M291 24l0 1M294 34l2 1M11 52l0 2M20 57l2 1M210 79l1 1M233 91l2 0M315 98l-2 2M65 165l3 0M272 170l-1 0M144 178l2 2M278 199l1 2M122 217l-2 0M5 224l-1 1M36 230l2 1M197 259l1 0M167 288l-2 0M146 305l2 0M192 305l1 1M207 303l0 1" stroke="#6a5648" stroke-width="6.0" stroke-linecap="round" stroke-opacity="0.86" fill="none"/><path d="M57-1l1 1M89 0l0 2M119-2l0 0M185-3l1 1M201-3l2 1M22 7l-1 0M38 9l2 2M62 9l2 1M206 6l0 1M244 5l1 1M288 4l-1 0M130 17l-2 1M220 13l2 2M5 26l-1 0M15 21l2 1M48 19l2 1M135 24l-2 0M316 26l1 0M8 31l2 1M14 32l0 3M50 32l-1 2M104 27l1 1M126 33l1 1M190 28l-1 1M48 41l0 1M53 36l1 1M141 41l-1 1M275 40l1 2M-4 47l2 1M83 42l1 3M182 43l3 0M214 42l-1 0M313 42l1 2M15 51l2 1M74 55l2 2M91 52l1 1M255 51l-2 2M27 63l0 1M69 57l-1 2M98 59l-1 2M103 61l2 1M130 60l1 0M271 57l0 2M17 65l1 0M248 68l1 2M321 69l0 1M204 78l2 0M228 76l0 2M15 82l2 0M23 82l-1 1M68 83l1 0M89 83l2 2M114 85l2 2M150 86l-1 1M233 85l1 1M271 86l1 0M74 89l1 1M96 90l0 1M120 92l2 0M230 93l1 1M301 87l2 1M314 88l0 1M128 99l-2 1M193 101l0 1M287 100l0 2M105 105l1 0M122 106l1 2M259 104l-2 2M298 104l0 1M76 112l1 0M37 123l0 2M73 117l0 2M96 123l0 2M124 117l-1 2M216 121l1 0M221 122l0 1M294 122l-1 0M80 128l-1 1M286 128l2 0M9 138l1 0M27 133l-2 0M184 135l-1 0M247 134l0 2M56 146l0 3M101 143l0 2M104 141l0 2M129 145l1 2M304 141l-1 1M55 154l2 1M159 147l0 2M226 149l0 2M278 155l1 1M307 150l-2 1M-2 162l1 2M39 156l0 3M111 158l-1 2M118 161l2 2M155 160l1 1M227 161l1 0M304 160l1 1M6 168l0 1M81 165l1 0M134 165l1 1M157 165l0 1M304 164l0 0M-2 173l-1 2M49 177l0 1M76 176l2 1M159 171l1 0M227 177l0 2M270 171l1 1M297 178l2 1M319 176l0 2M137 183l0 1M204 183l-1 1M241 185l-2 1M286 179l1 0M26 191l3 0M97 186l0 3M135 191l1 1M184 192l1 0M222 191l-1 1M252 186l0 2M0 199l-1 2M22 197l-2 1M34 199l-1 1M133 197l1 1M276 201l-2 1M1 206l-2 0M8 203l-1 1M12 204l-2 0M19 203l-1 2M33 201l-1 2M90 209l-2 0M125 207l0 0M175 206l0 1M237 207l0 2M69 212l1 1M84 210l0 1M145 211l0 2M230 214l-1 0M126 223l2 2M55 225l2 0M59 228l0 0M274 225l0 2M285 225l0 1M287 227l-1 1M11 235l-1 0M42 237l2 1M168 237l1 2M239 237l1 0M268 231l0 1M322 233l1 0M65 244l2 1M81 240l-3 1M244 245l2 0M255 241l0 1M118 253l-1 0M123 248l1 1M192 250l1 1M220 251l1 1M264 248l-1 0M8 260l-1 2M205 259l-1 0M83 265l1 1M115 270l-1 0M132 262l1 2M166 266l0 1M14 276l1 1M112 276l0 1M143 274l-2 0M50 283l0 1M124 279l1 1M32 289l-2 1M79 285l-2 2M98 286l-1 1M159 284l2 1M244 285l0 1M254 289l-1 1M27 295l-1 0M74 307l-2 1M91 303l1 2M115 304l-2 2M157 302l2 1M281 300l-2 1M116 308l2 1M182 309l2 1M192 312l0 1M203 314l0 1M243 311l0 1M317 311l1 3M104 317l-1 2M300 321l-1 2" stroke="#6a5648" stroke-width="5.0" stroke-linecap="round" stroke-opacity="0.86" fill="none"/><path d="M284 15l-2 1M143 26l1 1M152 26l1 0M185 25l-1 1M198 26l1 1M16 39l0 2M209 36l-1 0M72 43l2 2M241 60l1 0M311 64l-2 0M314 67l1 2M266 89l-1 2M-2 98l1 2M181 97l-2 1M87 103l-1 0M114 108l0 3M97 114l2 1M138 110l-3 0M148 121l1 0M14 127l0 3M301 126l-2 0M112 137l0 1M44 147l2 0M231 145l-1 0M75 149l-1 0M53 157l0 1M272 159l1 0M-2 165l-2 1M61 168l1 0M172 164l-2 1M176 176l-2 0M47 190l-1 0M202 189l0 2M244 191l0 1M193 197l-2 1M214 197l-1 1M84 207l0 1M27 219l0 1M92 218l1 0M149 218l1 1M263 227l-1 1M57 236l0 0M200 232l0 2M-3 240l0 1M154 245l2 1M278 244l-1 1M124 256l0 1M256 255l0 1M280 262l0 1M129 276l-3 0M64 283l1 1M22 291l0 1M25 310l-2 1M40 308l0 1M108 311l0 3M161 322l-1 1" stroke="#6a5648" stroke-width="4.0" stroke-linecap="round" stroke-opacity="0.86" fill="none"/><path d="M-1 1l0 1M29 2l0 1M44-4l-2 2M50-3l-1 1M86-3l-1 2M195 2l-1 2M276-3l1 1M117 7l1 2M141 10l2 1M258 8l1 2M318 7l0 1M18 17l-1 2M95 13l1 2M134 17l2 1M176 12l2 0M248 18l1 0M269 16l0 1M28 24l-1 1M272 26l-1 1M1 29l-1 0M27 26l0 1M110 28l0 2M230 31l1 1M238 32l-1 1M319 30l-2 1M-3 34l-1 2M74 40l1 0M320 38l-2 0M146 45l2 1M51 55l-1 0M60 56l1 2M86 51l-2 1M120 54l-2 1M187 51l0 2M210 54l0 2M309 55l2 2M39 58l1 2M213 63l-1 0M0 70l0 1M25 68l1 2M34 67l0 2M73 68l2 0M85 66l-1 0M128 69l-1 1M134 69l1 0M201 65l1 1M234 67l2 0M287 66l0 2M1 73l-1 3M97 73l1 0M139 75l-2 1M217 79l0 1M6 81l1 1M41 82l0 1M57 80l1 2M97 83l1 0M125 84l-2 1M163 79l-2 1M301 84l1 1M6 94l0 1M30 94l-1 2M136 94l-1 1M157 88l-2 1M208 93l1 1M224 94l-2 0M253 95l-2 0M41 94l-1 2M65 96l2 1M90 108l1 2M177 103l-1 1M183 108l2 0M243 106l1 1M67 110l1 2M115 114l0 1M152 115l1 0M286 113l-3 0M10 121l-1 1M43 123l1 1M195 123l-1 1M109 129l-1 0M135 132l-1 1M153 129l0 2M182 131l-1 2M307 128l-2 0M2 137l1 1M65 133l0 2M103 134l1 1M130 139l-1 0M158 140l-2 0M171 138l0 1M177 135l-1 0M310 139l-2 1M-1 140l0 2M65 144l-1 1M168 146l2 1M187 148l-1 0M294 144l0 3M6 151l-1 1M46 151l-1 1M103 152l1 1M117 151l-1 1M285 152l1 2M131 157l0 1M210 156l-3 0M21 165l1 1M99 163l1 3M112 168l1 0M156 166l-2 1M199 164l0 3M212 164l1 1M232 165l-1 2M64 174l1 2M114 175l-1 2M131 178l0 1M314 173l2 1M177 181l1 2M107 187l1 1M125 189l2 2M144 189l0 1M213 187l0 1M227 186l0 2M39 200l0 2M129 200l-2 1M149 196l0 3M303 195l-1 1M310 204l-2 0M62 209l-2 0M122 212l1 1M290 209l0 1M11 218l0 2M20 220l1 2M164 219l1 0M131 229l-2 1M149 225l-2 1M170 224l1 1M206 227l2 0M293 227l1 1M248 235l2 2M291 233l1 1M19 241l0 1M42 243l1 1M55 241l1 0M90 241l1 0M130 242l0 2M308 245l-1 0M135 248l1 0M204 252l-1 2M139 259l-1 1M182 260l-2 0M58 265l-1 1M218 266l1 1M30 276l1 0M119 271l1 2M58 283l1 0M137 280l1 1M182 278l0 1M43 288l1 2M126 289l0 1M176 291l-1 2M233 288l1 1M310 291l1 1M31 292l2 1M130 298l1 0M146 295l1 0M219 299l-1 0M234 305l1 0M296 306l1 0M142 308l0 1M166 308l-1 1M150 320l1 0M311 318l2 2" stroke="#5e4c40" stroke-width="5.0" stroke-linecap="round" stroke-opacity="0.86" fill="none"/><path d="M75 0l-1 2M176-1l2 0M191-2l-1 1M211 12l-1 1M254 41l-1 2M308 44l-1 2M32 56l-2 0M172 53l0 3M53 60l0 2M34 75l-2 1M46 79l1 3M193 74l1 0M105 90l-1 1M121 97l0 1M72 108l1 0M95 117l-2 1M163 109l1 2M67 132l1 1M196 126l0 1M197 132l0 2M207 140l1 2M256 137l0 1M39 164l-1 1M279 172l-2 2M151 182l-2 1M284 179l0 1M60 192l1 2M167 195l1 0M9 211l3 0M91 216l1 0M256 209l1 0M295 213l1 2M284 218l0 1M48 225l1 1M213 243l1 1M225 242l-3 0M30 247l1 0M170 263l2 1M168 272l-2 1M299 270l1 2M302 271l0 1M92 280l0 2M294 276l-1 2M10 294l-2 0M10 303l0 3M290 302l-1 0M114 317l-1 2" stroke="#5e4c40" stroke-width="4.0" stroke-linecap="round" stroke-opacity="0.86" fill="none"/><path d="M40 21l-2 1M74 63l1 1M42 81l1 1M25 109l2 0M12 114l1 1M89 157l-1 2M160 271l-1 1M259 278l2 2" stroke="#5e4c40" stroke-width="6.0" stroke-linecap="round" stroke-opacity="0.86" fill="none"/><path d="M65-3l0 1M131 2l1 0M153 2l-2 2M286-2l0 1M10 8l-1 0M77 5l0 2M87 4l2 1M150 8l2 2M277 9l1 1M260 17l2 0M274 12l-1 0M299 14l2 1M320 19l1 0M233 20l-2 0M278 20l2 1M59 29l1 0M93 32l2 2M275 29l1 1M38 35l-1 1M179 41l-1 0M10 49l-1 1M49 41l-1 1M54 49l-1 1M109 48l0 3M170 43l0 1M231 47l-2 0M299 45l1 2M316 42l0 1M23 50l1 2M150 49l-2 1M161 53l-2 1M261 56l1 2M262 50l1 2M6 64l1 0M153 64l-1 1M192 63l-2 1M251 61l2 1M263 57l1 1M292 63l-1 1M5 65l-1 2M33 71l2 1M184 63l0 3M76 75l-1 1M89 72l-1 1M235 78l2 2M1 84l0 1M32 80l1 2M72 85l1 2M130 80l0 1M147 81l0 2M170 88l0 2M197 91l2 1M285 90l-2 1M90 102l-1 0M172 98l1 3M250 101l1 1M306 101l-1 2M46 108l1 1M96 109l0 1M208 107l-1 0M42 111l2 1M118 112l1 2M308 112l-1 1M108 121l0 2M128 122l-3 1M239 131l-2 0M29 133l-1 1M60 134l-2 2M142 134l0 2M305 138l1 1M80 147l0 1M134 143l1 2M179 147l0 2M236 141l0 1M245 142l-1 2M257 141l0 2M289 145l-1 1M311 142l0 1M320 146l0 1M58 153l0 2M69 148l-1 1M133 148l0 2M251 153l1 1M314 151l-1 1M322 152l2 0M64 161l-1 0M78 157l1 1M162 158l-1 0M235 158l2 0M30 167l-1 0M194 166l-1 1M280 169l0 2M293 168l0 1M14 171l-1 1M31 173l-1 1M84 178l0 1M169 172l1 0M242 175l0 1M9 184l1 0M12 182l0 1M35 178l2 1M49 178l1 2M75 185l-2 2M131 181l0 1M261 184l0 2M315 181l1 1M11 190l0 2M23 191l2 1M87 192l2 2M308 192l0 1M116 195l-3 1M267 199l-2 0M152 203l-1 1M163 204l1 0M229 203l0 2M2 213l1 1M22 214l2 1M76 214l2 1M105 214l-2 1M127 215l0 1M-3 224l-1 0M48 217l-1 1M158 217l0 1M182 222l2 1M210 220l-1 1M303 221l1 1M313 222l0 1M115 228l0 3M249 229l-2 0M136 238l-2 1M270 236l0 2M78 243l0 2M99 244l1 1M125 241l-3 0M175 247l-2 0M271 241l-2 0M310 239l-2 2M1 253l0 1M7 248l1 1M152 248l-1 0M178 252l-2 0M194 251l1 0M232 253l2 2M57 256l0 1M99 260l1 1M149 255l1 1M156 258l2 1M170 257l1 1M244 259l2 1M263 255l-1 0M-3 263l0 1M13 268l0 2M24 262l2 0M256 262l1 2M297 263l-2 1M-3 270l2 2M5 273l1 0M41 274l-1 1M43 276l1 2M61 274l0 1M69 270l2 2M94 274l1 0M217 274l0 2M230 275l1 0M310 276l-3 1M315 275l2 0M217 281l-1 2M83 292l-2 1M119 288l1 3M72 298l-2 1M89 297l0 1M207 295l1 1M253 292l-1 2M35 301l1 2M60 306l0 2M121 305l-1 0M253 304l-1 0M274 302l-2 1M34 314l1 0M224 313l1 1M232 311l1 0M38 319l-2 0M47 320l-1 0M50 316l3 1" stroke="#725c46" stroke-width="5.0" stroke-linecap="round" stroke-opacity="0.86" fill="none"/><path d="M132 5l2 1M217 22l0 2M173 47l2 0M239 58l-2 1M60 68l-2 0M203 67l-2 2M230 68l0 2M314 76l-3 1M168 85l-1 1M195 101l-2 1M144 106l-2 1M111 120l2 1M165 122l-1 2M268 136l1 1M318 136l-1 2M12 144l1 1M31 158l-1 1M46 171l1 0M119 167l1 0M109 171l0 2M203 176l-1 2M264 190l1 0M179 195l1 2M238 196l-2 1M290 201l1 1M285 203l-1 0M152 212l1 1M198 211l-2 0M218 212l-3 1M20 225l-2 0M85 224l-1 0M211 228l-3 0M57 234l0 3M169 244l-2 2M41 249l0 1M317 247l1 1M71 267l-1 2M49 273l2 1M212 272l0 1M251 271l1 2M208 282l0 2M297 291l0 1M170 293l2 0M281 297l3 1M170 302l0 1M70 312l1 1" stroke="#725c46" stroke-width="4.0" stroke-linecap="round" stroke-opacity="0.86" fill="none"/><path d="M104 13l1 0M115 48l0 2M134 55l2 1M163 78l2 2M193 81l-1 1M60 122l1 1M172 132l1 1M230 132l-1 0M269 155l0 1M199 193l0 1M163 231l1 2M76 259l2 1M262 274l-1 2M250 312l-2 1M282 312l-1 2" stroke="#725c46" stroke-width="6.0" stroke-linecap="round" stroke-opacity="0.86" fill="none"/></g></g><g clip-path="url(#c1)"><g filter="url(#bl)" transform="translate(266,807) scale(0.5)" fill="none" stroke-linecap="round" stroke-linejoin="round" stroke-opacity="0.75" stroke-width="1.5"><path d="M197 234l4-7l8-4l3-4l1-7M275 120l6-1l8-5M243 50l3-6l-1-10M2 244l6 2l4 7M215 65l6-7l3-4l4-9l0-7M259 185l-6-2l-5-6l-6-4l-3-4M309 7l-6-6l-7-4l-5 1M57 302l-3 9l-1 7M166 245l3 6l5 5l0 6l0 7M47 87l-4-5l-5-2M47 218l5 2l8 5M10 234l-4 6l2 9l6 4M266 41l1-9l-4-6M47 267l-7 5l-3 7l-8 3M101 87l-6 7l-4 4M297 274l6 6l1 7l-2 9M220 210l1-8l4-5l9-1M303 107l4 8l4 5M92 158l-5-6l-3-9l-5-8M276 218l8-1l7-6l7 0M219 227l1-10l1-10M96 175l5-2l4-6l4-4M217 199l3 5l0 6l-5 5M174 131l-6 5l-4 9l3 6l5 5M36 263l-5 4l-4 7M301 93l-4 8l-5 5M45 188l-3-7l-6-7M0 34l-6-3l-4-7l-6-8l-4-6M225 121l5-4l7 0M132 101l5 3l8-1l5 3M13 43l-5 4l-9-1l-6 2M49 312l-7 4l-9-1l-4-3l-6-1M224 194l-1-7l2-8M12 80l-7-3l-8 4M136 182l0-9l4-6l6-6l7-1M240 96l8 1l7 1l8-4M282 307l-8-3l-6 2l-9-2M210 8l5-7l-1-9M69 204l9 3l6 4l6 1l4 3M68 176l-5-2l-8-4l-3-5l-4-5M190 155l5 2l8 0l6 1M299 174l1 6l-2 7M42 74l-3 5l1 7l0 5l-4 7M144 123l-5 6l-5 5l-9 2M136 251l6-6l5-2M198 112l-5 7l-6 3l-7 1M94 200l8-2l9-1l5-1M11 64l6 3l6 2l4 8M102 146l5 4l8 4l6-1l5-2M91 74l-8 3l-4 3M7 144l0-8l-3-8M231 52l2 8l0 10M224 215l6 6l2 5l6 6M298 204l-2 5l-5 5l0 8M314 164l-5 3l-5 1M149 216l-4-4l-7-2l-5 0M12 307l1 6l6 8l1 5l-3 5M24 231l-5-6l-4-6l-3-8M289 97l-6 1l-9 2M84 127l6 1l6-3l6-2l4-7M15 63l-4 4l-7 2l-5-1M91 297l7 6l5 8M231 222l-1 6l1 6l1 7M11 171l-4-4l-7-1M273 300l-4-4l-7-2M52 196l6 5l4 4M242 137l-7 6l-5 5l-6 7M297 168l3-5l8-3l3-4l6-1M224 112l-5 3l-6 3M238 76l-8 3l-5-1M157 110l3 4l5 2M228 284l3 7l2 5l6 6M33 191l-8 0l-7-1l-8-1M219 142l7-5l7-3l7 1l8 2M166 90l5 6l1 10M131 306l5-2l5-8l2-7l7-7M192 178l-5-3l-2-7M125 1l-7 2l-6 6M102 102l8-6l3-5l1-9l3-4M301 24l-3 4l-6 7M279 230l-7 4l-4 6l0 9M105 133l4 7l5 3l6 5M219 230l7-1l4-5l4-6M286 282l-1-5l0-6l-2-7M241 182l-9-1l-9-4l-3-8M306 33l7 1l9-3" stroke="#5a5ec6"/><path d="M313 242l0 5l-6 8l-1 5l1 7M235 155l4-4l5-5l9-3l5-3M158 220l-3-7l2-5l1-6l5-3M228 46l10-2l7-1l5 3l9 3M2 242l1 8l-6 7M25 307l7 3l3 7l-1 7M7 51l0-8l5-6l4-3l1-9M131 276l-3-9l-5-4l-5-2M264 24l-4 5l-4 5l-4 4M54 145l7-2l6-6l7-3M101 145l-9-4l-6 2M136 84l-1-6l-5-8l0-8M90 33l-5 6l-7 6l-3 7M83 172l-4-7l-5-2M67 73l1-5l1-5M122 109l6 0l8-5l6-3M185 188l-3 5l-5 2l-8 3M168 123l7 0l7-1l3-4M179 179l6-3l6-8l1-6l5-7M83 262l-9-2l-7-4l-4-9M265 188l-6-1l-8-1l-8-2l-4-3M130 130l-6-2l-3-5l-8-3M29 21l-8 2l-9-3l-5-4l-6-3M144 95l7-6l4-4l2-6M300 65l2 8l2 7l3 5M290 54l-5 1l-7 3l-9 3l-4 4M53 175l2 5l4 5l1 6M200 202l6 0l8-5M90 239l5 7l2 6l3 6l5 3M227 130l0-5l-3-4M234 303l-5 4l-1 8l1 5M162 295l5-3l5-7l0-8M210 120l7 7l5 4l7 6M121 200l9 1l5-4l8 0M97 175l2-6l4-5l5-7l4-4M64 220l-1-6l-5-7M228 81l-6 6l-1 8l2 7l7 5M39 241l-5 8l-7 3l-8 2l-3 5M166 93l-2 5l-5 2M155 50l7 0l7 5l8 3M160 225l-7-1l-7 5M245 265l9-5l6-1l6-5l6-3M32 132l2-5l4-7l6-4l5-4M233 118l-4-8l1-8l-4-6M147 60l3 6l0 7M165 8l4-8l5-7l8-3l4-8M314 64l8 0l5 3l5 2M18 59l2-10l6-6l3-6M143 129l6 1l8 4l5 1M74 134l7-4l9 0l6 2l8 4M275 15l1-5l3-6M46 91l9 4l6 6M148 262l5 0l4-2l3-8l5-5M255 143l7 2l8 1l3 4l4 4M163 245l-8-1l-8 4M129 101l3-8l-2-7M26 202l3-7l5-3l4-6l6-5M307 163l4-3l5-5M51 198l-7-1l-6 3l-7 0M11 305l-2-9l-3-7M282 166l-6-5l-7-4M195 128l-3 6l3 8M133 297l7 5l5-1M239 286l6 1l6 0M137 94l0-8l5-8l6-7l1-7M101 197l8 4l4 9l5 8M316 41l0-7l-4-9l-8-3l-6 0M49 288l-5 1l-8-2M77 158l-5 1l-5 1l-6 3l-5-1M62 10l-4 5l-9 1M70 144l5 3l3 4M285 200l3-9l0-7l-1-9l-3-6M76 304l3-5l-2-9l2-10M69 210l6-1l5-1l4-5M117 302l-8-2l-7 0l-8 2l-9-3M94 47l9-4l5-2l5-5l5-3M267 44l-4-7l-2-8M154 275l-7-3l-8-5l-6-6l-4-7M300 313l8 1l6 3M88 149l-6-2l-7-4l-5-6l-2-9M57 173l5 5l1 5l4 8l1 5M73 89l5-1l9-3l8-4M313 297l4 3l7 5l8 3M117 195l-7-1l-7-6l-2-8l2-8M90 310l-8 4l-7 0l-6-4M180 313l0 6l4 6l5 7l8 1" stroke="#6a6ecc"/><path d="M4 221l3-9l4-4M135 289l7-5l7-4M202 273l-2-7l0-8M16 303l-6 2l-6 2l-5-3M212 140l4 6l4 4l4 3M38 47l-6 3l-4 5M199 151l3 4l3 9l5 4l10 0M70 103l-2 7l3 5l-2 8M234 256l6 1l7 4l9 3M275 88l-3 7l-7 7l-1 8l5 8M35 184l-4-7l-2-8l-1-7l-3-4M38 128l8 0l8 6l6 2l6 2M84 194l7-4l3-9l7-5l2-7M265 188l0 9l0 6M300 306l-1-6l5-8l4-8l2-10M102 292l1-8l3-6l1-8l3-6M249 269l-4 5l-4 9l-5 7M296 10l9-3l7-3M281 212l6 3l6 4M100 72l7 5l5 3l3 9M15 145l2 10l4 4l8 4l4 4M63 124l7 5l7 6l3 5M132 50l8 2l7 6l2 7l-3 8M282 36l-3-5l-4-7l-7-6l-5-7M44 263l-1 7l-3 6l2 6l4 7M246 75l-2-5l-5-7M34 114l8 1l8-2l8-5M314 249l-5-6l-5-2M232 110l3 8l3 5l1 6l-1 8M87 1l-8-6l-8-2M138 183l2 7l4 7M268 6l3 5l8 3l10 2M187 145l-6-2l-9-1l-6-3M282 8l-4-4l-2-7l3-6l5-6M314 107l-1 5l-3 7M23 282l7-1l6-3l6 2M287 279l-7-3l-4-5l-1-7M40 190l5 1l6-3l5-6M23 177l-8-5l-9 1l-3 4M103 311l8-5l2-9l4-8M222 119l4 6l5 4M297 146l-3 5l0 9M123 150l2-7l-2-4l-1-10M50 121l3-5l2-10M115 264l8-3l7 0l5 3l3 9M174 315l8-6l2-5M234 114l5 8l8 6l8 5M147 171l1 9l-1 7l3 5l4 5M185 2l-7-4l-5-6l0-9l0-7M298 174l-3-7l1-6l0-6M263 286l-7 3l-4 4l-2 5M46 235l3 5l-1 8M192 82l-4-4l-9-4l-6-2M307 289l8 5l5 4l7 0l6 4M43 219l7 0l6-6l9-1M189 122l-5 0l-7-2l-7 3l-3 6M50 292l-6 5l-5 6M278 118l-4-5l-3-5l1-8l-3-7M202 226l4 3l9 0l6-1M246 310l-4 7l-8 3l-5-1l-6-2M267 285l4-7l-2-8l5-8M227 139l-4-4l-9-3l-8-5M47 33l1-6l7-6l7-3M259 22l3-7l8-4l4-7M260 109l2-8l0-7l1-9l3-9M79 252l-4 5l-9 3M64 167l6 5l2 5l6 7M113 114l8-3l8-5l7-6l3-5M104 40l4-5l9-3l5-4M158 42l0 9l-3 7l-2 8M12 28l2-9l1-8l4-8l5-4M48 116l7-7l5-1M8 183l8 2l8 1M163 114l-6 1l-5-3M121 254l-5 3l-6 0M44 236l8-5l5 1l5 4M92 40l3-5l2-5l7-4M267 155l-5 4l-8 0l-9-4l-5-6M238 168l1 7l6 8l7 3M96 254l6 4l4 9l-1 9M228 62l-5-3l-4-5l-5-4M147 111l3 6l2 6M209 247l2-10l1-6l4-8l0-8M221 67l7-3l8-5M302 48l3-4l2-8l0-7l-5-6M245 173l-5 3l-6 3l-5 3" stroke="#4c50c0"/></g></g><g clip-path="url(#c2)"><rect x="429.6" y="807" width="158.4" height="158" fill="#acb0c8"/><g filter="url(#bl2)"><g fill="#c8c8a6" fill-opacity="0.55"><circle cx="520" cy="907" r="4"/><circle cx="474" cy="910" r="4"/><circle cx="574" cy="836" r="3"/><circle cx="527" cy="887" r="4"/><circle cx="513" cy="877" r="4"/><circle cx="530" cy="855" r="3"/><circle cx="508" cy="815" r="3"/><circle cx="546" cy="874" r="4"/><circle cx="577" cy="895" r="3"/><circle cx="448" cy="816" r="4"/><circle cx="475" cy="841" r="4"/><circle cx="548" cy="826" r="3"/><circle cx="468" cy="850" r="2"/><circle cx="513" cy="855" r="3"/><circle cx="459" cy="824" r="2"/><circle cx="568" cy="925" r="3"/><circle cx="449" cy="831" r="2"/><circle cx="480" cy="816" r="3"/><circle cx="462" cy="837" r="3"/><circle cx="502" cy="882" r="3"/><circle cx="515" cy="931" r="3"/><circle cx="441" cy="883" r="3"/><circle cx="553" cy="825" r="4"/><circle cx="432" cy="893" r="3"/><circle cx="480" cy="947" r="3"/><circle cx="455" cy="885" r="3"/><circle cx="435" cy="821" r="3"/><circle cx="545" cy="880" r="3"/><circle cx="510" cy="848" r="4"/><circle cx="582" cy="883" r="2"/><circle cx="493" cy="934" r="3"/><circle cx="446" cy="836" r="3"/><circle cx="528" cy="852" r="3"/><circle cx="550" cy="960" r="4"/><circle cx="498" cy="935" r="4"/><circle cx="567" cy="926" r="3"/><circle cx="511" cy="941" r="3"/><circle cx="544" cy="843" r="2"/><circle cx="472" cy="899" r="3"/><circle cx="461" cy="837" r="4"/><circle cx="441" cy="953" r="4"/><circle cx="520" cy="964" r="3"/><circle cx="431" cy="955" r="3"/><circle cx="575" cy="936" r="2"/><circle cx="436" cy="810" r="4"/><circle cx="555" cy="843" r="2"/><circle cx="488" cy="933" r="3"/><circle cx="567" cy="960" r="4"/><circle cx="562" cy="810" r="2"/><circle cx="566" cy="905" r="3"/><circle cx="450" cy="860" r="3"/><circle cx="508" cy="878" r="2"/><circle cx="443" cy="839" r="2"/><circle cx="445" cy="872" r="2"/><circle cx="556" cy="893" r="3"/><circle cx="531" cy="844" r="2"/><circle cx="442" cy="860" r="3"/><circle cx="470" cy="855" r="4"/><circle cx="431" cy="878" r="3"/><circle cx="474" cy="922" r="2"/><circle cx="436" cy="832" r="4"/><circle cx="484" cy="825" r="4"/><circle cx="532" cy="958" r="3"/><circle cx="558" cy="814" r="2"/><circle cx="555" cy="889" r="4"/><circle cx="491" cy="945" r="2"/><circle cx="528" cy="837" r="2"/><circle cx="569" cy="875" r="4"/><circle cx="475" cy="922" r="4"/><circle cx="529" cy="844" r="3"/><circle cx="580" cy="934" r="3"/><circle cx="493" cy="823" r="4"/><circle cx="455" cy="842" r="2"/><circle cx="456" cy="868" r="3"/><circle cx="457" cy="874" r="4"/><circle cx="445" cy="828" r="3"/><circle cx="573" cy="952" r="3"/><circle cx="444" cy="945" r="4"/><circle cx="572" cy="891" r="3"/><circle cx="523" cy="932" r="4"/><circle cx="508" cy="887" r="3"/><circle cx="515" cy="893" r="3"/><circle cx="502" cy="952" r="2"/><circle cx="470" cy="855" r="4"/><circle cx="478" cy="938" r="4"/><circle cx="568" cy="934" r="2"/><circle cx="501" cy="937" r="2"/><circle cx="525" cy="945" r="4"/><circle cx="485" cy="826" r="2"/><circle cx="480" cy="893" r="3"/><circle cx="560" cy="910" r="3"/><circle cx="561" cy="859" r="3"/><circle cx="485" cy="853" r="2"/><circle cx="555" cy="949" r="2"/><circle cx="543" cy="817" r="3"/><circle cx="480" cy="950" r="3"/><circle cx="511" cy="863" r="3"/><circle cx="468" cy="817" r="2"/><circle cx="517" cy="924" r="3"/><circle cx="471" cy="963" r="2"/><circle cx="498" cy="860" r="2"/><circle cx="582" cy="920" r="2"/><circle cx="458" cy="935" r="3"/><circle cx="477" cy="854" r="3"/><circle cx="523" cy="856" r="3"/><circle cx="440" cy="892" r="3"/><circle cx="480" cy="944" r="4"/><circle cx="534" cy="872" r="2"/><circle cx="529" cy="853" r="2"/><circle cx="514" cy="839" r="3"/><circle cx="550" cy="809" r="3"/><circle cx="460" cy="860" r="3"/><circle cx="583" cy="857" r="4"/><circle cx="485" cy="956" r="2"/><circle cx="535" cy="820" r="3"/><circle cx="547" cy="951" r="4"/><circle cx="517" cy="870" r="3"/><circle cx="532" cy="904" r="3"/><circle cx="548" cy="955" r="3"/><circle cx="568" cy="924" r="3"/><circle cx="557" cy="865" r="4"/><circle cx="569" cy="949" r="4"/><circle cx="539" cy="886" r="3"/><circle cx="531" cy="948" r="3"/><circle cx="463" cy="927" r="4"/><circle cx="462" cy="829" r="2"/><circle cx="517" cy="938" r="2"/><circle cx="555" cy="814" r="2"/><circle cx="516" cy="927" r="3"/><circle cx="539" cy="864" r="3"/></g><g fill="#98a0d8" fill-opacity="0.55"><circle cx="512" cy="807" r="2"/><circle cx="485" cy="911" r="2"/><circle cx="468" cy="964" r="3"/><circle cx="495" cy="931" r="3"/><circle cx="559" cy="895" r="3"/><circle cx="445" cy="875" r="3"/><circle cx="470" cy="865" r="4"/><circle cx="465" cy="825" r="3"/><circle cx="456" cy="811" r="4"/><circle cx="516" cy="811" r="3"/><circle cx="457" cy="883" r="4"/><circle cx="585" cy="870" r="4"/><circle cx="508" cy="820" r="3"/><circle cx="558" cy="930" r="3"/><circle cx="586" cy="867" r="3"/><circle cx="559" cy="953" r="4"/><circle cx="568" cy="861" r="3"/><circle cx="528" cy="826" r="3"/><circle cx="488" cy="840" r="2"/><circle cx="533" cy="856" r="2"/><circle cx="556" cy="956" r="2"/><circle cx="538" cy="820" r="2"/><circle cx="456" cy="908" r="3"/><circle cx="560" cy="911" r="4"/><circle cx="568" cy="899" r="2"/><circle cx="455" cy="942" r="4"/><circle cx="532" cy="957" r="4"/><circle cx="493" cy="836" r="3"/><circle cx="575" cy="947" r="2"/><circle cx="431" cy="878" r="4"/><circle cx="569" cy="939" r="2"/><circle cx="462" cy="929" r="3"/><circle cx="480" cy="959" r="2"/><circle cx="507" cy="946" r="3"/><circle cx="570" cy="850" r="3"/><circle cx="585" cy="828" r="3"/><circle cx="587" cy="832" r="4"/><circle cx="548" cy="848" r="4"/><circle cx="553" cy="828" r="4"/><circle cx="569" cy="883" r="2"/><circle cx="554" cy="899" r="3"/><circle cx="442" cy="883" r="4"/><circle cx="545" cy="834" r="3"/><circle cx="502" cy="880" r="4"/><circle cx="577" cy="807" r="3"/><circle cx="451" cy="944" r="3"/><circle cx="572" cy="951" r="4"/><circle cx="456" cy="817" r="4"/><circle cx="503" cy="930" r="3"/><circle cx="495" cy="923" r="3"/><circle cx="508" cy="870" r="3"/><circle cx="441" cy="880" r="3"/><circle cx="538" cy="950" r="3"/><circle cx="582" cy="918" r="3"/><circle cx="519" cy="864" r="3"/><circle cx="434" cy="949" r="3"/><circle cx="431" cy="821" r="3"/><circle cx="471" cy="939" r="3"/><circle cx="575" cy="851" r="3"/><circle cx="580" cy="943" r="4"/><circle cx="448" cy="818" r="3"/><circle cx="483" cy="824" r="2"/><circle cx="481" cy="856" r="3"/><circle cx="586" cy="834" r="4"/><circle cx="524" cy="944" r="4"/><circle cx="575" cy="828" r="3"/><circle cx="552" cy="867" r="2"/><circle cx="550" cy="906" r="4"/><circle cx="549" cy="923" r="2"/><circle cx="579" cy="958" r="3"/><circle cx="554" cy="955" r="3"/><circle cx="483" cy="902" r="4"/><circle cx="495" cy="917" r="4"/><circle cx="489" cy="951" r="2"/><circle cx="524" cy="939" r="3"/><circle cx="474" cy="851" r="3"/><circle cx="491" cy="872" r="2"/><circle cx="524" cy="842" r="3"/><circle cx="503" cy="951" r="3"/><circle cx="458" cy="929" r="3"/><circle cx="449" cy="961" r="2"/><circle cx="530" cy="845" r="4"/><circle cx="488" cy="906" r="4"/><circle cx="541" cy="856" r="3"/><circle cx="522" cy="890" r="3"/><circle cx="440" cy="817" r="2"/><circle cx="557" cy="835" r="4"/><circle cx="502" cy="958" r="3"/><circle cx="564" cy="823" r="4"/><circle cx="490" cy="814" r="4"/><circle cx="467" cy="910" r="2"/><circle cx="499" cy="881" r="3"/><circle cx="561" cy="852" r="4"/><circle cx="455" cy="960" r="3"/><circle cx="537" cy="954" r="3"/><circle cx="565" cy="821" r="4"/><circle cx="436" cy="914" r="4"/><circle cx="551" cy="922" r="3"/><circle cx="586" cy="842" r="4"/><circle cx="557" cy="837" r="3"/><circle cx="499" cy="831" r="4"/><circle cx="565" cy="926" r="2"/><circle cx="545" cy="954" r="3"/><circle cx="577" cy="959" r="3"/><circle cx="547" cy="855" r="4"/><circle cx="479" cy="849" r="3"/><circle cx="479" cy="813" r="2"/><circle cx="473" cy="841" r="2"/><circle cx="546" cy="937" r="3"/><circle cx="543" cy="944" r="2"/><circle cx="520" cy="900" r="2"/><circle cx="572" cy="934" r="3"/><circle cx="515" cy="939" r="2"/><circle cx="568" cy="890" r="3"/><circle cx="471" cy="893" r="2"/><circle cx="561" cy="872" r="4"/><circle cx="581" cy="932" r="2"/><circle cx="468" cy="907" r="4"/><circle cx="529" cy="864" r="4"/><circle cx="503" cy="900" r="3"/><circle cx="580" cy="904" r="2"/><circle cx="531" cy="871" r="2"/><circle cx="508" cy="849" r="4"/><circle cx="464" cy="893" r="2"/><circle cx="478" cy="910" r="3"/><circle cx="535" cy="898" r="3"/><circle cx="470" cy="953" r="3"/><circle cx="434" cy="939" r="2"/><circle cx="495" cy="910" r="4"/><circle cx="457" cy="854" r="3"/><circle cx="538" cy="880" r="3"/><circle cx="587" cy="817" r="3"/><circle cx="555" cy="935" r="4"/><circle cx="483" cy="846" r="3"/><circle cx="561" cy="933" r="3"/><circle cx="450" cy="918" r="3"/><circle cx="434" cy="807" r="3"/><circle cx="489" cy="893" r="3"/><circle cx="511" cy="907" r="2"/><circle cx="556" cy="913" r="4"/><circle cx="519" cy="892" r="4"/><circle cx="534" cy="849" r="4"/><circle cx="460" cy="850" r="4"/><circle cx="502" cy="831" r="4"/><circle cx="524" cy="810" r="3"/><circle cx="484" cy="851" r="3"/><circle cx="466" cy="820" r="4"/><circle cx="521" cy="882" r="4"/><circle cx="538" cy="942" r="3"/><circle cx="478" cy="859" r="3"/></g></g><g filter="url(#bl)" transform="translate(429.6,807) scale(0.5)"><path d="M17-3l2 6M89 2l-5 3M99-2l-5 3M209 7l3 7M273 10l-6 1M80 17l-1 7M118 14l-3 5M153 21l6 0M214 14l3 2M232 12l4 3M300 17l-4 0M52 23l1 4M110 26l-6 0M22 29l-3 4M36 34l2 2M45 30l-6 2M206 31l-6 2M220 37l5 1M17 38l1 7M58 45l-4 3M82 41l4 1M124 41l6 1M267 39l-5 6M302 43l-6 3M8 54l7 1M26 55l3 1M44 47l4 1M69 53l-3 5M248 47l-1 6M317 54l-4 1M91 54l-5 4M125 56l4 1M190 60l-1 8M200 62l-3 4M211 54l5 5M303 63l-7 3M-4 67l2 3M62 67l-6 3M118 64l-5 1M118 71l4 1M157 71l-4 2M312 66l-8 1M81 76l3 2M102 76l-4 4M17 86l-3 5M136 86l-2 3M253 89l7 1M108 89l-7 3M146 97l6 3M191 98l4 2M201 90l6 2M214 94l1 6M219 95l2 2M287 88l2 7M37 99l-1 7M167 107l-4 1M230 102l6 4M302 106l3 2M42 114l1 3M185 107l0 6M-2 119l7 1M146 130l6 1M63 134l2 5M142 137l6 2M210 141l-5 0M223 139l0 6M253 132l6 4M301 140l1 4M320 137l-2 5M62 155l-4 5M66 155l0 7M86 153l-2 7M107 155l-1 6M139 152l-4 5M266 157l2 4M288 156l-1 6M14 163l5 1M34 158l2 4M6 172l-4 1M37 170l-1 3M130 168l2 4M181 171l1 3M2 179l3 5M150 182l5 4M215 183l-3 7M101 191l3 7M209 193l3 3M181 207l-3 2M260 200l0 4M304 200l-1 5M204 213l-7 2M236 217l2 4M252 214l-2 4M116 222l3 6M146 220l-1 8M167 221l-3 2M239 222l3 4M179 233l-2 5M7 238l2 5M16 243l1 3M79 237l-2 5M109 242l-3 2M141 241l2 3M153 238l4 3M166 235l-3 7M299 241l-3 6M82 252l-5 3M190 245l4 2M239 250l-4 1M239 248l7 2M6 259l-4 1M261 261l6 2M5 264l-4 2M7 262l-3 6M64 265l-2 7M132 268l-1 3M136 269l5 0M259 264l3 2M301 268l-2 3M-1 272l-3 5M45 269l3 6M113 274l-1 6M166 273l-5 3M268 275l2 2M156 284l3 6M164 281l7 2M39 290l-4 5M105 292l3 1M133 287l0 4M160 290l-6 1M285 287l-3 6M83 299l-1 4M98 297l-2 6M194 301l-6 5M205 303l6 2M31 310l0 5M72 313l-5 1M103 308l3 5M151 304l4 4M178 313l-6 0M263 307l4 1M216 316l8 1M278 314l4 1" stroke="#7072d2" stroke-width="3.0" stroke-linecap="round" stroke-opacity="0.5" fill="none"/><path d="M58 1l2 2M98 3l6 3M156-3l1 3M226 1l3 3M308-6l3 3M12 4l4 3M94 5l-3 1M192 9l7 0M295 5l-6 3M299 5l2 4M124 18l3 5M147 15l-3 2M-5 22l6 4M105 27l4 5M169 26l-4 3M188 27l-8 0M316 24l-6 1M98 31l-2 3M116 33l0 5M193 29l2 3M238 31l6 3M320 33l-4 6M55 41l1 4M250 46l2 3M257 43l5 5M40 53l-4 4M292 52l0 3M104 59l-5 1M139 55l-1 4M39 63l0 5M104 63l4 6M281 67l1 8M136 79l4 4M184 78l-4 2M306 76l-5 3M91 86l-5 3M157 82l-5 3M170 84l5 5M86 95l6 0M97 90l0 7M177 90l-4 3M198 94l6 4M245 93l5 6M1 104l-5 1M12 105l1 5M113 99l-3 1M200 102l1 3M272 99l2 7M35 110l-4 3M98 106l0 8M237 115l-5 0M246 110l-2 3M294 110l-5 2M298 106l-1 4M206 118l-2 4M316 124l8 0M40 129l-3 4M91 129l-2 5M170 130l6 1M203 131l5 2M26 136l3 7M43 136l-6 1M72 135l5 4M134 136l2 3M235 132l-4 3M273 138l-4 1M23 146l-3 4M92 140l4 5M191 151l1 3M205 150l4 4M252 153l4 1M10 164l-3 7M24 163l-2 5M138 164l-4 3M210 165l0 6M241 157l6 4M258 163l-3 5M269 163l2 3M44 168l-1 4M118 174l-2 3M222 166l5 6M242 167l2 3M293 173l1 3M316 175l-4 1M322 173l-5 1M40 174l-1 5M115 177l1 3M218 184l6 2M48 188l4 1M89 191l2 4M107 187l-5 2M47 199l-6 0M57 194l-6 4M93 192l3 4M195 192l4 5M258 200l3 1M284 196l-1 5M96 206l4 2M153 201l-4 4M184 203l8 2M214 208l-2 3M251 203l-4 4M27 217l0 4M32 213l-3 0M84 213l-3 5M320 216l4 2M0 223l-2 4M42 218l-4 2M173 221l-5 3M198 226l4 1M6 226l-2 5M35 231l5 3M58 228l-5 6M80 230l3 5M94 238l-7 1M98 238l-4 1M107 238l6 4M134 240l1 5M197 243l-1 3M3 245l-5 3M9 252l5 2M105 246l-3 3M131 250l-7 3M312 244l0 6M96 253l-1 6M141 258l-4 5M166 258l1 3M198 252l6 5M206 253l0 3M275 255l-2 7M297 258l2 4M320 262l-4 0M150 269l-3 3M179 266l-1 8M268 265l4 4M32 275l-5 5M29 274l7 1M62 273l2 6M133 268l-3 7M149 273l-1 5M188 276l4 3M289 275l-2 5M311 268l1 6M36 278l-2 5M121 282l-3 7M170 280l-5 6M199 283l-5 5M243 279l2 6M249 283l2 4M285 285l-6 2M141 291l2 7M200 294l-3 2M245 287l1 3M263 293l-4 6M1 299l7 3M74 298l3 7M107 298l5 2M118 295l2 8M229 296l3 5M280 297l0 6M286 302l-8 2M289 299l-2 4M304 301l-5 3M14 310l-6 3M14 311l-2 5M224 304l-4 5M273 310l4 5M-2 320l2 4M24 317l5 3M42 318l-7 3M129 314l-2 4M149 314l-4 2M235 319l-2 3M237 316l0 5" stroke="#7072d2" stroke-width="2.0" stroke-linecap="round" stroke-opacity="0.5" fill="none"/><path d="M10-1l5 6M31 0l-1 3M279 2l3 0M26 9l-4 2M120 9l5 0M131 3l3 5M141 5l4 6M315 10l0 6M197 15l7 3M209 20l-1 3M224 12l-6 4M48 26l-4 2M145 26l2 4M156 22l-2 5M215 24l3 3M301 21l-4 4M322 24l2 7M-4 34l0 6M56 33l-1 5M220 34l-3 6M2 43l-5 5M44 42l-3 4M223 39l-3 1M290 37l-3 3M313 43l-4 1M66 54l-4 0M140 49l-2 3M164 51l5 1M197 51l5 6M110 61l4 2M160 57l3 4M259 60l1 4M273 63l-2 3M64 70l5 2M216 67l-3 6M227 62l2 6M36 76l7 0M292 75l3 5M23 88l5 2M79 87l3 6M97 80l-2 4M126 87l-4 1M129 86l7 3M313 87l-4 2M117 89l5 3M241 94l-5 5M313 89l-1 5M72 99l5 3M101 103l3 3M190 104l5 2M264 101l5 2M316 101l5 1M8 110l-4 2M29 111l2 7M67 107l1 5M15 117l8 1M99 120l6 3M171 120l2 4M256 115l-2 5M96 131l-4 3M161 122l-1 5M184 127l-4 4M200 129l-1 4M230 127l-2 3M264 122l1 7M54 133l2 4M288 132l-5 5M14 144l-4 5M132 142l6 3M147 141l3 3M206 140l-3 4M221 141l-7 2M230 142l-4 4M305 147l-7 1M307 143l2 6M10 157l3 2M16 154l-3 5M199 158l3 1M259 155l-6 4M279 152l-6 0M61 160l6 1M86 163l-1 7M99 161l-5 3M294 166l-5 2M29 171l1 8M111 171l5 3M170 170l6 4M279 171l-4 1M39 176l-3 4M53 176l5 3M119 182l8 2M200 178l-2 6M244 182l-3 4M29 185l4 6M166 192l4 0M254 190l-5 5M302 186l3 7M306 187l4 1M120 197l1 6M272 193l1 7M304 196l0 5M12 205l-1 7M82 202l-7 1M130 209l4 0M221 204l5 2M263 201l1 3M284 204l4 5M2 210l-3 7M107 212l-4 3M122 217l-7 1M137 213l-7 2M298 210l-6 4M7 217l0 5M46 226l5 3M252 222l4 0M258 223l-3 6M295 226l2 2M22 233l-3 5M91 232l6 2M216 232l-5 2M222 232l4 0M43 242l-5 2M119 242l3 6M207 241l2 2M38 253l-2 4M44 260l-6 2M61 251l1 6M229 258l1 5M84 268l-7 1M115 262l-3 4M209 266l-1 5M224 268l-4 2M233 264l-6 2M244 264l-4 6M230 269l-4 6M83 285l5 5M179 287l-5 0M301 282l-3 0M314 283l-7 1M40 288l4 4M165 290l-1 4M222 294l4 1M45 295l-4 7M53 308l-4 3M82 309l-3 5M114 310l-1 4M128 307l-3 3M213 303l-5 6M217 308l1 5M173 319l4 6M211 319l0 5" stroke="#7e82d6" stroke-width="3.0" stroke-linecap="round" stroke-opacity="0.5" fill="none"/><path d="M49-3l6 3M113-4l-8 1M168-5l5 2M263 1l-2 2M263-7l1 6M35 9l1 5M59 10l-1 5M165 6l-4 4M180 4l-2 7M187 10l3 4M234 7l2 7M240 2l3 5M246 5l0 5M169 17l-2 3M183 17l-5 1M250 18l2 3M275 19l3 2M85 28l6 5M173 23l-3 4M239 22l4 3M290 21l-6 2M75 28l4 5M83 28l1 5M134 37l3 3M164 31l0 4M255 32l-3 3M314 32l-3 3M32 44l2 4M78 37l-2 7M165 36l-4 6M204 42l-2 6M-5 62l2 5M60 61l2 5M95 60l-2 4M176 58l7 4M260 57l5 2M284 63l-5 2M13 71l7 4M132 71l3 3M175 64l1 7M196 65l0 4M258 69l7 3M270 67l6 1M313 64l4 7M64 78l-7 3M119 77l-2 3M188 74l1 3M286 82l2 6M154 95l-2 6M258 97l7 3M32 99l-5 1M92 102l5 3M142 101l-4 6M255 105l-3 2M282 96l-3 7M74 111l7 0M140 107l-7 2M140 111l5 1M165 108l6 1M248 108l3 5M316 109l3 3M26 119l4 3M90 117l-7 2M115 121l5 3M202 118l-5 1M245 120l6 5M299 120l3 2M309 118l-2 4M18 130l-5 1M124 125l5 3M137 125l1 3M306 129l-1 7M316 125l5 3M90 137l5 6M121 139l-3 2M242 139l-2 4M54 141l3 6M79 146l0 3M169 147l-6 2M186 147l6 3M196 147l-2 3M278 142l2 5M290 143l-4 1M291 141l4 3M321 150l-3 0M81 153l-7 0M173 156l7 1M75 163l0 5M156 166l3 1M163 165l0 5M172 159l1 4M178 160l5 6M221 158l3 4M279 158l-4 3M80 179l1 3M106 181l-1 3M183 178l-5 5M185 184l5 1M207 178l7 4M216 178l-5 0M250 179l3 5M321 174l-4 5M76 189l-4 1M124 189l-4 2M167 187l-1 4M182 185l1 7M209 188l-6 4M268 186l-2 5M274 188l4 3M318 190l0 7M-1 194l-2 5M9 198l-6 4M89 200l3 3M131 196l3 0M166 194l-5 1M173 195l-3 6M228 198l4 6M171 206l4 3M238 208l3 2M29 226l4 0M82 224l4 0M183 218l0 8M195 219l-4 7M205 221l-2 5M62 230l-4 3M64 232l4 3M200 227l-1 6M258 234l5 3M7 234l-6 5M134 241l-3 0M256 239l3 2M40 251l-6 1M60 243l-4 6M153 244l-2 7M199 252l5 1M207 251l-3 1M26 253l6 1M78 257l-1 3M80 260l3 5M120 256l6 3M182 259l-3 2M250 258l-7 1M93 263l1 7M102 268l7 2M246 265l1 6M283 268l-3 3M102 278l5 0M160 272l-3 3M184 273l-5 4M248 275l5 3M302 271l7 3M21 278l1 7M277 277l0 6M294 281l-6 4M109 288l3 1M215 290l-4 4M266 288l7 4M26 302l-3 2M30 298l3 0M68 303l6 3M-1 303l0 7M90 307l-6 3M143 308l0 4M189 303l1 8M196 311l6 1M252 311l-6 3M301 313l3 2M309 306l3 4M88 312l-5 5M164 319l-2 3M298 318l-7 4M300 320l-3 2M324 318l-4 4" stroke="#7e82d6" stroke-width="2.0" stroke-linecap="round" stroke-opacity="0.5" fill="none"/><path d="M47 1l-2 0M148-4l2 1M179 0l-2 1M257 2l1 3M324-3l-3 1M138 10l2 0M251 10l1 3M276 4l1 4M92 20l-2 0M143 18l3 3M187 21l-3 0M278 16l-2 3M94 26l3 0M326 27l-1 3M62 32l2 1M240 37l2 3M48 46l-1 3M73 41l1 2M217 46l4 1M42 56l-3 3M43 54l-1 3M111 51l-1 1M242 51l-2 2M298 56l-2 3M309 54l1 4M305 67l0 1M173 75l-1 3M222 70l-1 0M39 78l0 2M225 83l0 1M278 77l-1 2M41 94l0 2M145 89l-2 1M0 96l-1 1M63 101l-1 2M113 97l1 2M264 97l2 1M302 105l2 0M80 105l-1 1M141 111l1 0M191 108l0 1M250 117l0 1M258 118l-1 2M10 127l0 1M51 131l1 2M182 127l3 0M288 130l3 0M115 135l1 1M171 139l1 0M52 147l4 0M235 146l2 1M259 144l-3 0M82 161l-1 0M273 166l-2 1M320 177l0 1M56 181l-1 1M122 183l-1 3M209 184l-1 0M6 192l0 2M50 190l0 2M142 194l-1 1M284 190l1 1M219 202l2 2M71 212l-3 0M128 213l-2 1M303 215l1 0M4 223l1 3M18 220l-2 1M185 216l0 1M281 221l-2 2M79 225l2 3M133 230l1 1M174 230l1 2M195 229l-1 0M247 227l-2 1M15 243l1 0M285 236l-3 0M90 245l1 3M243 252l2 0M256 255l-2 3M286 257l-1 1M116 264l1 2M126 262l-2 0M173 263l0 1M270 267l2 1M150 277l0 1M276 278l0 2M27 284l-2 1M133 287l-3 1M162 286l1 3M175 283l0 2M265 288l0 1M75 291l-1 1M247 296l-1 3M156 305l-1 2M182 301l-3 0M223 301l2 1M243 302l3 2M-4 314l3 2M145 313l-1 0M25 326l-1 0M204 322l-1 4" stroke="#4446c4" stroke-width="3.0" stroke-linecap="round" stroke-opacity="0.85" fill="none"/><path d="M74-3l2 0M128-2l3 3M158 2l1 2M192 4l-1 0M231-1l1 0M18 9l-1 1M126 4l4 1M184 7l-1 0M222 10l0 1M291 6l-1 3M17 19l2 1M166 17l1 0M241 16l-3 1M17 28l-1 1M37 24l-1 3M133 23l2 1M274 30l-2 0M298 29l2 2M302 25l-3 2M70 34l-1 1M82 40l0 1M111 38l-2 1M181 35l-1 0M198 37l-3 1M96 43l1 2M178 47l0 3M285 44l2 2M4 50l1 1M7 55l0 2M87 56l0 4M122 55l2 0M257 57l-1 3M265 53l3 1M308 52l-1 1M34 61l2 0M69 68l-2 1M139 59l1 1M168 62l-3 2M177 61l1 0M243 62l0 3M322 64l2 2M112 74l-1 1M280 72l0 1M305 71l3 0M9 81l-1 3M87 84l-2 2M185 84l2 0M237 78l-3 0M256 79l3 1M310 79l2 1M2 90l-2 1M9 93l-3 0M30 89l-1 1M85 95l1 0M224 90l0 3M230 89l-1 0M259 91l0 4M32 97l-1 1M54 105l1 0M118 102l2 2M166 96l-2 2M199 98l-2 2M275 96l-1 3M282 98l2 0M16 110l0 2M54 109l0 1M108 111l1 2M170 110l1 1M204 109l4 1M220 106l-1 3M225 111l1 2M316 106l0 3M49 123l-3 0M143 116l-3 2M193 115l3 2M273 119l2 3M307 115l-2 2M321 114l3 2M105 127l-2 1M233 131l-2 1M143 135l0 1M187 134l1 1M203 139l-1 1M99 149l-4 1M187 146l2 2M282 149l0 3M107 159l2 2M123 153l0 2M198 159l0 1M236 156l-2 1M249 154l2 2M297 157l-4 0M9 167l1 2M93 167l1 4M161 165l0 2M283 161l3 3M316 161l-1 1M322 169l-3 2M3 178l-1 3M264 173l2 2M71 180l1 1M80 181l-2 1M103 187l-1 1M147 188l1 1M155 181l-1 2M204 179l1 0M320 186l0 1M17 193l2 1M63 191l-1 1M123 193l0 1M253 194l-3 1M278 188l1 3M302 197l2 1M37 198l1 3M73 198l0 1M184 205l2 1M207 197l-2 3M104 214l-2 2M144 208l3 2M267 215l-1 1M43 221l-3 1M133 217l-1 2M173 224l1 1M195 225l-1 1M199 220l0 1M251 223l-2 1M313 223l1 0M291 228l1 1M327 231l-2 1M80 240l-2 2M194 240l-2 2M228 234l0 2M257 237l-1 1M291 238l0 1M309 241l1 1M60 252l3 0M151 244l1 1M227 247l-2 2M314 247l1 1M33 270l1 2M65 264l-1 1M147 268l3 2M207 269l-2 3M274 270l2 1M312 264l2 2M48 277l3 3M233 278l-1 1M239 271l-1 3M141 287l3 0M157 282l-1 2M203 283l1 2M282 286l3 1M190 292l-3 2M196 296l1 1M256 295l-1 2M312 297l0 4M107 300l0 1M196 299l3 0M204 302l4 1M258 306l-2 2M51 308l0 2M86 316l-1 2M163 313l0 4M319 311l-2 2M-1 322l-2 2M86 323l-1 0M99 317l0 1" stroke="#4446c4" stroke-width="4.0" stroke-linecap="round" stroke-opacity="0.85" fill="none"/><path d="M26 1l2 1M91-6l2 3M266 3l2 0M76 11l3 0M304 10l-1 3M53 29l-2 2M86 27l0 4M125 39l4 0M135 34l1 2M3 45l-1 1M10 42l0 2M181 49l-1 2M309 47l1 1M27 54l1 3M94 50l0 2M244 52l1 2M93 60l-2 1M146 62l-3 0M213 63l0 2M10 70l1 1M103 71l-2 1M182 75l2 3M101 81l1 1M155 80l0 3M249 80l-2 0M265 93l-1 0M127 102l-2 3M94 114l-1 1M211 107l2 1M149 116l1 2M183 116l1 3M63 128l0 4M241 126l-3 1M28 133l3 2M56 142l-4 0M70 135l-1 4M86 139l0 3M130 137l-2 2M136 133l3 2M226 138l-1 1M141 149l3 1M155 147l-2 3M208 149l-1 0M230 147l-1 2M273 159l1 3M69 177l-1 4M115 178l0 2M247 178l-2 1M83 195l1 2M94 200l0 1M98 203l-2 3M148 203l3 1M236 206l-3 1M239 206l2 0M262 198l-4 1M180 210l0 1M233 211l1 3M243 207l1 2M288 214l-1 3M308 211l3 1M26 220l-1 3M258 218l3 0M142 229l0 1M165 233l2 3M79 241l-2 1M112 236l-2 1M280 251l-1 2M145 260l-1 1M176 255l1 2M184 253l-2 3M279 256l1 3M79 276l1 1M190 279l-1 1M270 277l-3 1M293 274l1 1M117 296l-1 1M308 289l0 2M22 302l-2 2M30 304l-1 0M51 305l0 4M27 315l-1 3M205 309l2 1M140 324l-1 1M228 323l2 1M247 325l-1 0" stroke="#5052c8" stroke-width="3.0" stroke-linecap="round" stroke-opacity="0.85" fill="none"/><path d="M38-4l1 0M56-3l2 1M111-4l3 1M220 4l0 1M271 1l3 1M296-1l-2 3M4 9l-1 4M92 10l1 0M177 11l-1 1M40 18l0 2M158 15l0 2M246 13l1 3M267 20l-3 1M297 16l0 3M325 21l-1 4M-4 25l-1 0M28 23l-1 2M59 25l2 2M68 22l3 1M101 28l1 1M141 27l3 1M240 23l0 1M23 33l1 1M45 40l-2 2M226 31l2 3M276 36l3 1M162 58l1 1M26 67l-4 0M45 60l-1 1M109 62l2 3M134 62l-2 2M160 65l1 1M271 65l-2 2M29 73l-1 0M49 72l1 3M60 77l1 1M97 73l-3 1M200 74l1 1M23 78l0 2M54 80l-2 1M111 84l1 1M133 77l-2 3M179 81l-1 2M199 83l-2 1M61 91l3 2M313 89l0 3M182 98l1 3M211 98l0 3M222 97l-2 3M252 102l0 2M38 112l-1 4M43 110l1 2M66 111l2 3M67 114l-1 1M72 120l-1 0M118 118l-1 4M132 115l0 1M198 119l2 0M234 118l0 2M237 115l2 1M50 127l-1 3M76 129l1 1M130 128l-2 1M177 124l-2 3M307 132l-1 2M38 138l2 0M152 139l1 1M208 139l2 1M261 141l3 2M283 142l-2 1M72 149l2 2M299 150l2 0M318 142l-2 3M125 154l0 2M174 159l-1 1M187 152l0 0M202 157l0 2M285 154l-1 0M308 152l0 2M29 169l-2 1M60 162l-2 1M116 164l0 2M198 166l-2 1M247 161l-2 3M116 171l3 2M136 170l-2 2M284 178l2 2M88 184l1 2M176 182l0 3M302 188l-1 0M39 191l1 3M95 193l3 2M148 190l1 3M194 195l-2 0M219 192l1 3M263 193l0 1M327 196l-2 3M9 197l3 2M298 198l0 2M38 212l-1 0M86 207l-3 3M161 209l2 0M196 210l-1 0M223 212l-1 1M262 209l-1 1M271 223l-1 0M14 226l1 0M99 232l-1 1M118 233l-1 1M269 229l1 1M299 228l0 4M318 230l-2 0M29 238l1 1M124 239l-2 2M127 237l-1 1M239 237l2 3M49 251l2 2M252 245l-3 1M283 244l-1 2M43 254l-1 0M113 254l-1 2M116 255l3 1M137 260l-1 1M159 252l3 2M242 260l2 0M314 255l-1 0M6 266l1 3M107 270l-1 0M169 264l1 0M185 267l1 0M247 271l0 1M153 279l1 1M62 283l-2 1M87 282l2 2M148 280l-2 2M184 287l-2 2M234 289l2 0M263 281l-1 3M314 283l0 2M6 290l-1 3M82 292l1 1M239 293l3 1M273 291l-1 1M288 292l-3 1M4 299l-1 2M13 300l-2 0M36 300l3 1M89 306l0 3M272 299l0 0M292 302l-2 0M316 304l1 0M6 310l-2 1M99 311l2 3M111 312l0 0M137 311l1 0M196 309l-3 1M252 310l-2 2M282 312l-1 1M302 312l-1 1M129 324l-1 1M150 326l-1 0M196 316l1 2M215 325l-1 3M266 323l0 1M279 321l1 2" stroke="#5052c8" stroke-width="4.0" stroke-linecap="round" stroke-opacity="0.85" fill="none"/><path d="M5-1l-1 2M133-4l1 4M165 9l2 3M209 5l-1 1M267 5l-1 1M288 9l1 0M57 18l-2 0M132 26l-3 2M287 24l-1 3M-2 38l-3 2M9 36l0 1M106 58l-1 1M144 52l-1 0M186 53l0 1M193 55l-2 0M207 52l2 3M321 53l-3 2M250 62l3 0M278 61l-3 1M33 77l0 1M57 72l2 3M72 76l-2 2M134 68l-2 3M79 85l-2 2M267 86l3 2M284 86l-2 0M107 89l1 0M122 94l-1 3M248 90l-1 1M73 102l2 1M93 97l-1 1M140 97l2 1M29 109l0 2M102 109l2 2M169 108l-2 1M243 112l2 3M301 112l-4 1M89 122l0 1M89 125l0 1M252 127l-1 0M256 127l-1 2M297 127l2 0M230 134l2 3M281 139l-2 0M323 138l-3 0M47 151l1 1M121 142l-3 3M22 155l1 3M97 155l-1 0M327 159l-1 1M142 166l-2 1M214 167l1 2M308 161l0 1M149 171l1 3M223 174l-1 2M235 173l2 0M131 195l-1 0M210 188l-3 3M171 201l0 2M191 203l1 3M327 203l-1 0M3 213l-1 1M28 207l0 2M217 211l-3 0M276 215l2 1M292 215l3 3M41 233l3 2M303 235l-1 0M322 240l1 2M158 248l1 0M167 244l2 2M186 251l3 3M30 254l-2 3M131 253l4 2M318 253l1 1M95 263l-1 1M194 261l-2 3M295 268l-1 2M67 275l1 1M187 272l-1 3M201 272l1 3M221 282l0 1M143 297l-2 0M161 292l-1 3M235 293l-1 1M64 307l2 1M84 300l1 1M326 302l0 3M180 313l3 1M260 313l0 2M294 308l0 1" stroke="#5c5ecc" stroke-width="3.0" stroke-linecap="round" stroke-opacity="0.85" fill="none"/><path d="M22-5l2 2M68 1l-2 2M163-1l1 3M29 7l4 1M84 8l0 2M234 6l1 2M5 16l1 4M74 16l0 2M80 18l0 0M108 19l1 0M123 23l4 0M173 22l-2 1M302 18l-2 2M8 28l1 2M120 24l-1 1M171 28l2 3M206 29l2 1M234 25l1 0M36 34l1 1M162 31l1 2M221 37l-3 2M266 39l-1 2M120 41l0 4M160 44l2 1M163 43l0 1M231 48l2 1M320 43l1 0M273 55l-3 0M284 53l1 4M223 60l2 2M286 68l-1 0M15 71l3 0M156 75l-2 1M306 78l1 1M183 93l-1 1M199 89l-2 1M214 92l-4 0M7 109l0 1M122 106l-1 1M127 113l-1 1M266 111l0 1M286 114l-2 1M-4 115l0 3M266 117l1 0M290 118l-2 2M158 130l1 2M161 130l0 1M324 127l-2 1M44 138l3 2M112 133l0 1M193 133l-1 2M242 134l1 3M303 137l-1 0M127 147l1 1M8 159l3 0M35 156l-1 2M78 160l0 2M101 166l2 1M174 167l-2 1M215 160l3 3M35 172l2 2M162 177l0 3M198 179l-3 0M300 172l3 3M40 184l-1 1M69 179l-1 3M276 179l2 0M100 189l-1 0M184 187l1 4M292 196l3 1M1 199l-1 2M52 203l-1 0M60 198l0 1M120 199l-1 2M141 204l-2 2M156 206l0 2M271 204l-2 1M278 204l-1 0M313 201l0 2M10 210l0 2M49 208l-2 1M87 217l0 2M99 224l-3 1M153 218l-1 1M215 223l0 2M307 218l2 3M24 232l1 0M77 230l0 3M109 230l-1 0M145 225l3 3M242 229l1 0M279 228l1 1M34 237l3 1M152 238l0 1M171 236l0 1M245 235l2 0M17 252l0 2M137 245l3 1M194 247l0 1M263 250l-1 0M322 248l3 1M74 258l-3 0M200 260l-3 0M221 256l-1 2M249 261l0 1M-1 267l-4 0M27 263l-3 1M45 263l0 1M211 265l-1 1M229 263l1 0M235 270l0 1M5 271l3 2M17 278l-1 1M32 273l2 3M106 277l0 1M120 280l2 1M131 278l-1 1M214 277l2 2M60 280l-1 3M117 287l2 2M192 284l1 2M235 282l-2 3M277 287l0 1M291 286l3 2M15 292l-3 1M66 295l0 2M171 297l-1 0M208 291l3 2M222 293l-3 1M323 291l-1 3M127 302l-3 1M306 301l-1 0M132 312l2 3M12 322l-1 1M38 324l0 1M56 326l1 1M60 321l0 3M88 317l1 2M308 323l2 2" stroke="#5c5ecc" stroke-width="4.0" stroke-linecap="round" stroke-opacity="0.85" fill="none"/><path d="M0-1l2 1M14 3l-1 1M23 0l0 1M31-1l-1 1M38-3l-1 2M46 2l1 1M50 1l1 1M65 0l-2 0M65 3l-1 2M77 2l2 1M86-2l1 2M95-1l0 1M95-1l1 1M104-2l1 0M116 0l-1 0M125 3l1 1M128 3l2 0M138 3l1 0M147-4l-2 2M150 0l-2 2M158 3l0 0M167 2l1 1M177 0l0 2M182-3l-2 1M200-4l1 2M205-1l1 1M210-2l0 1M224-2l0 1M224 1l1 2M234 0l0 1M245-4l0 2M251 2l1 1M260 2l-2 2M264-4l-2 1M271 0l-2 0M291-4l1 1M293-3l0 1M321-1l1 2M6 7l1 1M18 5l1 2M21 5l2 0M30 7l-1 0M36 11l-2 1M42 5l1 0M62 5l2 0M71 8l1 1M77 11l-2 1M82 9l-1 0M88 9l1 0M100 6l-1 2M109 8l0 1M118 7l-1 1M145 6l-1 1M150 10l-1 1M160 11l1 0M164 9l-1 1M174 5l1 1M179 7l0 2M192 11l-2 0M195 6l-1 0M204 9l0 1M212 8l0 1M219 10l-2 0M231 6l1 1M235 5l0 1M249 5l1 0M258 9l-1 0M265 6l-1 0M284 8l-2 0M291 6l0 1M298 8l-1 0M307 6l-1 0M313 4l0 1M318 7l0 1M-3 12l2 1M8 17l-1 0M12 15l1 2M33 12l1 1M38 11l-1 1M48 12l1 1M51 13l1 1M62 16l-2 1M69 14l2 0M87 17l0 1M94 11l-1 1M102 13l1 1M102 17l0 2M117 16l0 1M124 15l-2 0M131 17l-2 1M135 16l1 1M153 16l-1 1M163 17l0 2M168 14l1 2M179 13l-1 1M180 17l-1 1M202 19l2 1M216 17l1 1M218 14l-1 0M226 14l2 1M244 15l-1 1M249 17l1 2M255 17l-1 0M284 15l-2 0M297 15l-2 0M306 12l2 1M308 16l0 2M-3 25l0 1M9 20l2 1M11 25l1 0M26 24l0 2M37 20l1 0M43 25l2 2M62 18l0 3M71 21l-2 1M77 26l-2 0M94 24l1 1M102 22l1 1M102 26l1 0M114 21l-2 1M120 19l-1 0M135 20l1 0M143 24l1 1M148 21l1 1M161 22l-1 1M172 23l2 0M181 23l-1 0M189 19l1 1M201 24l1 0M207 24l0 2M215 25l0 1M221 23l1 1M227 20l1 1M237 20l-1 0M243 21l-1 2M254 23l0 1M272 24l-1 1M281 20l1 2M290 25l0 1M300 21l0 1M303 22l1 1M315 25l2 0M3 26l1 2M7 33l1 0M13 28l-1 1M24 28l-1 1M34 28l1 2M47 34l1 0M52 28l2 1M61 27l-2 1M79 26l0 2M84 31l1 2M90 27l-2 2M101 33l-1 1M110 28l2 2M122 29l-1 1M133 27l1 2M146 32l-2 2M168 29l-2 0M174 27l-1 2M194 27l-2 1M204 26l0 1M211 31l-2 1M225 33l-1 0M231 31l-2 2M242 32l1 2M254 26l1 1M257 29l-2 0M284 34l-2 1M300 28l1 2M311 33l1 1M320 30l0 2M-2 40l1 0M8 36l1 1M27 39l0 1M38 38l0 2M44 38l-1 1M51 35l-1 2M59 38l-2 1M80 36l-1 0M82 38l-1 1M90 38l2 1M100 41l-1 1M106 38l2 1M112 40l-3 0M120 39l1 2M127 36l2 1M137 41l1 0M146 40l-1 1M152 38l-1 0M157 40l2 1M176 41l1 1M183 38l-1 1M191 33l0 2M196 41l1 1M220 39l-1 0M237 35l0 1M241 38l0 1M249 36l-1 1M261 40l1 1M269 36l0 2M276 36l-1 1M279 39l-1 1M286 39l1 0M305 34l2 2M310 36l-2 1M322 39l0 2M1 46l-1 0M8 49l0 1M15 41l0 2M26 44l-2 0M35 45l2 1M46 49l2 1M53 42l1 1M71 47l0 2M73 45l0 1M91 46l0 2M100 44l-2 1M103 49l-1 1M114 42l0 2M120 43l-1 0M132 44l1 0M138 44l0 2M146 43l-1 0M160 43l-1 1M164 42l1 0M171 44l1 1M181 44l1 1M188 49l-1 0M198 43l0 2M205 42l-1 2M213 43l2 1M218 45l0 1M224 45l2 2M237 48l-2 2M245 49l-1 1M259 41l-2 2M265 43l-1 2M272 47l0 2M281 48l-2 1M288 45l-1 2M295 44l0 2M308 46l-1 2M311 42l0 1M-3 55l0 1M9 51l1 2M27 50l-1 1M27 54l1 2M39 53l2 0M57 53l-1 1M59 56l-1 0M68 56l3 0M87 50l-1 2M92 55l-1 1M101 53l-1 1M106 51l0 1M112 52l-2 0M132 56l1 2M135 56l1 1M156 52l-1 1M159 53l1 1M170 54l2 1M174 54l0 1M181 53l-2 1M194 54l2 0M202 52l0 1M216 55l0 1M218 53l1 0M231 55l-1 2M239 57l-3 1M244 50l-1 0M249 52l1 1M260 55l1 1M270 56l-2 1M273 54l-1 1M279 54l-1 1M292 55l-1 1M294 54l2 0M315 49l0 1M323 52l-2 1M4 62l-2 1M3 62l2 1M16 58l1 1M25 57l-2 1M32 61l0 1M42 63l-1 1M46 62l0 2M55 64l-1 0M57 60l1 1M66 61l-1 2M75 59l1 0M88 59l0 2M97 61l1 0M111 61l-1 1M123 57l0 2M131 63l1 1M138 62l-2 0M148 61l1 2M159 63l2 0M164 60l1 1M172 60l0 1M183 61l1 1M194 61l-1 2M197 56l0 2M209 57l1 2M230 64l-1 1M235 60l1 2M242 64l-1 1M251 60l1 1M255 59l0 1M266 64l-1 0M272 57l2 1M279 61l0 1M290 61l-1 0M301 59l2 1M309 57l1 2M319 59l0 1M-4 71l2 0M7 67l-1 0M18 71l-1 2M24 66l1 2M28 70l1 0M35 65l-1 0M46 65l0 1M55 70l0 0M58 66l0 1M69 68l0 2M80 68l-2 1M85 71l1 2M90 69l1 1M107 66l1 1M120 69l-1 0M131 66l2 1M135 64l0 2M146 66l-1 1M149 68l1 2M169 71l-2 1M173 64l0 2M179 69l-1 0M198 64l1 1M209 65l-1 1M222 65l1 1M224 66l1 1M238 69l1 2M253 66l1 2M262 70l1 0M289 70l-1 2M297 66l0 2M303 71l2 1M313 69l2 0M321 71l2 0M2 76l-1 2M5 75l-1 0M20 76l-1 1M30 77l0 2M47 74l-2 1M54 78l1 1M57 77l1 0M70 75l-1 0M77 73l1 1M87 80l1 0M108 73l-1 0M121 78l-1 1M132 78l-2 1M135 76l-2 1M148 79l-2 0M157 75l1 2M172 76l1 0M180 73l-1 1M197 75l0 2M206 74l0 1M223 77l0 2M228 79l0 1M236 73l-2 1M257 75l1 2M270 76l0 2M271 77l-2 0M279 73l0 1M294 78l1 1M303 78l0 3M310 76l2 0M12 80l-1 0M23 81l1 1M41 82l-1 0M46 81l-2 1M50 86l1 2M64 85l2 1M70 82l1 0M77 79l-1 2M85 82l-2 2M93 82l-1 2M100 84l2 0M109 83l-1 0M115 80l-1 1M124 82l-1 1M141 80l-2 0M143 82l2 1M155 85l0 1M167 85l-1 0M182 83l-1 1M196 86l-1 1M206 84l-2 0M217 82l2 2M228 86l-1 1M235 87l1 0M240 85l0 2M249 83l2 0M267 87l0 1M283 81l-2 1M290 82l-1 0M301 80l-1 1M312 84l2 0M319 80l1 1M-1 88l2 0M12 89l-1 1M18 94l-2 0M33 90l2 0M57 87l-1 1M66 90l-1 0M77 88l0 1M81 93l1 0M89 90l0 1M109 88l1 2M116 91l1 2M119 87l-1 1M129 91l1 0M134 88l0 1M143 88l2 1M154 88l0 1M162 89l1 2M164 92l1 0M178 92l-1 2M186 90l0 1M200 93l1 2M203 92l1 2M213 93l-2 1M230 93l2 0M234 88l-1 0M242 94l2 1M248 94l2 0M256 88l-1 2M269 91l-2 0M270 87l-1 2M287 89l2 0M300 93l1 0M322 94l1 1M0 95l1 1M10 94l-1 2M17 97l-1 0M19 95l0 2M28 98l-1 0M35 100l2 1M48 101l-1 0M54 96l0 2M64 102l2 1M78 96l-1 1M81 97l-1 1M93 100l1 0M97 97l-1 1M108 99l0 3M129 102l-1 0M140 100l0 2M146 95l1 2M155 99l1 2M158 101l0 1M167 95l1 2M180 99l-2 0M186 98l2 1M205 100l1 1M221 99l0 1M236 96l0 2M245 100l1 1M248 97l0 2M259 98l-1 1M269 96l1 1M276 102l-1 0M283 101l1 2M287 100l0 2M304 96l0 1M312 98l-1 0M317 98l-1 0M1 104l-1 2M11 103l-2 2M14 103l-1 2M19 107l1 1M33 108l-1 2M42 108l0 1M47 105l2 1M55 106l0 1M62 108l1 1M68 107l-1 0M74 106l0 2M83 109l0 1M92 104l0 1M95 106l1 2M117 108l1 2M136 104l0 1M142 108l-2 0M153 105l-1 2M161 108l0 1M165 104l1 2M172 103l-1 1M193 109l2 1M194 107l0 1M204 108l-1 1M214 108l1 1M216 106l2 1M239 108l-2 0M247 107l-1 2M252 108l-2 1M257 108l0 1M266 109l-1 1M271 106l0 1M285 106l0 1M295 103l0 2M307 109l-1 1M311 104l-2 1M323 104l0 1M0 115l2 1M11 110l0 1M18 113l-1 1M19 114l1 0M29 112l-2 0M43 115l0 1M52 111l0 2M59 113l0 2M65 117l1 0M75 111l2 0M79 117l1 2M93 114l0 2M102 111l2 2M104 116l-1 2M115 110l-1 2M125 110l0 2M126 111l1 0M136 113l1 2M151 111l2 1M157 111l2 1M164 114l1 1M178 117l1 0M181 116l-1 2M202 117l0 1M215 112l-1 2M227 117l0 1M237 114l-1 1M246 110l0 2M253 112l-1 1M263 116l-1 1M281 116l-1 1M287 110l1 2M297 111l1 2M304 112l0 1M312 112l0 1M-1 120l2 0M9 119l1 1M27 124l2 2M36 123l-1 1M43 124l-1 2M53 117l1 2M74 124l1 0M80 123l1 1M95 120l-1 1M102 125l0 0M108 122l1 1M133 123l1 1M145 122l-1 0M154 118l-1 1M157 122l1 1M164 122l1 2M187 120l-2 1M190 121l1 1M198 120l-1 1M209 119l-1 2M224 122l-2 0M231 120l0 1M242 124l0 2M255 119l1 1M267 118l0 2M291 123l1 2M297 120l0 2M303 122l2 0M313 121l0 1M316 123l0 1M-1 127l-1 2M8 131l-2 1M13 127l0 1M29 126l1 1M33 126l2 1M47 125l-1 0M58 131l-2 1M64 129l-1 0M71 132l0 1M79 127l1 1M86 126l-2 1M93 130l-1 0M107 130l-2 2M116 132l-1 0M123 131l0 1M130 127l-1 0M134 125l1 2M151 129l1 1M160 128l-2 1M165 132l1 1M178 127l-2 0M179 132l0 1M190 127l1 1M196 127l0 1M208 128l0 0M217 126l-2 1M238 126l-2 0M241 130l2 1M261 131l1 1M277 125l0 1M287 125l-1 2M293 132l0 2M300 126l1 1M314 131l1 2M318 126l0 1M1 134l1 1M10 137l0 1M14 139l1 2M22 136l0 2M30 139l0 1M41 135l0 1M64 134l1 2M66 133l0 1M74 138l0 2M84 137l1 1M90 139l0 1M99 133l-1 1M108 139l-1 1M114 135l2 0M118 139l1 1M128 137l2 1M151 134l-2 2M165 135l0 2M175 139l-1 2M201 135l-1 1M209 134l0 3M217 136l-1 2M224 134l1 2M236 135l0 1M240 137l1 2M253 137l2 2M268 134l1 1M279 139l1 0M296 136l-1 0M305 136l-1 1M315 137l2 2M13 147l0 1M24 142l0 1M32 140l-1 1M42 142l1 2M55 146l1 1M61 147l2 1M67 143l1 0M75 145l-1 1M84 141l1 1M96 147l1 0M114 141l1 2M121 142l0 1M135 147l2 2M153 146l-1 0M162 145l0 1M170 145l-1 2M171 147l0 2M189 144l-1 2M196 143l1 1M214 145l-1 1M229 147l-2 0M238 146l-1 1M245 147l-1 1M254 148l0 1M260 143l2 1M267 143l2 2M277 144l-1 0M279 141l1 0M292 144l0 1M295 143l-1 1M307 140l-1 1M310 144l-1 1M318 141l-1 0M-4 154l0 1M6 152l-1 1M18 153l1 0M23 154l0 2M27 153l1 1M62 154l-1 1M76 154l0 2M83 148l0 2M91 148l-2 0M96 150l2 1M104 154l-1 1M115 150l2 2M123 152l-1 0M133 152l-1 0M139 151l0 2M141 150l-2 0M149 152l0 1M164 154l-2 0M170 154l2 1M177 148l-2 1M185 150l2 1M187 150l-1 1M198 153l1 1M212 149l2 1M217 154l-1 1M227 152l2 0M239 153l-1 2M242 150l-2 2M255 150l0 1M273 151l0 2M288 153l-1 0M305 153l2 1M318 153l-2 1M8 157l0 2M14 160l2 1M25 160l1 1M33 160l-2 1M51 159l-1 1M58 161l1 2M66 160l-1 1M77 159l2 1M91 161l0 2M106 161l-2 1M115 160l-1 1M122 160l-2 1M139 157l2 1M147 156l0 1M148 160l2 1M157 157l-1 2M170 160l1 0M173 156l0 1M184 157l-2 0M189 158l1 0M195 156l0 1M213 162l-2 1M220 158l-1 0M231 155l0 3M236 158l0 2M242 160l0 2M247 162l2 1M257 161l2 1M271 160l-1 1M285 160l-1 0M294 161l1 1M300 160l2 2M315 156l0 1M320 159l0 1M20 164l-1 0M35 165l-1 0M41 166l1 1M46 167l-2 0M55 170l1 1M59 164l2 2M70 170l0 1M73 164l1 1M86 169l-1 0M95 165l-2 0M112 166l-1 1M124 166l1 1M131 170l0 1M134 166l1 2M146 170l0 1M153 168l2 1M156 170l1 0M166 169l0 1M178 165l1 0M185 167l0 1M196 168l1 2M202 170l1 1M217 169l-2 1M232 167l-1 1M242 169l0 1M249 168l2 1M271 168l1 1M280 165l-1 1M287 169l-1 2M301 170l2 1M323 170l0 1M0 171l-1 1M4 171l2 0M22 174l-1 2M29 175l-1 1M39 176l0 1M53 178l-1 1M61 176l-1 0M68 177l2 1M74 178l1 1M83 173l0 2M99 173l-1 2M113 176l-2 1M118 172l2 2M130 171l1 0M145 178l-2 0M151 177l1 0M162 178l-2 0M173 175l-2 1M184 173l0 1M205 173l-1 2M214 176l0 1M220 176l1 2M235 177l1 0M245 176l1 1M254 175l-1 1M257 173l0 1M267 173l0 2M275 175l-2 1M278 171l1 2M287 175l1 0M297 173l-2 0M304 177l0 1M312 172l-1 2M320 174l-1 1M2 182l0 2M8 183l0 1M23 186l-2 0M29 184l-2 1M47 185l-1 2M52 185l2 1M63 183l-1 1M66 184l-1 0M81 181l0 1M92 182l1 1M105 179l1 2M117 178l-2 2M131 180l1 2M139 178l-1 2M148 183l0 1M166 180l-2 1M173 182l-1 1M185 180l-1 2M188 181l2 0M197 183l-1 1M203 181l-1 2M227 185l1 1M236 179l0 1M244 178l1 1M252 182l-2 1M273 182l2 0M285 179l-1 1M287 184l-2 1M300 185l0 1M301 184l1 1M312 183l0 1M316 178l0 2M4 192l-1 0M6 189l-1 0M15 192l-1 1M24 193l0 1M28 188l0 1M49 188l0 2M51 187l2 1M61 193l-2 2M67 187l0 1M75 187l2 1M86 192l2 1M89 192l-1 2M97 187l1 1M105 192l0 1M118 188l0 1M122 191l1 1M126 191l0 2M134 189l-1 0M146 193l1 0M151 189l1 2M162 188l0 1M168 186l2 1M172 192l1 0M179 190l1 1M192 186l1 1M198 188l1 0M204 192l0 1M210 186l0 1M223 187l2 0M239 191l-1 1M241 186l-2 1M248 188l1 1M258 187l-2 1M269 186l1 2M270 192l2 2M300 187l-1 1M304 191l-2 1M320 189l1 1M2 197l1 1M9 200l-2 1M17 198l0 1M20 197l1 1M31 200l1 2M41 198l-2 1M55 200l1 0M71 198l-1 1M79 199l-1 1M88 200l-2 0M91 198l-1 1M107 199l-1 2M112 195l1 2M128 194l-2 1M147 200l0 1M149 197l1 1M164 197l-1 1M173 197l-1 1M181 200l1 2M187 197l-1 1M196 197l-2 1M230 194l-1 1M239 199l-1 2M248 200l1 1M257 194l1 0M268 195l0 2M270 198l2 0M279 200l0 1M288 197l-2 0M297 194l-1 1M301 197l1 1M2 206l2 1M6 204l-1 1M18 200l1 2M20 205l1 1M37 205l0 1M62 202l0 3M68 204l-2 1M80 201l-1 2M88 202l2 2M100 209l1 1M109 202l0 2M113 205l0 1M118 203l2 0M137 205l-2 0M146 201l-1 2M148 207l1 0M170 205l0 1M183 203l1 1M189 206l-1 2M204 202l1 1M209 202l0 1M222 203l-1 1M226 201l0 1M234 208l-1 1M244 205l-1 1M246 207l2 1M259 208l-2 1M276 208l1 0M299 203l-2 1M307 206l-1 0M315 208l-2 0M-3 211l-2 0M12 216l-1 0M13 212l1 1M32 212l0 1M36 209l-1 2M48 214l-2 0M51 210l1 1M62 211l-2 1M67 215l1 2M75 213l0 1M81 211l-1 1M95 213l-1 2M101 209l-1 2M105 216l0 2M122 211l-1 0M136 211l-1 2M142 212l0 1M155 214l-2 1M162 212l2 2M167 212l0 1M176 213l1 2M178 212l1 1M190 210l0 2M194 208l0 2M203 215l2 1M217 212l1 2M229 210l-2 0M234 210l0 1M251 209l-1 1M256 211l0 2M269 211l-1 1M269 211l2 0M291 209l-1 1M306 213l-2 0M308 213l0 2M-4 218l1 2M6 218l2 0M21 221l-1 1M28 222l0 2M35 224l-1 0M43 217l-1 0M49 217l0 2M57 222l0 2M70 222l1 1M75 223l2 0M80 223l1 1M88 218l1 1M96 221l2 1M117 217l-1 1M122 220l1 0M127 222l1 2M141 223l-2 0M153 216l0 3M163 218l-2 0M166 219l-1 1M178 223l-1 1M181 223l-1 1M190 216l0 1M199 219l0 2M216 217l-1 1M226 218l1 2M235 221l-2 0M241 221l0 2M248 220l0 2M257 217l1 1M264 223l0 1M273 217l0 2M278 224l-1 1M291 218l2 2M293 222l0 1M321 221l-2 0M14 226l2 1M25 229l-2 1M38 229l-2 0M48 229l-2 0M65 230l-2 0M71 230l0 1M76 225l1 1M85 231l-1 1M98 227l2 1M111 225l-2 1M127 228l1 0M134 229l2 2M145 229l1 1M157 230l-1 0M172 228l1 1M185 229l1 1M192 224l0 1M210 230l0 1M219 227l-1 0M227 228l0 1M240 225l-2 0M241 230l-1 1M249 231l2 1M268 231l1 1M277 229l2 2M291 231l1 0M300 226l-1 1M304 230l1 0M313 226l-2 1M316 227l1 1M-4 233l1 0M8 233l0 1M18 239l-1 0M26 233l0 1M28 232l-1 2M47 236l1 1M69 233l-1 1M78 235l2 0M93 231l-2 1M97 239l1 0M109 234l-1 0M111 234l-1 1M120 238l-2 0M126 232l0 1M155 238l-1 2M163 234l0 2M170 235l0 1M178 233l1 1M179 236l0 2M194 235l1 0M216 234l2 0M244 232l1 1M254 238l1 2M259 234l0 1M266 239l-2 0M282 234l-1 1M288 236l-1 1M296 234l-1 2M306 238l2 0M312 233l-1 2M321 237l0 1M-2 242l-1 1M18 241l1 0M24 242l1 2M28 242l0 1M41 246l-1 1M42 245l0 1M54 244l-2 1M81 246l-2 0M92 243l1 1M97 246l-1 0M106 240l-1 0M113 245l1 1M130 246l1 1M135 239l1 2M141 245l2 0M160 243l2 2M167 239l1 2M176 239l1 1M181 240l-1 2M188 242l0 1M194 243l0 1M208 244l1 1M212 245l-1 1M223 244l0 1M227 243l1 1M233 243l0 1M240 247l1 1M253 241l-3 1M263 246l1 1M274 240l0 1M285 241l-1 1M306 246l-2 0M313 245l0 1M321 246l-2 1M1 252l-1 1M5 252l2 2M23 250l-1 1M30 250l2 0M37 247l0 1M45 250l-1 1M54 253l-1 1M56 249l1 0M64 252l1 0M79 253l1 1M85 249l2 0M89 254l-2 1M98 252l1 2M110 247l-2 1M119 249l2 1M135 253l2 0M141 249l1 0M154 251l0 2M158 254l-1 0M167 254l-1 0M173 252l-2 1M189 248l-1 0M213 251l1 2M226 251l-1 2M237 250l0 2M243 248l0 1M267 250l0 1M289 250l1 2M299 252l1 1M301 251l-1 0M314 252l1 0M4 260l-1 0M17 255l2 0M20 257l1 1M48 258l1 2M57 259l-1 0M61 259l0 1M66 259l1 2M73 257l1 1M83 254l0 2M94 261l0 1M104 260l0 1M117 259l-1 2M124 260l0 1M131 259l-1 1M133 256l1 2M153 260l1 0M158 257l-2 0M166 258l1 2M191 255l2 1M196 258l-2 0M205 254l-1 1M210 254l-2 1M228 258l-2 1M233 260l1 1M250 258l1 1M258 259l2 1M266 255l1 1M271 260l0 1M283 261l-1 0M287 261l-1 1M305 260l1 0M321 260l-2 1M7 266l-1 0M11 263l1 1M24 264l0 2M29 264l0 1M36 262l0 1M48 264l1 0M50 264l1 1M65 264l-1 1M70 265l0 1M77 268l-1 1M81 262l-1 2M95 265l-1 1M105 262l-1 0M111 263l0 3M121 266l1 1M128 265l-2 1M137 268l2 1M147 267l1 0M149 262l0 2M158 267l1 2M166 264l2 0M181 264l-1 1M190 263l1 0M194 266l0 2M205 265l-1 2M217 267l-2 1M223 266l0 2M226 262l0 1M234 268l-1 0M246 266l0 2M253 265l-1 1M260 269l0 1M262 268l2 1M272 268l1 1M294 266l0 1M312 267l1 0M321 264l-2 1M4 271l1 0M12 274l-1 1M27 270l2 0M35 276l-1 1M48 277l-2 0M50 269l1 1M60 272l-1 0M70 269l1 2M79 274l2 2M85 270l0 1M88 274l1 0M96 276l-1 1M118 277l0 1M125 276l-2 1M126 271l0 1M144 276l-1 1M149 274l0 1M159 274l1 0M176 270l-1 0M179 275l0 2M191 276l2 1M197 274l-1 2M212 276l-1 0M234 272l2 1M244 275l-2 1M253 274l1 2M262 270l-2 1M264 275l0 1M275 272l-2 0M278 276l1 0M292 273l0 1M302 272l1 0M313 275l-1 1M317 270l1 0M1 283l-2 0M10 281l-1 1M13 279l1 1M23 279l0 3M40 284l0 1M57 280l-1 0M65 279l0 2M78 278l-2 0M101 279l0 1M105 280l0 2M117 278l1 2M127 284l1 0M136 280l1 2M141 280l0 1M150 281l2 1M157 279l-1 1M166 281l0 1M185 280l0 2M191 283l-1 2M198 284l-1 2M214 280l2 1M219 282l2 1M225 281l-1 0M235 280l-1 1M244 282l1 1M250 282l1 2M254 284l1 1M265 281l-1 1M272 280l1 2M280 282l-1 1M294 281l1 0M306 284l-1 1M316 281l-1 2M320 277l0 1M1 290l-2 0M7 286l-1 0M17 286l-1 2M29 288l0 1M49 291l0 1M62 287l0 1M84 292l2 1M102 289l-1 0M115 286l1 1M121 289l-1 1M130 286l-1 2M134 288l-2 1M140 288l2 1M150 288l1 2M164 287l-1 0M172 288l-1 0M181 286l-2 1M188 290l0 1M194 284l1 2M202 289l0 1M210 290l-2 1M217 286l1 0M227 286l2 2M232 290l0 1M245 290l1 0M257 287l-1 1M269 291l-2 2M284 285l1 1M292 288l0 1M299 285l-2 1M312 291l-1 2M317 288l1 0M2 293l0 1M19 298l2 1M40 295l0 1M46 296l0 1M55 297l1 2M63 298l0 1M87 297l0 1M98 296l1 1M104 293l-2 1M117 296l1 1M126 298l-3 0M139 297l0 2M142 294l-2 0M155 299l-1 1M157 297l0 1M166 298l1 2M189 295l-1 1M197 298l-2 0M210 294l0 2M217 298l1 1M230 298l-2 1M233 296l1 2M243 293l1 1M253 297l1 2M258 297l-1 0M268 297l-1 2M274 293l1 0M278 297l1 1M286 293l-1 0M299 292l0 1M315 293l-1 1M3 306l1 2M4 299l0 3M34 300l-1 0M37 302l-1 0M46 305l1 1M55 307l-2 1M60 302l1 2M64 303l1 1M82 306l-2 0M96 302l2 0M112 305l0 1M129 307l-1 2M134 304l2 1M147 306l0 2M156 304l-1 1M168 306l-1 1M174 305l-1 1M193 306l0 0M199 302l0 2M206 303l0 1M217 300l-2 2M224 302l-1 2M228 304l-1 1M234 302l-1 0M241 305l0 2M252 301l0 2M261 303l-1 0M266 307l2 1M270 300l1 1M283 305l-1 0M289 303l0 2M304 301l0 1M310 304l0 1M315 307l1 1M6 308l2 1M13 310l1 0M26 308l1 0M34 312l0 1M43 310l-1 2M53 314l0 2M60 315l-2 1M66 314l1 2M78 311l-1 0M82 311l1 2M96 314l-2 1M102 312l0 1M107 314l0 2M115 310l0 1M123 315l0 1M132 311l1 2M134 309l2 1M142 310l2 2M161 309l-1 0M178 311l-1 2M179 313l2 1M187 310l0 1M195 312l-1 2M207 309l0 1M211 308l1 0M222 313l-1 0M227 310l0 1M239 312l-1 1M242 314l0 1M252 311l1 2M270 312l-1 1M292 313l2 0M306 308l2 1M317 314l1 1M2 319l0 2M21 316l2 1M27 319l2 0M47 320l2 1M54 322l-2 1M68 318l-2 1M74 318l1 0M89 322l-2 1M96 317l-2 2M106 319l1 2M116 315l0 2M123 316l0 1M128 318l0 1M145 319l0 2M174 318l1 0M190 321l0 1M195 320l0 1M215 320l2 0M230 319l-2 1M240 321l-1 0M261 322l1 0M268 319l1 2M271 318l-2 1M284 322l1 1M289 316l0 1M295 322l2 1M301 319l1 2M309 319l1 0M322 316l1 2" stroke="#c6c4a4" stroke-width="8.0" stroke-linecap="round" stroke-opacity="0.3" fill="none"/><path d="M95-1l1 1M200-4l1 2M293-3l0 1M284 8l-2 0M153 16l-1 1M179 13l-1 1M191 33l0 2M237 35l0 1M46 49l2 1M138 44l0 2M205 42l-1 2M27 54l1 2M159 53l1 1M4 62l-2 1M131 63l1 1M28 70l1 0M120 69l-1 0M198 64l1 1M321 71l2 0M167 85l-1 0M290 82l-1 0M66 90l-1 0M116 91l1 2M119 87l-1 1M242 94l2 1M221 99l0 1M19 107l1 1M62 108l1 1M83 109l0 1M216 106l2 1M257 108l0 1M59 113l0 2M164 114l1 1M27 124l2 2M36 123l-1 1M95 120l-1 1M297 120l0 2M79 127l1 1M277 125l0 1M64 134l1 2M6 152l-1 1M91 148l-2 0M177 148l-2 1M185 150l2 1M25 160l1 1M148 160l2 1M112 166l-1 1M118 172l2 2M184 173l0 1M205 173l-1 2M304 177l0 1M92 182l1 1M273 182l2 0M301 184l1 1M75 187l2 1M2 197l1 1M17 198l0 1M196 197l-2 1M297 194l-1 1M2 206l2 1M37 205l0 1M209 202l0 1M105 216l0 2M291 209l-1 1M28 222l0 2M88 218l1 1M166 219l-1 1M127 228l1 0M109 234l-1 0M312 233l-1 2M285 241l-1 1M237 250l0 2M299 252l1 1M17 255l2 0M94 261l0 1M104 260l0 1M210 254l-2 1M233 260l1 1M24 264l0 2M77 268l-1 1M166 264l2 0M234 268l-1 0M118 277l0 1M179 275l0 2M234 272l2 1M214 280l2 1M225 281l-1 0M250 282l1 2M102 289l-1 0M194 284l1 2M257 287l-1 1M126 298l-3 0M230 298l-2 1M268 297l-1 2M37 302l-1 0M129 307l-1 2M234 302l-1 0M241 305l0 2M289 303l0 2M227 310l0 1M270 312l-1 1M295 322l2 1" stroke="#625458" stroke-width="4.0" stroke-linecap="round" stroke-opacity="0.8" fill="none"/><path d="M291-4l1 1M42 5l1 0M164 9l-1 1M204 9l0 1M235 5l0 1M168 14l1 2M221 23l1 1M194 27l-2 1M211 31l-2 1M257 29l-2 0M8 36l1 1M27 39l0 1M44 38l-1 1M80 36l-1 0M106 38l2 1M183 38l-1 1M220 39l-1 0M286 39l1 0M322 39l0 2M8 49l0 1M26 44l-2 0M198 43l0 2M259 41l-2 2M272 47l0 2M281 48l-2 1M295 44l0 2M-3 55l0 1M92 55l-1 1M106 51l0 1M112 52l-2 0M132 56l1 2M202 52l0 1M42 63l-1 1M75 59l1 0M58 66l0 1M149 68l1 2M173 64l0 2M179 69l-1 0M222 65l1 1M224 66l1 1M262 70l1 0M197 75l0 2M301 80l-1 1M312 84l2 0M81 93l1 0M143 88l2 1M154 88l0 1M200 93l1 2M287 89l2 0M28 98l-1 0M35 100l2 1M64 102l2 1M140 100l0 2M205 100l1 1M304 96l0 1M312 98l-1 0M42 108l0 1M117 108l1 2M142 108l-2 0M153 105l-1 2M194 107l0 1M11 110l0 1M93 114l0 2M125 110l0 2M263 116l-1 1M154 118l-1 1M224 122l-2 0M231 120l0 1M242 124l0 2M313 121l0 1M29 126l1 1M33 126l2 1M93 130l-1 0M123 131l0 1M196 127l0 1M261 131l1 1M318 126l0 1M14 139l1 2M22 136l0 2M108 139l-1 1M209 134l0 3M67 143l1 0M84 141l1 1M267 143l2 2M279 141l1 0M295 143l-1 1M-4 154l0 1M18 153l1 0M76 154l0 2M212 149l2 1M227 152l2 0M8 157l0 2M115 160l-1 1M242 160l0 2M41 166l1 1M46 167l-2 0M134 166l1 2M323 170l0 1M61 176l-1 0M68 177l2 1M74 178l1 1M235 177l1 0M254 175l-1 1M105 179l1 2M117 178l-2 2M131 180l1 2M173 182l-1 1M122 191l1 1M168 186l2 1M304 191l-2 1M9 200l-2 1M55 200l1 0M164 197l-1 1M181 200l1 2M187 197l-1 1M270 198l2 0M146 201l-1 2M189 206l-1 2M234 208l-1 1M244 205l-1 1M315 208l-2 0M81 211l-1 1M167 212l0 1M251 209l-1 1M308 213l0 2M49 217l0 2M122 220l1 0M241 221l0 2M25 229l-2 1M38 229l-2 0M192 224l0 1M241 230l-1 1M268 231l1 1M277 229l2 2M26 233l0 1M93 231l-2 1M97 239l1 0M178 233l1 1M244 232l1 1M282 234l-1 1M54 244l-2 1M208 244l1 1M253 241l-3 1M263 246l1 1M321 246l-2 1M1 252l-1 1M110 247l-2 1M173 252l-2 1M226 251l-1 2M243 248l0 1M48 258l1 2M57 259l-1 0M131 259l-1 1M111 263l0 3M121 266l1 1M226 262l0 1M294 266l0 1M35 276l-1 1M70 269l1 2M125 276l-2 1M126 271l0 1M149 274l0 1M253 274l1 2M10 281l-1 1M13 279l1 1M101 279l0 1M117 278l1 2M185 280l0 2M198 284l-1 2M280 282l-1 1M130 286l-1 2M134 288l-2 1M150 288l1 2M269 291l-2 2M55 297l1 2M258 297l-1 0M3 306l1 2M168 306l-1 1M266 307l2 1M26 308l1 0M34 312l0 1M43 310l-1 2M53 314l0 2M78 311l-1 0M132 311l1 2M134 309l2 1M306 308l2 1M2 319l0 2M96 317l-2 2M106 319l1 2M268 319l1 2" stroke="#625458" stroke-width="5.0" stroke-linecap="round" stroke-opacity="0.8" fill="none"/><path d="M46 2l1 1M104-2l1 0M125 3l1 1M177 0l0 2M210-2l0 1M234 0l0 1M321-1l1 2M307 6l-1 0M102 13l1 1M244 15l-1 1M11 25l1 0M26 24l0 2M77 26l-2 0M7 33l1 0M133 27l1 2M51 35l-1 2M82 38l-1 1M146 40l-1 1M218 45l0 1M101 53l-1 1M216 55l0 1M231 55l-1 2M279 54l-1 1M111 61l-1 1M46 65l0 1M107 66l1 1M303 71l2 1M2 76l-1 2M228 79l0 1M303 78l0 3M100 84l2 0M283 81l-2 1M109 88l1 2M256 88l-1 2M97 97l-1 1M14 103l-1 2M18 113l-1 1M126 111l1 0M74 124l1 0M80 123l1 1M255 119l1 1M316 123l0 1M10 137l0 1M41 135l0 1M279 139l1 0M305 136l-1 1M315 137l2 2M121 142l0 1M189 144l-1 2M27 153l1 1M133 152l-1 0M33 160l-2 1M51 159l-1 1M271 160l-1 1M178 165l1 0M297 173l-2 0M148 183l0 1M86 192l2 1M89 192l-1 2M198 188l1 0M239 191l-1 1M248 188l1 1M320 189l1 1M79 199l-1 1M20 205l1 1M118 203l2 0M148 207l1 0M183 203l1 1M13 212l1 1M229 210l-2 0M127 222l1 2M278 224l-1 1M291 218l2 2M65 230l-2 0M304 230l1 0M179 236l0 2M254 238l1 2M296 234l-1 2M24 242l1 2M37 247l0 1M260 269l0 1M85 270l0 1M212 276l-1 0M105 280l0 2M265 281l-1 1M140 288l2 1M188 290l0 1M227 286l2 2M98 296l1 1M60 302l1 2M270 300l1 1M6 308l2 1M195 312l-1 2M292 313l2 0M123 316l0 1M174 318l1 0M230 319l-2 1" stroke="#6c5e5e" stroke-width="4.0" stroke-linecap="round" stroke-opacity="0.8" fill="none"/><path d="M65 3l-1 2M264-4l-2 1M271 0l-2 0M6 7l1 1M71 8l1 1M145 6l-1 1M150 10l-1 1M48 12l1 1M249 17l1 2M37 20l1 0M62 18l0 3M148 21l1 1M161 22l-1 1M172 23l2 0M181 23l-1 0M237 20l-1 0M24 28l-1 1M34 28l1 2M52 28l2 1M225 33l-1 0M231 31l-2 2M300 28l1 2M127 36l2 1M152 38l-1 0M196 41l1 1M35 45l2 1M53 42l1 1M120 43l-1 0M146 43l-1 0M160 43l-1 1M181 44l1 1M57 53l-1 1M194 54l2 0M3 62l2 1M123 57l0 2M148 61l1 2M159 63l2 0M209 57l1 2M255 59l0 1M272 57l2 1M18 71l-1 2M24 66l1 2M85 71l1 2M238 69l1 2M289 70l-1 2M313 69l2 0M5 75l-1 0M172 76l1 0M206 74l0 1M257 75l1 2M294 78l1 1M12 80l-1 0M46 81l-2 1M85 82l-2 2M143 82l2 1M235 87l1 0M240 85l0 2M249 83l2 0M129 91l1 0M178 92l-1 2M203 92l1 2M213 93l-2 1M230 93l2 0M322 94l1 1M19 95l0 2M48 101l-1 0M180 99l-2 0M236 96l0 2M259 98l-1 1M55 106l0 1M68 107l-1 0M92 104l0 1M95 106l1 2M193 109l2 1M214 108l1 1M247 107l-1 2M271 106l0 1M311 104l-2 1M323 104l0 1M29 112l-2 0M246 110l0 2M304 112l0 1M157 122l1 1M198 120l-1 1M267 118l0 2M47 125l-1 0M190 127l1 1M99 133l-1 1M175 139l-1 2M135 147l2 2M170 145l-1 2M254 148l0 1M260 143l2 1M307 140l-1 1M62 154l-1 1M217 154l-1 1M255 150l0 1M173 156l0 1M294 161l1 1M35 165l-1 0M70 170l0 1M73 164l1 1M131 170l0 1M280 165l-1 1M83 173l0 2M220 176l1 2M52 185l2 1M139 178l-1 2M185 180l-1 2M252 182l-2 1M24 193l0 1M97 187l1 1M172 192l1 0M223 187l2 0M300 187l-1 1M71 198l-1 1M88 200l-2 0M128 194l-2 1M149 197l1 1M230 194l-1 1M268 195l0 2M88 202l2 2M95 213l-1 2M269 211l-1 1M96 221l2 1M321 221l-2 0M111 225l-2 1M313 226l-2 1M126 232l0 1M42 245l0 1M81 246l-2 0M135 239l1 2M223 244l0 1M5 252l2 2M89 254l-2 1M213 251l1 2M301 251l-1 0M66 259l1 2M73 257l1 1M196 258l-2 0M250 258l1 1M266 255l1 1M305 260l1 0M70 265l0 1M81 262l-1 2M105 262l-1 0M149 262l0 2M194 266l0 2M217 267l-2 1M223 266l0 2M79 274l2 2M191 276l2 1M197 274l-1 2M244 275l-2 1M262 270l-2 1M264 275l0 1M1 283l-2 0M136 280l1 2M141 280l0 1M254 284l1 1M115 286l1 1M121 289l-1 1M202 289l0 1M217 286l1 0M312 291l-1 2M2 293l0 1M63 298l0 1M189 295l-1 1M210 294l0 2M286 293l-1 0M112 305l0 1M147 306l0 2M252 301l0 2M102 312l0 1M252 311l1 2M21 316l2 1M215 320l2 0M284 322l1 1" stroke="#6c5e5e" stroke-width="5.0" stroke-linecap="round" stroke-opacity="0.8" fill="none"/><path d="M0-1l2 1M14 3l-1 1M38-3l-1 2M147-4l-2 2M150 0l-2 2M182-3l-2 1M251 2l1 1M260 2l-2 2M100 6l-1 2M212 8l0 1M8 17l-1 0M94 11l-1 1M131 17l-2 1M163 17l0 2M202 19l2 1M308 16l0 2M43 25l2 2M254 23l0 1M281 20l1 2M303 22l1 1M79 26l0 2M122 29l-1 1M204 26l0 1M157 40l2 1M176 41l1 1M279 39l-1 1M224 45l2 2M68 56l3 0M87 50l-1 2M174 54l0 1M260 55l1 1M273 54l-1 1M292 55l-1 1M315 49l0 1M25 57l-2 1M32 61l0 1M46 62l0 2M88 59l0 2M138 62l-2 0M197 56l0 2M235 60l1 2M242 64l-1 1M301 59l2 1M169 71l-2 1M30 77l0 2M57 77l1 0M108 73l-1 0M135 76l-2 1M157 75l1 2M310 76l2 0M23 81l1 1M50 86l1 2M77 79l-1 2M155 85l0 1M196 86l-1 1M-1 88l2 0M12 89l-1 1M270 87l-1 2M10 94l-1 2M17 97l-1 0M54 96l0 2M108 99l0 3M129 102l-1 0M146 95l1 2M248 97l0 2M276 102l-1 0M283 101l1 2M317 98l-1 0M172 103l-1 1M239 108l-2 0M0 115l2 1M151 111l2 1M227 117l0 1M237 114l-1 1M297 111l1 2M102 125l0 0M145 122l-1 0M291 123l1 2M64 129l-1 0M160 128l-2 1M217 126l-2 1M293 132l0 2M300 126l1 1M1 134l1 1M66 133l0 1M118 139l1 1M128 137l2 1M201 135l-1 1M24 142l0 1M55 146l1 1M75 145l-1 1M114 141l1 2M277 144l-1 0M139 151l0 2M164 154l-2 0M66 160l-1 1M122 160l-2 1M139 157l2 1M184 157l-2 0M213 162l-2 1M220 158l-1 0M300 160l2 2M315 156l0 1M59 164l2 2M166 169l0 1M287 169l-1 2M4 171l2 0M39 176l0 1M173 175l-2 1M312 172l-1 2M320 174l-1 1M66 184l-1 0M81 181l0 1M188 181l2 0M236 179l0 1M285 179l-1 1M312 183l0 1M28 188l0 1M51 187l2 1M126 191l0 2M151 189l1 2M192 186l1 1M210 186l0 1M258 187l-2 1M112 195l1 2M173 197l-1 1M248 200l1 1M279 200l0 1M6 204l-1 1M170 205l0 1M32 212l0 1M75 213l0 1M136 211l-1 2M234 210l0 1M269 211l2 0M-4 218l1 2M6 218l2 0M80 223l1 1M153 216l0 3M235 221l-2 0M76 225l1 1M185 229l1 1M291 231l1 0M18 239l-1 0M47 236l1 1M111 234l-1 1M321 237l0 1M-2 242l-1 1M92 243l1 1M106 240l-1 0M64 252l1 0M79 253l1 1M119 249l2 1M135 253l2 0M289 250l1 2M314 252l1 0M4 260l-1 0M20 257l1 1M83 254l0 2M283 261l-1 0M11 263l1 1M36 262l0 1M48 264l1 0M65 264l-1 1M137 268l2 1M312 267l1 0M60 272l-1 0M88 274l1 0M313 275l-1 1M23 279l0 3M157 279l-1 1M244 282l1 1M292 288l0 1M317 288l1 0M46 296l0 1M87 297l0 1M274 293l1 0M278 297l1 1M315 293l-1 1M46 305l1 1M224 302l-1 2M228 304l-1 1M96 314l-2 1M123 315l0 1M161 309l-1 0M178 311l-1 2M187 310l0 1M222 313l-1 0M242 314l0 1M289 316l0 1" stroke="#5c5060" stroke-width="5.0" stroke-linecap="round" stroke-opacity="0.8" fill="none"/><path d="M50 1l1 1M192 11l-2 0M249 5l1 0M-3 12l2 1M69 14l2 0M94 24l1 1M227 20l1 1M300 21l0 1M284 34l-2 1M38 38l0 2M112 40l-3 0M276 36l-1 1M305 34l2 2M15 41l0 2M132 44l1 0M288 45l-1 2M249 52l1 1M323 52l-2 1M20 76l-1 1M180 73l-1 1M223 77l0 2M141 80l-2 0M319 80l1 1M57 87l-1 1M115 110l-1 2M157 111l2 1M-1 120l2 0M43 124l-1 2M164 122l1 2M13 127l0 1M165 132l1 1M178 127l-2 0M241 130l2 1M287 125l-1 2M217 136l-1 2M296 136l-1 0M153 146l-1 0M23 154l0 2M239 153l-1 2M318 153l-2 1M170 160l1 0M189 158l1 0M55 170l1 1M86 169l-1 0M156 170l1 0M232 167l-1 1M99 173l-1 2M130 171l1 0M145 178l-2 0M287 175l1 0M8 183l0 1M47 185l-1 2M197 183l-1 1M15 192l-1 1M67 187l0 1M204 192l0 1M269 186l1 2M41 198l-2 1M204 202l1 1M246 207l2 1M-3 211l-2 0M57 222l0 2M163 218l-2 0M216 217l-1 1M145 229l1 1M219 227l-1 0M240 225l-2 0M69 233l-1 1M163 234l0 2M170 235l0 1M194 235l1 0M288 236l-1 1M306 246l-2 0M313 245l0 1M54 253l-1 1M228 258l-2 1M287 261l-1 1M7 266l-1 0M158 267l1 2M246 266l0 2M272 268l1 1M302 272l1 0M317 270l1 0M235 280l-1 1M1 290l-2 0M62 287l0 1M40 295l0 1M299 292l0 1M55 307l-2 1M64 303l1 1M82 306l-2 0M261 303l-1 0M60 315l-2 1M107 314l0 2M179 313l2 1M47 320l2 1M128 318l0 1" stroke="#5c5060" stroke-width="4.0" stroke-linecap="round" stroke-opacity="0.8" fill="none"/><path d="M65 0l-2 0M205-1l1 1M224-2l0 1M245-4l0 2M21 5l2 0M30 7l-1 0M82 9l-1 0M118 7l-1 1M174 5l1 1M179 7l0 2M258 9l-1 0M33 12l1 1M38 11l-1 1M62 16l-2 1M124 15l-2 0M135 16l1 1M102 26l1 0M114 21l-2 1M189 19l1 1M207 24l0 2M315 25l2 0M13 28l-1 1M61 27l-2 1M110 28l2 2M146 32l-2 2M174 27l-1 2M242 32l1 2M320 30l0 2M90 38l2 1M249 36l-1 1M103 49l-1 1M171 44l1 1M265 43l-1 2M311 42l0 1M39 53l2 0M294 54l2 0M55 64l-1 0M57 60l1 1M66 61l-1 2M172 60l0 1M194 61l-1 2M251 60l1 1M279 61l0 1M290 61l-1 0M90 69l1 1M146 66l-1 1M297 66l0 2M70 75l-1 0M77 73l1 1M87 80l1 0M271 77l-2 0M93 82l-1 2M109 83l-1 0M206 84l-2 0M33 90l2 0M89 90l0 1M162 89l1 2M186 90l0 1M0 95l1 1M78 96l-1 1M93 100l1 0M158 101l0 1M245 100l1 1M269 96l1 1M1 104l-1 2M11 103l-2 2M43 115l0 1M52 111l0 2M281 116l-1 1M287 110l1 2M108 122l1 1M190 121l1 1M8 131l-2 1M58 131l-2 1M71 132l0 1M86 126l-2 1M116 132l-1 0M130 127l-1 0M179 132l0 1M208 128l0 0M238 126l-2 0M74 138l0 2M90 139l0 1M162 145l0 1M245 147l-1 1M310 144l-1 1M115 150l2 2M147 156l0 1M157 157l-1 2M236 158l0 2M20 164l-1 0M124 166l1 1M146 170l0 1M202 170l1 1M217 169l-2 1M242 169l0 1M271 168l1 1M0 171l-1 1M22 174l-1 2M29 175l-1 1M151 177l1 0M245 176l1 1M275 175l-2 1M278 171l1 2M63 183l-1 1M244 178l1 1M300 185l0 1M4 192l-1 0M6 189l-1 0M105 192l0 1M118 188l0 1M146 193l1 0M179 190l1 1M241 186l-2 1M20 197l1 1M257 194l1 0M18 200l1 2M68 204l-2 1M80 201l-1 2M113 205l0 1M226 201l0 1M307 206l-1 0M48 214l-2 0M51 210l1 1M101 209l-1 2M122 211l-1 0M155 214l-2 1M194 208l0 2M203 215l2 1M217 212l1 2M306 213l-2 0M21 221l-1 1M117 217l-1 1M141 223l-2 0M257 217l1 1M264 223l0 1M273 217l0 2M71 230l0 1M134 229l2 2M157 230l-1 0M172 228l1 1M249 231l2 1M-4 233l1 0M155 238l-1 2M28 242l0 1M41 246l-1 1M130 246l1 1M167 239l1 2M176 239l1 1M188 242l0 1M212 245l-1 1M56 249l1 0M85 249l2 0M98 252l1 2M167 254l-1 0M124 260l0 1M205 254l-1 1M181 264l-1 1M253 265l-1 1M321 264l-2 1M50 269l1 1M96 276l-1 1M144 276l-1 1M159 274l1 0M65 279l0 2M78 278l-2 0M272 280l1 2M306 284l-1 1M320 277l0 1M7 286l-1 0M49 291l0 1M164 287l-1 0M284 285l1 1M299 285l-2 1M19 298l2 1M117 296l1 1M166 298l1 2M197 298l-2 0M233 296l1 2M243 293l1 1M34 300l-1 0M174 305l-1 1M304 301l0 1M310 304l0 1M315 307l1 1M207 309l0 1M211 308l1 0M68 318l-2 1M74 318l1 0M89 322l-2 1M195 320l0 1M261 322l1 0M309 319l1 0M322 316l1 2" stroke="#6a5c58" stroke-width="5.0" stroke-linecap="round" stroke-opacity="0.8" fill="none"/><path d="M86-2l1 2M62 5l2 0M77 11l-2 1M88 9l1 0M231 6l1 1M265 6l-1 0M298 8l-1 0M87 17l0 1M102 17l0 2M180 17l-1 1M102 22l1 1M120 19l-1 0M3 26l1 2M168 29l-2 0M254 26l1 1M100 41l-1 1M261 40l1 1M310 36l-2 1M9 51l1 2M170 54l2 1M239 57l-3 1M270 56l-2 1M319 59l0 1M7 67l-1 0M64 85l2 1M18 94l-2 0M234 88l-1 0M155 99l1 2M186 98l2 1M47 105l2 1M285 106l0 1M295 103l0 2M136 113l1 2M312 112l0 1M133 123l1 1M187 120l-2 1M-1 127l-1 2M314 131l1 2M114 135l2 0M240 137l1 2M268 134l1 1M13 147l0 1M96 147l1 0M214 145l-1 1M292 144l0 1M123 152l-1 0M170 154l2 1M273 151l0 2M14 160l2 1M247 162l2 1M162 178l-2 0M267 173l0 2M227 185l1 1M107 199l-1 2M147 200l0 1M288 197l-2 0M109 202l0 2M259 208l-2 1M276 208l1 0M12 216l-1 0M70 222l1 1M75 223l2 0M178 223l-1 1M190 216l0 1M293 222l0 1M85 231l-1 1M98 227l2 1M210 230l0 1M300 226l-1 1M316 227l1 1M28 232l-1 2M306 238l2 0M97 246l-1 0M141 245l2 0M45 250l-1 1M141 249l1 0M117 259l-1 2M258 259l2 1M29 264l0 1M95 265l-1 1M128 265l-2 1M190 263l1 0M205 265l-1 2M292 273l0 1M57 280l-1 0M29 288l0 1M172 288l-1 0M181 286l-2 1M210 290l-2 1M245 290l1 0M104 293l-2 1M142 294l-2 0M157 297l0 1M253 297l1 2M199 302l0 2M54 322l-2 1M145 319l0 2M190 321l0 1" stroke="#6a5c58" stroke-width="4.0" stroke-linecap="round" stroke-opacity="0.8" fill="none"/><path d="M23 0l0 1M31-1l-1 1M77 2l2 1M95-1l0 1M128 3l2 0M138 3l1 0M167 2l1 1M224 1l1 2M109 8l0 1M160 11l1 0M195 6l-1 0M219 10l-2 0M291 6l0 1M318 7l0 1M12 15l1 2M51 13l1 1M117 16l0 1M218 14l-1 0M255 17l-1 0M297 15l-2 0M-3 25l0 1M9 20l2 1M71 21l-2 1M135 20l1 0M215 25l0 1M243 21l-1 2M272 24l-1 1M290 25l0 1M90 27l-2 2M101 33l-1 1M59 38l-2 1M120 39l1 2M137 41l1 0M241 38l0 1M269 36l0 2M91 46l0 2M100 44l-2 1M164 42l1 0M213 43l2 1M27 50l-1 1M59 56l-1 0M244 50l-1 0M164 60l1 1M183 61l1 1M35 65l-1 0M80 68l-2 1M135 64l0 2M209 65l-1 1M253 66l1 2M54 78l1 1M121 78l-1 1M148 79l-2 0M236 73l-2 1M279 73l0 1M70 82l1 0M115 80l-1 1M124 82l-1 1M182 83l-1 1M228 86l-1 1M134 88l0 1M269 91l-2 0M300 93l1 0M167 95l1 2M287 100l0 2M33 108l-1 2M136 104l0 1M161 108l0 1M165 104l1 2M307 109l-1 1M19 114l1 0M79 117l1 2M102 111l2 2M104 116l-1 2M181 116l-1 2M202 117l0 1M215 112l-1 2M9 119l1 1M53 117l1 2M209 119l-1 2M303 122l2 0M134 125l1 2M151 129l1 1M30 139l0 1M151 134l-2 2M236 135l0 1M253 137l2 2M171 147l0 2M229 147l-2 0M238 146l-1 1M318 141l-1 0M83 148l0 2M96 150l2 1M141 150l-2 0M149 152l0 1M198 153l1 1M242 150l-2 2M288 153l-1 0M305 153l2 1M58 161l1 2M77 159l2 1M91 161l0 2M106 161l-2 1M231 155l0 3M257 161l2 1M285 160l-1 0M320 159l0 1M95 165l-2 0M153 168l2 1M185 167l0 1M196 168l1 2M249 168l2 1M53 178l-1 1M113 176l-2 1M29 184l-2 1M166 180l-2 1M203 181l-1 2M287 184l-2 1M316 178l0 2M49 188l0 2M61 193l-2 2M134 189l-1 0M270 192l2 2M91 198l-1 1M239 199l-1 2M62 202l0 3M137 205l-2 0M222 203l-1 1M36 209l-1 2M62 211l-2 1M142 212l0 1M162 212l2 2M176 213l1 2M190 210l0 2M256 211l0 2M35 224l-1 0M43 217l-1 0M199 219l0 2M226 218l1 2M14 226l2 1M227 228l0 1M8 233l0 1M216 234l2 0M266 239l-2 0M18 241l1 0M181 240l-1 2M194 243l0 1M240 247l1 1M274 240l0 1M23 250l-1 1M154 251l0 2M158 254l-1 0M189 248l-1 0M267 250l0 1M61 259l0 1M133 256l1 2M153 260l1 0M166 258l1 2M191 255l2 1M271 260l0 1M321 260l-2 1M147 267l1 0M262 268l2 1M4 271l1 0M12 274l-1 1M27 270l2 0M176 270l-1 0M275 272l-2 0M278 276l1 0M127 284l1 0M150 281l2 1M191 283l-1 2M219 282l2 1M294 281l1 0M316 281l-1 2M17 286l-1 2M84 292l2 1M232 290l0 1M139 297l0 2M4 299l0 3M96 302l2 0M134 304l2 1M156 304l-1 1M193 306l0 0M283 305l-1 0M13 310l1 0M66 314l1 2M82 311l1 2M142 310l2 2M239 312l-1 1M317 314l1 1M27 319l2 0M116 315l0 2M271 318l-2 1M301 319l1 2" stroke="#665860" stroke-width="5.0" stroke-linecap="round" stroke-opacity="0.8" fill="none"/><path d="M116 0l-1 0M158 3l0 0M18 5l1 2M36 11l-2 1M313 4l0 1M216 17l1 1M226 14l2 1M284 15l-2 0M306 12l2 1M143 24l1 1M201 24l1 0M47 34l1 0M84 31l1 2M311 33l1 1M-2 40l1 0M1 46l-1 0M71 47l0 2M73 45l0 1M114 42l0 2M188 49l-1 0M237 48l-2 2M245 49l-1 1M308 46l-1 2M135 56l1 1M156 52l-1 1M181 53l-2 1M218 53l1 0M16 58l1 1M97 61l1 0M230 64l-1 1M266 64l-1 0M309 57l1 2M-4 71l2 0M55 70l0 0M69 68l0 2M131 66l2 1M47 74l-2 1M132 78l-2 1M270 76l0 2M41 82l-1 0M217 82l2 2M267 87l0 1M77 88l0 1M164 92l1 0M248 94l2 0M81 97l-1 1M74 106l0 2M204 108l-1 1M252 108l-2 1M266 109l-1 1M65 117l1 0M75 111l2 0M178 117l1 0M253 112l-1 1M107 130l-2 2M84 137l1 1M165 135l0 2M224 134l1 2M32 140l-1 1M42 142l1 2M61 147l2 1M196 143l1 1M104 154l-1 1M187 150l-1 1M195 156l0 1M301 170l2 1M214 176l0 1M257 173l0 1M2 182l0 2M23 186l-2 0M162 188l0 1M31 200l1 2M301 197l1 1M100 209l1 1M299 203l-2 1M67 215l1 2M178 212l1 1M181 223l-1 1M248 220l0 2M48 229l-2 0M78 235l2 0M120 238l-2 0M259 234l0 1M113 245l1 1M160 243l2 2M227 243l1 1M233 243l0 1M30 250l2 0M158 257l-2 0M50 264l1 1M48 277l-2 0M40 284l0 1M166 281l0 1M155 299l-1 1M217 298l1 1M206 303l0 1M217 300l-2 2M115 310l0 1M240 321l-1 0" stroke="#665860" stroke-width="4.0" stroke-linecap="round" stroke-opacity="0.8" fill="none"/></g></g><g clip-path="url(#c2)"><g filter="url(#bl)" transform="translate(429.6,807) scale(0.5)" fill="none" stroke-linecap="round" stroke-linejoin="round" stroke-opacity="0.75" stroke-width="1.5"><path d="M251 260l-4 4l-8 6l-6 2M7 154l-3 7l2 7l0 9M210 193l5 2l6 6l4 3M62 201l-2 6l-4 5M295 287l-6-7l-6-7l-3-5l-4-6M38 158l-7-4l-6-1M153 44l1 6l6 6l5 7l3 6M167 91l-7-3l-5-5l0-6M310 282l-5-8l-1-8l-1-8M130 27l-1-9l3-4l4-5M254 59l-5-4l-8-5l-5-4M150 151l5 6l5 5l9 3M196 219l0 7l-4 9l0 5l0 5M10 244l9 5l7 4l2 5l4 4M255 253l-5-1l-6 1M198 192l3 8l7 3l4 4l8 0M195 292l-1 9l-5 5l-8 5l-4 9M288 139l2-7l4-8l0-7M114 11l-9 3l-9 4l-2 5M259 202l-5-4l-10 1M234 237l3 5l1 6l0 7M157 24l2 6l0 6l-3 7l-7 5M299 220l-2-5l-4-5M181 249l-6-7l-3-4M268 168l7-5l7-1M211 307l5 2l7-2l4-7l5-7M189 19l4 6l-1 6l0 9M274 53l1-8l-3-8M10 266l6 1l6 1l7 6M249 68l-7-5l-2-10l3-6M164 185l-4-4l-1-5l5-8M138 263l6-3l7-3M84 214l-7-1l-9 4M122 188l-6-8l-6-3l-9 2l-4 4M34 293l7-4l8-6M168 219l-1-8l-2-9l-3-9M3 132l-2 9l0 5l2 5M197 243l4-6l8-5M47 293l5 5l9 5l4 7l-1 8M253 21l5 7l-2 9M160 247l-5-8l-1-6M107 308l-1-6l1-9M234 145l10 1l6-2l4-5l1-5M238 19l1-7l-3-6l-1-7M198 32l0-9l-2-9l1-9M300 281l7 6l1 6l0 6M152 126l-4 8l-2 6l-3 6l-5 8M143 310l-1-6l5-8M167 258l-5 1l-4 5l-2 5M18 230l-6-6l-3-5l0-7M59 58l8-5l5-2M232 307l7-1l8-5l2-8l2-7M165 202l-5 2l-7 0l-10-2M19 159l-2-8l-6-4l-8 1l-5 2M226 109l-9 0l-6-2l-8-3l-4-5M5 16l-8 4l-9 2l-5-2M251 43l6 2l7 6l1 6M271 251l-2-7l-2-7l4-6M254 168l3 7l4 8M87 265l8-2l6-3l5-2l10 0M115 158l1 7l-1 7l-5 5M187 96l-7-1l-7-2l-10-2M254 23l-3 9l-4 6l-6 6M263 309l-4-5l-7-3l-8-2M9 258l0 9l-1 10l-4 5l-6 3M299 196l-8 4l-2 7M65 245l5-6l6-8l3-5M316 35l4 5l7 3M48 219l3-5l7-4l5-3l7 2M291 213l0-10l2-8M38 192l5-3l7-3l6-5l6-6M244 3l-3 5l1 6l3 9l1 9M176 172l-6-7l-4-7l-5-3M192 199l2-7l-3-6l-5-4M137 239l-5-5l-6-4l-4-8M192 206l-2 7l-2 5M21 169l-7-4l-9 2M178 155l6 1l5 8l7 5M41 200l6 4l8 0l4-5l6 0M136 284l-2-9l0-7l3-8M17 59l-10 0l-6 2l-7 1l-6 1M23 182l-9 2l-4 6M128 164l0 7l-2 7l-3 7l0 9M30 295l-6 5l-6 5l-6 0l-5-1M60 157l5 1l9 3M11 2l10-3l5 3l5 2l8 3M306 111l7-7l4-9l5-7M37 254l-6 2l-8 2l-8-3l-6-3M245 244l-7-2l-4-6l-4-3M131 256l8 5l4 8l1 5M291 50l7-1l4-3l1-6l4-4M240 186l0-7l2-5M8 115l1-10l2-7l-3-7M290 249l-9 0l-7-4l-8-6l-2-8M95 47l4 3l2 6M36 228l1 9l-2 5l0 6M184 37l-2 7l0 6l6 6l2 6M139 258l6 0l6-3l9-3M311 243l4-4l6-5M296 121l6 2l9-2" stroke="#5a5ec6"/><path d="M306 120l-6-2l-9 3l-8-1l-5 2M152 184l-2 9l-5 7l-5 1l-5-1M299 3l-5 5l-2 7l-1 7l-5 3M147 0l-1-6l0-7M79 311l-4-7l-3-9l0-6l-5-6M275 200l-2 9l-5 8M81 286l3-7l8-5l3-4l3-4M166 38l3 4l3 6l5 7M284 8l8-4l8-2M201 128l1-6l1-7M175 297l-5 3l-7 6l-10-1M51 292l-7 7l0 9M221 210l-5-1l-8 4M58 75l-6-1l-3-4l-8-2M269 216l3 6l6 6l3 7M77 27l7-7l5-3l6 1M250 172l1-6l4-4l2-5M74 286l0-7l1-6M71 158l2 6l4 9l7 4M177 112l-2 5l0 8M304 161l-7 5l-5 7l-10 3l-6-2M269 38l-2-8l-4-7l2-8l6-7M89 16l-5 7l1 8M300 254l-9 3l-6 5l-9 3l-6 1M72 7l5-4l6-6M54 206l-4-4l-9-3M187 293l9 2l8 1M176 155l2 10l-2 9M159 64l0 6l-5 7l-2 5l-4 5M243 39l-8-3l-6-1l-6-1M301 6l5-5l0-5l6-5M184 153l-5-2l-7 3l-7 0l-7-6M179 278l6 1l8 4M207 250l9 2l5 2l5-2M241 49l5 6l1 7l0 9M46 111l0 6l-6 8l0 6l-3 6M66 214l-9-3l-7 1M1 111l3 4l6 3l9 4l6 0M179 137l7 3l3 8M56 167l-1 5l3 9l-4 7l0 10M23 147l3-5l7-3l5-4M215 101l-2 5l-6 4M72 76l2-7l-2-8M182 298l5 1l7 1M222 22l6 5l6 7M283 32l-1-6l-3-4M215 268l2 10l5 4l9 2M144 277l-5 0l-5-3M139 63l-9 1l-6 2l-8 1M59 265l2 10l-1 7l2 6l4 3M81 71l10-2l9 3l6 5M298 7l0-8l0-7l-3-5l-4-5M225 177l-6 7l1 9l6 5l4 9M31 194l-3 8l0 8l-3 6M179 214l4 4l7 5l7 5l7 3M168 14l4 8l0 9M291 288l-1-7l-3-9M126 278l-5 8l-8 3M38 215l6-4l6-7M248 65l8-4l4-8l2-10M107 86l-7 4l-6 0l-5-3M300 146l8-1l6-1l7-1M139 157l7 1l8-4l8 0l8 4M96 262l-9-3l-7-5l-7-2M178 29l0 7l1 8l6 6l5 3M309 106l-7 1l-5 2l-7 6M257 304l-5-1l-6 0M140 19l9-3l3-4M166 59l7 2l5 8M177 69l-8 4l-5 5M156 281l2 5l8 4M108 2l6 2l9 2l10-1l5 2M78 210l5 3l2 5M19 5l-1-5l1-7M76 6l4-4l5-4M14 45l-9 3l-6 0l-6-1l-5 3M242 68l6 1l7 1M38 43l-6-6l-8-6l-4-7M264 302l-6 6l-1 6l-3 9l-4 8M298 203l6 1l6 1l8 3l7-1M284 3l3 8l1 5l6 6M293 38l5 6l-1 6l0 8M97 7l-1 9l0 8l1 8M297 115l3-5l0-5l-2-6l0-6M194 186l4-4l5-3l7-4l8-4M234 12l6-1l5-6l7-4M141 309l6 8l4 8M86 195l-5-3l-6-6l-7 0M216 299l5 4l5 4l7 7M130 26l7 5l6 3M216 178l4 9l0 6M102 230l7 4l7 0M145 175l4-4l3-5M173 79l5-7l5-3l7-2l8-3M122 199l3 7l7 6M103 153l-7-1l-10 0l-6 1l-8-2M41 271l-2 10l-5 9l0 6l1 8M120 1l1 9l-5 8l-4 4M68 212l6-1l9-3M306 141l8-2l10-1" stroke="#6a6ecc"/><path d="M74 82l-6 1l-5 1l-5-1M246 9l-8 4l-4 7l1 7l6 6M167 132l-1 8l3 9l3 6l3 4M296 112l7-6l6-3l2-5l-1-10M315 227l1-6l-4-6M184 183l-6 0l-6 3M215 71l6-7l1-6l1-6M24 67l6-3l6 2l8 2M193 270l-5-8l-5-9M217 237l1-5l-3-8l-1-6l-5-8M220 71l6-3l4-8M65 43l6 6l4 4M92 169l7-1l9 0l5 0M5 117l-7-2l-6-8l-4-5M253 154l-5-5l-1-7l2-9l-5-8M153 200l-7-2l-4-3M71 210l-8 4l-8 4M11 84l-5 4l-6 2l-4 6l-8 4M67 295l4 8l5 8l5 8M100 221l-4 4l-3 6M39 181l1-9l3-7l4-3l2-6M115 160l-6 6l-3 8M7 285l-1-9l1-9l-5-8M165 149l-7-2l-8-3l-7 0l-7 1M173 225l7-4l8-1l7 0l6 4M104 177l8-1l9 0l9 2l6-3M113 209l5-2l9 1l8 0M200 288l5-7l6-2M217 262l9 2l5 8M100 94l8 3l8 0M193 188l5 5l4 3l2 9M171 140l3 7l-2 9M295 272l2-6l1-6l4-6M30 92l-1 7l1 7l5 5l8 1M234 300l1-5l4-7l2-7M224 150l3 5l2 5M288 51l-6 0l-9-2M13 221l-6 4l-6 4M256 62l6-5l7 1l7 6M139 261l-10-1l-9-2l-6-5M115 44l-6 4l-7 0M266 150l7 2l5 2M183 241l2-9l-1-6l-7-7l-1-9M25 3l4-3l2-5M131 182l-6 0l-6-4l-5-2M239 173l4 3l1 9M103 294l3 7l1 8l-5 7M35 8l6-1l6 2l8-2M8 79l-5 3l-2 5l-3 8l-5 7M142 155l-1 8l0 6l-4 4l-7 3M261 99l8 3l2 5M161 11l-4 6l1 5l1 9l-5 7M308 115l-7 2l-5 2M189 30l0-7l-4-4l0-6M188 118l5-1l7 5M223 156l8 5l3 7M72 92l5 7l2 6M170 27l8 5l5 3M290 212l-7 1l-7 5l-9 1l-7 7M305 35l3-4l5-2l7-2M0 9l3-8l6-3l3-6l3-5M135 141l-8 4l-6 0l-8 2M97 44l-5-3l-5-7l-5-4M127 29l3 10l-3 6l0 6l-6 8M141 211l-4 6l-2 5l-3 5M308 16l0-5l1-5M118 172l-8 4l-7 4l-7 5l-4 4M127 174l-2 7l1 10M296 77l5-8l4-3l6-3l6 2M116 177l-6-3l-7 2l-7-3M39 226l7 0l6 2M294 153l10-1l8 0l6 0l8 2M272 37l-5 7l1 9M118 264l5 5l2 6l-4 9l0 8M87 136l6 3l2 6l9 5M211 195l6-5l5 0l8 3M210 165l3 8l3 5M61 59l-5 2l-7 5l-5 5M59 228l1-7l4-7l3-8M287 149l-8 2l-4 7l-8 4M63 81l-4-6l-1-7l0-8M277 294l5 6l7 5l8 4M224 8l-1 8l-4 6l2 7M112 295l5 1l7-1M3 7l8 5l5 2l9-2l9 3M204 11l-8-4l-6 1l-6 0M131 257l9 1l9-2l6 1M153 23l1-8l5-5l7-4M253 255l8 4l4 5l5 5l0 5M221 62l-2-5l2-9l2-7l0-6M49 6l6 1l5 5M179 68l4-4l3-6l4-5l4-8M294 194l-8 1l-6 0l-7-6l-9-3M10 270l-2-9l-4-8l-2-7M306 15l-8-2l-3-4l-3-6M214 42l-7 6l-6 0M103 279l3-4l6-6M76 140l5-3l8-5M278 287l-8-6l-6-3l-3-9M247 45l-5 4l-4 3l-6 7" stroke="#4c50c0"/></g></g><line x1="387.4" y1="957.8" x2="421.9" y2="957.8" stroke="#d8302a" stroke-width="0.9"/><text x="404.6" y="962.6" text-anchor="middle" font-size="3.8" fill="#c82a26">100 μm</text><line x1="551.0" y1="957.8" x2="585.5" y2="957.8" stroke="#d8302a" stroke-width="0.9"/><text x="568.2" y="962.6" text-anchor="middle" font-size="3.8" fill="#c82a26">100 μm</text><path d="M630.5 807V916.3H682.4" fill="none" stroke="#111" stroke-width="0.9"/><line x1="628.3" y1="916.3" x2="630.5" y2="916.3" stroke="#111" stroke-width="0.9"/><text x="627.2" y="919.0" text-anchor="end" font-size="7.8" fill="#111">0.0</text><line x1="628.3" y1="880.0" x2="630.5" y2="880.0" stroke="#111" stroke-width="0.9"/><text x="627.2" y="882.7" text-anchor="end" font-size="7.8" fill="#111">0.5</text><line x1="628.3" y1="843.7" x2="630.5" y2="843.7" stroke="#111" stroke-width="0.9"/><text x="627.2" y="846.4" text-anchor="end" font-size="7.8" fill="#111">1.0</text><line x1="628.3" y1="807.4" x2="630.5" y2="807.4" stroke="#111" stroke-width="0.9"/><text x="627.2" y="810.1" text-anchor="end" font-size="7.8" fill="#111">1.5</text><line x1="645.3" y1="916.3" x2="645.3" y2="918.6" stroke="#111" stroke-width="0.9"/><line x1="667.4" y1="916.3" x2="667.4" y2="918.6" stroke="#111" stroke-width="0.9"/><text transform="translate(609.9,861.5) rotate(-90)" text-anchor="middle" font-size="8.1" fill="#111">Fluorescence semi quantitative</text><text x="656.4" y="805.9" text-anchor="middle" font-size="8.4" fill="#111">CIITA</text><text x="656.4" y="814.2" text-anchor="middle" font-size="8.6" fill="#111">***</text><text x="656.4" y="816.9" text-anchor="middle" font-size="5.6" fill="#111">p&lt;0.001</text><path d="M645.1 822.3V818.4H667.8V822.3" fill="none" stroke="#111" stroke-width="0.6"/><rect x="638.3" y="844.4" width="14.4" height="71.9" fill="#f4a3a6" stroke="#e2474f" stroke-width="0.9"/><rect x="660.1" y="892.3" width="14.6" height="24.0" fill="#aef0a6" stroke="#4ad84a" stroke-width="0.9"/><path d="M645.3 827.4V859.4M642.3 827.4h6M642.3 859.4h6" stroke="#e2474f" stroke-width="0.8" fill="none"/><path d="M667.4 880.8V903.4M664.4 880.8h6M664.4 903.4h6" stroke="#3fcf3f" stroke-width="0.8" fill="none"/><path d="M641.3 824.4h3.8l-1.9 3.3zM646.4 827.3h3.8l-1.9 3.3zM643.2 842.4h3.8l-1.9 3.3zM643.2 854.3h3.8l-1.9 3.3zM643.2 860.3h3.8l-1.9 3.3z" fill="#000"/><path d="M667.4 877.9h0M665 889.3h0M670.1 887.4h0M667.4 898.1h0M667.4 908.2h0" stroke="#000" stroke-width="2.8" stroke-linecap="round"/><text transform="translate(647.4,923.4) rotate(-45)" text-anchor="end" font-size="8.3" fill="#111">Adjacent normal</text><text transform="translate(669.4,923.4) rotate(-45)" text-anchor="end" font-size="8.3" fill="#111">Tumor</text></svg></body></html>
